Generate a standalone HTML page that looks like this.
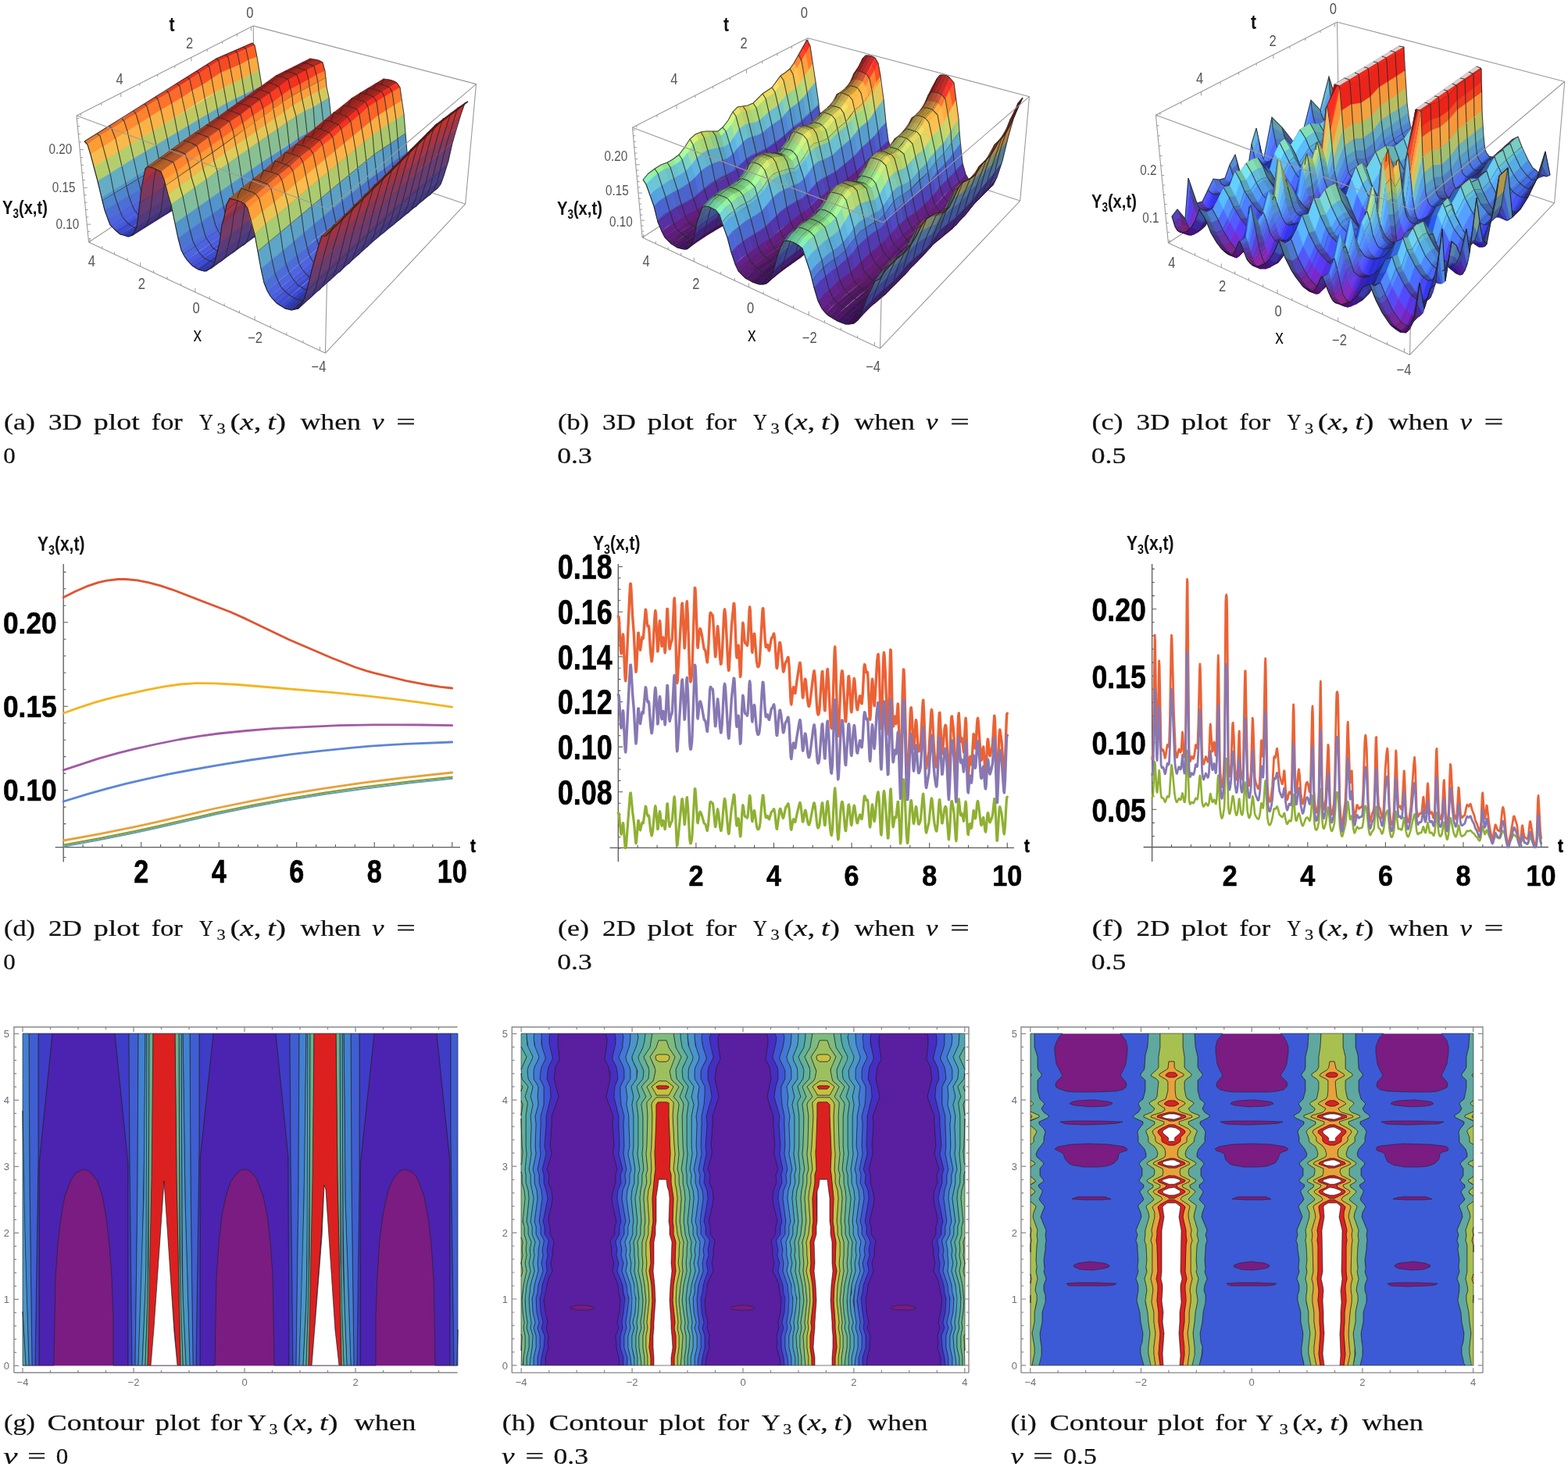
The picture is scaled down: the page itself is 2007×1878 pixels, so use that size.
<!DOCTYPE html>
<html><head><meta charset="utf-8"><title>Figure</title>
<style>html,body{margin:0;padding:0;background:#fff;} svg{display:block;}</style></head>
<body><svg xmlns="http://www.w3.org/2000/svg" width="2007" height="1878" viewBox="0 0 2007 1878">
<rect width="2007" height="1878" fill="#fff"/>
<rect x="29.0" y="1323.4" width="556.6" height="425.0" fill="#7a1c82"/>
<path d="M50,1748l19,0 1-58 1-54 3-43 4-34 5-28 7-18 3-6 4-5 5-3 5-2 6,2 4,3 4,5 4,6 6,18 5,28 4,34 3,43 2,54 0,58 19,0 0-258-17-167-80,0-17,167 0,258zM256,1748l19,0 1-58 1-54 3-43 4-37 5-24 6-19 5-7 4-5 4-3 6-1 4,1 5,4 5,6 2,5 7,19 5,24 4,34 3,43 1,54 1,61 19,0-1-266-16-159-80,0-17,161 0,264zM461,1748l20,0 0-61 2-54 3-45 4-32 5-24 3-11 4-9 3-5 4-5 5-4 5-1 5,2 4,2 5,5 3,7 7,19 5,27 4,34 3,43 1,51 1,61 19,0 0-261-17-164-80,0-18,170 0,255z" fill="#4c22b0" stroke="#222" stroke-opacity="0.75" stroke-width="0.9"/>
<path d="M46,1748l4,0 0-258 17-167-18,0 0,158-4,267zM166,1748l3,0-3-263-1-162-18,0 17,167 0,258zM252,1748l4,0 0-2 0-262 17-161-18,0 0,142-4,283zM371,1748l4,0-3-270-1-155-18,0 16,159 1,266zM457,1748l4,0 0-255 18-170-19,0 0,185-3,240zM577,1748l4,0-4-293 0-132-18,0 17,164 0,261z" fill="#3f3cc8" stroke="#222" stroke-opacity="0.75" stroke-width="0.9"/>
<path d="M42,1748l3,0 4-267 0-158-12,0 1,196 3,229zM170,1748l3,0 3-229 1-196-12,0 1,162 3,263zM248,1748l3,0 4-283 0-142-12,0 1,196 3,229zM375,1748l4,0 3-227 1-198-12,0 1,155 3,270zM453,1748l4,0 3-240 0-185-11,0 1,196 3,229zM581,1748l4,0 1-46 0-379-9,0 0,132 4,293z" fill="#3f5ed2" stroke="#222" stroke-opacity="0.75" stroke-width="0.9"/>
<path d="M37,1748l4,0-3-229-1-196-8,0 0,99 1,102 3,101 4,123zM174,1748l3,0 5-139 3-147 1-139-9,0-1,196-3,229zM244,1748l3,0-3-229-1-196-9,0 3,214 6,211zM379,1748l4,0 4-112 3-147 2-166-9,0-1,198-3,227zM449,1748l4,0-3-229-1-196-9,0 1,97 1,115 7,213zM586,1748l0-46-1,46z" fill="#4280d2" stroke="#222" stroke-opacity="0.75" stroke-width="0.9"/>
<path d="M33,1748l4,0-5-168-3-158 0,257 4,69zM178,1748l4,0 3-70 2-47 1-118 0-190-2,0-1,96-1,113-7,216zM240,1748l3,0-6-211-3-214-2,0 1,241 1,95 4,89zM383,1748l5,0 4-82 2-126 0-217-2,0-3,217-6,208zM445,1748l4,0-7-213-1-115-1-97-2,0 1,241 2,109 3,75z" fill="#4896c8" stroke="#222" stroke-opacity="0.75" stroke-width="0.9"/>
<path d="M30,1748l3,0-4-69 0,69zM182,1748l4,0 3-88 1-125 1-212-3,0-1,297-2,58-3,70zM234,1746l0,2 4,0-4-89-1-39-1-297-3,0 1,212 1,131 3,80zM389,1748l3,0 3-90 1-123 1-212-3,0-1,294-1,50-4,81zM441,1748l3,0-3-75-2-58-1-292-3,0 1,220 1,125 3,80z" fill="#50a5af" stroke="#222" stroke-opacity="0.75" stroke-width="0.9"/>
<path d="M187,1748l2,0 2-50 4-206 1-169-5,0-1,297-2,75-2,53zM231,1748l3,0-2-58-2-78-1-289-5,0 0,6 2,182 5,237zM393,1748l2,0 2-56 4-200 1-169-5,0-1,286-2,81-2,58zM438,1748l2,0-2-56-2-78-1-291-5,0 0,3 2,182 5,240z" fill="#64b291" stroke="#222" stroke-opacity="0.75" stroke-width="0.9"/>
<path d="M191,1748l2,0 4-40 13-196 4,71 10,128 3,37 4,0-5-240-2-185-28,0-2,185-5,240zM396,1748l3,0 3-37 9-126 4-68 2,6 4,68 9,125 4,32 3,0-5-240-2-185-28,0-2,185-5,240z" fill="#dc2020" stroke="#222" stroke-opacity="0.75" stroke-width="0.9"/>
<path d="M194,1748l33,0-4-42-7-105-6-89-13,188-4,48zM399,1748l35,0-5-45-12-180-2-6-3,66-9,115-4,50z" fill="#ffffff" stroke="#222" stroke-opacity="0.75" stroke-width="0.9"/>
<path d="M17.9,1757.3 V1314.7 H585.6 M17.9,1757.3 H585.6" stroke="#8a8a8a" stroke-width="1.4" fill="none"/>
<path d="M29.0,1757.3 v-6.2 M29.0,1314.7 v6.2 M64.5,1757.3 v-3.4 M64.5,1314.7 v3.4 M100.0,1757.3 v-3.4 M100.0,1314.7 v3.4 M135.5,1757.3 v-3.4 M135.5,1314.7 v3.4 M171.0,1757.3 v-6.2 M171.0,1314.7 v6.2 M206.5,1757.3 v-3.4 M206.5,1314.7 v3.4 M242.0,1757.3 v-3.4 M242.0,1314.7 v3.4 M277.5,1757.3 v-3.4 M277.5,1314.7 v3.4 M313.0,1757.3 v-6.2 M313.0,1314.7 v6.2 M348.5,1757.3 v-3.4 M348.5,1314.7 v3.4 M384.0,1757.3 v-3.4 M384.0,1314.7 v3.4 M419.5,1757.3 v-3.4 M419.5,1314.7 v3.4 M455.0,1757.3 v-6.2 M455.0,1314.7 v6.2 M490.5,1757.3 v-3.4 M490.5,1314.7 v3.4 M526.0,1757.3 v-3.4 M526.0,1314.7 v3.4 M561.5,1757.3 v-3.4 M561.5,1314.7 v3.4 M17.9,1748.4 h6.2 M17.9,1731.4 h3.2 M17.9,1714.4 h3.2 M17.9,1697.4 h3.2 M17.9,1680.4 h3.2 M17.9,1663.4 h6.2 M17.9,1646.4 h3.2 M17.9,1629.4 h3.2 M17.9,1612.4 h3.2 M17.9,1595.4 h3.2 M17.9,1578.4 h6.2 M17.9,1561.4 h3.2 M17.9,1544.4 h3.2 M17.9,1527.4 h3.2 M17.9,1510.4 h3.2 M17.9,1493.4 h6.2 M17.9,1476.4 h3.2 M17.9,1459.4 h3.2 M17.9,1442.4 h3.2 M17.9,1425.4 h3.2 M17.9,1408.4 h6.2 M17.9,1391.4 h3.2 M17.9,1374.4 h3.2 M17.9,1357.4 h3.2 M17.9,1340.4 h3.2 M17.9,1323.4 h6.2 " stroke="#8a8a8a" stroke-width="1.2" fill="none"/>
<text x="29.0" y="1774.3" font-size="13" text-anchor="middle" fill="#6e6e80" font-family="'Liberation Sans', sans-serif">&#8722;4</text>
<text x="171.0" y="1774.3" font-size="13" text-anchor="middle" fill="#6e6e80" font-family="'Liberation Sans', sans-serif">&#8722;2</text>
<text x="313.0" y="1774.3" font-size="13" text-anchor="middle" fill="#6e6e80" font-family="'Liberation Sans', sans-serif">0</text>
<text x="455.0" y="1774.3" font-size="13" text-anchor="middle" fill="#6e6e80" font-family="'Liberation Sans', sans-serif">2</text>
<text x="12.0" y="1753.0" font-size="13" text-anchor="end" fill="#6e6e80" font-family="'Liberation Sans', sans-serif">0</text>
<text x="12.0" y="1668.0" font-size="13" text-anchor="end" fill="#6e6e80" font-family="'Liberation Sans', sans-serif">1</text>
<text x="12.0" y="1583.0" font-size="13" text-anchor="end" fill="#6e6e80" font-family="'Liberation Sans', sans-serif">2</text>
<text x="12.0" y="1498.0" font-size="13" text-anchor="end" fill="#6e6e80" font-family="'Liberation Sans', sans-serif">3</text>
<text x="12.0" y="1413.0" font-size="13" text-anchor="end" fill="#6e6e80" font-family="'Liberation Sans', sans-serif">4</text>
<text x="12.0" y="1328.0" font-size="13" text-anchor="end" fill="#6e6e80" font-family="'Liberation Sans', sans-serif">5</text>
<rect x="667.2" y="1323.3" width="567.6" height="424.6" fill="#7a1c82"/>
<path d="M698,1748l95,0-1-10-3-13 0-5-1-10 4-10-2-7 3-13 1-18-2-7-1-10-3-8-4-10 2-10-3-10 0-10-2-7 1-3 5-7 0-10 2-6-1-5-4-17-1-8 2-10 3-10 0-10 2-7-5-20 0-5 1-5-2-28 1-10-9-25 5-23-2-15-5-10 3-20 0-8-2-5-60,0-1,5 0,8 2,20-5,10-2,15 6,23-9,25 0,10-2,28 1,5 1,5-6,20 3,7-1,10 4,10 1,10-1,8-4,17 0,5 2,6 0,10 4,7 1,3-2,10 0,7-2,10 2,10-5,10-2,8-2,10-2,7 2,18 3,13-2,7 3,10-1,10 1,5-4,13 0,10zM730,1675l1-2 9-2 10,0 10,2 1,2-8,2-13,0-9-2zM904,1748l95,0-1-10-4-13 1-5-1-10 3-10-1-7 3-13 1-18-2-7-1-10-3-8-5-10 2-10-2-10 0-9-2-8 1-3 5-7 0-10 2-6-1-5-4-17-1-8 1-10 4-10-1-10 3-7-5-20 0-5 1-5-2-28 0-10-8-25 5-23-2-15-5-10 3-20 0-8-2-5-60,0-2,5 0,8 3,20-5,10-2,15 5,23-8,25 0,10-2,28 1,5 0,5-5,20 3,7-1,10 4,10 1,10-1,8-4,17-1,5 2,6 0,10 5,7 1,3-2,8 0,9-2,10 2,10-5,10-3,8-1,10-2,7 1,18 3,13-1,7 3,10-1,10 1,5-4,13-1,10zM936,1675l1-2 9-2 10,0 9,2 1,2-7,2-13,0-9-1zM1110,1748l94,0 0-10-4-13 1-5-1-10 3-10-2-7 3-13 2-18-2-7-2-10-2-8-5-10 2-10-2-10 0-7-2-10 1-3 4-7 0-10 2-6 0-5-4-17-1-8 1-10 4-10-1-10 3-7-6-20 1-5 1-5-2-28 0-10-9-25 6-23-2-15-5-10 2-20 0-8-1-5-60,0-2,5 0,8 3,20-5,10-2,15 5,23-9,25 1,10-2,28 1,5 0,5-5,20 2,7 0,10 3,10 2,10-1,8-4,17-1,5 2,6 0,10 5,7 1,3-2,7 0,10-3,10 2,10-4,10-3,8-1,10-2,7 1,18 3,13-2,7 4,10-1,10 0,5-3,13-1,10zM1141,1675l1-2 7-2 13,0 9,2 1,2-7,2-13,0-9-1z" fill="#5a1ea0" stroke="#222" stroke-opacity="0.75" stroke-width="0.8"/>
<path d="M693,1748l5,0 0-10 4-13-1-5 1-10-3-10 2-7-3-13-2-15 3-13 1-7 2-8 5-10-2-10 2-10 0-7 2-10-1-3-4-7 0-10-2-6 0-5 4-17 1-8-1-10-4-10 1-10-3-7 6-20-1-5-1-5 2-28 0-10 9-25-6-23 2-15 5-10-2-20 0-8 1-5-11,0-1,5 0,10 4,15 0,3-5,10-1,5-1,10 4,10 1,13-6,25 0,10-2,28 2,10-5,20 2,7 0,10 3,10 2,10-6,30 2,6 0,10 5,7 0,3-2,10 1,7-2,10 1,10-6,18-1,10-2,7 1,18 3,13-2,7 4,10-1,15-3,13-1,10zM794,1748l4,0 0-10-4-13 0-15 3-10-1-7 2-13 2-15-3-13 0-7-7-18 2-10-3-10 1-7-2-10 1-3 4-7 0-10 2-6-5-30 1-10 4-10-1-10 3-7-5-20 1-10-1-28 0-10-6-25 1-13 4-10-1-10-1-5-5-10 0-3 4-17 0-8-1-5-12,0 2,5 0,8-3,20 5,10 2,8 0,7-5,23 9,25-1,10 2,28-1,5 0,5 5,20-2,7 0,10-3,10-2,10 1,8 4,17 1,5-2,6 0,10-5,7-1,3 2,7 0,10 3,10-2,10 4,10 3,8 1,10 2,7-1,18-3,13 2,7-4,10 1,10 0,5 3,13 1,10zM899,1748l4,0 1-10 4-13-1-5 1-10-3-10 1-7-3-13-1-15 3-13 0-7 3-8 5-10-2-10 2-10 0-9 2-8-1-3-5-7 0-10-2-6 1-5 4-17 1-8-1-10-4-10 1-10-3-7 5-20 0-5-1-5 2-28 0-10 8-25-5-23 2-15 5-10-3-20 0-8 2-5-11,0-2,5 1,10 4,15-1,3-5,10-1,5 0,10 3,10 2,13-7,25 1,10-2,28 1,10-4,20 2,7-1,10 4,10 1,10-5,30 2,6 0,10 5,7 0,3-2,10 1,7-3,10 2,10-6,18-1,10-2,7 1,18 3,13-2,7 3,10 0,15-3,13-1,10zM1000,1748l4,0-1-10-3-13 0-15 3-10-2-7 3-13 2-15-3-13-1-7-6-18 2-10-3-10 1-7-2-10 0-3 5-7 0-10 2-6-5-30 1-10 4-10-1-10 2-7-4-20 1-10-2-28 1-10-7-25 2-13 3-10 0-10-1-5-5-10-1-3 4-17 1-8-2-5-11,0 2,5 0,8-3,20 5,10 1,8 1,7-5,23 8,25 0,10 2,28-1,5 0,5 5,20-3,7 1,10-4,10-1,10 1,8 4,17 1,5-2,6 0,10-5,7-1,3 2,8 0,9 2,10-2,10 5,10 3,8 1,10 2,7-1,18-3,13 1,7-3,10 1,10-1,5 4,13 1,10zM1106,1748l3,0 1-10 3-13 0-5 1-10-4-10 2-7-3-13-1-18 2-7 1-10 3-8 4-10-2-10 3-10 0-10 2-7-1-3-5-7 0-10-2-6 1-5 4-17 1-8-2-10-3-10 0-10-2-7 5-20 0-5-1-5 2-28-1-10 9-25-5-23 2-15 5-10-3-20 0-8 2-5-12,0-1,5 1,10 3,15 0,3-5,10-1,5-1,10 4,10 1,13-6,25 0,10-1,28 1,10-5,20 3,7-1,10 4,10 1,10-5,30 2,6 0,10 4,7 1,3-2,10 1,7-3,10 2,10-7,18-1,10-2,7 2,18 2,13-1,7 3,10 0,15-4,13 0,10zM1206,1748l4,0-1-10-3-13-1-15 4-10-2-7 3-13 1-15-2-13-1-7-6-18 1-10-2-10 1-7-2-10 0-3 5-7 0-10 2-6-6-30 2-10 3-10 0-10 2-7-5-20 2-10-2-28 0-10-6-25 1-13 4-10-1-10-1-5-5-10 0-3 4-17 0-8-1-5-11,0 1,5 0,8-2,20 5,10 1,8 1,7-6,23 9,25 0,10 2,28-1,5-1,5 6,20-3,7 1,10-4,10-1,10 1,8 4,17 0,5-2,6 0,10-4,7-1,3 2,10 0,7 2,10-2,10 5,10 2,8 2,10 2,7-2,18-3,13 2,7-3,10 1,10-1,5 4,13 0,10z" fill="#462dc3" stroke="#222" stroke-opacity="0.75" stroke-width="0.8"/>
<path d="M689,1748l3,0 1-10 3-13 1-15-4-10 2-7-3-13-1-18 2-7 1-10 6-18-1-10 2-10-1-7 2-10 0-3-5-7 0-10-2-6 6-30-2-10-3-10 0-10-2-7 5-20-2-10 2-28 0-10 6-25-1-13-4-10 1-10 1-5 5-10 0-3-4-17 0-8 1-5-11,0 0,5 1,13 4,12 0,3-5,10-1,5-1,10 5,10 0,10 0,13-4,15 0,10-1,28 1,10-4,20 2,7 0,10 3,10 1,10-4,30 2,6 0,10 4,7 0,3-2,10 1,7-2,10 2,10-6,18-1,10-2,7 1,18 3,13-2,7 3,10 0,15-3,13 0,10zM799,1748l4,0 0-10-4-13 0-15 3-10-1-7 2-13 2-15-3-20-6-18 2-10-3-10 1-7-2-10 1-3 4-7 0-10 2-6-5-30 1-10 4-10-1-10 2-7-4-20 1-10-1-28 1-10-4-15-1-13 0-10 5-10 0-10-1-5-5-10-1-3 5-12 0-5 1-8-1-5-10,0 1,5 0,8-4,17 0,3 5,10 1,5 1,10-4,10-1,13 6,25 0,10 1,28-1,10 5,20-3,7 1,10-4,10-1,10 5,30-2,6 0,10-4,7-1,3 2,10-1,7 3,10-2,10 7,18 1,10 2,7-2,18-2,13 1,7-3,10 0,15 4,13 0,10zM895,1748l3,0 1-10 3-13 0-15-3-10 2-7-3-13-1-18 2-7 1-10 6-18-2-10 3-10-1-7 2-10 0-3-5-7 0-10-2-6 5-30-1-10-4-10 1-10-2-7 4-20-1-10 2-28-1-10 7-25-2-13-3-10 0-10 1-5 5-10 1-3-4-17-1-8 2-5-11,0-1,5 2,13 4,12 0,3-5,10-2,5 0,10 5,10 0,10-1,13-3,15 0,10-1,28 1,10-4,20 2,7-1,10 4,10 1,10-4,30 1,6 0,10 5,7 0,3-2,10 1,7-2,10 1,10-6,18-1,10-1,7 1,18 2,13-1,7 3,10 0,15-3,13-1,10zM1005,1748l4,0-1-10-3-13 0-15 3-10-1-7 2-13 2-15-3-20-6-18 1-10-2-10 1-7-2-10 0-3 5-7 0-10 1-6-4-30 1-10 4-10-1-10 2-7-4-20 1-10-1-28 0-10-3-15-1-13 0-10 5-10 0-10-2-5-5-10 0-3 4-12 1-5 1-8-1-5-11,0 2,5-1,8-4,17 1,3 5,10 1,5 0,10-3,10-2,13 7,25-1,10 2,28-1,10 4,20-2,7 1,10-4,10-1,10 5,30-2,6 0,10-5,7 0,3 2,10-1,7 3,10-2,10 6,18 1,10 2,7-1,18-3,13 2,7-3,10 0,15 3,13 1,10zM1101,1748l3,0 0-10 4-13 0-15-3-10 1-7-2-13-2-18 2-7 1-10 7-18-2-10 3-10-1-7 2-10-1-3-4-7 0-10-2-6 5-30-1-10-4-10 1-10-3-7 5-20-1-10 1-28 0-10 6-25-1-13-4-10 1-10 1-5 5-10 0-3-4-17 0-8 1-5-10,0-1,5 1,13 5,12-1,3-5,10-1,5 0,10 5,10 0,10-1,13-4,15 1,10-1,28 1,10-4,20 2,7-1,10 4,10 1,10-5,30 2,6 0,10 4,7 1,3-2,10 1,7-3,10 2,10-6,18-1,10-2,7 2,18 2,13-1,7 3,10 0,15-4,13 0,10zM1211,1748l3,0 0-10-3-13 0-15 3-10-2-7 3-13 1-15-3-20-6-18 2-10-2-10 1-7-2-10 0-3 4-7 0-10 2-6-4-30 1-10 3-10 0-10 2-7-4-20 1-10-1-28 0-10-4-15 0-13 0-10 5-10-1-10-1-5-5-10 0-3 4-12 1-5 0-8 0-5-11,0 1,5 0,8-4,17 0,3 5,10 1,5 1,10-4,10-1,13 6,25 0,10 2,28-2,10 5,20-2,7 0,10-3,10-2,10 6,30-2,6 0,10-5,7 0,3 2,10-1,7 2,10-1,10 6,18 1,10 2,7-1,18-3,13 2,7-4,10 1,15 3,13 1,10z" fill="#3f55d6" stroke="#222" stroke-opacity="0.75" stroke-width="0.8"/>
<path d="M685,1748l3,0 0-10 3-13 0-15-3-10 2-7-3-13-1-18 2-7 1-10 6-18-2-10 2-10-1-7 2-10 0-3-4-7 0-10-2-6 4-30-1-10-3-10 0-10-2-7 4-20-1-10 1-28 0-10 4-15 0-13 0-10-5-10 1-10 1-5 5-10 0-3-4-12-1-5 0-8 0-5-9,0-1,5 2,13 5,12-2,5-4,8-1,5 0,10 6,10-1,13 1,10-4,15 1,10-1,28 1,10-4,20 2,7 0,10 3,10 1,10-4,30 2,6 0,10 5,10-2,10 0,7-1,10 1,10-5,18-1,10-2,7 1,18 3,13-2,7 3,10 0,15-3,13 0,10zM803,1748l5,0-1-10-3-13 0-15 3-10-1-7 2-13 2-15-3-20-6-18 2-10-2-10 1-7-2-10 4-10 0-10 2-6-4-30 1-10 3-10 0-10 2-7-4-20 2-10-1-28 0-10-3-15 1-10-2-13 6-10 0-10-1-5-4-8-1-5 5-15 1-10 0-5-10,0 1,5-1,8 0,5-5,12 1,3 5,10 1,5 0,10-5,10 0,10 1,13 4,15-1,10 1,28-1,10 4,20-2,7 1,10-4,10-1,10 5,30-2,6 0,10-4,7-1,3 2,10-1,7 3,10-2,10 6,18 1,10 2,7-2,18-2,13 1,7-3,10 0,15 4,13 0,10zM891,1748l2,0 1-10 3-13 0-15-3-10 1-7-2-13-1-18 1-7 1-10 6-18-1-10 2-10-1-7 2-10 0-3-5-7 0-10-1-6 4-30-1-10-4-10 1-10-2-7 4-20-1-10 1-28 0-10 3-15 1-13 0-10-5-10 0-10 2-5 5-10 0-3-4-12-1-5-1-8 1-5-10,0 0,5 2,13 4,12-1,5-4,8-1,5 0,10 6,10-2,13 1,10-3,15 1,10-1,28 1,10-4,20 2,7 0,10 3,10 1,10-4,30 2,6 0,10 4,10-1,10 0,7-2,10 2,10-6,18 0,10-2,7 1,18 3,13-2,7 3,10 0,15-3,13 0,10zM1009,1748l4,0 0-10-3-13 0-15 3-10-2-7 3-13 1-15-2-20-6-18 2-10-2-10 0-7-1-10 4-10 0-10 2-6-4-30 1-10 3-10 0-10 2-7-4-20 1-10-1-28 1-10-3-15 1-10-2-13 6-10 0-10-1-5-4-8-1-5 5-15 1-10 0-5-10,0 1,5-1,8-1,5-4,12 0,3 5,10 2,5 0,10-5,10 0,10 1,13 3,15 0,10 1,28-1,10 4,20-2,7 1,10-4,10-1,10 4,30-1,6 0,10-5,7 0,3 2,10-1,7 2,10-1,10 6,18 1,10 1,7-1,18-2,13 1,7-3,10 0,15 3,13 1,10zM1095,1748l4,0 0-10 4-13 0-15-3-10 1-7-2-13-2-15 3-20 6-18-2-10 3-10-1-7 2-10-1-3-4-7 0-10-2-6 5-30-1-10-4-10 1-10-2-7 4-20-1-10 1-28-1-10 4-15 1-13 0-10-5-10 0-10 1-5 5-10 1-3-5-12 0-5-1-8 1-5-10,0 0,5 1,13 5,12-1,5-4,8-1,5 0,10 6,10-2,13 1,10-3,15 0,10-1,28 2,10-4,20 2,7 0,10 3,10 1,10-4,30 2,6 0,10 4,10-2,10 1,7-2,10 2,10-6,18-1,10-1,7 1,18 2,13-1,7 3,10 0,15-3,13-1,10zM1215,1748l4,0 0-10-3-13 0-15 3-10-2-7 3-13 1-15-3-20-5-18 1-10-1-10 0-7-2-10 5-10 0-10 2-6-4-30 1-10 3-10 0-10 2-7-4-20 1-10-1-28 1-10-4-15 1-10-1-13 6-10 0-10-1-5-4-8-2-5 6-15 1-10-1-5-9,0 0,5 0,8-1,5-4,12 0,3 5,10 1,5 1,10-5,10 0,10 0,13 4,15 0,10 1,28-1,10 4,20-2,7 0,10-3,10-1,10 4,30-2,6 0,10-4,7 0,3 2,10-1,7 2,10-2,10 6,18 1,10 2,7-1,18-3,13 2,7-3,10 0,15 3,13 0,10z" fill="#4278d7" stroke="#222" stroke-opacity="0.75" stroke-width="0.8"/>
<path d="M680,1748l3,0 0-10 3-13 0-15-3-10 2-7-3-13-1-18 2-7 1-10 5-18-1-10 1-10 0-7 2-10-5-10 0-10-2-6 4-30-1-10-3-10 0-10-2-7 4-20-1-10 1-28-1-10 4-15-1-10 1-13-6-10 0-10 1-5 4-8 2-5-6-15-1-10 1-5-10,0 0,3 2,15 6,12-2,5-4,8-1,5 1,10 6,10-3,13 3,10-3,15 1,12-1,26 1,10-3,20 2,7 0,10 2,10 2,10-4,30 2,6 0,10 4,10-2,10 1,7-2,10 2,10-5,18-1,10-1,7 1,18 2,13-1,7 3,10-1,15-2,13-1,10zM810,1748l2,0 0-8-3-15 0-15 3-10-2-7 3-13 1-15-2-20-5-18 1-10-2-10 1-7-1-10 4-10 0-10 1-6-3-30 1-10 3-10 0-10 1-7-3-20 1-10 0-26 0-12-2-15 2-10-3-13 7-10 0-12-6-13 0-3 6-15 2-10-1-5-9,0 0,5-1,10-5,15 1,5 4,8 1,5 0,10-6,10 2,13-1,10 3,15 0,10 1,28-2,10 4,20-2,7 0,10-3,10-1,10 4,30-2,6 0,10-4,10 2,10-1,7 2,10-2,10 6,18 1,10 1,7-1,18-2,13 1,7-3,10 0,15 3,13 1,10zM886,1748l3,0 0-10 3-13 0-15-3-10 2-7-3-13-1-18 2-7 0-10 6-18-2-10 2-10 0-7 1-10-4-10 0-10-2-6 4-30-1-10-3-10 0-10-2-7 4-20-1-10 1-28-1-10 3-15-1-10 2-13-6-10 0-10 1-5 4-8 1-5-5-15-1-10 0-5-9,0 0,3 2,15 5,12-1,5-4,8-1,5 0,10 7,10-3,13 3,10-3,15 0,12 0,26 1,10-3,20 2,7-1,10 3,10 1,10-3,30 2,6 0,10 4,10-2,10 1,7-2,10 2,10-5,18-1,10-2,7 2,18 2,13-1,7 2,10 0,15-3,13 0,10zM1013,1748l5,0 0-10-3-13 0-15 2-10-1-7 2-13 2-15-3-20-5-18 2-10-2-10 1-7-2-10 4-10 0-10 2-6-3-30 1-10 3-10-1-10 2-7-3-20 1-10 0-26 0-12-3-15 3-10-3-13 7-10 0-10-1-5-4-8-1-5 6-15 1-10 0-5-9,0 0,5-1,10-5,15 1,5 4,8 1,5 0,10-6,10 2,13-1,10 3,15-1,10 1,28-1,10 4,20-2,7 0,10-3,10-1,10 4,30-2,6 0,10-4,10 1,10 0,7 2,10-2,10 6,18 0,10 2,7-1,18-3,13 2,7-3,10 0,15 3,13 0,10zM1090,1748l4,0 1-10 3-13 0-15-3-10 1-7-2-13-2-15 3-20 6-18-2-10 2-10-1-7 2-10-4-10 0-10-2-6 4-30-1-10-3-10 0-10-2-7 4-20-2-10 1-28 0-10 3-15-1-10 2-13-6-10 0-10 1-5 4-8 1-5-5-15-1-10 0-5-9,0-1,3 2,15 6,12-1,5-4,8-2,5 1,10 7,10-3,13 2,10-2,15 0,12 0,26 1,10-3,20 1,7 0,10 3,10 1,10-3,30 1,6 0,10 4,10-1,10 1,7-2,10 1,10-5,18 0,10-2,7 1,18 3,13-2,7 3,10 0,15-3,13 0,10zM1219,1748l5,0-1-10-2-13-1-15 3-10-1-7 2-13 2-15-3-20-5-18 2-10-2-10 1-7-2-10 4-10 0-10 2-6-4-30 2-10 2-10 0-10 2-7-3-20 1-10-1-26 1-12-3-15 3-10-3-13 6-10 1-10-1-5-4-8-2-5 7-15 1-10 0-5-10,0 1,5-1,10-6,15 2,5 4,8 1,5 0,10-6,10 1,13-1,10 4,15-1,10 1,28-1,10 4,20-2,7 0,10-3,10-1,10 4,30-2,6 0,10-5,10 2,10 0,7 1,10-1,10 5,18 1,10 2,7-1,18-3,13 2,7-3,10 0,15 3,13 0,10z" fill="#4a96cd" stroke="#222" stroke-opacity="0.75" stroke-width="0.8"/>
<path d="M676,1748l2,0 1-10 2-13 1-15-3-10 1-7-2-13-1-18 1-7 1-10 5-18-2-10 2-10-1-7 2-10-4-10 0-10-2-6 4-30-2-10-2-10 0-10-2-7 3-20-1-10 1-26-1-12 3-15-3-10 3-13-6-10-1-10 1-5 4-8 2-5-7-15-1-10 0-5-7,0 0,17 7,13-7,16 1,12 8,10-4,13 3,7 0,3-2,15 0,38 1,10-2,20 1,7 0,10 3,10 1,10-3,30 2,6 0,10 4,10-2,10 1,7-2,10 2,10-5,18-2,17 1,18 2,13-1,7 3,10 0,15-3,13 0,10zM814,1748l2,0 0-10-2-13 0-15 2-10-1-7 2-13 1-15-2-20-4-18 1-10-1-10 0-7-1-10 4-10 0-10 1-6-3-30 2-10 2-10 0-10 2-7-3-20 1-10 0-26 0-12-2-15 0-3 4-7-4-13 8-10 1-10-1-2-6-16 6-12 2-8 1-10-10,0 1,5-2,10-6,15 1,5 4,8 2,5-1,10-7,10 3,13-2,10 2,15 0,12 0,26-1,10 3,20-1,7 0,10-3,10-1,10 3,30-1,6 0,10-4,10 1,10-1,7 2,10-1,10 5,18 0,10 2,7-1,18-3,13 2,7-3,10 0,15 3,13 0,10zM882,1748l2,0 0-10 3-13 0-15-2-10 1-7-2-13-2-18 2-7 1-10 5-18-2-10 2-10-1-7 2-10-4-10 0-10-2-6 3-30-1-10-3-10 1-10-2-7 3-20-1-10 0-26 0-12 3-15-3-10 3-13-7-10 0-10 1-5 4-8 1-5-6-15-1-10 0-5-9,0 0,5 2,13 7,12-7,16 0,2 1,10 7,10-4,13 4,7 0,3-2,15 0,38 1,10-2,20 1,7 0,10 3,10 1,10-3,30 1,6 1,10 3,10-1,10 1,7-2,10 1,10-4,18-2,17 1,18 2,13-1,7 3,10-1,15-2,13 0,10zM1018,1748l4,0 0-10-2-13-1-15 3-10-1-7 2-13 1-15-2-20-4-18 1-10-2-10 1-7-1-10 3-10 1-10 1-6-3-30 1-10 3-10 0-10 1-7-2-20 1-10 0-38-2-15 0-3 4-7-4-13 7-10 1-10 0-2-7-16 7-12 2-13 0-5-9,0 0,5-1,10-6,15 1,5 4,8 1,5 0,10-7,10 3,13-3,10 3,15 0,12 0,26-1,10 3,20-2,7 1,10-3,10-1,10 3,30-2,6 0,10-4,10 2,10-1,7 2,10-2,10 5,18 1,10 2,7-2,18-2,13 1,7-2,10 0,15 3,13 0,10zM1086,1748l4,0 0-10 3-13 0-15-3-10 2-7-3-13-1-15 2-20 5-18-1-10 2-10-1-7 1-10-4-10 0-10-1-6 3-30-1-10-3-10 0-10-1-7 3-20-1-10 0-26 0-12 2-15-2-10 3-13-7-10-1-10 2-5 4-8 1-5-6-15-2-10 1-5-10,0 1,10 2,8 6,12-6,16-1,2 1,10 8,10-4,13 4,7 0,3-2,15 0,12 0,26 1,10-3,20 2,7 0,10 2,10 2,10-3,30 1,6 0,10 4,10-1,10 0,7-1,10 1,10-4,18-2,17 1,18 2,13-1,7 2,10 0,15-2,13 0,10zM1224,1748l4,0 0-10-3-13 0-15 3-10-1-7 2-13 1-15-2-20-5-18 2-10-2-10 1-7-2-10 4-10 0-10 2-6-3-30 1-10 3-10 0-10 1-7-2-20 1-10 0-38-2-15 0-3 3-7-4-13 8-10 1-12-7-16 7-13 0-17-7,0 0,5-1,10-7,15 2,5 4,8 1,5-1,10-6,10 3,13-3,10 3,15-1,12 1,26-1,10 3,20-2,7 0,10-2,10-2,10 4,30-2,6 0,10-4,10 2,10-1,7 2,10-2,10 5,18 1,10 1,7-1,18-2,13 1,7-3,10 1,15 2,13 1,10z" fill="#50a6b0" stroke="#222" stroke-opacity="0.75" stroke-width="0.8"/>
<path d="M672,1748l2,0 0-10 3-13 0-15-3-10 1-7-2-13-1-15 2-20 5-18-2-10 2-10-1-7 2-10-4-10 0-10-2-6 3-30-1-10-3-10 0-10-1-7 2-20-1-10 0-38 2-15 0-3-3-7 4-13-8-10-1-7 0,15 2,2-2,6 0,12 2,5-2,14 1,39 1,7-2,17 0,9 1,4 0,10 3,10 1,10-3,28 2,10 0,8 3,10-1,10 1,7-2,10 2,10-4,18-2,20 1,15 2,13-1,7 2,10 0,15-2,13 0,10zM818,1748l3,0-1-10-2-13 0-15 3-10-1-7 2-13 1-15-2-20-4-18 1-10-1-10 0-7-1-10 4-10 0-10 1-6-2-30 1-10 2-10 0-10 2-7-2-20 1-10 0-38-2-15 1-3 5-7-6-13 9-10 1-10 0-2-7-16 8-12 3-18-9,0-1,10-2,8-6,12 1,5 4,8 2,5-1,10-8,10 4,13-4,7 0,3 2,15 0,12 0,26-1,10 3,20-2,7 0,10-2,10-2,10 3,30-1,6 0,10-4,10 1,10 0,7 1,10-1,10 4,18 2,17-1,18-2,13 1,7-2,10 0,15 2,13 0,10zM878,1748l2,0 0-10 2-13 1-15-3-10 1-7-2-13-1-18 2-17 4-18-1-10 2-10-1-7 1-10-3-10-1-10-1-6 3-30-1-10-3-10 0-10-1-7 2-20-1-10 0-38 2-15 0-3-4-7 4-13-7-10-1-10 1-5 4-8 2-5-7-12-2-13 0-5-9,0 3,18 7,12-7,16 0,2 1,10 9,10-5,13 4,7 1,3-2,15 1,38 1,10-3,20 2,7 0,10 2,10 1,10-2,30 1,6 1,10 3,10-1,10 0,7-1,10 1,10-4,18-2,20 2,15 2,13-1,7 2,10 0,15-2,13 0,10zM1022,1748l4,0 0-10-2-13 0-15 2-10-1-7 2-13 2-15-2-20-4-18 1-10-1-10 0-7-1-10 3-10 1-10 1-6-2-30 1-10 2-10 0-10 2-7-3-20 1-10 1-38-2-15 1-3 4-7-5-13 9-10 1-10 0-2-7-16 7-12 3-18-9,0 0,5-2,13-7,12 2,5 4,8 1,5-1,10-7,10 4,13-4,7 0,3 2,15 0,38-1,10 2,20-1,7 0,10-3,10-1,10 3,30-1,6-1,10-3,10 1,10-1,7 2,10-1,10 4,18 2,17-1,18-2,13 1,7-3,10 1,15 2,13 0,10zM1081,1748l5,0 0-10 2-13 0-15-2-10 1-7-2-13-1-15 2-20 4-18-1-10 1-10 0-7 1-10-4-10 0-10-1-6 3-30-2-10-2-10 0-10-2-7 3-20-1-10 0-26 0-12 2-15 0-3-4-7 4-13-8-10-1-10 2-5 4-8 1-5-6-12-2-8-1-10-9,0 3,18 8,12-7,16 0,2 1,10 9,10-6,13 5,7 1,3-2,15 0,38 1,10-2,20 2,7 0,10 2,10 1,10-2,30 1,6 0,10 4,10-1,10 0,7-1,10 1,10-4,18-2,20 1,15 2,13-1,7 3,10 0,15-2,13-1,10zM1228,1748l4,0 0-10-2-13 0-15 2-10-1-7 2-13 1-15-2-20-4-18 2-10-2-10 1-7-1-10 3-10 0-8 2-10-3-28 1-10 3-10 0-10 1-4 0-9-2-17 1-7 1-39-2-14 2-5 0-12-2-6 2-2 0-15-1,7-8,10 4,13-3,7 0,3 2,15 0,38-1,10 2,20-1,7 0,10-3,10-1,10 3,30-2,6 0,10-4,10 2,10-1,7 2,10-2,10 5,18 2,17-1,18-2,13 1,7-3,10 0,15 3,13 0,10zM667,1369l7-16-7-13 0,29zM1235,1369l0-29-7,13 7,16z" fill="#62b29a" stroke="#222" stroke-opacity="0.75" stroke-width="0.8"/>
<path d="M669,1748l1-10 2-13 0-15-2-10 1-7-2-13-1-18 2-17 4-18-2-10 2-10-1-7 1-10-3-10 0-10-2-6 3-30-1-10-3-10 0-10-1-4 0,84 2,6-1,10 1,7-2,10 2,10-2,7 0,74 1,2-1,38zM823,1748l2,0 0-10-2-13 0-15 2-10-1-7 3-28-2-20-3-18 1-10-1-10 0-7 0-10 3-10 0-10 1-6-2-30 1-10 3-10-1-10 2-7-2-20 1-10 1-38-1-15 0-3 6-7-6-13 8-7 1-3 2-10 0-2-7-16 8-12 3-9 10,0 3,9 8,12-5,13-2,5 2,10 2,3 8,7-7,13 6,7 1,3-2,15 1,38 1,10-2,20 2,7 0,10 2,10 1,10-2,30 1,6 1,10 3,10-1,10 0,7-1,10 1,10-3,18-2,20 3,28-1,7 3,10-1,15-1,13-1,10 5,0 0-10 2-13 0-15-2-10 1-7-2-13-2-15 2-20 4-18-1-10 1-10 0-7 1-10-3-10-1-10-1-6 2-30-1-10-2-10 0-10-2-7 3-20-1-10-1-38 2-15-1-3-4-7 5-13-9-10-1-10 0-2 7-16-7-12-3-18-27,0-3,18-8,12 6,13 1,5-1,10-9,10 6,13-5,7-1,3 2,15 0,38-1,10 2,20-2,7 0,10-2,10-1,10 2,30-1,6 0,10-4,10 1,10 0,7 1,10-1,10 4,18 2,20-1,15-2,13 1,7-3,10 0,15 2,13 1,10zM1027,1748l4,0-1-10-1-13-1-15 3-10-1-7 3-28-2-20-3-18 1-10-1-10 0-7-1-10 3-10 1-10 1-6-2-30 1-10 2-10 0-10 2-7-2-20 1-10 1-38-2-15 1-3 6-7-7-13 8-7 2-3 2-10-1-2-6-16 8-12 3-9 10,0 3,9 8,12-6,13-1,5 2,10 1,3 8,7-6,13 6,7 0,3-1,15 1,38 1,10-2,20 2,7-1,10 3,10 1,10-2,30 1,6 0,10 3,10 0,10 0,7-1,10 1,10-3,18-2,20 3,28-1,7 2,10 0,15-2,13 0,10 4,0 1-10 2-13 0-15-3-10 1-7-2-13-1-15 2-20 4-18-1-10 1-10 0-7 1-10-4-10 0-10-1-6 2-30-1-10-2-10 0-10-2-7 2-20-1-10 0-38 2-15-1-3-5-7 6-13-9-10-1-10 0-2 7-16-8-12-3-18-27,0-3,18-7,12 6,13 1,5-1,10-9,10 5,13-4,7-1,3 2,15-1,38-1,10 3,20-2,7 0,10-2,10-1,10 2,30-1,6-1,10-3,10 1,10 0,7 1,10-1,10 4,18 2,20-2,15-2,13 1,7-2,10 0,15 2,13 0,10zM1233,1748l2,0-1-38 1-2 0-74-2-7 2-10-2-10 1-7-1-10 2-6 0-84-1,4 0,10-3,10-1,10 3,30-2,6 0,10-3,10 1,10-1,7 2,10-2,10 4,18 2,20-1,15-2,13 1,7-2,10 0,15 2,13 0,10zM668,1489l1-15-1-7-1-35 0,59zM1235,1491l0-59-1,35-1,7 1,15zM667,1426l2-12-2-5 0,19zM1235,1428l0-19-2,5 2,12zM667,1396l2-5-2-2 0,8zM1235,1397l0-8-2,2 2,5z" fill="#7dbb80" stroke="#222" stroke-opacity="0.75" stroke-width="0.8"/>
<path d="M825,1748l4,0 0-10-2-13 0-15 2-10-1-7 3-28-1-20-3-18 1-10-1-10 0-7 0-10 3-10 0-10 1-6-2-30 1-10 3-10 0-10 1-7-1-20 1-10 1-38-1-15 1-3 5-6 16,0 6,6 0,3-1,15 2,38 1,10-2,20 2,7 0,10 2,10 1,10-2,30 1,6 1,10 3,10-1,10 0,7-1,10 2,10-4,18-1,20 3,28-1,7 2,10 0,15-2,13 0,10 4,0 1-10 1-13 1-15-3-10 1-7-3-28 2-20 3-18-1-10 1-10 0-7 1-10-3-10-1-10-1-6 2-30-1-10-2-10 0-10-2-7 2-20-1-10-1-38 2-15-1-3-6-7 7-13-8-7-2-3-2-10 1-2 6-16-8-12-3-9-10,0-3,9-8,12 6,13 1,5-2,10-1,3-8,7 6,13-6,7 0,3 1,15-1,38-1,10 2,20-2,7 1,10-3,10-1,10 2,30-1,6 0,10-3,10 0,10 0,7 1,10-1,10 3,18 2,20-3,28 1,7-2,10 0,15 2,13 0,10zM840,1401l-6-10 9-7 10,0 9,7-6,11-16,0zM842,1358l-2-1-1-4 1-2 3-1 10,0 3,1 1,2-1,4-3,2-10,0zM1031,1748l4,0 0-10-2-13 0-15 2-10-1-7 3-28-1-20-4-18 2-10-1-10 0-7-1-10 3-10 1-10 1-6-2-30 1-10 2-10 0-10 2-7-2-20 1-10 2-38-1-15 0-3 6-6 16,0 5,6 1,3-1,15 1,38 1,10-1,20 1,7 0,10 3,10 1,10-2,30 1,6 0,10 3,10 0,10 0,7-1,10 1,10-3,18-1,20 3,28-1,7 2,10 0,15-2,13 0,10 4,0 0-10 2-13 0-15-2-10 1-7-3-28 2-20 3-18-1-10 1-10 0-7 0-10-3-10 0-10-1-6 2-30-1-10-3-10 1-10-2-7 2-20-1-10-1-38 1-15 0-3-6-7 6-13-8-7-1-3-2-10 0-2 7-16-8-12-3-9-10,0-3,9-8,12 5,13 2,5-2,10-2,3-8,7 7,13-6,7-1,3 2,15-1,38-1,10 2,20-2,7 0,10-2,10-1,10 2,30-1,6-1,10-3,10 1,10 0,7 1,10-1,10 3,18 2,20-3,28 1,7-3,10 1,15 1,13 1,10zM1046,1401l-6-10 9-7 10,0 9,7-6,11-16,0zM1048,1358l-2-1-1-4 1-2 3-1 10,0 2,1 2,2-1,4-3,2-10,0zM667,1728l1-18-1-2 0,21zM1235,1729l0-21-1,2 1,18zM668,1632l1-5-2-10 2-10-1-7 1-10-2-6 0,50zM1235,1634l0-50-2,6 1,10-1,7 2,10-2,10 1,5z" fill="#9cc060" stroke="#222" stroke-opacity="0.75" stroke-width="0.8"/>
<path d="M829,1748l4,0 0-10-2-13 1-15 1-10 0-7 2-28-1-20-3-18 2-10-1-27 2-10 1-10 1-6-1-30 2-20 1-10 1-7-1-23 1-7 1-38 0-15 2-3 11,0 3,1 0,2 0,15 2,48-1,20 2,7 0,10 3,20-1,30 1,6 0,10 3,10-1,27 1,10-3,18-1,20 3,28-1,7 2,10 0,15-2,13 0,10 4,0 0-10 2-13 0-15-2-10 1-7-3-28 1-20 4-18-2-10 1-10 0-7 1-10-3-10-1-10-1-6 2-30-1-10-2-10 0-10-2-7 2-20-1-10-2-38 1-15 0-3-6-6-3,0-13,0-5,6-1,3 1,15-1,38-1,10 1,20-1,7 0,10-3,10-1,10 2,30-1,6 0,10-3,10 0,10 0,7 1,10-1,10 3,18 1,20-3,28 1,7-2,10 0,15 2,13 0,10zM1035,1748l4,0 0-10-2-13 0-15 2-10-1-7 3-28-1-20-3-18 1-10-1-27 3-10 0-10 1-6-1-30 3-20 0-10 2-7-1-23 1-7 1-38 0-15 1-3 12,0 3,3 0,15 2,48-1,20 1,7 1,10 2,20-1,30 1,6 1,10 2,10-1,27 2,10-3,18-1,20 2,28 0,7 1,10 1,15-2,13 0,10 4,0 0-10 2-13 0-15-2-10 1-7-3-28 1-20 3-18-1-10 1-10 0-7 0-10-3-10 0-10-1-6 2-30-1-10-3-10 0-10-1-7 1-20-1-10-1-38 1-15-1-3-5-6-3,0-13,0-6,6 0,3 1,15-2,38-1,10 2,20-2,7 0,10-2,10-1,10 2,30-1,6-1,10-3,10 1,10 0,7 1,10-2,10 4,18 1,20-3,28 1,7-2,10 0,15 2,13 0,10zM840,1402l16,0 6-11-9-7-10,0-9,7 6,10zM842,1394l-2-3 3-1 10,0 3,1 0,1-3,2-10,0zM1046,1402l16,0 6-11-9-7-10,0-9,7 6,10zM1048,1394l-2-3 3-1 10,0 3,1-3,3-10,0zM843,1359l10,0 3-2 1-4-1-2-3-1-10,0-3,1-1,2 1,4 2,1zM1049,1359l10,0 3-2 1-4-2-2-2-1-10,0-3,1-1,2 1,4 2,1z" fill="#c8c040" stroke="#222" stroke-opacity="0.75" stroke-width="0.8"/>
<path d="M834,1748l3,0 0-10-1-13 0-15 1-10 0-7 2-28-1-20-2-18 1-10 0-27 2-10 0-10 1-6 0-30 2-15 1-9 10,0 1,9 2,6 0,7 0,32 1,6 0,10 3,10-1,27 1,10-2,18-1,20 2,28 0,7 1,10 1,15-2,13 0,10 4,0 0-10 2-13 0-15-2-10 1-7-3-28 1-20 3-18-1-10 1-27-3-10 0-10-1-6 1-30-3-20 0-10-2-7 1-20-2-48 0-15 0-2-3-1-10,0-3,3 0,15-2,48 1,20-1,7-1,10-2,20 1,30-1,6-1,10-2,10 1,27-2,10 3,18 1,20-2,28 0,7-1,10-1,15 2,13 0,10zM1040,1748l3,0 0-10-2-13 1-15 1-10 0-7 2-28-1-20-2-18 1-10-1-27 3-10 0-10 1-6-1-30 1-9 2-6 1-9 10,0 1,9 2,13 0,32 1,6 0,10 2,10 0,27 1,10-2,18-1,20 2,28 0,7 1,10 0,15-1,13 0,10 4,0 0-10 2-13-1-15-1-10 0-7-2-28 1-20 3-18-2-10 1-27-2-10-1-10-1-6 1-30-2-20-1-10-1-7 1-20-2-48 0-15-3-3-10,0-3,1 0,2 0,15-2,48 1,20-2,7 0,10-3,20 1,30-1,6 0,10-3,10 1,27-1,10 3,18 1,20-3,28 1,7-2,10 0,15 2,13 0,10zM843,1394l10,0 3-2 0-1-3-1-10,0-3,1 2,3zM1049,1394l10,0 3-3-3-1-10,0-3,1 2,3z" fill="#dc2020" stroke="#222" stroke-opacity="0.75" stroke-width="0.8"/>
<path d="M838,1748l21,0 0-10 2-13-1-15-1-10 0-7-2-28 1-20 2-18-1-10 1-27-3-10 0-10-1-6 1-30-1-9-2-6-1-9-10,0-1,9-2,13 0,32-1,6 0,10-2,10 0,27-1,10 2,18 1,20-2,28 0,7-1,10 0,15 1,13 0,10zM1044,1748l21,0 0-10 1-13 0-15-1-10 0-7-2-28 1-20 2-18-1-10 0-27-2-10 0-10-1-6 0-30-2-15-1-9-10,0-1,9-2,6 0,7 0,32-1,6 0,10-3,10 1,27-1,10 2,18 1,20-2,28 0,7-1,10-1,15 2,13 0,10z" fill="#ffffff" stroke="#222" stroke-opacity="0.75" stroke-width="0.8"/>
<path d="M655.3,1757.4 V1314.7 H1240 V1757.4 M655.3,1757.4 H1240V1757.4" stroke="#8a8a8a" stroke-width="1.4" fill="none"/>
<path d="M667.2,1757.4 v-6.2 M667.2,1314.7 v6.2 M702.7,1757.4 v-3.4 M702.7,1314.7 v3.4 M738.1,1757.4 v-3.4 M738.1,1314.7 v3.4 M773.6,1757.4 v-3.4 M773.6,1314.7 v3.4 M809.1,1757.4 v-6.2 M809.1,1314.7 v6.2 M844.6,1757.4 v-3.4 M844.6,1314.7 v3.4 M880.0,1757.4 v-3.4 M880.0,1314.7 v3.4 M915.5,1757.4 v-3.4 M915.5,1314.7 v3.4 M951.0,1757.4 v-6.2 M951.0,1314.7 v6.2 M986.5,1757.4 v-3.4 M986.5,1314.7 v3.4 M1022.0,1757.4 v-3.4 M1022.0,1314.7 v3.4 M1057.4,1757.4 v-3.4 M1057.4,1314.7 v3.4 M1092.9,1757.4 v-6.2 M1092.9,1314.7 v6.2 M1128.4,1757.4 v-3.4 M1128.4,1314.7 v3.4 M1163.8,1757.4 v-3.4 M1163.8,1314.7 v3.4 M1199.3,1757.4 v-3.4 M1199.3,1314.7 v3.4 M1234.8,1757.4 v-6.2 M1234.8,1314.7 v6.2 M655.3,1747.9 h6.2 M1240,1747.9 h-6.2 M655.3,1730.9 h3.2 M1240,1730.9 h-3.2 M655.3,1713.9 h3.2 M1240,1713.9 h-3.2 M655.3,1696.9 h3.2 M1240,1696.9 h-3.2 M655.3,1680.0 h3.2 M1240,1680.0 h-3.2 M655.3,1663.0 h6.2 M1240,1663.0 h-6.2 M655.3,1646.0 h3.2 M1240,1646.0 h-3.2 M655.3,1629.0 h3.2 M1240,1629.0 h-3.2 M655.3,1612.0 h3.2 M1240,1612.0 h-3.2 M655.3,1595.0 h3.2 M1240,1595.0 h-3.2 M655.3,1578.1 h6.2 M1240,1578.1 h-6.2 M655.3,1561.1 h3.2 M1240,1561.1 h-3.2 M655.3,1544.1 h3.2 M1240,1544.1 h-3.2 M655.3,1527.1 h3.2 M1240,1527.1 h-3.2 M655.3,1510.1 h3.2 M1240,1510.1 h-3.2 M655.3,1493.1 h6.2 M1240,1493.1 h-6.2 M655.3,1476.2 h3.2 M1240,1476.2 h-3.2 M655.3,1459.2 h3.2 M1240,1459.2 h-3.2 M655.3,1442.2 h3.2 M1240,1442.2 h-3.2 M655.3,1425.2 h3.2 M1240,1425.2 h-3.2 M655.3,1408.2 h6.2 M1240,1408.2 h-6.2 M655.3,1391.2 h3.2 M1240,1391.2 h-3.2 M655.3,1374.3 h3.2 M1240,1374.3 h-3.2 M655.3,1357.3 h3.2 M1240,1357.3 h-3.2 M655.3,1340.3 h3.2 M1240,1340.3 h-3.2 M655.3,1323.3 h6.2 M1240,1323.3 h-6.2 " stroke="#8a8a8a" stroke-width="1.2" fill="none"/>
<text x="667.2" y="1774.4" font-size="13" text-anchor="middle" fill="#6e6e80" font-family="'Liberation Sans', sans-serif">&#8722;4</text>
<text x="809.1" y="1774.4" font-size="13" text-anchor="middle" fill="#6e6e80" font-family="'Liberation Sans', sans-serif">&#8722;2</text>
<text x="951.0" y="1774.4" font-size="13" text-anchor="middle" fill="#6e6e80" font-family="'Liberation Sans', sans-serif">0</text>
<text x="1092.9" y="1774.4" font-size="13" text-anchor="middle" fill="#6e6e80" font-family="'Liberation Sans', sans-serif">2</text>
<text x="1234.8" y="1774.4" font-size="13" text-anchor="middle" fill="#6e6e80" font-family="'Liberation Sans', sans-serif">4</text>
<text x="650.0" y="1752.5" font-size="13" text-anchor="end" fill="#6e6e80" font-family="'Liberation Sans', sans-serif">0</text>
<text x="650.0" y="1667.6" font-size="13" text-anchor="end" fill="#6e6e80" font-family="'Liberation Sans', sans-serif">1</text>
<text x="650.0" y="1582.7" font-size="13" text-anchor="end" fill="#6e6e80" font-family="'Liberation Sans', sans-serif">2</text>
<text x="650.0" y="1497.7" font-size="13" text-anchor="end" fill="#6e6e80" font-family="'Liberation Sans', sans-serif">3</text>
<text x="650.0" y="1412.8" font-size="13" text-anchor="end" fill="#6e6e80" font-family="'Liberation Sans', sans-serif">4</text>
<text x="650.0" y="1327.9" font-size="13" text-anchor="end" fill="#6e6e80" font-family="'Liberation Sans', sans-serif">5</text>
<rect x="1318.8" y="1323.3" width="566.8" height="424.6" fill="#7a1c82"/>
<path d="M1330,1748l134,0-4-15 0-9 2-6 1-11-3-15-1-12-4-15 1-7 1-6 0-7-3-8 3-9-1-6 1-9-1-14 0-5-2-6 2-7-2-6 7-17-1-6-3-7 0-2 6-6 1-2-5-9 1-2 4-4 0-3-5-4-1-2 4-6 0-9-4-6 1-2 8-7 0-4-2-6-8-9 0-6-1-7 2-4 5-6 0-3-11-5-1-1 0-2 6-4 2-3 1-2-3-6 1-2 5-4 3-11 0-13-6-6 0-2 4-5 1-2 1-17 3-11 1-17-36,0 4,5 3,4 2,8 0,7-2,15-2,5-5,10 7,8 1,4-1,3-4,3-9,2-30,1-22,0-11-1-9-3-4-2-1-3 1-4 8-8-8-15-2-15 0-7 3-8 3-5 4-4-36,0 0,17 4,13 0,13 1,4 4,5 0,2-5,6 0,13 3,11 4,4 2,2-4,6 1,2 2,3 6,4 0,2-1,1-11,5 0,3 6,6 2,4-2,7 0,6-7,9-3,6 1,4 8,7 1,2-5,6 0,9 5,6-1,2-6,4 1,3 4,4 0,2-4,9 1,2 5,6 1,2-3,7-2,6 7,17-1,6 1,7-1,6 0,5-2,14 1,9-1,6 3,9-3,8 0,7 2,6 0,7-4,15 0,12-3,15 1,11 1,6 0,9-3,15zM1367,1645l-2-2 13-1 26,0 22,1 3,0-3,2-11,1-24,0-22,0zM1380,1624l-5-2-1-2 6-3 15-2 18,2 3,1 4,2-1,2-6,2-15,2-16-1zM1372,1535l7-3 8,0 27,0 8,3-11,1-22,0-15-1zM1374,1492l-5-2-5-5-1-2-2-6-3-2-6-3-2-1 4-3 17-3 22-1 26,1 20,3 4,3-1,2-7,2-3,2-1,6-1,2-4,4-4,2-7,2-11,1-17,0-11-2zM1364,1439l-7-3 17-1 32,0 27,1 4,0-7,2-13,1-28,1-24-1zM1375,1415l-6-2 2-2 9-2 20-1 17,2 5,1 2,2-9,3-20,1-19-2zM1535,1748l134,0-3-15 0-9 1-6 1-11-3-15 0-12-4-15 0-7 2-6 0-7-3-8 3-9-1-6 1-9-2-14 0-5-2-6 2-7-1-6 7-17-2-6-3-7 1-2 5-6 1-2-4-9 0-2 4-4 1-3-6-4-1-2 5-6 0-9-5-6 1-2 8-7 1-4-3-6-7-9 0-6-2-7 2-4 6-6 0-3-11-5-1-1-1-2 7-4 2-3 1-2-4-6 2-2 4-4 3-11 0-13-5-6 0-2 4-5 1-4 0-13 3-13 1-17-36,0 4,4 3,5 3,8 0,7-2,15-2,5-6,10 8,8 1,4-2,3-3,3-9,2-11,1-20,0-22,0-11-1-8-2-4-3-1-3 1-4 7-8-5-10-2-5-2-15 0-7 2-8 4-5 3-4-36,0 1,17 3,13 0,13 2,4 4,5 0,2-6,6 0,13 3,11 5,4 1,2-3,6 1,2 2,3 6,4 0,2-2,1-10,5 0,3 5,6 2,4-1,7 0,6-8,9-2,6 0,4 8,7 1,2-4,6 0,9 4,6-1,2-5,4 0,3 4,4 1,2-5,9 1,2 6,6 0,2-3,7-1,6 7,17-2,6 2,7-2,6 0,5-1,14 1,9-1,6 3,9-3,8-1,7 2,6 0,7-3,15-1,12-3,15 1,11 2,6 0,9-4,15zM1573,1645l-3-2 14-1 26,0 22,1 2,0-3,2-10,1-24,0-22,0zM1586,1624l-6-2-1-2 7-3 15-2 18,2 6,3-1,2-5,2-16,2-15-1zM1577,1535l8-3 7,0 28,0 7,3-11,1-21,0-16-1zM1580,1492l-6-2-5-5-1-2-1-6-4-2-6-2-2-2 5-3 17-3 24-1 26,1 18,3 4,3-2,2-6,2-3,2-2,6-1,2-3,4-5,2-6,2-11,1-18,0-11-2zM1570,1439l-8-3 17-1 33,0 26,1 4,0-6,2-13,1-28,1-25-1zM1580,1415l-5-2 2-2 9-2 19-1 18,2 5,1 2,2-6,2-5,1-20,1-18-2zM1741,1748l134,0-4-15 0-9 2-6 1-11-3-15-1-12-4-15 1-7 1-6 0-7-3-8 3-9-1-6 1-9-2-14 1-5-2-6 2-7-2-6 7-17-1-6-3-7 0-2 6-6 1-2-5-9 1-2 4-4 0-3-5-4-1-2 4-6 0-9-4-6 1-2 8-7 0-4-2-6-8-9 0-6-1-7 2-4 5-6 0-3-10-5-2-1 0-2 6-4 2-3 1-2-3-6 1-2 5-4 3-11 0-13-6-6 0-2 4-5 2-4 0-13 3-13 1-17-36,0 3,4 4,5 2,8 0,7-2,15-7,15 7,8 1,4-1,3-4,2-8,3-11,1-22,0-31-1-9-2-4-3-1-3 1-4 7-8-5-10-2-5-2-15 0-7 3-8 2-4 5-5-36,0 0,17 3,11 1,17 1,2 4,5 0,2-5,6 0,13 3,11 4,4 2,2-4,6 1,2 2,3 6,4 0,2-1,1-11,5 0,3 6,6 2,4-2,7 0,6-8,9-2,6 1,4 8,7 1,2-5,6 0,9 5,6-1,2-6,4 1,3 4,4 0,2-4,9 1,2 5,6 1,2-4,7-1,6 7,17-1,6 1,7-1,6 0,5-2,14 1,9-1,6 3,9-3,8 0,7 2,6 0,7-4,15 0,12-3,15 1,11 1,6 0,9-3,15zM1778,1645l-2-2 13-1 27,0 21,1 3,0-3,2-10,1-25,1-21-1zM1791,1624l-5-2-1-2 3-2 3-1 18-2 15,2 7,3-1,2-8,3-15,1-16-2zM1783,1535l6-2 7-1 15,0 14,0 8,3-11,1-22,0-17-1zM1785,1492l-4-2-5-3-2-4-2-6-3-2-6-2-2-2 2-3 4-1 9-1 20-2 33,1 19,2 4,1 2,3-1,2-7,2-3,2-1,6-1,2-4,4-4,2-6,2-11,1-18,0-11-2zM1775,1439l-7-3 15-1 33,0 26,1 6,0-2,1-6,2-9,0-29,1-26-1zM1786,1415l-6-2 2-2 9-2 20-1 18,2 4,1 2,2-5,2-6,1-19,1-18-2z" fill="#3c5ad6" stroke="#222" stroke-opacity="0.75" stroke-width="0.8"/>
<path d="M1321,1748l9,0 3-13 0-11-1-6-1-11 3-15 0-12 4-13 0-9-2-6 0-7 3-8-3-9 1-4-1-11 2-14 0-5 1-6-1-7 1-6-7-17 2-6 3-7-1-2-5-6-1-2 4-9 0-2-4-4-1-3 6-4 1-2-5-6 0-9 5-6-1-2-8-7-1-4 3-6 7-9 0-6 2-7-2-4-6-6 0-3 11-5 1-1 0-2-6-4-2-3-1-2 4-6-2-2-4-4-3-11 0-13 5-6 0-2-4-5-1-4 0-13-4-13 0-17-5,0 0,51 1,1 0,2-1,1 0,31 2,2 2,2-4,3 0,7 11,5 0,2-11,5 0,6 5,4 2,2 1,2-4,7 0,6-4,3 0,20 5,3 1,2-6,4 0,12 6,5 0,2-6,4 0,3 5,4 1,2-2,2-4,3 0,7 6,5 1,2-3,7-1,6 6,17-1,6 1,7-1,6-1,19 1,11-1,4 2,9-2,8-1,7 2,6 0,9-3,13 0,12-3,15 3,17 0,9-3,15zM1465,1748l8,0-3-15 0-9 2-17-2-15-1-12-3-13 1-9 1-6-1-7-2-8 3-9-1-4 1-11-1-19-2-6 1-7 0-6 5-17-1-6-3-7 1-2 8-6 1-2-8-9 1-2 6-4 0-3-7-4-1-2 9-6 1-5-1-4-9-6 1-2 9-5 3-2 1-4-1-4-3-5-8-6 0-6-3-7 0-2 3-2 8-6 0-3-14-6 0-2 10-4 3-3 1-2-7-6 1-2 7-4 2-3 1-10 1-9-1-2-2-2-7-4 1-2 6-5 2-2 1-2 0-13 2-13 0-17-15,0-1,17-3,11-1,17-1,2-4,5 0,2 6,6 0,13-3,11-5,4-1,2 3,6-1,2-2,3-6,4 0,2 1,1 11,5 0,3-5,6-2,4 1,7 0,6 8,9 2,6 0,4-8,7-1,2 4,6 0,9-4,6 1,2 5,4 0,3-4,4-1,2 5,9-1,2-6,6 0,2 3,7 1,6-7,17 2,6-2,7 2,6 0,5 1,14-1,9 1,6-3,9 3,8 0,7-1,6-1,7 4,15 1,12 3,15-1,11-2,6 0,9 4,15zM1527,1748l8,0 3-13 1-11-2-6-1-11 3-15 1-12 3-13 0-9-2-6 1-7 3-8-3-9 1-4-1-11 1-14 0-5 2-6-2-7 2-6-7-17 1-6 3-7 0-2-6-6-1-2 5-9-1-2-4-4 0-3 5-4 1-2-4-6 0-9 4-6-1-2-8-7 0-4 2-6 8-9 0-6 1-7-2-4-5-6 0-3 10-5 2-1 0-2-6-4-2-3-1-2 3-6-1-2-5-4-3-11 0-13 6-6 0-2-4-5-2-4 0-13-3-13-1-17-15,0 0,17 2,13 0,13 1,2 2,2 6,5 0,2-6,4-2,2-1,2 0,9 2,10 2,3 7,4 1,2-7,6 1,2 3,3 10,4 0,2-14,6 0,3 8,6 3,2 0,2-3,7-1,6-7,6-3,5-1,4 1,4 3,2 9,5 1,2-9,6-1,4 1,5 9,6-1,2-7,4 0,3 6,4 1,2-9,9 2,2 8,6 0,2-2,7-1,6 5,17-1,6 2,7-2,6-1,19 1,9-1,6 3,9-2,8-1,7 1,6 1,7-3,15-1,12-2,15 2,17 0,9-3,15zM1669,1746l0,2 9,0-3-15 0-9 2-17-2-15 0-12-3-13 0-9 1-6 0-7-2-8 2-9-1-4 1-11-1-19-1-6 1-7-1-6 5-17 0-6-3-7 1-2 8-6 1-2-9-9 1-2 6-4 1-3-8-4-1-2 9-6 1-5 0-4-9-6 0-2 9-5 3-2 1-4-1-4-2-5-8-6-1-6-3-7 1-2 2-2 9-6 0-3-15-6 0-2 11-4 3-3 0-2-7-6 2-2 7-4 1-3 2-10 0-9-1-2-2-2-6-4 0-2 7-5 1-2 1-2 0-13 2-13 1-17-16,0-1,17-3,13 0,13-1,4-4,5 0,2 5,6 0,13-3,11-4,4-2,2 4,6-1,2-2,3-7,4 1,2 1,1 11,5 0,3-6,6-2,4 2,7 0,6 7,9 3,6-1,4-8,7-1,2 5,6 0,9-5,6 1,2 6,4-1,3-4,4 0,2 4,9-1,2-5,6-1,2 3,7 2,6-7,17 1,6-2,7 2,6 0,5 2,14-1,9 1,6-3,9 3,8 0,7-2,6 0,7 4,15 0,12 3,15-1,11-1,6 0,9 3,13zM1732,1748l9,0 3-13 0-11-1-6-1-11 3-15 0-12 4-13 0-9-2-6 0-7 3-8-3-9 1-4-1-11 2-14 0-5 1-6-1-7 1-6-7-17 1-6 4-7-1-2-5-6-1-2 4-9 0-2-4-4-1-3 6-4 1-2-5-6 0-9 5-6-1-2-8-7-1-4 2-6 8-9 0-6 2-7-2-4-6-6 0-3 11-5 1-1 0-2-6-4-2-3-1-2 4-6-2-2-4-4-3-11 0-13 5-6 0-2-4-5-1-2-1-17-3-11 0-17-16,0 0,17 3,13 0,13 0,2 2,2 7,5 0,2-6,4-3,2 0,2 0,9 2,10 1,3 7,4 1,2-6,6 0,2 3,3 10,4 1,2-15,6 0,3 9,6 2,2 1,2-4,7 0,6-8,6-2,5-1,4 1,4 3,2 8,5 1,2-9,6 0,4 0,5 9,6-1,2-7,4 1,3 6,4 1,2-9,9 1,2 8,6 1,2-3,7-1,6 6,17-1,6 1,7-1,6-1,19 1,9-1,6 2,9-2,8-1,7 2,6 0,7-3,15 0,12-3,15 2,17 1,9-3,15zM1875,1747l0,1 9,0-3-15 0-9 2-17-2-15-1-12-3-15 0-7 2-6-1-7-2-8 2-9 0-6 0-9 0-19-2-6 1-7-1-6 6-17-1-6-3-7 1-2 7-5 0-7-5-3-1-2 1-2 5-4 0-3-6-4-1-2 7-5 0-12-7-4 1-2 6-3 0-20-5-3 0-6-3-7 0-2 2-2 6-4 0-6-11-5 0-2 11-5 0-7-4-3 1-2 3-2 0-31-2-1 1-2 1-1 0-51-5,0-1,17-3,13 0,13-2,4-4,5 0,2 6,6 0,9-1,6-2,9-5,4-1,2 3,6-1,2-2,3-6,4 0,2 2,1 10,5 0,3-5,6-2,4 1,7 0,6 8,9 2,6 0,4-8,7-1,2 4,6 0,9-4,6 1,2 5,4 0,3-4,4-1,2 5,9-1,2-6,6 0,2 3,7 1,6-7,17 2,6-2,7 2,6-1,5 2,14-1,9 1,6-3,9 3,8 0,7-1,6-1,7 4,15 1,12 3,15-1,11-2,6 0,9 3,13z" fill="#5ea8a0" stroke="#222" stroke-opacity="0.75" stroke-width="0.8"/>
<path d="M1321,1747l3-14 0-9-3-17 3-15 0-12 3-15 0-7-2-6 1-7 2-8-2-9 1-6-1-9 1-19 1-6-1-7 1-6-6-17 1-6 3-7-1-2-6-5 0,33 1,4-1,6 1,7-1,6 0,37 1,6-1,6 0,105 2,0zM1474,1748l5,0-2-15 0-9 2-17-2-15 0-12-3-13 1-9 1-6-1-7-2-8 2-9 0-34-2-6 2-7-1-6 4-17 0-6-3-7 2-2 9-6 2-2-2-3-8-4-2-2 1-2 8-4 0-3-8-4-1-2 12-6 1-5-1-4-12-6 1-2 11-5 3-2 1-4-1-6-4-5-7-4-1-2 0-4-3-5-1-2 1-2 2-2 12-6 0-3-17-6 1-2 13-4 4-3 0-2-9-6 1-2 9-4 1-3 2-8 0-11-1-2-3-2-7-4 0-2 8-5 3-2 1-9 7,0 0,7 1,2 2,2 9,5 0,2-8,4-2,2-1,2 0,11 1,8 2,3 9,4 1,2-9,6 0,2 4,3 13,4 1,2-17,6 0,3 12,6 2,2 1,2-1,2-4,5 0,4 0,2-7,4-4,5-1,6 1,4 3,2 11,5 1,2-12,6-1,4 1,5 12,6-1,2-9,4 1,3 8,4 1,2-2,2-8,4-2,3 2,2 9,6 1,2-2,7 0,6 4,17-1,6 2,7-2,6 0,34 2,9-2,8-1,7 1,6 0,9-2,13 0,12-2,15 2,17 0,9-2,15 6,0 3-13 0-11-2-17 2-15 1-12 3-15-1-7-1-6 1-7 2-8-3-9 1-4-1-11 1-19 2-6-2-7 1-6-5-17 1-6 2-7 0-2-8-6-2-2 9-9-1-2-6-4 0-3 7-4 1-2-9-6-1-5 1-4 9-6-1-2-9-5-3-2-1-4 1-4 3-5 7-6 1-6 3-7 0-2-3-2-8-6 0-3 14-6 0-2-10-4-3-3-1-2 7-6-1-2-7-4-2-3-2-10 0-9 1-2 2-2 6-4 0-2-6-5-2-2-1-2 0-13-2-13 0-17-29,0 0,17-2,13 0,13-1,2-2,2-6,5-1,2 7,4 2,2 1,2-1,9-1,10-2,3-7,4-1,2 7,6-1,2-3,3-10,4 0,2 14,6 0,3-8,6-3,2 0,2 3,7 0,6 8,6 3,5 1,4-1,4-3,2-9,5-1,2 9,6 1,4-1,5-9,6 1,2 7,4 0,3-6,4-1,2 8,9-1,2-8,6-1,2 3,7 1,6-5,17 0,6-1,7 2,6 1,19-1,9 1,6-3,9 2,8 1,7-1,6-1,7 3,15 1,12 2,15-2,17 0,9 3,15zM1680,1748l5,0-3-15 0-9 2-17-2-15 0-12-2-13 0-9 1-6 0-7-2-8 2-9-1-34-1-6 1-7-1-6 5-17-1-6-2-7 1-2 10-6 1-2-2-3-7-4-2-2 1-2 7-4 1-3-9-4-1-2 12-6 1-5 0-4-13-6 1-2 11-5 4-2 1-4-2-6-4-5-6-4-1-2 0-4-4-5-1-2 1-2 3-2 11-6 0-3-17-6 1-2 14-4 3-3 1-2-10-6 2-2 8-4 2-3 1-8 0-11 0-2-3-2-8-4 1-2 8-5 2-2 1-2 1-7 6,0 2,9 2,2 8,5 1,2-8,4-3,2-1,2 1,11 1,8 2,3 8,4 2,2-10,6 1,2 3,3 14,4 1,2-18,6 1,3 11,6 3,2 1,2-1,2-4,5 0,4-1,2-6,4-5,5-1,6 1,4 4,2 11,5 1,2-13,6-1,4 2,5 12,6-1,2-9,4 1,3 7,4 1,2-2,2-7,4-2,3 1,2 10,6 1,2-2,7-1,6 5,17-1,6 1,7-1,6-1,34 2,9-2,8 0,7 1,6 0,9-2,13-1,12-1,15 1,17 1,9-3,15 7,0 2-13 0-11-2-17 3-15 0-12 3-15 0-7-2-6 1-7 2-8-2-9 1-4-1-11 1-19 1-6-1-7 1-6-6-17 1-6 3-7-1-2-8-6-1-2 9-9-1-2-6-4-1-3 7-4 1-2-9-6 0-5 0-4 9-6-1-2-8-5-3-2-1-4 1-4 2-5 8-6 0-6 4-7-1-2-2-2-9-6 0-3 15-6-1-2-10-4-3-3 0-2 6-6-1-2-7-4-1-3-2-10 0-9 0-2 3-2 6-4 0-2-7-5-2-2 0-2 0-13-3-13 0-17-28,0-1,17-2,13 0,13-1,2-1,2-7,5 0,2 6,4 2,2 1,2 0,9-2,10-1,3-7,4-2,2 7,6 0,2-3,3-11,4 0,2 15,6 0,3-9,6-2,2-1,2 3,7 1,6 8,6 2,5 1,4-1,4-3,2-9,5 0,2 9,6 0,4-1,5-9,6 1,2 8,4-1,3-6,4-1,2 9,9-1,2-8,6-1,2 3,7 0,6-5,17 1,6-1,7 1,6 1,19-1,9 1,6-2,9 2,8 0,7-1,6 0,7 3,15 0,12 2,15-2,17 0,9 3,15zM1883,1747l1,1 2,0 0-105-2-6 2-6 0-37-2-6 2-7-1-6 1-4 0-33-7,5-1,2 3,7 1,6-6,17 1,6-1,7 2,6 0,19 0,9 0,6-2,9 2,8 1,7-2,6 0,7 3,15 1,12 2,15-2,17 0,9 2,13zM1320,1530l5-4-1-2-5-4 0,11zM1886,1531l0-11-5,4-1,2 4,4zM1321,1515l4-2 0-2-6-5 0,11zM1886,1517l0-11-7,5 1,2 4,2zM1319,1494l6-4-1-2-5-3 0,9zM1886,1494l0-9-6,3-1,2 7,4zM1321,1464l2-2 0-6 4-7-1-2-2-2-5-4 0,24zM1886,1465l0-24-6,4-2,2 0,2 3,7 0,6 3,2zM1319,1434l11-4 0-2-11-5 0,4 1,1 1,2-2,1 0,4zM1886,1435l0-4-2-1 1-2 1-1 0-4-11,5 0,2 10,4zM1321,1415l2-2-2-2-2-2 0,7zM1886,1416l0-7-3,2-1,2 2,2zM1320,1377l0-2-1-1 0,4zM1886,1378l0-4-1,1-1,2z" fill="#a8c050" stroke="#222" stroke-opacity="0.75" stroke-width="0.8"/>
<path d="M1481,1748l4,0-2-15 2-26-2-15 0-12-2-15 1-13 0-7-2-8 2-9-1-34-1-6 1-7 0-6 4-17-1-6-2-7 3-3 11-6 7,0 11,6 1,1 2,2-2,7-1,6 4,17 0,6 1,7-1,6-1,34 2,9-2,8 0,7 1,13-2,15 0,12-2,15 2,26-2,15 6,0 2-15 0-9-2-17 2-15 0-12 2-13 0-9-1-6 1-7 2-8-2-9 0-34 2-6-2-7 1-6-4-17 0-6 2-7-1-2-9-6-2-2 2-3 8-4 2-2-1-2-8-4-1-3 9-4 1-2-12-6-1-5 1-4 12-6-1-2-11-5-3-2-1-4 1-6 4-5 7-4 0-2 0-4 4-5 1-2-1-2-2-2-12-6 0-3 17-6-1-2-13-4-4-3 0-2 9-6-1-2-9-4-2-3-1-8 0-11 1-2 2-2 8-4 0-2-9-5-2-2-1-2 0-7-3,0-4,0-1,9-3,2-8,5 0,2 7,4 3,2 1,2 0,11-2,8-1,3-9,4-1,2 9,6 0,2-4,3-13,4-1,2 17,6 0,3-12,6-2,2-1,2 1,2 3,5 0,4 1,2 7,4 4,5 1,6-1,4-3,2-11,5-1,2 12,6 1,4-1,5-12,6 1,2 8,4 0,3-8,4-1,2 2,2 8,4 2,3-2,2-9,6-2,2 3,7 0,6-4,17 1,6-2,7 2,6 0,34-2,9 2,8 1,7-1,6-1,9 3,13 0,12 2,15-2,17 0,9 2,15zM1494,1532l-9-4-3-2 1-2 9-4 1-3-10-4-1-2 14-6 9,1 12,5-1,2-10,4 1,3 9,4 1,2-3,2-11,6-7,0zM1493,1494l-11-4 1-2 11-4 4-1 5,0 13,5 1,2-12,5-2,0-7,0-2-1zM1492,1464l-4-2-1-2 0-4-4-5-1-2 1-2 3-2 10-5 7,0 10,5 3,2 1,2-1,2-5,5 0,4-1,2-7,4-7,0-2-1zM1495,1434l-14-4 1-2 3-1 11-3 7,0 14,4 1,2-5,2-10,3-7,0zM1493,1415l-3-2 2-2 4-2 7,0 4,2 2,2-4,2-2,1-7,0-2-1zM1496,1379l-4-2 1-2 3-2 7,0 2,1 1,1 1,2-4,2-7,0zM1686,1748l4,0-2-15 2-26-1-15 0-12-2-15 1-13-1-7-1-8 1-9 0-34-1-6 1-7-1-6 4-17-1-6-1-7 1-2 2-1 11-6 6,0 11,6 3,3-2,7 0,6 4,17-1,6 1,7-1,6 0,34 1,9-2,8 0,7 1,13-2,15 0,12-1,15 2,26-2,15 5,0 3-15-1-9-1-17 1-15 1-12 2-13 0-9-1-6 0-7 2-8-2-9 1-34 1-6-1-7 1-6-5-17 1-6 2-7-1-2-10-6-1-2 2-3 7-4 2-2-1-2-7-4-1-3 9-4 1-2-12-6-2-5 1-4 13-6-1-2-11-5-4-2-1-4 1-6 5-5 6-4 1-2 0-4 4-5 1-2-1-2-3-2-11-6-1-3 18-6-1-2-14-4-3-3-1-2 10-6-2-2-8-4-2-3-1-8-1-11 1-2 3-2 8-4-1-2-8-5-2-2-2-9-4,0-2,0-1,7-1,2-2,2-8,5-1,2 8,4 3,2 0,2 0,11-1,8-2,3-8,4-2,2 10,6-1,2-3,3-14,4-1,2 17,6 0,3-11,6-3,2-1,2 1,2 4,5 0,4 1,2 6,4 4,5 2,6-1,4-4,2-11,5-1,2 13,6 0,4-1,5-12,6 1,2 9,4-1,3-7,4-1,2 2,2 7,4 2,3-1,2-10,6-1,2 2,7 1,6-5,17 1,6-1,7 1,6 1,34-2,9 2,8 0,7-1,6 0,9 2,13 0,12 2,15-2,17 0,9 3,15zM1699,1532l-9-4-2-2 1-2 9-4 1-3-11-4-1-2 4-2 11-4 6,0 15,6-2,2-10,4 1,3 9,4 1,2-2,2-12,6-6,0-2-1zM1699,1494l-11-4 1-2 13-5 6,0 13,5 1,2-14,5-6,0-2,0zM1697,1464l-3-2-1-2 0-4-5-5-1-2 1-2 14-7 6,0 11,5 3,2 1,2-1,2-5,5 0,4-1,2-8,4-6,0-5-2zM1700,1434l-14-4 1-2 4-1 9-3 8,0 15,4 1,2-5,2-11,3-6,0zM1699,1415l-3-2 2-2 4-2 6,0 4,2 2,2-6,3-6,0-2-1zM1701,1379l-4-2 1-2 4-2 6,0 3,1 1,1 0,2-1,1-3,1-6,0zM1319,1667l0-9 0,10zM1886,1668l0-10-1,9zM1319,1641l1-4-1-6 0,12zM1886,1643l0-12-2,6 1,4zM1319,1603l0-9 1-6-1-7 1-6-1-4 0,32zM1886,1603l0-32-1,4 1,6-2,7 2,6 0,9zM1321,1430l-1-2-1-1 0,4zM1886,1431l0-4-1,1-1,2z" fill="#e8a23a" stroke="#222" stroke-opacity="0.75" stroke-width="0.8"/>
<path d="M1485,1748l4,0-1-15 2-26-2-15 1-12-2-15 1-13 0-7-2-8 1-9 0-53 3-17-2-13 2-2 4-3 2,0 7,0 6,3 2,2-2,13 3,17-1,53 2,9-2,8 0,7 1,13-2,15 0,12-1,15 2,26-1,15 4,0 2-13 0-11-2-17 2-15 0-12 2-13 0-9-1-6 0-7 2-8-2-9 1-34 1-6-1-7 0-6-4-17 1-6 2-7-2-2-4-3-8-4-3,0-4,0-11,6-3,3 2,7 1,6-4,17 0,6-1,7 1,6 1,34-2,9 2,8 0,7-1,13 2,15 0,12 2,15-2,26 2,15zM1691,1748l4,0-2-15 2-26-1-15 0-12-1-15 1-13-1-7-2-8 2-9-1-53 3-17-1-13 1-2 5-3 2,0 6,0 7,3 1,2-2,13 4,17-1,53 1,9-1,8-1,7 1,13-1,15 0,12-1,15 1,26-1,15 5,0 2-13-1-11-1-17 1-15 0-12 2-13 0-9-1-6 0-7 2-8-1-9 0-34 1-6-1-7 1-6-4-17 0-6 2-7-3-3-11-6-4,0-2,0-9,4-4,3-1,2 1,7 1,6-4,17 1,6-1,7 1,6 0,34-1,9 1,8 1,7-1,13 2,15 0,12 1,15-2,26 2,15zM1496,1534l7,0 11-6 3-2-1-2-9-4-1-3 10-4 1-2-4-2-10-4-7,0-14,6 1,2 10,4-1,3-9,4-1,2 3,2 9,4zM1496,1530l-6-2-2-2 1-2 7-3 7-1 7,4 1,2-2,2-6,2-7,0zM1494,1515l-5-2-2-2 2-1 7-2 7,0 4,1 4,2-1,2-7,3-7,0zM1700,1533l2,1 6,0 12-6 2-2-1-2-9-4-1-3 10-4 2-2-15-6-8,1-13,5 1,2 11,4-1,3-9,4-1,2 2,2 9,4zM1702,1530l-6-2-3-2 1-2 8-4 6,1 8,3 1,2-3,2-6,2-6,0zM1700,1515l-6-2-1-2 2-1 7-2 6,0 5,1 4,2-1,2-8,3-6,0zM1494,1494l2,1 7,0 2,0 12-5-1-2-13-5-5,0-4,1-11,4-1,2 11,4zM1493,1492l-5-2 1-3 9-2 5,0 4,2 3,1 1,2-2,1-6,2-9-1zM1700,1495l2,0 6,0 14-5-1-2-13-5-6,0-13,5-1,2 11,4zM1698,1492l-5-2 2-3 9-2 4,0 5,2 2,1 1,2-3,1-5,2-8-1zM1494,1465l2,1 7,0 7-4 1-2 0-4 5-5 1-2-1-2-3-2-10-5-7,0-10,5-3,2-1,2 1,2 4,5 0,4 1,2 4,2zM1495,1460l1-2-1-2-6-5-1-2 1-2 7-4 4,0 5,1 5,3 1,2-1,2-6,5-1,2 1,2-1,1-7,0zM1697,1464l5,2 6,0 8-4 1-2 0-4 5-5 1-2-1-2-3-2-11-5-6,0-14,7-1,2 1,2 5,5 0,4 1,2 3,2zM1700,1460l1-2-1-2-6-5-1-2 1-2 6-3 4-1 4,0 8,4 1,2-2,2-5,5-1,2 1,2-2,1-6,0zM1496,1435l7,0 10-3 5-2-1-2-14-4-7,0-11,3-3,1-1,2 14,4zM1493,1432l-6-2 2-2 7-2 7,0 4,1 3,1 2,2-9,3-9-1zM1702,1435l6,0 11-3 5-2-1-2-15-4-8,0-9,3-4,1-1,2 14,4zM1699,1432l-6-2 1-2 8-2 6,0 5,1 3,1 1,2-9,3-8-1zM1494,1415l2,1 7,0 2-1 4-2-2-2-4-2-7,0-4,2-2,2 3,2zM1700,1415l2,1 6,0 6-3-2-2-4-2-6,0-4,2-2,2 3,2zM1496,1379l7,0 4-2-1-2-1-1-2-1-7,0-3,2-1,2 4,2zM1702,1379l6,0 3-1 1-1 0-2-1-1-3-1-6,0-4,2-1,2 4,2z" fill="#e02020" stroke="#222" stroke-opacity="0.75" stroke-width="0.8"/>
<path d="M1489,1748l21,0 1-13-2-28 1-15 0-12 2-13-1-15 0-7 2-8-2-9 1-53-3-17 2-13-2-2-4-3-5,0-4,0-2,0-4,3-2,2 2,13-3,17 0,53-1,9 2,8 0,7-1,13 2,15-1,12 2,15-2,26 1,15zM1695,1748l20,0 1-13-1-28 1-15 0-12 1-13-1-15 1-7 1-8-1-9 1-53-4-17 2-13-1-2-4-3-3,0-4,0-4,0-5,3-1,2 1,13-3,17 1,53-2,9 2,8 1,7-1,13 1,15 0,12 1,15-2,26 2,15zM1496,1530l7,0 6-2 2-2-1-2-7-4-7,1-7,3-1,2 2,2 6,2zM1702,1530l6,0 6-2 3-2-1-2-8-3-6-1-8,4-1,2 3,2 6,2zM1496,1516l7,0 7-3 1-2-4-2-4-1-7,0-7,2-2,1 2,2 5,2zM1702,1516l6,0 8-3 1-2-4-2-5-1-6,0-7,2-2,1 1,2 6,2zM1494,1492l9,1 6-2 2-1-1-2-3-1-4-2-5,0-9,2-1,3 5,2zM1700,1492l8,1 5-2 3-1-1-2-2-1-5-2-4,0-9,2-2,3 5,2zM1496,1461l7,0 1-1-1-2 1-2 6-5 1-2-1-2-5-3-5-1-4,0-7,4-1,2 1,2 6,5 1,2-1,2zM1702,1461l6,0 2-1-1-2 1-2 5-5 2-2-1-2-8-4-4,0-4,1-6,3-1,2 1,2 6,5 1,2-1,2zM1494,1432l9,1 9-3-2-2-3-1-4-1-7,0-7,2-2,2 6,2zM1700,1432l8,1 9-3-1-2-3-1-5-1-6,0-8,2-1,2 6,2z" fill="#ffffff" stroke="#222" stroke-opacity="0.75" stroke-width="0.8"/>
<path d="M1307,1757.4 V1314.7 H1898 V1757.4 M1307,1757.4 H1898V1757.4" stroke="#8a8a8a" stroke-width="1.4" fill="none"/>
<path d="M1318.8,1757.4 v-6.2 M1318.8,1314.7 v6.2 M1354.2,1757.4 v-3.4 M1354.2,1314.7 v3.4 M1389.7,1757.4 v-3.4 M1389.7,1314.7 v3.4 M1425.1,1757.4 v-3.4 M1425.1,1314.7 v3.4 M1460.5,1757.4 v-6.2 M1460.5,1314.7 v6.2 M1495.9,1757.4 v-3.4 M1495.9,1314.7 v3.4 M1531.4,1757.4 v-3.4 M1531.4,1314.7 v3.4 M1566.8,1757.4 v-3.4 M1566.8,1314.7 v3.4 M1602.2,1757.4 v-6.2 M1602.2,1314.7 v6.2 M1637.6,1757.4 v-3.4 M1637.6,1314.7 v3.4 M1673.0,1757.4 v-3.4 M1673.0,1314.7 v3.4 M1708.5,1757.4 v-3.4 M1708.5,1314.7 v3.4 M1743.9,1757.4 v-6.2 M1743.9,1314.7 v6.2 M1779.3,1757.4 v-3.4 M1779.3,1314.7 v3.4 M1814.8,1757.4 v-3.4 M1814.8,1314.7 v3.4 M1850.2,1757.4 v-3.4 M1850.2,1314.7 v3.4 M1885.6,1757.4 v-6.2 M1885.6,1314.7 v6.2 M1307,1747.9 h6.2 M1898,1747.9 h-6.2 M1307,1730.9 h3.2 M1898,1730.9 h-3.2 M1307,1713.9 h3.2 M1898,1713.9 h-3.2 M1307,1696.9 h3.2 M1898,1696.9 h-3.2 M1307,1680.0 h3.2 M1898,1680.0 h-3.2 M1307,1663.0 h6.2 M1898,1663.0 h-6.2 M1307,1646.0 h3.2 M1898,1646.0 h-3.2 M1307,1629.0 h3.2 M1898,1629.0 h-3.2 M1307,1612.0 h3.2 M1898,1612.0 h-3.2 M1307,1595.0 h3.2 M1898,1595.0 h-3.2 M1307,1578.1 h6.2 M1898,1578.1 h-6.2 M1307,1561.1 h3.2 M1898,1561.1 h-3.2 M1307,1544.1 h3.2 M1898,1544.1 h-3.2 M1307,1527.1 h3.2 M1898,1527.1 h-3.2 M1307,1510.1 h3.2 M1898,1510.1 h-3.2 M1307,1493.1 h6.2 M1898,1493.1 h-6.2 M1307,1476.2 h3.2 M1898,1476.2 h-3.2 M1307,1459.2 h3.2 M1898,1459.2 h-3.2 M1307,1442.2 h3.2 M1898,1442.2 h-3.2 M1307,1425.2 h3.2 M1898,1425.2 h-3.2 M1307,1408.2 h6.2 M1898,1408.2 h-6.2 M1307,1391.2 h3.2 M1898,1391.2 h-3.2 M1307,1374.3 h3.2 M1898,1374.3 h-3.2 M1307,1357.3 h3.2 M1898,1357.3 h-3.2 M1307,1340.3 h3.2 M1898,1340.3 h-3.2 M1307,1323.3 h6.2 M1898,1323.3 h-6.2 " stroke="#8a8a8a" stroke-width="1.2" fill="none"/>
<text x="1318.8" y="1774.4" font-size="13" text-anchor="middle" fill="#6e6e80" font-family="'Liberation Sans', sans-serif">&#8722;4</text>
<text x="1460.5" y="1774.4" font-size="13" text-anchor="middle" fill="#6e6e80" font-family="'Liberation Sans', sans-serif">&#8722;2</text>
<text x="1602.2" y="1774.4" font-size="13" text-anchor="middle" fill="#6e6e80" font-family="'Liberation Sans', sans-serif">0</text>
<text x="1743.9" y="1774.4" font-size="13" text-anchor="middle" fill="#6e6e80" font-family="'Liberation Sans', sans-serif">2</text>
<text x="1885.6" y="1774.4" font-size="13" text-anchor="middle" fill="#6e6e80" font-family="'Liberation Sans', sans-serif">4</text>
<text x="1302.0" y="1752.5" font-size="13" text-anchor="end" fill="#6e6e80" font-family="'Liberation Sans', sans-serif">0</text>
<text x="1302.0" y="1667.6" font-size="13" text-anchor="end" fill="#6e6e80" font-family="'Liberation Sans', sans-serif">1</text>
<text x="1302.0" y="1582.7" font-size="13" text-anchor="end" fill="#6e6e80" font-family="'Liberation Sans', sans-serif">2</text>
<text x="1302.0" y="1497.7" font-size="13" text-anchor="end" fill="#6e6e80" font-family="'Liberation Sans', sans-serif">3</text>
<text x="1302.0" y="1412.8" font-size="13" text-anchor="end" fill="#6e6e80" font-family="'Liberation Sans', sans-serif">4</text>
<text x="1302.0" y="1327.9" font-size="13" text-anchor="end" fill="#6e6e80" font-family="'Liberation Sans', sans-serif">5</text>
<style>.s path{fill:currentColor;stroke:currentColor;stroke-width:.6}.s path.m{stroke:#2a2a2a;stroke-width:1.1;fill:none;stroke-opacity:.85}.s path.e{stroke:#222;stroke-width:1.1;fill:none}</style>
<path d="M326.0,170.4L324.2,33.1M326.0,170.4L595.7,261.2M326.0,170.4L113.5,310.0M324.2,33.1L609.5,107.6M324.2,33.1L98.0,148.1M595.7,261.2L609.5,107.6M113.5,310.0L98.0,148.1M595.7,261.2L416.4,452.1M113.5,310.0L416.4,452.1M416.4,452.1L420.6,267.9" stroke="#9a9a9a" stroke-width="1.1" fill="none"/>
<path d="M321.4,34.6v5M303.4,43.7v3M284.7,53.2v3M265.2,63.1v3M244.9,73.4v5M223.8,84.1v3M201.8,95.3v3M178.8,107.0v3M154.8,119.2v5M129.7,132.0v3M103.4,145.3v3M409.4,448.8v-5M387.9,438.7v-3M366.8,428.8v-3M346.2,419.2v-3M326.1,409.7v-5M306.4,400.5v-3M287.1,391.4v-3M268.3,382.6v-3M249.8,373.9v-5M231.7,365.5v-3M214.0,357.1v-3M196.7,349.0v-3M179.7,341.0v-5M163.0,333.2v-3M146.7,325.6v-3M130.7,318.1v-3M115.0,310.7v-5M113.1,305.4h3M112.2,296.3h3M111.3,287.2h5M110.4,277.9h3M109.5,268.6h3M108.6,259.2h3M107.7,249.8h3M106.8,240.3h5M105.9,230.7h3M105.0,221.1h3M104.0,211.4h3M103.1,201.6h3M102.1,191.7h5M101.2,181.8h3M100.2,171.8h3M99.3,161.7h3M98.3,151.5h3" stroke="#9a9a9a" stroke-width="1" fill="none"/>
<g class="s"><path color="#e22c1f" d="M326,58l-46,20-3-3 46-20z"/>
<path color="#e62e21" d="M280,78l-50,32-4-3 51-32z"/>
<path color="#e53a23" d="M230,110l-14,9-3-3 13-9z"/>
<path color="#e54425" d="M216,119l-14,8-3-3 14-8z"/>
<path color="#e64d27" d="M202,127l-14,9-3-3 14-9z"/>
<path color="#e65728" d="M188,136l-14,10-3-4 14-9z"/>
<path color="#e7602a" d="M174,146l-15,9-3-3 15-10z"/>
<path color="#e76a2c" d="M159,155l-16,10-3-4 16-9z"/>
<path color="#e7732e" d="M143,165l-15,9-4-3 16-10z"/>
<path color="#e77c2f" d="M128,174l-16,11-4-4 16-10z"/>
<path color="#fb6226" d="M329,73l-11,4-3-14 11-5z"/>
<path color="#fa5925" d="M318,77l-11,6-3-15 11-5z"/>
<path color="#f85123" d="M307,83l-12,5-3-15 12-5z"/>
<path color="#f84a22" d="M295,88l-12,5-3-15 12-5z"/>
<path color="#fa4f24" d="M283,93l-24,16-4-15 25-16z"/>
<path color="#fc5b26" d="M259,109l-13,7-3-14 12-8z"/>
<path color="#fd6227" d="M246,116l-13,9-3-15 13-8z"/>
<path color="#fe6a29" d="M233,125l-13,8-4-14 14-9z"/>
<path color="#ff722a" d="M220,133l-14,8-4-14 14-8z"/>
<path color="#ff7a2c" d="M206,141l-14,9-4-14 14-9z"/>
<path color="#ff822d" d="M192,150l-14,9-4-13 14-10z"/>
<path color="#ff8a2f" d="M178,159l-15,9-4-13 15-9z"/>
<path color="#ff9531" d="M163,168l-31,20-4-14 31-19z"/>
<path color="#ff9d34" d="M132,188l-16,10-4-13 16-11z"/>
<path color="#f9ab43" d="M332,90l-11,5-3-18 11-4z"/>
<path color="#faa740" d="M321,95l-11,6-3-18 11-6z"/>
<path color="#fca23c" d="M310,101l-23,11-25,14-3-17 24-16 24-10z"/>
<path color="#fca73f" d="M262,126l-25,16-4-17 26-16z"/>
<path color="#fcac43" d="M237,142l-27,17-4-18 27-16z"/>
<path color="#fab347" d="M210,159l-43,26-4-17 43-27z"/>
<path color="#f9b94b" d="M167,185l-15,10-4-17 15-10z"/>
<path color="#f8bb4d" d="M152,195l-16,9-4-16 16-10z"/>
<path color="#f5bd4f" d="M136,204l-16,10-4-16 16-10z"/>
<path color="#afc86b" d="M335,110l-11,5-3-20 11-5z"/>
<path color="#b4c868" d="M324,115l-11,5-3-19 11-6z"/>
<path color="#bec964" d="M313,120l-23,12-49,29-55,33-4-18 105-64 23-11z"/>
<path color="#b8cd6a" d="M186,194l-15,9-4-18 15-9z"/>
<path color="#b4ce6d" d="M171,203l-46,29-5-18 47-29z"/>
<path class="m" d="M335,110l-6-37-3-15-3-3M324,115l-6-38-3-14-3-3M313,120l-6-37-3-15-3-3M302,126l-7-38-3-15-3-3M290,132l-7-39-3-15-3-3M278,139l-7-38-3-15-3-3M266,146l-7-37-4-15-3-3M254,153l-8-37-3-14-3-3M241,161l-8-36-3-15-4-3M227,169l-7-36-4-14-3-3M214,177l-8-36-4-14-3-3M200,186l-8-36-4-14-3-3M186,194l-8-35-4-13-3-4M171,203l-8-35-4-13-3-3M156,213l-8-35-5-13-3-4M141,222l-9-34-4-14-4-3M323,55l-46,20-169,106"/>
<path color="#5b9fc1" d="M338,133l-33,17-3-24 33-16z"/>
<path color="#63aac1" d="M305,150l-11,5-49,29-69,41-5-22 70-42 49-29 12-6z"/>
<path color="#64adc4" d="M176,225l-46,28-5-21 46-29z"/>
<path color="#4d7ac6" d="M339,138l-11,5-1-5 11-5z"/>
<path color="#4f82c6" d="M328,143l-34,17 0-5 33-17z"/>
<path color="#518dc9" d="M294,160l-49,28-26,16-1-5 27-15 49-29z"/>
<path color="#5394cb" d="M219,204l-88,53-1-4 88-54z"/>
<path class="m" d="M339,138l-4-28M328,143l-4-28M317,149l-4-29M306,155l-4-29M294,160l-4-28M283,167l-5-28M271,174l-5-28M258,181l-4-28M245,188l-4-27M232,196l-5-27M219,204l-5-27M205,212l-5-26M191,221l-5-27M177,230l-6-27M162,239l-6-26M146,248l-5-26"/>
<path class="m" d="M339,138l-45,22-49,28-114,69"/>
<path color="#4967c7" d="M341,151l-21,11-3-13 22-11z"/>
<path color="#4a6ec8" d="M320,162l-23,12-3-14 23-11z"/>
<path color="#4c73c9" d="M297,174l-12,6-2-13 11-7z"/>
<path color="#4d79ca" d="M285,180l-50,29-3-13 51-29z"/>
<path color="#4e80cc" d="M235,209l-70,42-3-12 70-43z"/>
<path color="#4f85ce" d="M165,251l-31,18-3-12 31-18z"/>
<path color="#4e53ca" d="M344,163l-21,11-3-12 21-11z"/>
<path color="#4d5bcc" d="M323,174l-35,19-3-13 35-18z"/>
<path color="#4c64cf" d="M288,193l-36,20-27,15-3-11 26-16 37-21z"/>
<path color="#4b6bd2" d="M225,228l-42,25-3-11 42-25z"/>
<path color="#4b6fd4" d="M183,253l-45,27-4-11 46-27z"/>
<path class="m" d="M344,163l-3-12-2-13M333,169l-3-12-2-14M323,174l-3-12-3-13M311,180l-3-12-2-13M300,186l-3-12-3-14M288,193l-3-13-2-13M276,199l-3-12-2-13M264,206l-3-12-3-13M252,213l-4-12-3-13M239,221l-4-12-3-13M225,228l-3-11-3-13M212,236l-4-11-3-13M198,245l-4-12-3-12M183,253l-3-11-3-12M169,262l-4-11-3-12M154,271l-4-11-4-12"/>
<path color="#5741b5" d="M347,170l-11,6-3-7 11-6z"/>
<path color="#5545bd" d="M336,176l-11,6-2-8 10-5z"/>
<path color="#5349c6" d="M325,182l-11,6-3-8 12-6z"/>
<path color="#5050d2" d="M314,188l-34,19-4-8 35-19z"/>
<path color="#4f58d5" d="M280,207l-25,13-3-7 24-14z"/>
<path color="#4e5dd9" d="M255,220l-26,16-4-8 27-15z"/>
<path color="#4d64db" d="M229,236l-88,52-3-8 87-52z"/>
<path color="#5a369e" d="M350,174l-11,6-3-4 11-6z"/>
<path color="#583aa7" d="M339,180l-11,6-3-4 11-6z"/>
<path color="#563eb0" d="M328,186l-11,6-3-4 11-6z"/>
<path color="#5345be" d="M317,192l-23,12-3-4 23-12z"/>
<path color="#4f4bcb" d="M294,204l-11,7-3-4 11-7z"/>
<path color="#4d4fd3" d="M283,211l-13,6-3-4 13-6z"/>
<path color="#4b52da" d="M270,217l-12,7-3-4 12-7z"/>
<path color="#4b55de" d="M258,224l-13,8-3-4 13-8z"/>
<path color="#4a5adf" d="M245,232l-70,41-3-4 70-41z"/>
<path color="#4860df" d="M175,273l-30,18-4-3 31-19z"/>
<path color="#5f2e8c" d="M352,178l-10,6-3-4 11-6z"/>
<path color="#5c3295" d="M342,184l-11,6-3-4 11-6z"/>
<path color="#5a369e" d="M331,190l-11,6-3-4 11-6z"/>
<path color="#583aa7" d="M320,196l-11,6-3-4 11-6z"/>
<path color="#563fb1" d="M309,202l-12,6-3-4 12-6z"/>
<path color="#5245be" d="M297,208l-24,13-3-4 24-13z"/>
<path color="#4f4bca" d="M273,221l-12,7-3-4 12-7z"/>
<path color="#4d4fd5" d="M261,228l-13,8-3-4 13-8z"/>
<path color="#4c51da" d="M248,236l-13,8-3-4 13-8z"/>
<path color="#4b54dd" d="M235,244l-27,16-4-4 28-16z"/>
<path color="#4959de" d="M208,260l-60,35-3-4 59-35z"/>
<path color="#4f247a" d="M354,179l-11,6-1-1 10-6z"/>
<path color="#4d2882" d="M343,185l-10,6-2-1 11-6z"/>
<path color="#4c2c8b" d="M333,191l-11,6-2-1 11-6z"/>
<path color="#4a3093" d="M322,197l-12,6-1-1 11-6z"/>
<path color="#4735a0" d="M310,203l-23,13-1-1 23-13z"/>
<path color="#443aac" d="M287,216l-12,6-2-1 13-6z"/>
<path color="#423eb4" d="M275,222l-13,7-1-1 12-7z"/>
<path color="#4142bf" d="M262,229l-12,8-2-1 13-8z"/>
<path color="#3f45c6" d="M250,237l-27,16-2-1 27-16z"/>
<path color="#3d49ce" d="M223,253l-28,16-2-1 28-16z"/>
<path color="#3c4dce" d="M195,269l-45,28-2-2 45-27z"/>
<path class="m" d="M354,179l-2-1-5-8-3-7M343,185l-1-1-6-8-3-7M333,191l-2-1-6-8-2-8M322,197l-2-1-6-8-3-8M310,203l-1-1-6-8-3-8M299,209l-2-1-6-8-3-7M287,216l-1-1-6-8-4-8M275,222l-2-1-6-8-3-7M262,229l-1-1-6-8-3-7M250,237l-2-1-6-8-3-7M236,245l-1-1-6-8-4-8M223,253l-2-1-6-8-3-8M209,261l-1-1-7-8-3-7M195,269l-2-1-6-7-4-8M180,278l-1-1-7-8-3-7M165,287l-1-1-7-8-3-7"/>
<path class="m" d="M354,179l-92,50-112,68"/>
<path color="#502377" d="M355,180l-10,6-2-1 11-6z"/>
<path color="#4e2780" d="M345,186l-11,6-1-1 10-6z"/>
<path color="#4c2b88" d="M334,192l-11,6-1-1 11-6z"/>
<path color="#4a2e91" d="M323,198l-11,6-2-1 12-6z"/>
<path color="#483299" d="M312,204l-12,6-1-1 11-6z"/>
<path color="#4636a1" d="M300,210l-11,6-2,0 12-7z"/>
<path color="#4439a9" d="M289,216l-13,7-1-1 12-6z"/>
<path color="#423db1" d="M276,223l-12,7-2-1 13-7z"/>
<path color="#4141bd" d="M264,230l-13,8-1-1 12-8z"/>
<path color="#4043c1" d="M251,238l-13,8-2-1 14-8z"/>
<path color="#3e46c9" d="M238,246l-27,16-2-1 27-16z"/>
<path color="#3d4ace" d="M211,262l-29,17-2-1 29-17z"/>
<path color="#3c4dce" d="M182,279l-31,19-1-1 30-19z"/>
<path color="#512173" d="M358,182l-10,6-3-2 10-6z"/>
<path color="#4f257c" d="M348,188l-11,5-3-1 11-6z"/>
<path color="#4d2984" d="M337,193l-11,6-3-1 11-6z"/>
<path color="#4b2d8d" d="M326,199l-11,7-3-2 11-6z"/>
<path color="#493195" d="M315,206l-12,6-3-2 12-6z"/>
<path color="#47349d" d="M303,212l-12,6-2-2 11-6z"/>
<path color="#443aaa" d="M291,218l-24,14-3-2 25-14z"/>
<path color="#423fb9" d="M267,232l-13,8-3-2 13-8z"/>
<path color="#4042c0" d="M254,240l-26,16-3-2 26-16z"/>
<path color="#3e47ca" d="M228,256l-28,17-4-3 29-16z"/>
<path color="#3c4ace" d="M200,273l-30,17-3-2 29-18z"/>
<path color="#3c4cce" d="M170,290l-16,10-3-2 16-10z"/>
<path color="#451c68" d="M361,183l-10,6-3-1 10-6z"/>
<path color="#442070" d="M351,189l-11,6-3-2 11-5z"/>
<path color="#422378" d="M340,195l-11,6-3-2 11-6z"/>
<path color="#412680" d="M329,201l-11,6-3-1 11-7z"/>
<path color="#3f2a88" d="M318,207l-12,6-3-1 12-6z"/>
<path color="#3d2d90" d="M306,213l-12,7-3-2 12-6z"/>
<path color="#3c3098" d="M294,220l-12,6-3-1 12-7z"/>
<path color="#3a34a0" d="M282,226l-12,7-3-1 12-7z"/>
<path color="#3a37ab" d="M270,233l-13,8-3-1 13-8z"/>
<path color="#383ab2" d="M257,241l-26,16-3-1 26-16z"/>
<path color="#363ebc" d="M231,257l-28,17-3-1 28-17z"/>
<path color="#3543c2" d="M203,274l-45,27-4-1 46-27z"/>
<path color="#39175c" d="M364,183l-11,6-2,0 10-6z"/>
<path color="#381963" d="M353,189l-10,6-3,0 11-6z"/>
<path color="#361d6e" d="M343,195l-22,12-3,0 22-12z"/>
<path color="#342178" d="M321,207l-12,6-3,0 12-6z"/>
<path color="#322583" d="M309,213l-24,14-3-1 24-13z"/>
<path color="#302a8d" d="M285,227l-12,7-3-1 12-7z"/>
<path color="#302c95" d="M273,234l-13,7-3,0 13-8z"/>
<path color="#2f2e9a" d="M260,241l-13,8-3,0 13-8z"/>
<path color="#2e31a1" d="M247,249l-27,17-3-1 27-16z"/>
<path color="#2d35a9" d="M220,266l-44,27-3-1 44-27z"/>
<path color="#2c38ab" d="M176,293l-15,9-3-1 15-9z"/>
<path class="m" d="M364,183l-3,0-3-1-4-3M353,189l-2,0-3-1-5-3M343,195l-3,0-3-2-4-2M332,201l-3,0-3-2-4-2M321,207l-3,0-3-1-5-3M309,213l-3,0-3-1-4-3M297,220l-3,0-3-2-4-2M285,227l-3-1-3-1-4-3M273,234l-3-1-3-1-5-3M260,241l-3,0-3-1-4-3M247,249l-3,0-3-1-5-3M234,257l-3,0-3-1-5-3M220,266l-3-1-3-1-5-3M206,275l-3-1-3-1-5-4M191,283l-3,0-3-2-5-3M176,293l-3-1-3-2-5-3"/>
<path color="#381860" d="M367,183l-11,6-3,0 11-6z"/>
<path color="#371b67" d="M356,189l-10,6-3,0 10-6z"/>
<path color="#361d6e" d="M346,195l-11,6-3,0 11-6z"/>
<path color="#342178" d="M335,201l-23,13-3-1 23-12z"/>
<path color="#322583" d="M312,214l-12,6-3,0 12-7z"/>
<path color="#31288a" d="M300,220l-12,7-3,0 12-7z"/>
<path color="#302b91" d="M288,227l-12,7-3,0 12-7z"/>
<path color="#2f2e99" d="M276,234l-13,8-3-1 13-7z"/>
<path color="#2e31a0" d="M263,242l-26,16-3-1 26-16z"/>
<path color="#2d35a9" d="M237,258l-43,26-3-1 43-26z"/>
<path color="#2c38ab" d="M194,284l-30,19-3-1 30-19z"/>
<path color="#2d1d65" d="M369,182l-43,24 41-23z"/>
<path color="#2c1c63" d="M326,206l-48,27-13,8-2,1 13-8 48-27z"/>
<path color="#28248f" d="M265,241l-26,16-2,1 26-16z"/>
<path color="#272994" d="M239,257l-73,45-2,1 73-45z"/>
<path class="m" d="M369,182l-2,1-3,0M358,188l-2,1-3,0M348,194l-2,1-3,0M337,200l-2,1-3,0M326,206l-2,1-3,0M314,213l-2,1-3-1M303,219l-3,1-3,0M290,226l-2,1-3,0M278,233l-2,1-3,0M265,241l-2,1-3-1M252,249l-2,1-3-1M239,257l-2,1-3-1M225,266l-2,0-3,0M211,274l-2,1-3,0M196,283l-2,1-3-1M181,293l-2,0-3,0"/>
<path class="m" d="M369,182l-91,51-112,69"/>
<path color="#301f69" d="M370,182l-33,18 32-18z"/>
<path color="#2e1d65" d="M338,199l-59,34-98,60 97-60 59-33z"/>
<path color="#2d1c61" d="M182,292l-15,10 14-9z"/>
<path color="#301f69" d="M372,180l-23,13 21-11z"/>
<path color="#2f1d65" d="M351,191l-69,40-112,70-3,1 112-69 70-40z"/>
<path class="m" d="M372,180l-3,2M362,185l-4,3M351,191l-3,3M341,197l-4,3M329,204l-3,2M318,210l-4,3M306,217l-3,2M294,224l-4,2M282,231l-4,2M269,239l-4,2M256,247l-4,2M243,255l-4,2M229,264l-4,2M215,273l-4,1M200,282l-4,1M185,291l-4,2"/>
<path color="#3a2e7a" d="M375,175l-54,31-3,4 54-30z"/>
<path color="#392b76" d="M321,206l-36,21-26,16-3,4 26-16 36-21z"/>
<path color="#392871" d="M259,243l-87,54-2,4 86-54z"/>
<path color="#403784" d="M378,166l-43,24-3,9 43-24z"/>
<path color="#413782" d="M335,190l-11,7-3,9 11-7z"/>
<path color="#423580" d="M324,197l-37,22-25,16-3,8 26-16 36-21z"/>
<path color="#43337b" d="M262,235l-87,55-3,7 87-54z"/>
<path color="#493d86" d="M381,151l-21,11-3,16 21-12z"/>
<path color="#4e3b81" d="M360,162l-22,12-48,30-67,43-3,14 67-42 48-29 22-12z"/>
<path color="#513a7c" d="M223,247l-46,30-2,13 45-29z"/>
<path color="#5e3d7a" d="M385,130l-22,11-3,21 21-11z"/>
<path color="#633c75" d="M363,141l-22,12-61,39-3,20 61-38 22-12z"/>
<path color="#643b72" d="M280,192l-101,67-2,18 100-65z"/>
<path class="m" d="M385,130l-4,21-3,15-3,9-3,5M374,136l-3,20-3,16-3,9-3,4M363,141l-3,21-3,16-3,9-3,4M352,147l-3,21-3,16-3,9-2,4M341,153l-3,21-3,16-3,9-3,5M329,161l-2,20-3,16-3,9-3,4M317,168l-2,21-3,15-3,8-3,5M305,176l-2,20-3,15-3,8-3,5M293,184l-3,20-3,15-2,8-3,4M280,192l-3,20-2,15-3,8-3,4M267,201l-3,19-2,15-3,8-3,4M253,210l-2,19-3,14-3,8-2,4M239,219l-2,19-3,14-2,8-3,4M225,229l-2,18-3,14-2,8-3,4M210,239l-2,18-2,14-3,7-3,4M195,249l-2,18-2,13-3,7-3,4"/>
<path class="m" d="M385,130l-44,23-48,31-114,75"/>
<path color="#7d3a64" d="M388,109l-11,5-3,22 11-6z"/>
<path color="#813a61" d="M377,114l-33,17-3,22 33-17z"/>
<path color="#82395f" d="M344,131l-89,60-2,19 40-26 48-31z"/>
<path color="#7f3860" d="M255,191l-58,39-2,19 58-39z"/>
<path color="#7d3860" d="M197,230l-16,11-2,18 16-10z"/>
<path color="#9f3447" d="M391,94l-44,23-62,42-3,13 62-41 44-22z"/>
<path color="#963249" d="M285,159l-86,59-2,12 85-58z"/>
<path color="#91324c" d="M199,218l-15,11-3,12 16-11z"/>
<path color="#be3232" d="M394,79l-44,23-49,34-3,14 49-33 44-23z"/>
<path color="#b53136" d="M301,136l-40,28-3,14 40-28z"/>
<path color="#b03138" d="M261,164l-14,10-3,13 14-9z"/>
<path color="#ab313b" d="M247,174l-61,42-2,13 60-42z"/>
<path color="#b21f1d" d="M397,75l-44,22-12,9-3,4 12-8 44-23z"/>
<path color="#aa1d1c" d="M341,106l-37,26-3,4 37-26z"/>
<path color="#a01c1f" d="M304,132l-40,28-3,4 40-28z"/>
<path color="#981b22" d="M264,160l-29,20-3,4 29-20z"/>
<path color="#941a23" d="M235,180l-15,11-3,3 15-10z"/>
<path color="#8f1925" d="M220,191l-31,22-3,3 31-22z"/>
<path class="m" d="M397,75l-3,4-6,30-3,21M387,80l-3,5-7,29-3,22M376,86l-3,4-7,30-3,21M365,91l-4,5-6,29-3,22M353,97l-3,5-6,29-3,22M341,106l-3,4-6,29-3,22M329,114l-3,4-6,29-3,21M317,123l-3,4-6,28-3,21M304,132l-3,4-6,28-2,20M291,141l-3,4-6,27-2,20M278,151l-3,3-6,27-2,20M264,160l-3,4-6,27-2,19M250,170l-3,4-6,26-2,19M235,180l-3,4-5,26-2,19M220,191l-3,3-5,26-2,19M205,202l-3,3-5,25-2,19"/>
<path color="#8c1e19" d="M400,76l-32,16-3-1 32-16z"/>
<path color="#8d1f19" d="M368,92l-12,6-3-1 12-6z"/>
<path color="#93211c" d="M356,98l-62,44-3-1 62-44z"/>
<path color="#952a1e" d="M294,142l-13,9-3,0 13-10z"/>
<path color="#96311f" d="M281,151l-14,10-3-1 14-9z"/>
<path color="#983c22" d="M267,161l-28,20-4-1 29-20z"/>
<path color="#994724" d="M239,181l-15,11-4-1 15-11z"/>
<path color="#9a4e26" d="M224,192l-16,11-3-1 15-11z"/>
<path color="#9c5627" d="M208,203l-15,11-4-1 16-11z"/>
<path color="#8c1e19" d="M401,76l-32,16-1,0 32-16z"/>
<path color="#8d1f19" d="M369,92l-12,6-1,0 12-6z"/>
<path color="#93211c" d="M357,98l-62,44-1,0 62-44z"/>
<path color="#95291e" d="M295,142l-13,9-1,0 13-9z"/>
<path color="#96301f" d="M282,151l-14,10-1,0 14-10z"/>
<path color="#983b21" d="M268,161l-29,20 28-20z"/>
<path color="#994624" d="M239,181l-14,11-1,0 15-11z"/>
<path color="#9a4d25" d="M225,192l-16,11-1,0 16-11z"/>
<path color="#9b5427" d="M209,203l-16,11 15-11z"/>
<path class="m" d="M401,76l-4-1M391,81l-4-1M380,86l-4,0M369,92l-4-1M357,98l-4-1M345,106l-4,0M333,115l-4-1M321,124l-4-1M308,133l-4-1M295,142l-4-1M282,151l-4,0M268,161l-4-1M254,171l-4-1M239,181l-4-1M225,192l-5-1M209,203l-4-1"/>
<path class="m" d="M401,76l-44,22-164,116"/>
<path color="#8c1e19" d="M403,76l-32,16-2,0 32-16z"/>
<path color="#8d1f19" d="M371,92l-12,6-2,0 12-6z"/>
<path color="#93201c" d="M359,98l-61,45-3-1 62-44z"/>
<path color="#95281d" d="M298,143l-14,9-2-1 13-9z"/>
<path color="#963320" d="M284,152l-27,20-3-1 28-20z"/>
<path color="#983d22" d="M257,172l-15,10-3-1 15-10z"/>
<path color="#994524" d="M242,182l-15,11-2-1 14-11z"/>
<path color="#9a4c25" d="M227,193l-15,11-3-1 16-11z"/>
<path color="#9b5327" d="M212,204l-16,11-3-1 16-11z"/>
<path color="#a3231b" d="M407,77l-33,16-3-1 32-16z"/>
<path color="#a4231b" d="M374,93l-11,6-4-1 12-6z"/>
<path color="#aa261e" d="M363,99l-75,54-4-1 75-54z"/>
<path color="#ab3421" d="M288,153l-14,10-3-1 13-10z"/>
<path color="#ac3c22" d="M274,163l-14,10-3-1 14-10z"/>
<path color="#ad4424" d="M260,173l-15,10-3-1 15-10z"/>
<path color="#ae5026" d="M245,183l-30,22-3-1 30-22z"/>
<path color="#af5c29" d="M215,205l-16,11-3-1 16-11z"/>
<path class="m" d="M407,77l-6-1M396,82l-5-1M385,88l-5-2M374,93l-5-1M363,99l-6-1M351,108l-6-2M339,117l-6-2M327,125l-6-1M314,134l-6-1M301,144l-6-2M288,153l-6-2M274,163l-6-2M260,173l-6-2M245,183l-6-2M230,194l-5-2M215,205l-6-2"/>
<path color="#ad251c" d="M410,78l-44,23-3-2 44-22z"/>
<path color="#b3271e" d="M366,101l-62,44-3-1 62-45z"/>
<path color="#b33020" d="M304,145l-13,10-3-2 13-9z"/>
<path color="#b43822" d="M291,155l-14,10-3-2 14-10z"/>
<path color="#b44023" d="M277,165l-14,10-3-2 14-10z"/>
<path color="#b54825" d="M263,175l-14,10-4-2 15-10z"/>
<path color="#b65127" d="M249,185l-15,11-4-2 15-11z"/>
<path color="#b65928" d="M234,196l-15,11-4-2 15-11z"/>
<path color="#b7612a" d="M219,207l-16,11-4-2 16-11z"/>
<path color="#ad251c" d="M413,80l-44,22-3-1 44-23z"/>
<path color="#b3271f" d="M369,102l-61,45-4-2 62-44z"/>
<path color="#b33221" d="M308,147l-14,9-3-1 13-10z"/>
<path color="#b43b22" d="M294,156l-13,10-4-1 14-10z"/>
<path color="#b54725" d="M281,166l-29,21-3-2 28-20z"/>
<path color="#b65327" d="M252,187l-15,10-3-1 15-11z"/>
<path color="#b75b29" d="M237,197l-15,11-3-1 15-11z"/>
<path color="#b7632a" d="M222,208l-16,12-3-2 16-11z"/>
<path color="#f94622" d="M416,91l-11,5-3-11 11-5z"/>
<path color="#f73d20" d="M405,96l-10,6-3-12 10-5z"/>
<path color="#f6301e" d="M395,102l-23,12-11,8-4-11 12-9 23-12z"/>
<path color="#fa3c21" d="M361,122l-24,17-4-11 24-17z"/>
<path color="#fc4924" d="M337,139l-13,9-3-11 12-9z"/>
<path color="#fd5225" d="M324,148l-13,10-3-11 13-10z"/>
<path color="#fe5b27" d="M311,158l-13,9-4-11 14-9z"/>
<path color="#ff6328" d="M298,167l-14,10-3-11 13-10z"/>
<path color="#ff6c2a" d="M284,177l-14,10-3-11 14-10z"/>
<path color="#ff752c" d="M270,187l-14,10-4-10 15-11z"/>
<path color="#ff822e" d="M256,197l-30,22-4-11 30-21z"/>
<path color="#ff9030" d="M226,219l-16,11-4-10 16-12z"/>
<path color="#ff832c" d="M417,100l-10,5-2-9 11-5z"/>
<path color="#fe7b2b" d="M407,105l-11,6-1-9 10-6z"/>
<path color="#fc6e29" d="M396,111l-22,12-12,8-1-9 11-8 23-12z"/>
<path color="#fe732a" d="M362,131l-12,9-1-9 12-9z"/>
<path color="#ff7a2b" d="M350,140l-12,8-1-9 12-8z"/>
<path color="#ff812d" d="M338,148l-12,9-2-9 13-9z"/>
<path color="#ff8c2f" d="M326,157l-26,19-2-9 26-19z"/>
<path color="#ff9632" d="M300,176l-28,19-2-8 28-20z"/>
<path color="#ff9b35" d="M272,195l-14,11-2-9 14-10z"/>
<path color="#ffa039" d="M258,206l-30,21-2-8 30-22z"/>
<path color="#ffa53c" d="M228,227l-16,11-2-8 16-11z"/>
<path class="m" d="M417,100l-1-9-3-11-6-3M407,105l-2-9-3-11-6-3M396,111l-1-9-3-12-7-2M385,117l-1-10-4-11-6-3M374,123l-2-9-3-12-6-3M362,131l-1-9-4-11-6-3M350,140l-1-9-4-12-6-2M338,148l-1-9-4-11-6-3M326,157l-2-9-3-11-7-3M313,166l-2-8-3-11-7-3M300,176l-2-9-4-11-6-3M286,185l-2-8-3-11-7-3M272,195l-2-8-3-11-7-3M258,206l-2-9-4-10-7-4M243,216l-2-8-4-11-7-3M228,227l-2-8-4-11-7-3"/>
<path class="m" d="M417,100l-43,23-162,115"/>
<path color="#f9a03d" d="M418,111l-31,17-2-11 32-17z"/>
<path color="#fc9a38" d="M387,128l-12,7-11,8-2-12 12-8 11-6z"/>
<path color="#fba13c" d="M364,143l-49,34-2-11 49-35z"/>
<path color="#faa740" d="M315,177l-13,10-2-11 13-10z"/>
<path color="#f9ac44" d="M302,187l-42,29-2-10 42-30z"/>
<path color="#f8b349" d="M260,216l-30,22-2-11 30-21z"/>
<path color="#f7b74b" d="M230,238l-15,11-3-11 16-11z"/>
<path color="#d3c95a" d="M421,125l-10,6-3-14 10-6z"/>
<path color="#dcc557" d="M411,131l-21,11-3-14 21-11z"/>
<path color="#e5c254" d="M390,142l-11,7-4-14 12-7z"/>
<path color="#e8c454" d="M379,149l-12,8-3-14 11-8z"/>
<path color="#e4c656" d="M367,157l-36,25-3-14 36-25z"/>
<path color="#decb5a" d="M331,182l-39,28-4-14 40-28z"/>
<path color="#d9ce5c" d="M292,210l-14,9-4-13 14-10z"/>
<path color="#d6d05e" d="M278,219l-14,11-4-14 14-10z"/>
<path color="#d1d360" d="M264,230l-45,32-4-13 45-33z"/>
<path color="#6cb0b5" d="M424,152l-10,6-3-27 10-6z"/>
<path color="#74b4aa" d="M414,158l-11,6-2-27 10-6z"/>
<path color="#7db89f" d="M403,164l-10,6-3-28 11-5z"/>
<path color="#84bb95" d="M393,170l-11,7-3-28 11-7z"/>
<path color="#88be91" d="M382,177l-12,7-3-27 12-8z"/>
<path color="#89bf90" d="M370,184l-35,24-4-26 36-25z"/>
<path color="#89c092" d="M335,208l-26,18-4-26 26-18z"/>
<path color="#85bf98" d="M309,226l-55,39-5-25 56-40z"/>
<path color="#82be9d" d="M254,265l-30,21-5-24 30-22z"/>
<path color="#4e7cc6" d="M426,173l-10,6-2-21 10-6z"/>
<path color="#4f83c6" d="M416,179l-31,19-3-21 32-19z"/>
<path color="#518dc8" d="M385,198l-47,30-3-20 47-31z"/>
<path color="#5394cb" d="M338,228l-110,77-4-19 111-78z"/>
<path class="m" d="M426,173l-2-21-3-27-3-14-1-11M416,179l-2-21-3-27-3-14-1-12M406,185l-3-21-2-27-3-15-2-11M395,191l-2-21-3-28-3-14-2-11M385,198l-3-21-3-28-4-14-1-12M373,205l-3-21-3-27-3-14-2-12M362,213l-3-21-4-27-3-14-2-11M350,220l-3-20-4-27-3-13-2-12M338,228l-3-20-4-26-3-14-2-11M326,237l-4-20-4-26-3-14-2-11M313,246l-4-20-4-26-3-13-2-11M300,255l-4-19-4-26-4-14-2-11M286,264l-4-19-4-26-4-13-2-11M272,274l-4-19-4-25-4-14-2-10M258,284l-4-19-5-25-4-13-2-11M243,294l-4-18-5-25-4-13-2-11"/>
<path color="#4c5bc8" d="M429,188l-31,19-3-16 31-18z"/>
<path color="#4b64ca" d="M398,207l-45,29-3-16 45-29z"/>
<path color="#4a6acc" d="M353,236l-12,8-3-16 12-8z"/>
<path color="#4a6ece" d="M341,244l-51,36-4-16 52-36z"/>
<path color="#4b72cf" d="M290,280l-14,9-4-15 14-10z"/>
<path color="#4c75d0" d="M276,289l-44,31-4-15 44-31z"/>
<path color="#524ac8" d="M431,194l-10,7-2-7 10-6z"/>
<path color="#4f51d1" d="M421,201l-31,19-2-6 31-20z"/>
<path color="#4e5ad4" d="M390,220l-34,22-3-6 35-22z"/>
<path color="#4e5fd5" d="M356,242l-12,8-3-6 12-8z"/>
<path color="#4d65d9" d="M344,250l-65,45-3-6 65-45z"/>
<path color="#4c6cdb" d="M279,295l-44,31-3-6 44-31z"/>
<path class="m" d="M431,194l-2-6-3-15M421,201l-2-7-3-15M411,207l-2-6-3-16M401,214l-3-7-3-16M390,220l-2-6-3-16M379,227l-2-6-4-16M368,235l-3-7-3-15M356,242l-3-6-3-16M344,250l-3-6-3-16M332,259l-3-7-3-15M319,267l-3-6-3-15M306,276l-3-6-3-15M292,286l-2-6-4-16M279,295l-3-6-4-15M264,305l-2-6-4-15M250,315l-3-6-4-15"/>
<path class="m" d="M431,194l-41,26-46,30-109,76"/>
<path color="#5840b3" d="M432,197l-10,6-1-2 10-7z"/>
<path color="#5544bc" d="M422,203l-10,6-1-2 10-6z"/>
<path color="#5348c4" d="M412,209l-11,7 0-2 10-7z"/>
<path color="#5050d1" d="M401,216l-33,21 0-2 33-21z"/>
<path color="#4f57d4" d="M368,237l-23,15-1-2 24-15z"/>
<path color="#4e5dd8" d="M345,252l-38,26-1-2 38-26z"/>
<path color="#4d64da" d="M307,278l-71,50-1-2 71-50z"/>
<path color="#5b3ba8" d="M435,202l-10,6-3-5 10-6z"/>
<path color="#583fb1" d="M425,208l-10,6-3-5 10-6z"/>
<path color="#5643ba" d="M415,214l-10,7-4-5 11-7z"/>
<path color="#5447c3" d="M405,221l-11,7-3-6 10-6z"/>
<path color="#524ccc" d="M394,228l-11,7-3-5 11-8z"/>
<path color="#504fd4" d="M383,235l-11,7-4-5 12-7z"/>
<path color="#4e53d9" d="M372,242l-12,8-3-6 11-7z"/>
<path color="#4d5add" d="M360,250l-12,7-51,36-4-5 52-36 12-8z"/>
<path color="#4c62df" d="M297,293l-43,29-3-5 42-29z"/>
<path color="#4b65e0" d="M254,322l-15,11-3-5 15-11z"/>
<path class="m" d="M435,202l-4-8M425,208l-4-7M415,214l-4-7M405,221l-4-7M394,228l-4-8M383,235l-4-8M372,242l-4-7M360,250l-4-8M348,257l-4-7M336,266l-4-7M323,275l-4-8M310,284l-4-8M297,293l-5-7M283,302l-4-7M269,312l-5-7M254,322l-4-7"/>
<path color="#5d3193" d="M438,206l-10,6-3-4 10-6z"/>
<path color="#5b359c" d="M428,212l-10,7-3-5 10-6z"/>
<path color="#573caa" d="M418,219l-21,13-3-4 21-14z"/>
<path color="#5442b8" d="M397,232l-11,7-3-4 11-7z"/>
<path color="#5246c0" d="M386,239l-11,7-3-4 11-7z"/>
<path color="#504ac9" d="M375,246l-12,8-3-4 12-8z"/>
<path color="#4d4ed1" d="M363,254l-12,7-3-4 12-7z"/>
<path color="#4c53dd" d="M351,261l-25,18-3-4 25-18z"/>
<path color="#4a5ade" d="M326,279l-83,58-4-4 84-58z"/>
<path color="#582982" d="M441,209l-10,6-3-3 10-6z"/>
<path color="#562d8b" d="M431,215l-10,6-3-2 10-7z"/>
<path color="#543194" d="M421,221l-10,7-3-3 10-6z"/>
<path color="#52359d" d="M411,228l-11,7-3-3 11-7z"/>
<path color="#4e3baa" d="M400,235l-22,14-3-3 22-14z"/>
<path color="#4b40b7" d="M378,249l-12,8-3-3 12-8z"/>
<path color="#4944bf" d="M366,257l-11,7-4-3 12-7z"/>
<path color="#4848ca" d="M355,264l-13,9-3-3 12-9z"/>
<path color="#464acf" d="M342,273l-12,9-4-3 13-9z"/>
<path color="#454dd4" d="M330,282l-13,9-3-3 12-9z"/>
<path color="#4352d7" d="M317,291l-71,49-3-3 71-49z"/>
<path color="#502275" d="M444,210l-10,7-3-2 10-6z"/>
<path color="#4d2882" d="M434,217l-20,13-3-2 20-13z"/>
<path color="#4b2e8f" d="M414,230l-11,7-3-2 11-7z"/>
<path color="#493197" d="M403,237l-11,7-3-2 11-7z"/>
<path color="#47359f" d="M392,244l-11,7-3-2 11-7z"/>
<path color="#4539a8" d="M381,251l-11,8-4-2 12-8z"/>
<path color="#433cb0" d="M370,259l-12,8-3-3 11-7z"/>
<path color="#4240bb" d="M358,267l-12,8-4-2 13-9z"/>
<path color="#4042c0" d="M346,275l-13,9-3-2 12-9z"/>
<path color="#3f45c7" d="M333,284l-26,18-3-2 26-18z"/>
<path color="#3d49ce" d="M307,302l-28,20-3-2 28-20z"/>
<path color="#3c4cce" d="M279,322l-29,21-4-3 30-20z"/>
<path color="#512070" d="M447,212l-10,7-3-2 10-7z"/>
<path color="#4f2479" d="M437,219l-10,6-3-2 10-6z"/>
<path color="#4e2881" d="M427,225l-10,7-3-2 10-7z"/>
<path color="#4c2b8a" d="M417,232l-10,7-4-2 11-7z"/>
<path color="#493196" d="M407,239l-23,14-3-2 22-14z"/>
<path color="#4637a3" d="M384,253l-11,8-3-2 11-8z"/>
<path color="#433aab" d="M373,261l-12,8-3-2 12-8z"/>
<path color="#433eb6" d="M361,269l-12,8-3-2 12-8z"/>
<path color="#4140bb" d="M349,277l-12,9-4-2 13-9z"/>
<path color="#4042c0" d="M337,286l-13,9-4-2 13-9z"/>
<path color="#3e45c8" d="M324,295l-27,19-4-2 27-19z"/>
<path color="#3c49cd" d="M297,314l-29,20-3-2 28-20z"/>
<path color="#3c4ccd" d="M268,334l-14,11-4-2 15-11z"/>
<path class="m" d="M447,212l-6-3-3-3-3-4M437,219l-6-4-3-3-3-4M427,225l-6-4-3-2-3-5M417,232l-6-4-3-3-3-4M407,239l-7-4-3-3-3-4M396,246l-7-4-3-3-3-4M384,253l-6-4-3-3-3-4M373,261l-7-4-3-3-3-4M361,269l-6-5-4-3-3-4M349,277l-7-4-3-3-3-4M337,286l-7-4-4-3-3-4M324,295l-7-4-3-3-4-4M311,305l-7-5-4-3-3-4M297,314l-7-4-3-3-4-5M283,324l-7-4-4-3-3-5M268,334l-7-4-3-3-4-5"/>
<path class="m" d="M447,212l-86,57-107,76"/>
<path color="#39165b" d="M450,213l-9,6-4,0 10-7z"/>
<path color="#381961" d="M441,219l-10,7-4-1 10-6z"/>
<path color="#371b68" d="M431,226l-11,6-3,0 10-7z"/>
<path color="#351e6f" d="M420,232l-10,7-3,0 10-7z"/>
<path color="#342176" d="M410,239l-11,7-3,0 11-7z"/>
<path color="#322581" d="M399,246l-23,15-3,0 23-15z"/>
<path color="#31298c" d="M376,261l-11,8-4,0 12-8z"/>
<path color="#302c94" d="M365,269l-13,9-3-1 12-8z"/>
<path color="#2f2e98" d="M352,278l-12,9-3-1 12-9z"/>
<path color="#2e309f" d="M340,287l-26,18-3,0 26-19z"/>
<path color="#2d33a6" d="M314,305l-14,10-3-1 14-9z"/>
<path color="#2d36aa" d="M300,315l-28,20-4-1 29-20z"/>
<path color="#2c38ab" d="M272,335l-15,11-3-1 14-11z"/>
<path color="#38175f" d="M454,213l-10,6-3,0 9-6z"/>
<path color="#371a66" d="M444,219l-10,7-3,0 10-7z"/>
<path color="#361d6c" d="M434,226l-10,7-4-1 11-6z"/>
<path color="#342177" d="M424,233l-22,14-3-1 21-14z"/>
<path color="#322581" d="M402,247l-11,7-3,0 11-8z"/>
<path color="#31298c" d="M391,254l-23,15-3,0 23-15z"/>
<path color="#2f2d97" d="M368,269l-12,9-4,0 13-9z"/>
<path color="#2e309e" d="M356,278l-26,18-3,0 25-18z"/>
<path color="#2d33a5" d="M330,296l-13,10-3-1 13-9z"/>
<path color="#2c35aa" d="M317,306l-27,20-4-1 28-20z"/>
<path color="#2c38ab" d="M290,326l-29,21-4-1 29-21z"/>
<path color="#33155c" d="M457,212l-10,7-3,0 10-6z"/>
<path color="#321762" d="M447,219l-10,6-3,1 10-7z"/>
<path color="#311969" d="M437,225l-10,7-3,1 10-7z"/>
<path color="#301b6f" d="M427,232l-11,7-3,0 11-6z"/>
<path color="#2e1f79" d="M416,239l-22,15-3,0 22-15z"/>
<path color="#2d2383" d="M394,254l-11,7-3,1 11-8z"/>
<path color="#2b268d" d="M383,261l-24,17-3,0 24-16z"/>
<path color="#2a2a97" d="M359,278l-25,18-4,0 26-18z"/>
<path color="#2a2d9c" d="M334,296l-13,10-4,0 13-10z"/>
<path color="#2a309e" d="M321,306l-57,41-3,0 56-41z"/>
<path color="#301f69" d="M460,210l-30,20 27-18z"/>
<path color="#2e1d65" d="M430,230l-55,37-108,78-3,2 107-78 56-37z"/>
<path class="m" d="M460,210l-3,2-3,1-7-1M450,217l-3,2-3,0-7,0M440,223l-3,2-3,1-7-1M430,230l-3,2-3,1-7-1M420,237l-4,2-3,0-6,0M409,244l-4,2-3,1-6-1M398,252l-4,2-3,0-7-1M386,259l-3,2-3,1-7-1M375,267l-4,2-3,0-7,0M362,276l-3,2-3,0-7-1M350,285l-3,2-4,0-6-1M337,295l-3,1-4,0-6-1M324,304l-3,2-4,0-6-1M311,314l-4,1-3,0-7-1M297,324l-4,1-3,1-7-2M282,335l-3,1-4,0-7-2"/>
<path color="#352570" d="M463,207l-40,27-22,15-3,3 62-42z"/>
<path color="#33226c" d="M401,249l-23,16-28,20 25-18 23-15z"/>
<path color="#321f67" d="M353,283l-86,62 83-60z"/>
<path color="#3d327f" d="M464,205l-62,42-1,2 62-42z"/>
<path color="#3c2f7a" d="M402,247l-23,16-64,47-1,2 64-47 23-16z"/>
<path color="#3c2c75" d="M315,310l-43,32-1,1 43-31z"/>
<path class="m" d="M464,205l-1,2-3,3M455,212l-1,1-4,4M445,218l-1,2-4,3M434,225l-1,2-3,3M424,232l-1,2-3,3M413,240l-1,1-3,3M402,247l-1,2-3,3M391,255l-1,2-4,2M379,263l-1,2-3,2M367,272l-1,1-4,3M354,281l-1,2-3,2M342,291l-1,1-4,3M328,300l0,2-4,2M315,310l-1,2-3,2M301,321l-1,1-3,2M287,331l-1,1-4,3"/>
<path class="m" d="M464,205l-40,27-45,31-107,79"/>
<path color="#3d327f" d="M467,201l-51,34-3,5 51-35z"/>
<path color="#3d2f79" d="M416,235l-35,24-64,47-2,4 64-47 34-23z"/>
<path color="#3e2c74" d="M317,306l-43,32-2,4 43-32z"/>
<path color="#453c88" d="M471,187l-20,13-4,14 20-13z"/>
<path color="#493a82" d="M451,200l-21,13-45,33-78,59-3,12 77-58 66-45z"/>
<path color="#4b387e" d="M307,305l-30,22-3,11 30-21z"/>
<path class="m" d="M471,187l-4,14-3,4M461,193l-4,14-2,5M451,200l-4,14-2,4M441,206l-4,14-3,5M430,213l-4,14-2,5M419,221l-3,14-3,5M408,229l-3,14-3,4M397,237l-4,14-2,4M385,246l-4,13-2,4M373,255l-4,13-2,4M360,264l-3,13-3,4M348,274l-4,12-2,5M334,284l-3,12-3,4M321,294l-4,12-2,4M307,305l-3,12-3,4M292,315l-3,12-2,4"/>
<path color="#533d80" d="M475,168l-20,13-4,19 20-13z"/>
<path color="#563d7e" d="M455,181l-21,13-4,19 21-13z"/>
<path color="#5a3b79" d="M434,194l-45,34-108,83-4,16 108-81 45-33z"/>
<path color="#723d6e" d="M479,142l-20,12-4,27 20-13z"/>
<path color="#763c6b" d="M459,154l-21,14-4,26 21-13z"/>
<path color="#763b68" d="M438,168l-46,35-108,85-3,23 108-83 45-34z"/>
<path color="#8e3452" d="M483,130l-30,18-4,13 30-19z"/>
<path color="#92334e" d="M453,148l-11,7-11,9-4,12 11-8 11-7z"/>
<path color="#8c324e" d="M431,164l-114,90-4,11 114-89z"/>
<path color="#853151" d="M317,254l-30,24-3,10 29-23z"/>
<path color="#aa3644" d="M485,119l-41,25-2,11 41-25z"/>
<path color="#ad3541" d="M444,144l-11,9-2,11 11-9z"/>
<path color="#a93543" d="M433,153l-60,48-2,10 60-47z"/>
<path color="#a03548" d="M373,201l-84,68-2,9 84-67z"/>
<path class="m" d="M485,119l-2,11-4,12-4,26-4,19M475,125l-2,11-4,12-4,26-4,19M465,131l-2,11-4,12-4,27-4,19M455,137l-2,11-4,13-4,26-4,19M444,144l-2,11-4,13-4,26-4,19M433,153l-2,11-4,12-4,26-4,19M422,162l-2,11-4,12-4,25-4,19M410,171l-2,11-4,12-4,25-3,18M398,181l-2,10-4,12-3,25-4,18M386,191l-2,10-4,12-4,24-3,18M373,201l-2,10-3,11-4,25-4,17M360,211l-2,10-3,12-4,23-3,18M347,222l-2,10-4,11-3,24-4,17M333,233l-2,10-4,11-3,23-3,17M318,245l-1,9-4,11-3,23-3,17M304,257l-2,9-3,10-3,23-4,16"/>
<path class="m" d="M485,119l-41,25-155,125"/>
<path color="#b83338" d="M487,111l-10,6-2,8 10-6z"/>
<path color="#bc3234" d="M477,117l-31,19-34,27-2,8 34-27 31-19z"/>
<path color="#b63236" d="M412,163l-24,20-2,8 24-20z"/>
<path color="#b23238" d="M388,183l-26,21-2,7 26-20z"/>
<path color="#aa313c" d="M362,204l-72,58-1,7 71-58z"/>
<path color="#c32d28" d="M491,101l-10,6-4,10 10-6z"/>
<path color="#c72c25" d="M481,107l-31,19-4,10 31-19z"/>
<path color="#c72b22" d="M450,126l-11,9-4,10 11-9z"/>
<path color="#c42b24" d="M439,135l-12,9-3,10 11-9z"/>
<path color="#be2a26" d="M427,144l-36,30-3,9 36-29z"/>
<path color="#b62a2b" d="M391,174l-39,32-4,9 40-32z"/>
<path color="#b02a2d" d="M352,206l-14,12-4,8 14-11z"/>
<path color="#ab2930" d="M338,218l-44,36-4,8 44-36z"/>
<path color="#8c1e19" d="M495,102l-31,18-3-1 30-18z"/>
<path color="#8d1f19" d="M464,120l-10,6-4,0 11-7z"/>
<path color="#93201c" d="M454,126l-47,39-3-1 46-38z"/>
<path color="#94271d" d="M407,165l-25,20-3,0 25-21z"/>
<path color="#963220" d="M382,185l-13,11-4-1 14-10z"/>
<path color="#983d22" d="M369,196l-27,23-4-1 27-23z"/>
<path color="#994824" d="M342,219l-14,11-4-1 14-11z"/>
<path color="#9a4f26" d="M328,230l-15,12-4-1 15-12z"/>
<path color="#9c5627" d="M313,242l-15,13-4-1 15-13z"/>
<path color="#8c1e19" d="M498,102l-30,18-4,0 31-18z"/>
<path color="#8d1f19" d="M468,120l-11,7-3-1 10-6z"/>
<path color="#93211c" d="M457,127l-58,49-4-1 59-49z"/>
<path color="#95291e" d="M399,176l-13,10-4-1 13-10z"/>
<path color="#96301f" d="M386,186l-13,11-4-1 13-11z"/>
<path color="#983b21" d="M373,197l-27,23-4-1 27-23z"/>
<path color="#994624" d="M346,220l-15,11-3-1 14-11z"/>
<path color="#9a4d25" d="M331,231l-14,13-4-2 15-12z"/>
<path color="#9b5427" d="M317,244l-15,12-4-1 15-13z"/>
<path class="m" d="M498,102l-7-1-4,10-2,8M488,108l-7-1-4,10-2,8M478,114l-7-1-4,10-2,8M468,120l-7-1-4,10-2,8M457,127l-7-1-4,10-2,8M446,136l-7-1-4,10-2,8M435,146l-8-2-3,10-2,8M423,155l-7-1-4,9-2,8M411,165l-7-1-4,9-2,8M399,176l-8-2-3,9-2,8M386,186l-7-1-4,8-2,8M373,197l-8-2-3,9-2,7M359,208l-7-2-4,9-1,7M346,220l-8-2-4,8-1,7M331,231l-7-2-4,8-2,8M317,244l-8-3-4,8-1,8"/>
<path color="#96201a" d="M502,103l-41,25-4-1 41-25z"/>
<path color="#9d221d" d="M461,128l-59,49-3-1 58-49z"/>
<path color="#9e291e" d="M402,177l-12,10-4-1 13-10z"/>
<path color="#9f3120" d="M390,187l-13,11-4-1 13-11z"/>
<path color="#a03c22" d="M377,198l-28,23-3-1 27-23z"/>
<path color="#a24824" d="M349,221l-14,12-4-2 15-11z"/>
<path color="#a34f26" d="M335,233l-14,12-4-1 14-13z"/>
<path color="#a45728" d="M321,245l-16,12-3-1 15-12z"/>
<path color="#ad251c" d="M504,104l-41,25-2-1 41-25z"/>
<path color="#b3261e" d="M463,129l-58,49-3-1 59-49z"/>
<path color="#b33321" d="M405,178l-26,21-2-1 25-21z"/>
<path color="#b43f23" d="M379,199l-13,12-3-2 14-11z"/>
<path color="#b54725" d="M366,211l-14,11-3-1 14-12z"/>
<path color="#b64f26" d="M352,222l-14,12-3-1 14-12z"/>
<path color="#b65828" d="M338,234l-15,12-2-1 14-12z"/>
<path color="#b7602a" d="M323,246l-15,13-3-2 16-12z"/>
<path class="m" d="M504,104l-6-2M494,110l-6-2M484,116l-6-2M474,122l-6-2M463,129l-6-2M452,138l-6-2M441,148l-6-2M429,158l-6-3M417,168l-6-3M405,178l-6-2M392,188l-6-2M379,199l-6-2M366,211l-7-3M352,222l-6-2M338,234l-7-3M323,246l-6-2"/>
<path class="m" d="M504,104l-41,25-155,130"/>
<path color="#ad251c" d="M505,104l-41,25-1,0 11-7 30-18z"/>
<path color="#b3271e" d="M464,129l-58,49-1,0 58-49z"/>
<path color="#b33020" d="M406,178l-13,11-1-1 13-10z"/>
<path color="#b43822" d="M393,189l-13,11-1-1 13-11z"/>
<path color="#b44023" d="M380,200l-13,11-1,0 13-12z"/>
<path color="#b54825" d="M367,211l-14,12-1-1 14-11z"/>
<path color="#b65127" d="M353,223l-14,11-1,0 14-12z"/>
<path color="#b65928" d="M339,234l-15,13-1-1 15-12z"/>
<path color="#b7612a" d="M324,247l-15,12-1,0 15-13z"/>
<path color="#ad251c" d="M508,106l-40,25-4-2 41-25z"/>
<path color="#b3271e" d="M468,131l-58,49-4-2 58-49z"/>
<path color="#b33120" d="M410,180l-13,11-4-2 13-11z"/>
<path color="#b43a22" d="M397,191l-13,10-4-1 13-11z"/>
<path color="#b54625" d="M384,201l-27,23-4-1 27-23z"/>
<path color="#b65227" d="M357,224l-14,12-4-2 14-11z"/>
<path color="#b75a29" d="M343,236l-15,13-4-2 15-13z"/>
<path color="#b7622a" d="M328,249l-15,12-4-2 15-12z"/>
<path class="m" d="M508,106l-4-2M499,112l-5-2M489,118l-5-2M478,124l-4-2M468,131l-5-2M457,140l-5-2M445,150l-4-2M434,160l-5-2M422,170l-5-2M410,180l-5-2M397,191l-5-3M384,201l-5-2M371,213l-5-2M357,224l-5-2M343,236l-5-2M328,249l-5-3"/>
<path color="#f53520" d="M512,112l-10,6-3-6 9-6z"/>
<path color="#f32c1e" d="M502,118l-31,19-3-6 31-19z"/>
<path color="#f72e20" d="M471,137l-34,29-3-6 34-29z"/>
<path color="#f83b23" d="M437,166l-11,10-4-6 12-10z"/>
<path color="#f94524" d="M426,176l-13,10-3-6 12-10z"/>
<path color="#fa4e26" d="M413,186l-12,11-4-6 13-11z"/>
<path color="#fb5828" d="M401,197l-13,11-4-7 13-10z"/>
<path color="#fc612a" d="M388,208l-13,11-4-6 13-12z"/>
<path color="#fd6b2b" d="M375,219l-14,12-4-7 14-11z"/>
<path color="#fd742d" d="M361,231l-14,11-4-6 14-12z"/>
<path color="#fe7e2f" d="M347,242l-15,13-4-6 15-13z"/>
<path color="#ff8831" d="M332,255l-15,12-4-6 15-12z"/>
<path color="#fe792b" d="M514,129l-10,7-2-18 10-6z"/>
<path color="#fd7129" d="M504,136l-9,6-3-18 10-6z"/>
<path color="#fb6427" d="M495,142l-21,14-11,9-3-18 11-10 21-13z"/>
<path color="#fe6d29" d="M463,165l-22,18-4-17 23-19z"/>
<path color="#ff782b" d="M441,183l-12,10-3-17 11-10z"/>
<path color="#ff7f2c" d="M429,193l-12,10-4-17 13-10z"/>
<path color="#ff872e" d="M417,203l-13,11-3-17 12-11z"/>
<path color="#ff8e2f" d="M404,214l-12,11-4-17 13-11z"/>
<path color="#ff9732" d="M392,225l-27,22-4-16 27-23z"/>
<path color="#ff9c35" d="M365,247l-14,12-4-17 14-11z"/>
<path color="#ffa139" d="M351,259l-30,25-4-17 30-25z"/>
<path color="#f8b348" d="M517,146l-30,20-3-18 30-19z"/>
<path color="#fbad43" d="M487,166l-10,7-11,9-3-17 11-9 10-8z"/>
<path color="#fbb347" d="M466,182l-46,38-3-17 46-38z"/>
<path color="#f9bc4d" d="M420,220l-38,32-4-16 39-33z"/>
<path color="#f2c151" d="M382,252l-27,23-4-16 27-23z"/>
<path color="#edc353" d="M355,275l-15,12-4-16 15-12z"/>
<path color="#eac555" d="M340,287l-14,13-5-16 15-13z"/>
<path color="#9ec875" d="M519,171l-10,6-2-24 10-7z"/>
<path color="#a4c771" d="M509,177l-9,7-3-25 10-6z"/>
<path color="#acc66c" d="M500,184l-21,14-2-25 20-14z"/>
<path color="#b0c86b" d="M479,198l-56,46-3-24 57-47z"/>
<path color="#abcb70" d="M423,244l-64,54-4-23 65-55z"/>
<path color="#a7cd73" d="M359,298l-15,12-4-23 15-12z"/>
<path color="#a5cd75" d="M344,310l-14,12-4-22 14-13z"/>
<path class="m" d="M519,171l-2-25-5-34-4-6M509,177l-2-24-5-35-3-6M500,184l-3-25-5-35-3-6M490,191l-3-25-5-36-4-6M479,198l-2-25-6-36-3-6M469,207l-3-25-6-35-3-7M458,216l-3-25-6-35-4-6M447,225l-3-25-7-34-3-6M435,234l-3-24-6-34-4-6M423,244l-3-24-7-34-3-6M411,254l-3-24-7-33-4-6M399,265l-4-24-7-33-4-7M386,275l-4-23-7-33-4-6M372,287l-3-24-8-32-4-7M359,298l-4-23-8-33-4-6M344,310l-4-23-8-32-4-6"/>
<path class="m" d="M519,171l-40,27-44,36-105,88"/>
<path color="#5393c5" d="M521,195l-19,13-2-24 19-13z"/>
<path color="#5698c4" d="M502,208l-10,7-2-24 10-7z"/>
<path color="#5ca1c5" d="M492,215l-10,8-44,34-62,52-4-22 63-53 44-36 11-7z"/>
<path color="#5da6c7" d="M376,309l-42,35-4-22 42-35z"/>
<path color="#4a65c7" d="M523,213l-19,14-2-19 19-13z"/>
<path color="#4a6dc8" d="M504,227l-30,23-3-19 11-8 20-15z"/>
<path color="#4c73ca" d="M474,250l-10,8-3-19 10-8z"/>
<path color="#4d79cb" d="M464,258l-23,18-36,29-3-18 36-30 23-18z"/>
<path color="#4e7ecd" d="M405,305l-25,22-4-18 26-22z"/>
<path color="#4f82cd" d="M380,327l-42,35-4-18 42-35z"/>
<path color="#4f52cc" d="M526,225l-28,21-3-12 28-21z"/>
<path color="#4d5acf" d="M498,246l-31,24-3-12 31-24z"/>
<path color="#4c65d3" d="M467,270l-22,17-49,40-3-11 48-40 23-18z"/>
<path color="#4c6cd6" d="M396,327l-40,33-4-10 41-34z"/>
<path color="#4b6fd7" d="M356,360l-14,12-4-10 14-12z"/>
<path color="#593fb1" d="M529,232l-9,7-3-7 9-7z"/>
<path color="#5743b9" d="M520,239l-10,7-3-7 10-7z"/>
<path color="#5447c2" d="M510,246l-9,7-3-7 9-7z"/>
<path color="#524bcb" d="M501,253l-10,8-3-8 10-7z"/>
<path color="#5051d5" d="M491,261l-21,16-3-7 21-17z"/>
<path color="#4f55d6" d="M470,277l-11,8-3-7 11-8z"/>
<path color="#4e5cda" d="M459,285l-46,39-4-7 47-39z"/>
<path color="#4d64dd" d="M413,324l-67,55-4-7 67-55z"/>
<path class="m" d="M529,232l-3-7-3-12-2-18-2-24M520,239l-3-7-3-12-3-19-2-24M510,246l-3-7-3-12-2-19-2-24M501,253l-3-7-3-12-3-19-2-24M491,261l-3-8-3-11-3-19-3-25M481,269l-4-8-3-11-3-19-2-24M470,277l-3-7-3-12-3-19-3-23M459,285l-3-7-3-11-3-19-3-23M448,294l-3-7-4-11-3-19-3-23M437,304l-4-8-3-11-4-18-3-23M425,314l-4-8-3-11-4-18-3-23M413,324l-4-7-4-12-3-18-3-22M400,334l-4-7-3-11-4-18-3-23M387,345l-4-7-3-11-4-18-4-22M374,356l-4-7-4-11-4-18-3-22M360,368l-4-8-4-10-4-18-4-22"/>
<path color="#5b349b" d="M532,236l-9,7-3-4 9-7z"/>
<path color="#5939a4" d="M523,243l-9,7-4-4 10-7z"/>
<path color="#573dad" d="M514,250l-10,8-3-5 9-7z"/>
<path color="#5541b6" d="M504,258l-10,7-3-4 10-8z"/>
<path color="#5245bf" d="M494,265l-10,8-3-4 10-8z"/>
<path color="#5049c7" d="M484,273l-10,9-4-5 11-8z"/>
<path color="#4e4dd0" d="M474,282l-11,8-4-5 11-8z"/>
<path color="#4b52db" d="M463,290l-23,18-3-4 22-19z"/>
<path color="#4a5ade" d="M440,308l-76,64-4-4 77-64z"/>
<path color="#4860df" d="M364,372l-14,12-4-5 14-11z"/>
<path color="#5e2f8f" d="M533,237l-9,7-1-1 9-7z"/>
<path color="#5c3398" d="M524,244l-10,7 0-1 9-7z"/>
<path color="#5a38a1" d="M514,251l-9,8-1-1 10-8z"/>
<path color="#573caa" d="M505,259l-10,8-1-2 10-7z"/>
<path color="#5540b4" d="M495,267l-10,7-1-1 10-8z"/>
<path color="#5344bc" d="M485,274l-11,9 0-1 10-9z"/>
<path color="#5048c5" d="M474,283l-10,8-1-1 11-8z"/>
<path color="#4e4ccd" d="M464,291l-11,9-1-1 11-9z"/>
<path color="#4c51db" d="M453,300l-24,19-1-1 24-19z"/>
<path color="#4b54de" d="M429,319l-12,10-1-1 12-10z"/>
<path color="#4959de" d="M417,329l-66,56-1-1 66-56z"/>
<path class="m" d="M533,237l-4-5M524,244l-4-5M514,251l-4-5M505,259l-4-6M495,267l-4-6M485,274l-4-5M474,283l-4-6M464,291l-5-6M453,300l-5-6M441,309l-4-5M429,319l-4-5M417,329l-4-5M405,340l-5-6M392,351l-5-6M379,362l-5-6M365,373l-5-5"/>
<path class="m" d="M533,237l-80,63-102,85"/>
<path color="#5d2b87" d="M535,240l-9,7-2-3 9-7z"/>
<path color="#5b2f90" d="M526,247l-9,7-3-3 10-7z"/>
<path color="#583399" d="M517,254l-10,8-2-3 9-8z"/>
<path color="#5638a2" d="M507,262l-9,7-3-2 10-8z"/>
<path color="#543cab" d="M498,269l-11,8-2-3 10-7z"/>
<path color="#5240b4" d="M487,277l-10,8-3-2 11-9z"/>
<path color="#4f44bc" d="M477,285l-11,9-2-3 10-8z"/>
<path color="#4d48c5" d="M466,294l-11,9-2-3 11-9z"/>
<path color="#4c4cd0" d="M455,303l-11,9-3-3 12-9z"/>
<path color="#4a4ed5" d="M444,312l-12,10-3-3 12-10z"/>
<path color="#4852db" d="M432,322l-37,32-3-3 37-32z"/>
<path color="#4657dc" d="M395,354l-41,34-3-3 41-34z"/>
<path color="#502377" d="M539,242l-9,7-4-2 9-7z"/>
<path color="#4e2780" d="M530,249l-10,7-3-2 9-7z"/>
<path color="#4c2b88" d="M520,256l-9,8-4-2 10-8z"/>
<path color="#4a2f91" d="M511,264l-10,8-3-3 9-7z"/>
<path color="#483299" d="M501,272l-10,8-4-3 11-8z"/>
<path color="#4636a1" d="M491,280l-10,8-4-3 10-8z"/>
<path color="#4439a9" d="M481,288l-11,8-4-2 11-9z"/>
<path color="#423db1" d="M470,296l-11,9-4-2 11-9z"/>
<path color="#4141bd" d="M459,305l-12,9-3-2 11-9z"/>
<path color="#4043c2" d="M447,314l-11,10-4-2 12-10z"/>
<path color="#3e46c9" d="M436,324l-25,21-3-2 24-21z"/>
<path color="#3d4ace" d="M411,345l-26,22-4-2 27-22z"/>
<path color="#3c4dce" d="M385,367l-27,24-4-3 27-23z"/>
<path class="m" d="M539,242l-4-2-2-3M530,249l-4-2-2-3M520,256l-3-2-3-3M511,264l-4-2-2-3M501,272l-3-3-3-2M491,280l-4-3-2-3M481,288l-4-3-3-2M470,296l-4-2-2-3M459,305l-4-2-2-3M447,314l-3-2-3-3M436,324l-4-2-3-3M424,335l-4-3-3-3M411,345l-3-2-3-3M399,356l-4-2-3-3M385,367l-4-2-2-3M372,379l-4-3-3-3"/>
<path color="#512172" d="M542,244l-9,7-3-2 9-7z"/>
<path color="#4f257b" d="M533,251l-9,8-4-3 10-7z"/>
<path color="#4d2983" d="M524,259l-10,7-3-2 9-8z"/>
<path color="#4b2c8c" d="M514,266l-9,8-4-2 10-8z"/>
<path color="#493094" d="M505,274l-11,8-3-2 10-8z"/>
<path color="#47349d" d="M494,282l-10,8-3-2 10-8z"/>
<path color="#4537a5" d="M484,290l-11,8-3-2 11-8z"/>
<path color="#433bad" d="M473,298l-11,9-3-2 11-9z"/>
<path color="#423fb8" d="M462,307l-11,10-4-3 12-9z"/>
<path color="#4141bd" d="M451,317l-11,10-4-3 11-10z"/>
<path color="#4043c2" d="M440,327l-12,10-4-2 12-11z"/>
<path color="#3e46c9" d="M428,337l-26,22-3-3 25-21z"/>
<path color="#3c4ace" d="M402,359l-26,22-4-2 27-23z"/>
<path color="#3c4ccd" d="M376,381l-14,12-4-2 14-12z"/>
<path color="#3f1a63" d="M546,245l-9,7-4-1 9-7z"/>
<path color="#3d1f6f" d="M537,252l-19,15-4-1 19-15z"/>
<path color="#3b237a" d="M518,267l-10,8-3-1 9-8z"/>
<path color="#392682" d="M508,275l-10,8-4-1 11-8z"/>
<path color="#382989" d="M498,283l-10,8-4-1 10-8z"/>
<path color="#372d91" d="M488,291l-11,9-4-2 11-8z"/>
<path color="#353098" d="M477,300l-11,8-4-1 11-9z"/>
<path color="#3533a4" d="M466,308l-11,10-4-1 11-10z"/>
<path color="#3435a8" d="M455,318l-12,10-3-1 11-10z"/>
<path color="#3337ad" d="M443,328l-12,10-3-1 12-10z"/>
<path color="#323ab4" d="M431,338l-25,22-4-1 26-22z"/>
<path color="#313eba" d="M406,360l-41,35-3-2 40-34z"/>
<path color="#39175d" d="M549,245l-9,7-3,0 9-7z"/>
<path color="#371a64" d="M540,252l-9,8-4,0 10-8z"/>
<path color="#361d6e" d="M531,260l-19,15-4,0 19-15z"/>
<path color="#342279" d="M512,275l-10,8-4,0 10-8z"/>
<path color="#332480" d="M502,283l-11,9-3-1 10-8z"/>
<path color="#31298b" d="M491,292l-21,17-4-1 22-17z"/>
<path color="#302d96" d="M470,309l-11,10-4-1 11-10z"/>
<path color="#2f2f9a" d="M459,319l-12,10-4-1 12-10z"/>
<path color="#2e31a1" d="M447,329l-24,21-4-1 24-21z"/>
<path color="#2d35aa" d="M423,350l-40,34-4-1 40-34z"/>
<path color="#2c38ab" d="M383,384l-14,12-4-1 14-12z"/>
<path color="#381860" d="M551,245l-9,8-2-1 9-7z"/>
<path color="#371b67" d="M542,253l-9,7-2,0 9-8z"/>
<path color="#361d6e" d="M533,260l-10,8-2-1 10-7z"/>
<path color="#342178" d="M523,268l-19,15-2,0 19-16z"/>
<path color="#322583" d="M504,283l-11,9-2,0 11-9z"/>
<path color="#302a8d" d="M493,292l-21,17-2,0 21-17z"/>
<path color="#2f2e99" d="M472,309l-11,10-2,0 11-10z"/>
<path color="#2e309f" d="M461,319l-24,20-2,0 24-20z"/>
<path color="#2d35a9" d="M437,339l-38,34-2-1 38-33z"/>
<path color="#2c38ab" d="M399,373l-28,23-2,0 28-24z"/>
<path class="m" d="M551,245l-5,0-4-1-3-2M542,253l-5-1-4-1-3-2M533,260l-6,0-3-1-4-3M523,268l-5-1-4-1-3-2M514,275l-6,0-3-1-4-2M504,283l-6,0-4-1-3-2M493,292l-5-1-4-1-3-2M483,300l-6,0-4-2-3-2M472,309l-6-1-4-1-3-2M461,319l-6-1-4-1-4-3M449,329l-6-1-3-1-4-3M437,339l-6-1-3-1-4-2M425,350l-6-1-4-1-4-3M412,361l-6-1-4-1-3-3M399,373l-6-2-4-1-4-3M385,384l-6-1-3-2-4-2"/>
<path class="m" d="M551,245l-79,64-101,87"/>
<path color="#381962" d="M553,245l-9,8-2,0 9-8z"/>
<path color="#361b69" d="M544,253l-10,7-1,0 9-7z"/>
<path color="#351e70" d="M534,260l-9,8-2,0 10-8z"/>
<path color="#342177" d="M525,268l-10,8-1-1 9-7z"/>
<path color="#322581" d="M515,276l-20,16-2,0 21-17z"/>
<path color="#31298c" d="M495,292l-10,9-2-1 10-8z"/>
<path color="#2f2c93" d="M485,301l-11,8-2,0 11-9z"/>
<path color="#2f2f9b" d="M474,309l-12,10-1,0 11-10z"/>
<path color="#2e31a1" d="M462,319l-23,21-2-1 24-20z"/>
<path color="#2c35a9" d="M439,340l-38,33-2,0 38-34z"/>
<path color="#2c39ab" d="M401,373l-28,24-2-1 28-23z"/>
<path color="#2f1e66" d="M556,244l-78,64-60,52-4,2 60-53 79-64z"/>
<path color="#2d1c61" d="M418,360l-41,36-4,1 41-35z"/>
<path color="#301f69" d="M560,241l-18,15-4,2 18-14z"/>
<path color="#2f1d65" d="M542,256l-61,50-99,89-5,1 101-88 60-50z"/>
<path color="#3c317e" d="M564,236l-37,30-4,6 37-31z"/>
<path color="#3b2f7a" d="M527,266l-41,35-23,20-4,5 22-20 42-34z"/>
<path color="#3b2b75" d="M463,321l-63,57-5,5 64-57z"/>
<path color="#3b2a72" d="M400,378l-14,12-4,5 13-12z"/>
<path class="m" d="M564,236l-4,5-7,4-2,0M555,243l-4,6-7,4-2,0M546,250l-4,6-8,4-1,0M537,258l-4,6-8,4-2,0M527,266l-4,6-8,4-1-1M517,274l-4,6-8,4-1-1M507,283l-4,5-8,4-2,0M496,292l-4,5-7,4-2-1M486,301l-5,5-7,3-2,0M474,311l-4,5-8,3-1,0M463,321l-4,5-8,3-2,0M451,332l-4,5-8,3-2-1M439,343l-4,5-8,2-2,0M426,354l-4,5-8,3-2-1M413,366l-4,5-8,2-2,0M400,378l-5,5-8,2-2-1"/>
<path color="#433984" d="M568,225l-36,30-53,46-5,10 53-45 37-30z"/>
<path color="#45367f" d="M479,301l-49,44-4,9 48-43z"/>
<path color="#46357c" d="M430,345l-40,36-4,9 40-36z"/>
<path color="#4a3d86" d="M572,212l-18,14-3,13 17-14z"/>
<path color="#4f3c80" d="M554,226l-19,16-41,36-48,44-3,11 47-43 42-35 19-16z"/>
<path color="#523a7c" d="M446,322l-53,49-3,10 53-48z"/>
<path class="m" d="M572,212l-4,13-4,11M563,219l-3,13-5,11M554,226l-3,13-5,11M545,234l-4,13-4,11M535,242l-3,13-5,11M525,250l-3,13-5,11M515,259l-4,13-4,11M504,269l-3,12-5,11M494,278l-4,12-4,11M482,289l-3,12-5,10M471,299l-4,12-4,10M459,310l-4,12-4,10M446,322l-3,11-4,10M434,333l-4,12-4,9M421,345l-4,12-4,9M407,358l-3,11-4,9"/>
<path class="m" d="M572,212l-37,30-41,36-101,93"/>
<path color="#543d80" d="M574,207l-28,22-1,5 27-22z"/>
<path color="#563d7e" d="M546,229l-9,8-2,5 10-8z"/>
<path color="#593b7a" d="M537,237l-42,37-101,92-1,5 101-93 41-36z"/>
<path color="#663d75" d="M579,183l-37,30-5,24 37-30z"/>
<path color="#6a3b70" d="M542,213l-42,38-101,95-5,20 101-92 42-37z"/>
<path class="m" d="M579,183l-7,29M570,190l-7,29M561,197l-7,29M552,205l-7,29M542,213l-7,29M532,222l-7,28M522,231l-7,28M511,241l-7,28M500,251l-6,27M489,262l-7,27M477,273l-6,26M465,284l-6,26M452,296l-6,26M440,308l-6,25M426,320l-5,25M413,333l-6,25"/>
<path color="#82395f" d="M584,164l-8,7-6,19 9-7z"/>
<path color="#85395d" d="M576,171l-19,14-5,20 18-15z"/>
<path color="#883859" d="M557,185l-10,8-42,39-5,19 42-38 10-8z"/>
<path color="#86375a" d="M505,232l-23,22-5,19 23-22z"/>
<path color="#82375b" d="M482,254l-79,75-4,17 78-73z"/>
<path color="#a33547" d="M590,146l-9,7-5,18 8-7z"/>
<path color="#a83443" d="M581,153l-29,21-31,31-5,17 31-29 29-22z"/>
<path color="#a03445" d="M521,205l-72,69-5,16 72-68z"/>
<path color="#993349" d="M449,274l-41,40-5,15 41-39z"/>
<path color="#c2312f" d="M595,132l-18,13-5,15 18-14z"/>
<path color="#c5302b" d="M577,145l-20,15-20,20-5,14 20-20 20-14z"/>
<path color="#c12f2d" d="M537,180l-11,11-5,14 11-11z"/>
<path color="#bc2f2f" d="M526,191l-34,34-5,13 34-33z"/>
<path color="#b32f34" d="M492,225l-51,50-5,12 51-49z"/>
<path color="#ad2f37" d="M441,275l-14,13-5,12 14-13z"/>
<path color="#aa2f38" d="M427,288l-15,14-4,12 14-14z"/>
<path color="#90161a" d="M599,130l-9,7-4,1 9-6z"/>
<path color="#921617" d="M590,137l-28,21-5,2 29-22z"/>
<path color="#781415" d="M562,158l-43,43-4,1 42-42z"/>
<path color="#7b1d17" d="M519,201l-23,23-4,1 23-23z"/>
<path color="#7c2419" d="M496,224l-12,12-5,1 13-12z"/>
<path color="#7e291a" d="M484,236l-13,12-4,1 12-12z"/>
<path color="#7f311c" d="M471,248l-26,26-4,1 26-26z"/>
<path color="#823b1f" d="M445,274l-28,28-5,0 29-27z"/>
<path class="m" d="M599,130l-4,2-5,14-11,37M590,137l-4,1-5,15-11,37M581,144l-4,1-5,15-11,37M571,151l-4,1-5,15-10,38M562,158l-5,2-5,14-10,39M551,168l-4,2-5,14-10,38M541,179l-4,1-5,14-10,37M530,189l-4,2-5,14-10,36M519,201l-4,1-5,13-10,36M508,212l-5,1-4,13-10,36M496,224l-4,1-5,13-10,35M484,236l-5,1-4,13-10,34M471,248l-4,1-5,13-10,34M458,261l-4,1-5,12-9,34M445,274l-4,1-5,12-10,33M431,288l-4,0-5,12-9,33"/>
<path class="e" d="M417,302l-5,0-4,12-9,32-6,25-3,10-4,9-4,5-9,2-8-2-3-2-8-5-8-9-4-7-4-10-4-18-8-44-9-33-4-6-8-4-11-3-4,8-3,16-3,10-3,23-4,16-3,11-3,5-4,2-3,2-3,0-7-2-8-5-3-3-7-9-4-8-4-15-4-19-5-24-4-13-5-19-4-10-10-5-7-2-3,3-5,25-4,36-2,13-3,7-2,4-6,2-6-2-4-1-6-5-7-7-3-8-4-11-3-12-6-25-9-34-4-13-4-4M599,130l-37,28-145,144"/></g>
<path d="M98.0,148.1L420.6,267.9M609.5,107.6L420.6,267.9" stroke="#9a9a9a" stroke-width="1.1" fill="none"/>
<path d="M1035.3,167.3L1034.1,48.7M1035.3,167.3L1305.7,257.1M1035.3,167.3L822.1,304.0M1034.1,48.7L1317.5,123.7M1034.1,48.7L809.5,163.2M1305.7,257.1L1317.5,123.7M822.1,304.0L809.5,163.2M1305.7,257.1L1126.5,446.1M822.1,304.0L1126.5,446.1M1126.5,446.1L1130.4,284.8" stroke="#9a9a9a" stroke-width="1.1" fill="none"/>
<path d="M1031.3,50.1v5M1013.5,59.2v3M994.9,68.7v3M975.7,78.5v3M955.6,88.8v5M934.6,99.4v3M912.7,110.6v3M889.9,122.2v3M866.0,134.4v5M841.0,147.1v3M814.9,160.5v3M1119.4,442.8v-5M1097.6,432.6v-3M1076.3,422.7v-3M1055.6,413.0v-3M1035.3,403.5v-5M1015.5,394.3v-3M996.1,385.2v-3M977.1,376.4v-3M958.6,367.7v-5M940.4,359.2v-3M922.7,350.9v-3M905.3,342.8v-3M888.3,334.9v-5M871.6,327.1v-3M855.3,319.5v-3M839.3,312.0v-3M823.7,304.7v-5M822.0,302.8h3M821.4,296.0h3M820.8,289.1h3M820.2,282.1h5M819.5,275.2h3M818.9,268.2h3M818.3,261.1h3M817.6,254.1h3M817.0,247.0h5M816.4,239.8h3M815.7,232.6h3M815.1,225.4h3M814.4,218.1h3M813.8,210.8h5M813.1,203.5h3M812.4,196.1h3M811.8,188.7h3M811.1,181.3h3M810.4,173.8h3M809.8,166.2h3" stroke="#9a9a9a" stroke-width="1" fill="none"/>
<g class="s"><path color="#ff2f25" d="M1037,59l-6,10-4-8 6-10z"/>
<path color="#ff452a" d="M1031,69l-5,9-4-8 5-9z"/>
<path color="#ff8637" d="M1026,78l-6,10-4-7 6-11z"/>
<path color="#ffb540" d="M1020,88l-5,7-4-7 5-7z"/>
<path color="#ffbb44" d="M1015,95l-6,5-6,3-4-6 6-4 6-5z"/>
<path color="#ffd055" d="M1003,103l-6,8-3-7 5-7z"/>
<path color="#ffe061" d="M997,111l-5,7-4-6 6-8z"/>
<path color="#eedb5c" d="M992,118l-12,8-4-6 12-8z"/>
<path color="#eae869" d="M980,126l-6,6-4-6 6-6z"/>
<path color="#dceb6c" d="M974,132l-6,6-4-6 6-6z"/>
<path color="#d1e062" d="M968,138l-7,3-4-6 7-3z"/>
<path color="#cfcf56" d="M961,141l-6,1-4-6 6-1z"/>
<path color="#dbcf54" d="M955,142l-7,2-4-7 7-1z"/>
<path color="#e9e364" d="M948,144l-6,5-4-6 6-6z"/>
<path color="#d7f67e" d="M942,149l-6,11-4-6 6-11z"/>
<path color="#bbfe90" d="M936,160l-7,8-4-5 7-9z"/>
<path color="#a7f88f" d="M929,168l-6,6-4-6 6-5z"/>
<path color="#97c861" d="M923,174l-7,0-4-6 7,0z"/>
<path color="#accd5c" d="M916,174l-8,0-4-6 8,0z"/>
<path color="#c0d35a" d="M908,174l-7,2-4-7 7-1z"/>
<path color="#d0dd60" d="M901,176l-7,3-4-7 7-3z"/>
<path color="#d7f070" d="M894,179l-7,6-4-7 7-6z"/>
<path color="#c3fc8b" d="M887,185l-7,11-4-7 7-11z"/>
<path color="#abff9a" d="M880,196l-7,8-4-6 7-9z"/>
<path color="#99f59b" d="M873,204l-7,6-5-6 8-6z"/>
<path color="#92e993" d="M866,210l-8,4-4-6 7-4z"/>
<path color="#94e587" d="M858,214l-8,3-4-6 8-3z"/>
<path color="#9af393" d="M850,217l-8,5-4-6 8-5z"/>
<path color="#95f29f" d="M842,222l-7,6-5-6 8-6z"/>
<path color="#8bf3c1" d="M835,228l-8,8-4-6 7-8z"/>
<path color="#ff792e" d="M1040,82l-5,8-4-21 6-10z"/>
<path color="#ff9f39" d="M1035,90l-5,8-4-20 5-9z"/>
<path color="#ffb548" d="M1030,98l-6,8-4-18 6-10z"/>
<path color="#fcc353" d="M1024,106l-5,7-4-18 5-7z"/>
<path color="#edc555" d="M1019,113l-6,4-4-17 6-5z"/>
<path color="#e7c555" d="M1013,117l-6,4-4-18 6-3z"/>
<path color="#e0d161" d="M1007,121l-6,7-4-17 6-8z"/>
<path color="#cdd969" d="M1001,128l-5,7-4-17 5-7z"/>
<path color="#bed46b" d="M996,135l-12,8-4-17 12-8z"/>
<path color="#b8da75" d="M984,143l-6,6-4-17 6-6z"/>
<path color="#abd878" d="M978,149l-6,5-6,3-5-16 7-3 6-6z"/>
<path color="#acd06e" d="M966,157l-7,1-4-16 6-1z"/>
<path color="#b6d069" d="M959,158l-6,2-5-16 7-2z"/>
<path color="#bbd870" d="M953,160l-7,5-4-16 6-5z"/>
<path color="#aee688" d="M946,165l-6,10-4-15 6-11z"/>
<path color="#90ddad" d="M940,175l-6,8-5-15 7-8z"/>
<path color="#7ccfbe" d="M934,183l-7,5-4-14 6-6z"/>
<path color="#7cc19d" d="M927,188l-7,1-4-15 7,0z"/>
<path color="#90cb86" d="M920,189l-7,1-5-16 8,0z"/>
<path color="#9fd276" d="M913,190l-7,2-5-16 7-2z"/>
<path color="#a8d576" d="M906,192l-7,4-5-17 7-3z"/>
<path color="#a8dd80" d="M899,196l-7,6-5-17 7-6z"/>
<path color="#97dfa3" d="M892,202l-7,9-5-15 7-11z"/>
<path color="#7cd1c7" d="M885,211l-7,8-5-15 7-8z"/>
<path color="#6dc7d2" d="M878,219l-8,5-4-14 7-6z"/>
<path color="#6ac2cc" d="M870,224l-7,4-5-14 8-4z"/>
<path color="#6dc2c3" d="M863,228l-8,4-5-15 8-3z"/>
<path color="#70c8ca" d="M855,232l-8,5-5-15 8-5z"/>
<path color="#6cc7d4" d="M847,237l-8,6-4-15 7-6z"/>
<path color="#6ac6df" d="M839,243l-7,7-5-14 8-8z"/>
<path color="#e3c85b" d="M1044,105l-5,6-4-21 5-8z"/>
<path color="#cfd264" d="M1039,111l-6,7-3-20 5-8z"/>
<path color="#bad874" d="M1033,118l-5,7-4-19 6-8z"/>
<path color="#a7d97f" d="M1028,125l-6,6-3-18 5-7z"/>
<path color="#9ad488" d="M1022,131l-5,4-4-18 6-4z"/>
<path color="#94d08e" d="M1017,135l-6,4-4-18 6-4z"/>
<path color="#8ad1a9" d="M1011,139l-6,7-4-18 6-7z"/>
<path color="#76c7c5" d="M1005,146l-5,6-4-17 5-7z"/>
<path color="#6abdcb" d="M1000,152l-12,8-4-17 12-8z"/>
<path color="#68bcd2" d="M988,160l-6,5-4-16 6-6z"/>
<path color="#64b5cd" d="M982,165l-6,5-6,3-4-16 6-3 6-5z"/>
<path color="#64b3c2" d="M970,173l-7,2-4-17 7-1z"/>
<path color="#68b8c3" d="M963,175l-6,2-4-17 6-2z"/>
<path color="#6abfce" d="M957,177l-6,5-5-17 7-5z"/>
<path color="#67c0e1" d="M951,182l-7,8-4-15 6-10z"/>
<path color="#5fb4e3" d="M944,190l-6,7-4-14 6-8z"/>
<path color="#59aadb" d="M938,197l-7,6-4-15 7-5z"/>
<path color="#57a1c4" d="M931,203l-6,2-5-16 7-1z"/>
<path color="#5eabc5" d="M925,205l-14,5-5-18 14-3z"/>
<path color="#63b2ca" d="M911,210l-7,4-5-18 7-4z"/>
<path color="#63b6d4" d="M904,214l-7,5-5-17 7-6z"/>
<path color="#5fb4e2" d="M897,219l-7,8-5-16 7-9z"/>
<path color="#58aae1" d="M890,227l-8,7-4-15 7-8z"/>
<path color="#55a0d5" d="M882,234l-7,5-8,4-4-15 7-4 8-5z"/>
<path color="#55a1d0" d="M867,243l-7,4-5-15 8-4z"/>
<path color="#56a4d9" d="M860,247l-16,10-5-14 16-11z"/>
<path color="#55a0e2" d="M844,257l-7,7-5-14 7-7z"/>
<path color="#66b2c9" d="M1048,133l-5,5-4-27 5-6z"/>
<path color="#5fa9ce" d="M1043,138l-11,10-4-23 11-14z"/>
<path color="#569cd0" d="M1032,148l-11,10-4-23 5-4 6-6z"/>
<path color="#5395cd" d="M1021,158l-6,4-4-23 6-4z"/>
<path color="#5392d4" d="M1015,162l-5,5-5-21 6-7z"/>
<path color="#5187d3" d="M1010,167l-6,6-4-21 5-6z"/>
<path color="#4f7fcd" d="M1004,173l-6,4-4-21 6-4z"/>
<path color="#4f7ccd" d="M998,177l-12,9-4-21 6-5 6-4z"/>
<path color="#4d76cb" d="M986,186l-6,4-6,3-4-20 6-3 6-5z"/>
<path color="#4d79c5" d="M974,193l-6,3-5-21 7-2z"/>
<path color="#4f81ca" d="M968,196l-6,2-7,5-4-21 6-5 6-2z"/>
<path color="#507fd8" d="M955,203l-6,6-5-19 7-8z"/>
<path color="#4d74d7" d="M949,209l-7,6-4-18 6-7z"/>
<path color="#4b6bd2" d="M942,215l-6,5-5-17 7-6z"/>
<path color="#4a68c6" d="M936,220l-7,4-4-19 6-2z"/>
<path color="#4c6fc7" d="M929,224l-14,7-4-21 14-5z"/>
<path color="#4d74cc" d="M915,231l-7,4-7,6-4-22 7-5 7-4z"/>
<path color="#4c6fd5" d="M901,241l-7,6-4-20 7-8z"/>
<path color="#4b63cb" d="M894,247l-7,6-7,4-15,8-5-18 15-8 7-5 8-7z"/>
<path color="#4b67ce" d="M865,265l-8,5-5-18 8-5z"/>
<path color="#4c64d0" d="M857,270l-15,12-5-18 7-7 8-5z"/>
<path class="m" d="M1048,133l-4-28-7-46-4-8M1037,143l-4-25-7-40-4-8M1026,153l-4-22-7-36-4-7M1015,162l-4-23-8-36-4-6M1004,173l-4-21-8-34-4-6M992,181l-4-21-8-34-4-6M980,190l-4-20-8-32-4-6M968,196l-5-21-8-33-4-6M955,203l-4-21-9-33-4-6M942,215l-4-18-9-29-4-5M929,224l-4-19-9-31-4-6M915,231l-4-21-10-34-4-7M901,241l-4-22-10-34-4-7M887,253l-5-19-9-30-4-6M872,261l-5-18-9-29-4-6M857,270l-5-18-10-30-4-6M1033,51l-17,30-5,7-6,5-6,4-11,15-12,8-6,6-6,6-7,3-13,2-6,6-6,11-7,9-6,5-7,0-8,0-7,1-7,3-7,6-7,11-7,9-8,6-7,4-8,3-8,5-8,6-7,8"/>
<path color="#5083cd" d="M1048,136l-5,5 0-3 5-5z"/>
<path color="#4f7dce" d="M1043,141l-5,5-1-3 6-5z"/>
<path color="#4e76d0" d="M1038,146l-6,5 0-3 5-5z"/>
<path color="#4b6bcd" d="M1032,151l-11,9 0-2 11-10z"/>
<path color="#4b63cc" d="M1021,160l-5,4-6,6 0-3 5-5 6-4z"/>
<path color="#4c59c8" d="M1010,170l-6,5 0-2 6-6z"/>
<path color="#4d50bf" d="M1004,175l-17,13-1-2 18-13z"/>
<path color="#4d4cbc" d="M987,188l-6,4-1-2 6-4z"/>
<path color="#4d4cb9" d="M981,192l-6,3-1-2 6-3z"/>
<path color="#4c4fb9" d="M975,195l-7,3 0-2 6-3z"/>
<path color="#4c56c0" d="M968,198l-6,3-6,4-1-2 7-5 6-2z"/>
<path color="#4d55c9" d="M956,205l-7,6 0-2 6-6z"/>
<path color="#4f49c1" d="M949,211l-13,11 0-2 13-11z"/>
<path color="#4e47b7" d="M936,222l-13,7-14,9-1-3 14-8 14-7z"/>
<path color="#4e49bc" d="M909,238l-7,5-1-2 7-6z"/>
<path color="#4f45be" d="M902,243l-7,6-1-2 7-6z"/>
<path color="#4f3fb5" d="M895,249l-7,6-15,8-8,4 0-2 15-8 7-4 7-6z"/>
<path color="#4f44b9" d="M865,267l-7,5-1-2 8-5z"/>
<path color="#4f43ba" d="M858,272l-8,6-1-3 8-5z"/>
<path color="#5040bc" d="M850,278l-8,6 0-2 7-7z"/>
<path class="m" d="M1048,136l0-3M1038,146l-1-3M1027,156l-1-3M1016,164l-1-2M1004,175l0-2M993,184l-1-3M981,192l-1-2M968,198l0-2M956,205l-1-2M943,217l-1-2M930,226l-1-2M916,233l-1-2M902,243l-1-2M888,255l-1-2M873,263l-1-2M858,272l-1-2"/>
<path class="m" d="M1048,136l-21,20-11,8-12,11-17,13-6,4-6,3-13,6-6,4-13,12-7,5-13,7-14,9-7,5-7,6-7,6-7,4-16,8-7,5-8,6-8,6"/>
<path color="#4c54c3" d="M1051,155l-15,12-4-16 16-15z"/>
<path color="#4e4bbe" d="M1036,167l-6,4-3-15 5-5z"/>
<path color="#4e47bb" d="M1030,171l-5,4-4-15 6-4z"/>
<path color="#4f44b9" d="M1025,175l-6,5-3-16 5-4z"/>
<path color="#503cb7" d="M1019,180l-11,10-4-15 12-11z"/>
<path color="#5333a7" d="M1008,190l-24,16-12,6-4-14 13-6 23-17z"/>
<path color="#4f37ac" d="M972,212l-6,3-4-14 6-3z"/>
<path color="#5139b4" d="M966,215l-7,4-6,5-4-13 7-6 6-4z"/>
<path color="#5435b0" d="M953,224l-6,6-4-13 6-6z"/>
<path color="#5632a8" d="M947,230l-7,5-4-13 7-5z"/>
<path color="#5630a1" d="M940,235l-6,4-4-13 6-4z"/>
<path color="#5531a3" d="M934,239l-21,14-14,10-4-14 7-6 7-5 21-12z"/>
<path color="#572e9c" d="M899,263l-7,5-22,12-5-13 16-8 7-4 7-6z"/>
<path color="#5730a4" d="M870,280l-16,10-7,6-5-12 8-6 15-11z"/>
<path color="#5b2b9a" d="M1055,166l-16,10-3-9 15-12z"/>
<path color="#5d2999" d="M1039,176l-5,4-4-9 6-4z"/>
<path color="#612491" d="M1034,180l-22,18-4-8 11-10 11-9z"/>
<path color="#641e82" d="M1012,198l-18,13-4-9 18-12z"/>
<path color="#631e7e" d="M994,211l-6,3-4-8 6-4z"/>
<path color="#621e7d" d="M988,214l-6,3-4-8 6-3z"/>
<path color="#611e7e" d="M982,217l-6,3-4-8 6-3z"/>
<path color="#602184" d="M976,220l-6,4-4-9 6-3z"/>
<path color="#61228d" d="M970,224l-7,3-12,10-4-7 12-11 7-4z"/>
<path color="#631f84" d="M951,237l-27,20-4-9 20-13 7-5z"/>
<path color="#641e7f" d="M924,257l-14,9-4-9 14-9z"/>
<path color="#641e7f" d="M910,266l-7,5-4-8 7-6z"/>
<path color="#621e7c" d="M903,271l-22,13-4-8 15-8 7-5z"/>
<path color="#621f85" d="M881,284l-15,9-15,11-4-8 15-11 15-9z"/>
<path color="#611e7d" d="M1059,171l-6,3-3-5 5-3z"/>
<path color="#611e82" d="M1053,174l-16,11-16,13-4-5 17-13 16-11z"/>
<path color="#621d78" d="M1021,198l-17,13-4-4 17-14z"/>
<path color="#5f1c70" d="M1004,211l-12,8-12,6-4-5 12-6 12-7z"/>
<path color="#5d1d76" d="M980,225l-13,7-4-5 13-7z"/>
<path color="#5e1e7e" d="M967,232l-12,9-4-4 12-10z"/>
<path color="#601d78" d="M955,241l-34,25-4-5 34-24z"/>
<path color="#5d1b6f" d="M921,266l-14,10-29,16-4-4 22-13 21-14z"/>
<path color="#5c1d7a" d="M878,292l-15,10-8,6-4-4 8-6 15-10z"/>
<path class="m" d="M1059,171l-4-5-4-11-3-19M1048,178l-3-6-4-10-3-16M1037,185l-3-5-4-9-3-15M1026,193l-3-4-4-9-3-16M1015,203l-3-5-4-8-4-15M1004,211l-4-4-4-9-3-14M992,219l-4-5-4-8-3-14M980,225l-4-5-4-8-4-14M967,232l-4-5-4-8-3-14M955,241l-4-4-4-7-4-13M942,251l-4-4-4-8-4-13M928,262l-4-5-4-9-4-15M914,271l-4-5-4-9-4-14M900,280l-4-5-4-7-4-13M885,288l-4-4-4-8-4-13M870,297l-4-4-4-8-4-13"/>
<path color="#5e1c70" d="M1062,176l-10,6-4-4 11-7z"/>
<path color="#5e1c76" d="M1052,182l-11,7-16,13-4-4 11-9 16-11z"/>
<path color="#5e1b6c" d="M1025,202l-12,9-11,8-4-4 12-8 11-9z"/>
<path color="#5c1a65" d="M1002,219l-6,3-4-3 6-4z"/>
<path color="#5a1965" d="M996,222l-12,7-4-4 12-6z"/>
<path color="#591b6c" d="M984,229l-13,7-4-4 13-7z"/>
<path color="#5a1b73" d="M971,236l-19,14-4-4 19-14z"/>
<path color="#5d1a6c" d="M952,250l-20,15-14,10-4-4 14-9 20-16z"/>
<path color="#5b1965" d="M918,275l-7,4-4-3 7-5z"/>
<path color="#571964" d="M911,279l-22,13-4-4 22-12z"/>
<path color="#571a6d" d="M889,292l-22,14-4-4 22-14z"/>
<path color="#581b72" d="M867,306l-8,6-4-4 8-6z"/>
<path color="#501863" d="M1063,176l-10,6-1,0 10-6z"/>
<path color="#50196a" d="M1053,182l-16,11-17,14-1-1 17-13 16-11z"/>
<path color="#50175f" d="M1020,207l-17,12-1,0 17-13z"/>
<path color="#4d1659" d="M1003,219l-12,7-1,0 12-7z"/>
<path color="#4c175f" d="M991,226l-19,10-1,0 19-10z"/>
<path color="#4d1869" d="M972,236l-19,14-1,0 19-14z"/>
<path color="#4f1867" d="M953,250l-13,11-1-1 13-10z"/>
<path color="#501760" d="M940,261l-21,15-1-1 21-15z"/>
<path color="#4e165a" d="M919,276l-7,4-1-1 7-4z"/>
<path color="#4b1659" d="M912,280l-14,8-1,0 14-9z"/>
<path color="#4a165f" d="M898,288l-23,13-1,0 23-13z"/>
<path color="#4c1868" d="M875,301l-15,11-1,0 15-11z"/>
<path class="m" d="M1063,176l-4-5M1053,182l-5-4M1042,189l-5-4M1031,198l-5-5M1020,207l-5-4M1008,216l-4-5M997,223l-5-4M985,229l-5-4M972,236l-5-4M959,245l-4-4M946,255l-4-4M933,266l-5-4M919,276l-5-5M905,284l-5-4M890,292l-5-4M875,301l-5-4"/>
<path class="m" d="M1063,176l-10,6-11,7-22,18-12,9-11,7-19,10-12,8-33,25-14,10-14,8-22,13-8,4-15,11"/>
<path color="#501861" d="M1066,178l-11,6-2-2 10-6z"/>
<path color="#501869" d="M1055,184l-10,7-17,13-2-2 16-13 11-7z"/>
<path color="#511760" d="M1028,204l-11,9-12,8-2-2 11-8 12-9z"/>
<path color="#4d1659" d="M1005,221l-18,10-2-2 18-10z"/>
<path color="#4c1761" d="M987,231l-18,11-3-1 19-12z"/>
<path color="#4e1868" d="M969,242l-13,10-3-2 13-9z"/>
<path color="#4f1867" d="M956,252l-7,5-3-2 7-5z"/>
<path color="#501760" d="M949,257l-13,11-14,10-3-2 14-10 13-11z"/>
<path color="#4c1658" d="M922,278l-29,16-3-2 29-16z"/>
<path color="#4b1762" d="M893,294l-22,14-3-1 22-15z"/>
<path color="#4d1868" d="M871,308l-8,6-3-2 8-5z"/>
<path color="#4d1760" d="M1069,180l-10,6-11,7-3-2 10-7 11-6z"/>
<path color="#4f1867" d="M1048,193l-10,8-4-2 11-8z"/>
<path color="#4f1761" d="M1038,201l-23,18-4-2 23-18z"/>
<path color="#4c1557" d="M1015,219l-12,7-12,7-4-2 12-7 12-7z"/>
<path color="#4c1762" d="M991,233l-19,11-19,15-4-2 20-15 18-11z"/>
<path color="#4f1760" d="M953,259l-20,16-4-2 20-16z"/>
<path color="#4d165b" d="M933,275l-7,5-4-2 7-5z"/>
<path color="#4a1556" d="M926,280l-29,16-4-2 29-16z"/>
<path color="#4a1661" d="M897,296l-15,10-15,11-4-3 15-11 15-9z"/>
<path class="m" d="M1069,180l-6-4M1059,186l-6-4M1048,193l-6-4M1038,201l-7-3M1026,211l-6-4M1015,219l-7-3M1003,226l-6-3M991,233l-6-4M979,240l-7-4M966,249l-7-4M953,259l-7-4M940,270l-7-4M926,280l-7-4M912,288l-7-4M897,296l-7-4M882,306l-7-5"/>
<path color="#39104c" d="M1073,180l-5,3-4,0 5-3z"/>
<path color="#3b1153" d="M1068,183l-16,10-33,27-4-1 33-26 16-10z"/>
<path color="#3b114b" d="M1019,220l-12,7-12,7-4-1 12-7 12-7z"/>
<path color="#3b1151" d="M995,234l-19,11-4-1 19-11z"/>
<path color="#3c1259" d="M976,245l-6,5-4-1 6-5z"/>
<path color="#3c135a" d="M970,250l-7,5-3-1 6-5z"/>
<path color="#3d1258" d="M963,255l-13,11-4-1 14-11z"/>
<path color="#3d1152" d="M950,266l-13,10-4-1 13-10z"/>
<path color="#3c114c" d="M937,276l-14,9-14,8-4-1 14-8 14-9z"/>
<path color="#3b114f" d="M909,293l-15,9-4-1 15-9z"/>
<path color="#3b1256" d="M894,302l-15,10-4-1 15-10z"/>
<path color="#3c135b" d="M879,312l-8,6-4-1 8-6z"/>
<path color="#38104e" d="M1077,180l-5,3-4,0 5-3z"/>
<path color="#3a1155" d="M1072,183l-16,10-34,27-3,0 33-27 16-10z"/>
<path color="#3b114c" d="M1022,220l-11,8-12,6-4,0 12-7 12-7z"/>
<path color="#3a1151" d="M999,234l-13,7-4,0 13-7z"/>
<path color="#3a1257" d="M986,241l-6,5-4-1 6-4z"/>
<path color="#3c135b" d="M980,246l-19,15-4-1 19-15z"/>
<path color="#3c1258" d="M961,261l-7,5-4,0 7-6z"/>
<path color="#3c1153" d="M954,266l-13,11-4-1 13-10z"/>
<path color="#3b114d" d="M941,277l-14,9-15,8-3-1 14-8 14-9z"/>
<path color="#3b1151" d="M912,294l-14,9-4-1 15-9z"/>
<path color="#3b1258" d="M898,303l-15,10-4-1 15-10z"/>
<path color="#3c135c" d="M883,313l-8,6-4-1 8-6z"/>
<path color="#3b0838" d="M1078,179l-16,10 4-3 11-6z"/>
<path color="#380835" d="M1062,189l-5,4-1,0 5-3z"/>
<path color="#330c46" d="M1057,193l-28,23-11,8-1,0 11-8 28-23z"/>
<path color="#370733" d="M1018,224l-18,10 17-10z"/>
<path color="#370736" d="M1000,234l-8,4 7-4z"/>
<path color="#350d49" d="M994,237l-13,8-32,26-14,10-14,9-22,13-15,10-1,0 15-10 36-22 13-9 33-26 12-8z"/>
<path color="#360f4f" d="M884,313l-8,6-1,0 8-6z"/>
<path class="m" d="M1078,179l-1,1-8,0M1068,185l-2,1-7,0M1057,193l-1,0-8,0M1046,201l-1,1-7-1M1035,211l-1,1-8-1M1024,220l-2,0-7-1M1012,227l-1,1-8-2M1000,234l-1,0-8-1M988,241l-2,0-7-1M975,250l-1,1-8-2M962,261l-1,0-8-2M949,271l-2,1-7-2M935,281l-1,0-8-1M921,290l-1,0-8-2M907,298l-2,0-8-2M892,307l-2,1-8-2"/>
<path class="m" d="M1078,179l-10,6-11,8-22,18-11,9-12,7-18,10-13,8-32,26-14,10-14,9-22,13-15,10-8,6"/>
<path color="#3a083b" d="M1080,178l-2,1z"/>
<path color="#320c49" d="M1065,188l-11,8-22,19-18,12-2,0 17-11 23-19 10-8z"/>
<path color="#370735" d="M1014,227l-6,3-2,1 6-4z"/>
<path color="#360838" d="M1008,230l-12,6-2,1 12-6z"/>
<path color="#320d4c" d="M996,236l-6,4-2,1 6-4z"/>
<path color="#340e4f" d="M990,240l-19,15-2,0 19-14z"/>
<path color="#340d49" d="M971,255l-20,16-20,14-30,17-2,1 22-13 14-9 14-10 20-16z"/>
<path color="#350f50" d="M901,302l-15,11-7,6-3,0 23-16z"/>
<path class="m" d="M1080,178l-2,1M1070,184l-2,1M1059,192l-2,1M1049,201l-3,0M1037,210l-2,1M1026,219l-2,1M1014,227l-2,0M1002,233l-2,1M990,240l-2,1M977,250l-2,0M965,260l-3,1M951,271l-2,0M938,280l-3,1M923,290l-2,0M909,298l-2,0M894,307l-2,0"/>
<path color="#400b46" d="M1084,174l-10,7-9,7 15-10z"/>
<path color="#3c093c" d="M1068,185l-16,12-11,10-11,9-12,8-18,10-6,4-13,10-4,2 13-10 24-13 12-8 39-31z"/>
<path color="#2f0c4c" d="M981,248l-6,5-4,2 6-5z"/>
<path color="#3a0839" d="M975,253l-41,30-29,18-15,10-4,2 15-11 22-12 15-10 33-25z"/>
<path color="#300c4d" d="M890,311l-8,6-3,2 7-6z"/>
<path color="#421c6e" d="M1088,163l-10,8-4,10 10-7z"/>
<path color="#421a68" d="M1078,171l-6,5-4,9 6-4z"/>
<path color="#431762" d="M1072,176l-16,13-4,8 16-12z"/>
<path color="#441459" d="M1056,189l-5,6-4,7 5-5z"/>
<path color="#471054" d="M1051,195l-6,5-17,13-12,7-4,7 18-11 17-14z"/>
<path color="#46125b" d="M1016,220l-6,3-4,7 6-3z"/>
<path color="#45135d" d="M1010,223l-6,3-7,5-3,7 12-8z"/>
<path color="#431256" d="M997,231l-6,5-3,7 6-5z"/>
<path color="#460f50" d="M991,236l-13,11-33,24-4,7 34-25 13-10z"/>
<path color="#470e4d" d="M945,271l-14,11-4,6 14-10z"/>
<path color="#440e50" d="M931,282l-22,13-8,5-7,5-4,6 15-10 22-13z"/>
<path color="#420d4a" d="M894,305l-8,7-4,5 8-6z"/>
<path color="#3d4894" d="M1092,141l-16,18-4,17 16-13z"/>
<path color="#3d3b8e" d="M1076,159l-5,5-11,9-4,16 16-13z"/>
<path color="#3e2e84" d="M1060,173l-11,12-12,8-3,16 11-9 11-11z"/>
<path color="#3f2982" d="M1037,193l-12,10-6,3-3,14 6-3 12-8z"/>
<path color="#3e2e86" d="M1019,206l-12,5-6,5-6,7-4,13 6-5 7-5 12-6z"/>
<path color="#3e247a" d="M995,223l-7,7-6,5-4,12 13-11z"/>
<path color="#3f2580" d="M982,235l-20,11-7,4-7,6-3,15 33-24z"/>
<path color="#402178" d="M948,256l-7,7-7,6-7,5-15,8-15,11-8,7-3,12 15-12 8-5 22-13 14-11z"/>
<path color="#527a94" d="M1094,128l-5,7-2,12 5-6z"/>
<path color="#4d7494" d="M1089,135l-6,6-2,11 6-5z"/>
<path color="#486e94" d="M1083,141l-5,7-2,11 5-7z"/>
<path color="#456996" d="M1078,148l-5,6-2,10 5-5z"/>
<path color="#446498" d="M1073,154l-11,9-2,10 11-9z"/>
<path color="#425c93" d="M1062,163l-6,6-2,10 6-6z"/>
<path color="#405592" d="M1056,169l-5,6-2,10 5-6z"/>
<path color="#405297" d="M1051,175l-12,9-2,9 12-8z"/>
<path color="#3e4d95" d="M1039,184l-12,10-2,9 12-10z"/>
<path color="#3e4c99" d="M1027,194l-6,3-2,9 6-3z"/>
<path color="#40539a" d="M1021,197l-12,5-6,5-2,9 6-5 12-5z"/>
<path color="#3d488d" d="M1003,207l-13,15-2,8 13-14z"/>
<path color="#3b408f" d="M990,222l-6,6-2,7 6-5z"/>
<path color="#3d4798" d="M984,228l-14,5-13,8-2,9 14-8 13-7z"/>
<path color="#3c4591" d="M957,241l-7,6-7,8-2,8 7-7 7-6z"/>
<path color="#3c3c90" d="M943,255l-7,6-7,5-15,9-16,11-1,7 15-11 15-8 7-5 7-6z"/>
<path color="#3c3888" d="M898,286l-7,7-2,7 8-7z"/>
<path class="m" d="M1094,128l-6,35-4,11-4,4M1083,141l-5,30-4,10-4,3M1073,154l-6,26-4,9-4,3M1062,163l-6,26-4,8-3,4M1051,175l-6,25-4,7-4,3M1039,184l-5,25-4,7-4,3M1027,194l-5,23-4,7-4,3M1015,200l-5,23-4,7-4,3M1003,207l-6,24-3,7-4,2M990,222l-5,20-4,6-4,2M977,230l-5,22-4,6-3,2M964,237l-5,24-4,7-4,3M950,247l-5,24-4,7-3,2M936,261l-5,21-4,6-4,2M921,271l-5,19-3,6-4,2M906,280l-5,20-3,5-4,2"/>
<path class="m" d="M1094,128l-16,20-5,6-11,9-11,12-12,9-12,10-6,3-12,5-6,5-13,15-6,6-14,5-6,4-7,4-7,6-7,8-7,6-7,5-15,9-8,5-8,6-7,7"/>
<path color="#899257" d="M1096,114l-5,7-2,14 5-7z"/>
<path color="#798d66" d="M1091,121l-6,7-2,13 6-6z"/>
<path color="#66847b" d="M1085,128l-5,8-2,12 5-7z"/>
<path color="#577f90" d="M1080,136l-5,7-2,11 5-6z"/>
<path color="#527993" d="M1075,143l-11,8-6,7-2,11 6-6 11-9z"/>
<path color="#4b6f92" d="M1058,158l-6,7-1,10 5-6z"/>
<path color="#476c9a" d="M1052,165l-11,9-12,10-6,4-12,4-6,5-2,10 6-5 12-5 6-3 12-10 12-9z"/>
<path color="#44658f" d="M1005,197l-7,9-1,9 6-8z"/>
<path color="#415b8e" d="M998,206l-6,8-2,8 7-7z"/>
<path color="#405693" d="M992,214l-7,5-1,9 6-6z"/>
<path color="#425b9d" d="M985,219l-6,2-2,9 7-2z"/>
<path color="#44639d" d="M979,221l-14,5-1,11 13-7z"/>
<path color="#45679b" d="M965,226l-7,4-1,11 7-4z"/>
<path color="#446496" d="M958,230l-7,7-1,10 7-6z"/>
<path color="#415b8f" d="M951,237l-7,8-1,10 7-8z"/>
<path color="#405393" d="M944,245l-7,8-7,5-1,8 7-5 7-6z"/>
<path color="#405398" d="M930,258l-15,8-1,9 15-9z"/>
<path color="#405394" d="M915,266l-15,12-2,8 16-11z"/>
<path color="#3e4d8e" d="M900,278l-8,7-1,8 7-7z"/>
<path color="#c87934" d="M1100,93l-5,9-4,19 5-7z"/>
<path color="#b67d3a" d="M1095,102l-6,9-4,17 6-7z"/>
<path color="#a2803f" d="M1089,111l-5,9-4,16 5-8z"/>
<path color="#948449" d="M1084,120l-5,7-4,16 5-7z"/>
<path color="#8c8751" d="M1079,127l-6,5-4,15 6-4z"/>
<path color="#848654" d="M1073,132l-5,4-6,7-4,15 6-7 5-4z"/>
<path color="#6e7e66" d="M1062,143l-6,8-4,14 6-7z"/>
<path color="#677e77" d="M1056,151l-5,4-4,15 5-5z"/>
<path color="#617b7d" d="M1051,155l-6,4-6,6-4,14 6-5 6-4z"/>
<path color="#567589" d="M1039,165l-6,6-4,13 6-5z"/>
<path color="#557791" d="M1033,171l-6,3-4,14 6-4z"/>
<path color="#5c7c8e" d="M1027,174l-6,2-4,14 6-2z"/>
<path color="#647f82" d="M1021,176l-7,2-3,14 6-2z"/>
<path color="#647b78" d="M1014,178l-6,5-3,14 6-5z"/>
<path color="#526d7a" d="M1008,183l-6,10-4,13 7-9z"/>
<path color="#4a6585" d="M1002,193l-6,9-7,6-4,11 7-5 6-8z"/>
<path color="#4c6d9b" d="M989,208l-7,1-3,12 6-2z"/>
<path color="#507299" d="M982,209l-6,1-4,13 7-2z"/>
<path color="#547794" d="M976,210l-7,2-7,4-4,14 7-4 7-3z"/>
<path color="#53738a" d="M962,216l-7,6-4,15 7-7z"/>
<path color="#4c6780" d="M955,222l-7,10-4,13 7-8z"/>
<path color="#476286" d="M948,232l-7,9-4,12 7-8z"/>
<path color="#46628f" d="M941,241l-7,6-15,8-16,12-3,11 15-12 15-8 7-5z"/>
<path color="#425a85" d="M903,267l-7,8-4,10 8-7z"/>
<path color="#c53518" d="M1104,75l-5,10-4,17 5-9z"/>
<path color="#ca521d" d="M1099,85l-6,9-4,17 6-9z"/>
<path color="#c66124" d="M1093,94l-5,11-4,15 5-9z"/>
<path color="#c56c2e" d="M1088,105l-5,7-4,15 5-7z"/>
<path color="#c67535" d="M1083,112l-6,5-4,15 6-5z"/>
<path color="#c47838" d="M1077,117l-6,4-3,15 5-4z"/>
<path color="#b57435" d="M1071,121l-5,9-4,13 6-7z"/>
<path color="#a6783b" d="M1066,130l-6,7-4,14 6-8z"/>
<path color="#a08044" d="M1060,137l-11,9-4,13 11-8z"/>
<path color="#977d43" d="M1049,146l-6,7-4,12 6-6z"/>
<path color="#8f7e49" d="M1043,153l-6,5-4,13 6-6z"/>
<path color="#93834f" d="M1037,158l-6,4-6,1-4,13 6-2 6-3z"/>
<path color="#9d844a" d="M1025,163l-7,2-4,13 7-2z"/>
<path color="#9b7d43" d="M1018,165l-6,6-4,12 6-5z"/>
<path color="#857240" d="M1012,171l-6,11-4,11 6-10z"/>
<path color="#72724f" d="M1006,182l-7,9-3,11 6-9z"/>
<path color="#677268" d="M999,191l-6,7-4,10 7-6z"/>
<path color="#708073" d="M993,198l-7-1-4,12 7-1z"/>
<path color="#80865e" d="M986,197l-7,1-3,12 6-1z"/>
<path color="#8d8453" d="M979,198l-7,1-7,4-3,13 7-4 7-2z"/>
<path color="#8a7d4b" d="M965,203l-7,7-3,12 7-6z"/>
<path color="#787449" d="M958,210l-6,11-4,11 7-10z"/>
<path color="#656f62" d="M952,221l-7,9-4,11 7-9z"/>
<path color="#5c6f77" d="M945,230l-8,6-3,11 7-6z"/>
<path color="#5b717f" d="M937,236l-7,5-4,10 8-4z"/>
<path color="#5f737d" d="M930,241l-8,3-3,11 7-4z"/>
<path color="#5c6f77" d="M922,244l-15,12-4,11 16-12z"/>
<path color="#50657a" d="M907,256l-8,9-3,10 7-8z"/>
<path color="#711319" d="M1108,71l-5,10-4,4 5-10z"/>
<path color="#73161a" d="M1103,81l-6,10-4,3 6-9z"/>
<path color="#793425" d="M1097,91l-5,11-4,3 5-11z"/>
<path color="#7b4727" d="M1092,102l-5,8-6,5-4,2 6-5 5-7z"/>
<path color="#91311d" d="M1081,115l-10,6 6-4z"/>
<path color="#7c5837" d="M1075,119l-5,8-4,3 5-9z"/>
<path color="#7b603f" d="M1070,127l-6,8-4,2 6-7z"/>
<path color="#755737" d="M1064,135l-6,5-4,2 6-5z"/>
<path color="#853928" d="M1058,140l-5,4-4,2 5-4z"/>
<path color="#736342" d="M1053,144l-6,7-4,2 6-7z"/>
<path color="#6d6443" d="M1047,151l-6,6-4,1 6-5z"/>
<path color="#793e30" d="M1041,157l-6,3-4,2 6-4z"/>
<path color="#814436" d="M1035,160l-6,1-4,2 6-1z"/>
<path color="#864132" d="M1029,161l-7,2-4,2 7-2z"/>
<path color="#735f3d" d="M1022,163l-6,6-4,2 6-6z"/>
<path color="#6e7b5c" d="M1016,169l-6,11-4,2 6-11z"/>
<path color="#618066" d="M1010,180l-7,10-4,1 7-9z"/>
<path color="#57765d" d="M1003,190l-6,6-4,2 6-7z"/>
<path color="#644c4e" d="M997,196l-7,0-4,1 7,1z"/>
<path color="#704b43" d="M990,196l-7,0-4,2 7-1z"/>
<path color="#78473b" d="M983,196l-7,1-4,2 7-1z"/>
<path color="#7b4032" d="M976,197l-4,2z"/>
<path color="#6b6847" d="M969,201l-7,7-4,2 7-7z"/>
<path color="#647e63" d="M962,208l-6,11-4,2 6-11z"/>
<path color="#587e6b" d="M956,219l-7,10-4,1 7-9z"/>
<path color="#517561" d="M949,229l-8,6-4,1 8-6z"/>
<path color="#4e6e5d" d="M941,235l-7,4-4,2 7-5z"/>
<path color="#554043" d="M934,239l-8,4-4,1 8-3z"/>
<path color="#51745f" d="M926,243l-15,12-4,1 15-12z"/>
<path color="#4b7e82" d="M911,255l-8,9-4,1 8-9z"/>
<path class="m" d="M1108,71l-4,4-8,39-2,14M1097,91l-4,3-8,34-2,13M1087,110l-4,2-8,31-2,11M1075,119l-4,2-7,30-2,12M1064,135l-4,2-8,28-1,10M1053,144l-4,2-8,28-2,10M1041,157l-4,1-8,26-2,10M1029,161l-4,2-8,27-2,10M1016,169l-4,2-7,26-2,10M1003,190l-4,1-7,23-2,8M990,196l-4,1-7,24-2,9M976,197l-4,2-7,27-1,11M962,208l-4,2-7,27-1,10M949,229l-4,1-8,23-1,8M934,239l-4,2-7,21-2,9M919,249l-4,1-7,22-2,8"/>
<path color="#942123" d="M1111,71l-11,20-3,0 11-20z"/>
<path color="#9b452d" d="M1100,91l-6,11-2,0 5-11z"/>
<path color="#9b6c33" d="M1094,102l-5,8-2,0 5-8z"/>
<path color="#947431" d="M1089,110l-6,5-5,4-3,0 6-4 6-5z"/>
<path color="#9d8944" d="M1078,119l-6,9-2-1 5-8z"/>
<path color="#9a954f" d="M1072,128l-5,8-3-1 6-8z"/>
<path color="#8f8c45" d="M1067,136l-12,8-2,0 11-9z"/>
<path color="#909c56" d="M1055,144l-6,7-2,0 6-7z"/>
<path color="#879d57" d="M1049,151l-6,6-2,0 6-6z"/>
<path color="#808d48" d="M1043,157l-6,3-2,0 6-3z"/>
<path color="#828140" d="M1037,160l-12,3-3,0 13-3z"/>
<path color="#8d964f" d="M1025,163l-6,6-3,0 6-6z"/>
<path color="#91ad6c" d="M1019,169l-7,12-2-1 6-11z"/>
<path color="#7db678" d="M1012,181l-6,10-3-1 7-10z"/>
<path color="#6bab72" d="M1006,191l-7,6-2-1 6-6z"/>
<path color="#4f3d45" d="M999,197l-9-1 7,0z"/>
<path color="#563a3b" d="M993,196l-10,0 7,0z"/>
<path color="#768345" d="M986,196l-7,2-3-1 7-1z"/>
<path color="#7f8a46" d="M979,198l-7,3-3,0 7-4z"/>
<path color="#85a15b" d="M972,201l-7,7-3,0 7-7z"/>
<path color="#83b475" d="M965,208l-7,12-2-1 6-11z"/>
<path color="#71b680" d="M958,220l-7,9-2,0 7-10z"/>
<path color="#62ab78" d="M951,229l-7,7-3-1 8-6z"/>
<path color="#5e9d68" d="M944,236l-8,4-2-1 7-4z"/>
<path color="#5f9862" d="M936,240l-7,4-3-1 8-4z"/>
<path color="#62a671" d="M929,244l-8,6-2-1 7-6z"/>
<path color="#61aa78" d="M921,250l-7,6-3-1 8-6z"/>
<path color="#5fb494" d="M914,256l-8,9-3-1 8-9z"/>
<path class="m" d="M1111,71l-3,0M1100,91l-3,0M1089,110l-2,0M1078,119l-3,0M1067,136l-3-1M1055,144l-2,0M1043,157l-2,0M1031,161l-2,0M1019,169l-3,0M1006,191l-3-1M993,196l-3,0M979,198l-3-1M965,208l-3,0M951,229l-2,0M936,240l-2-1M921,250l-2-1"/>
<path class="m" d="M1111,71l-17,31-5,8-6,5-5,4-11,17-12,8-12,13-6,3-12,3-6,6-7,12-6,10-7,6-6-1-7,0-7,2-7,3-7,7-7,12-7,9-7,7-8,4-7,4-8,6-7,6-8,9"/>
<path color="#942123" d="M1112,71l-11,20-1,0 11-20z"/>
<path color="#9b422c" d="M1101,91l-5,11-2,0 6-11z"/>
<path color="#9b6933" d="M1096,102l-6,8-1,0 5-8z"/>
<path color="#957531" d="M1090,110l-5,5-2,0 6-5z"/>
<path color="#93712e" d="M1085,115l-6,4-1,0 5-4z"/>
<path color="#9d8843" d="M1079,119l-5,9-2,0 6-9z"/>
<path color="#9a944e" d="M1074,128l-6,8-1,0 5-8z"/>
<path color="#8f8b45" d="M1068,136l-11,8-2,0 12-8z"/>
<path color="#929c55" d="M1057,144l-6,7-2,0 6-7z"/>
<path color="#889c56" d="M1051,151l-6,6-2,0 6-6z"/>
<path color="#818d47" d="M1045,157l-6,3-2,0 6-3z"/>
<path color="#83803f" d="M1039,160l-13,4-1-1 12-3z"/>
<path color="#8f964e" d="M1026,164l-6,5-1,0 6-6z"/>
<path color="#92ac6c" d="M1020,169l-6,12-2,0 7-12z"/>
<path color="#7eb677" d="M1014,181l-6,10-2,0 6-10z"/>
<path color="#6cab71" d="M1008,191l-7,6-2,0 7-6z"/>
<path color="#4f3d45" d="M1001,197l-8-1 6,1z"/>
<path color="#573a3b" d="M994,197l-8-1 7,0z"/>
<path color="#778345" d="M987,197l-6,1-2,0 7-2z"/>
<path color="#808a45" d="M981,198l-7,3-2,0 7-3z"/>
<path color="#86a05b" d="M974,201l-7,8-2-1 7-7z"/>
<path color="#84b374" d="M967,209l-7,11-2,0 7-12z"/>
<path color="#72b67f" d="M960,220l-7,10-2-1 7-9z"/>
<path color="#63ab77" d="M953,230l-8,6-1,0 7-7z"/>
<path color="#5f9d68" d="M945,236l-7,4-2,0 8-4z"/>
<path color="#5f9861" d="M938,240l-8,4-1,0 7-4z"/>
<path color="#62a670" d="M930,244l-7,6-2,0 8-6z"/>
<path color="#61aa77" d="M923,250l-8,6-1,0 7-6z"/>
<path color="#61b492" d="M915,256l-7,9-2,0 8-9z"/>
<path color="#b42726" d="M1116,72l-11,21-4-2 11-20z"/>
<path color="#b74c2f" d="M1105,93l-5,10-4-1 5-11z"/>
<path color="#bb7b37" d="M1100,103l-6,8-4-1 6-8z"/>
<path color="#b58c36" d="M1094,111l-5,6-4-2 5-5z"/>
<path color="#ad8733" d="M1089,117l-6,4-4-2 6-4z"/>
<path color="#bb9e48" d="M1083,121l-5,8-4-1 5-9z"/>
<path color="#b7ab54" d="M1078,129l-6,8-4-1 6-8z"/>
<path color="#a8a44b" d="M1072,137l-11,9-4-2 11-8z"/>
<path color="#aeb65c" d="M1061,146l-6,6-4-1 6-7z"/>
<path color="#a3b75d" d="M1055,152l-6,6-4-1 6-6z"/>
<path color="#93a44e" d="M1049,158l-6,4-4-2 6-3z"/>
<path color="#8a9244" d="M1043,162l-6,1-4-1 6-2z"/>
<path color="#949241" d="M1037,163l-7,2-4-1 7-2z"/>
<path color="#abaf55" d="M1030,165l-6,6-4-2 6-5z"/>
<path color="#a6c071" d="M1024,171l-6,11-4-1 6-12z"/>
<path color="#90cb7e" d="M1018,182l-6,10-4-1 6-10z"/>
<path color="#7dc379" d="M1012,192l-7,7-4-2 7-6z"/>
<path color="#443642" d="M1005,199l-7-1-4-1 7,0z"/>
<path color="#72904a" d="M998,198l-6,0-5-1 7,0z"/>
<path color="#7f9348" d="M992,198l-7,2-4-2 6-1z"/>
<path color="#909f4a" d="M985,200l-7,3-4-2 7-3z"/>
<path color="#a0bb62" d="M978,203l-7,7-4-1 7-8z"/>
<path color="#97c87a" d="M971,210l-7,12-4-2 7-11z"/>
<path color="#84cc87" d="M964,222l-7,9-4-1 7-10z"/>
<path color="#74c27f" d="M957,231l-7,7-5-2 8-6z"/>
<path color="#6bb370" d="M950,238l-8,4-4-2 7-4z"/>
<path color="#6aaa66" d="M942,242l-7,4-5-2 8-4z"/>
<path color="#72bd78" d="M935,246l-8,6-4-2 7-6z"/>
<path color="#71c17f" d="M927,252l-8,6-4-2 8-6z"/>
<path color="#6eca99" d="M919,258l-7,9-4-2 7-9z"/>
<path color="#cb2b27" d="M1120,74l-11,21-4-2 11-21z"/>
<path color="#cd5732" d="M1109,95l-5,10-4-2 5-10z"/>
<path color="#d38b3a" d="M1104,105l-6,8-4-2 6-8z"/>
<path color="#ca9b39" d="M1098,113l-5,6-6,4-4-2 6-4 5-6z"/>
<path color="#d1ae4d" d="M1087,123l-5,8-4-2 5-8z"/>
<path color="#ccbd59" d="M1082,131l-6,8-4-2 6-8z"/>
<path color="#bfb851" d="M1076,139l-11,9-4-2 11-9z"/>
<path color="#c2c861" d="M1065,148l-6,7-4-3 6-6z"/>
<path color="#b5c963" d="M1059,155l-6,6-4-3 6-6z"/>
<path color="#a6b754" d="M1053,161l-6,3-4-2 6-4z"/>
<path color="#9da246" d="M1047,164l-6,1-4-2 6-1z"/>
<path color="#a8a244" d="M1041,165l-6,2-5-2 7-2z"/>
<path color="#bfc15a" d="M1035,167l-7,6-4-2 6-6z"/>
<path color="#b3cf76" d="M1028,173l-6,12-4-3 6-11z"/>
<path color="#9cda83" d="M1022,185l-6,10-4-3 6-10z"/>
<path color="#89d47f" d="M1016,195l-7,6-4-2 7-7z"/>
<path color="#6e9a54" d="M1009,201l-6-1-5-2 7,1z"/>
<path color="#7f9f4d" d="M1003,200l-7,1-4-3 6,0z"/>
<path color="#90a44b" d="M996,201l-7,1-4-2 7-2z"/>
<path color="#a3b250" d="M989,202l-7,3-4-2 7-3z"/>
<path color="#b1cd67" d="M982,205l-7,8-4-3 7-7z"/>
<path color="#a4d87f" d="M975,213l-7,11-4-2 7-12z"/>
<path color="#8fdc8d" d="M968,224l-7,10-4-3 7-9z"/>
<path color="#7fd386" d="M961,234l-7,6-4-2 7-7z"/>
<path color="#76c377" d="M954,240l-7,5-5-3 8-4z"/>
<path color="#75bb6d" d="M947,245l-8,3-4-2 7-4z"/>
<path color="#7ccf82" d="M939,248l-15,13-5-3 16-12z"/>
<path color="#77d8a2" d="M924,261l-8,8-4-2 7-9z"/>
<path class="m" d="M1120,74l-4-2-4-1-1,0M1109,95l-4-2-4-2-1,0M1098,113l-4-2-5-1M1087,123l-4-2-5-2M1076,139l-4-2-5-1M1065,148l-4-2-6-2M1053,161l-4-3-6-1M1041,165l-4-2-6-2M1028,173l-4-2-5-2M1016,195l-4-3-6-1M1003,200l-5-2-5-2M989,202l-4-2-6-2M975,213l-4-3-6-2M961,234l-4-3-6-2M947,245l-5-3-6-2M931,254l-4-2-6-2"/>
<path color="#fc3027" d="M1124,81l-5,10-4-6 5-11z"/>
<path color="#fd3e29" d="M1119,91l-6,10-4-6 6-10z"/>
<path color="#ff7f37" d="M1113,101l-5,10-4-6 5-10z"/>
<path color="#ffb540" d="M1108,111l-6,8-4-6 6-8z"/>
<path color="#ffbb43" d="M1102,119l-5,6-4-6 5-6z"/>
<path color="#fcba42" d="M1097,125l-6,3-4-5 6-4z"/>
<path color="#ffcf55" d="M1091,128l-5,9-4-6 5-8z"/>
<path color="#fddf62" d="M1086,137l-6,8-4-6 6-8z"/>
<path color="#eedb5c" d="M1080,145l-5,4-5-5 6-5z"/>
<path color="#e9da5b" d="M1075,149l-6,4-4-5 5-4z"/>
<path color="#e8e96a" d="M1069,153l-6,7-4-5 6-7z"/>
<path color="#dbeb6c" d="M1063,160l-6,6-4-5 6-6z"/>
<path color="#cede61" d="M1057,166l-6,3-4-5 6-3z"/>
<path color="#cbcc53" d="M1051,169l-6,2-4-6 6-1z"/>
<path color="#d7cc52" d="M1045,171l-6,2-4-6 6-2z"/>
<path color="#e7e364" d="M1039,173l-6,6-5-6 7-6z"/>
<path color="#d4f37f" d="M1033,179l-7,11-4-5 6-12z"/>
<path color="#b8fc90" d="M1026,190l-6,10-4-5 6-10z"/>
<path color="#a5f78e" d="M1020,200l-6,6-5-5 7-6z"/>
<path color="#92c25e" d="M1014,206l-7,0-4-6 6,1z"/>
<path color="#a7c757" d="M1007,206l-7,0-4-5 7-1z"/>
<path color="#bbce57" d="M1000,206l-7,2-4-6 7-1z"/>
<path color="#cdda5e" d="M993,208l-7,3-4-6 7-3z"/>
<path color="#d5ef71" d="M986,211l-7,7-4-5 7-8z"/>
<path color="#c1fb8b" d="M979,218l-6,12-5-6 7-11z"/>
<path color="#a8fe9a" d="M973,230l-7,9-5-5 7-10z"/>
<path color="#98f697" d="M966,239l-8,6-4-5 7-6z"/>
<path color="#90e88e" d="M958,245l-7,5-4-5 7-5z"/>
<path color="#91e481" d="M951,250l-8,4-4-6 8-3z"/>
<path color="#98f28f" d="M943,254l-7,6-5-6 8-6z"/>
<path color="#93f29b" d="M936,260l-8,6-4-5 7-7z"/>
<path color="#8af3bd" d="M928,266l-7,9-5-6 8-8z"/>
<path color="#ff4f26" d="M1127,97l-6,9-2-15 5-10z"/>
<path color="#ff8330" d="M1121,106l-5,9-3-14 6-10z"/>
<path color="#ffa93e" d="M1116,115l-5,9-3-13 5-10z"/>
<path color="#ffb94a" d="M1111,124l-6,8-3-13 6-8z"/>
<path color="#febf4e" d="M1105,132l-5,5-3-12 5-6z"/>
<path color="#fbbf4e" d="M1100,137l-6,4-3-13 6-3z"/>
<path color="#f5cd5a" d="M1094,141l-5,8-3-12 5-9z"/>
<path color="#e1d662" d="M1089,149l-6,7-3-11 6-8z"/>
<path color="#d2d461" d="M1083,156l-5,5-3-12 5-4z"/>
<path color="#cfd461" d="M1078,161l-6,4-3-12 6-4z"/>
<path color="#cbdc6a" d="M1072,165l-6,6-3-11 6-7z"/>
<path color="#c0dd70" d="M1066,171l-6,6-3-11 6-6z"/>
<path color="#bad76c" d="M1060,177l-6,3-3-11 6-3z"/>
<path color="#bdd063" d="M1054,180l-6,2-3-11 6-2z"/>
<path color="#c7d05e" d="M1048,182l-6,2-3-11 6-2z"/>
<path color="#cdda66" d="M1042,184l-6,6-3-11 6-6z"/>
<path color="#c0e87f" d="M1036,190l-6,10-4-10 7-11z"/>
<path color="#a5eb92" d="M1030,200l-7,10-3-10 6-10z"/>
<path color="#8fdca6" d="M1023,210l-6,6-3-10 6-6z"/>
<path color="#8dca84" d="M1017,216l-7,0-3-10 7,0z"/>
<path color="#a1d171" d="M1010,216l-6,2-4-12 7,0z"/>
<path color="#afd26c" d="M1004,218l-7,2-4-12 7-2z"/>
<path color="#b9d56b" d="M997,220l-7,3-4-12 7-3z"/>
<path color="#badf76" d="M990,223l-7,7-4-12 7-7z"/>
<path color="#abea8d" d="M983,230l-7,11-3-11 6-12z"/>
<path color="#90dfae" d="M976,241l-7,8-3-10 7-9z"/>
<path color="#7fd3bb" d="M969,249l-7,7-4-11 8-6z"/>
<path color="#7bcdb6" d="M962,256l-7,4-4-10 7-5z"/>
<path color="#7fcdac" d="M955,260l-8,4-4-10 8-4z"/>
<path color="#82d4b3" d="M947,264l-7,6-4-10 7-6z"/>
<path color="#7ed3be" d="M940,270l-8,6-4-10 8-6z"/>
<path color="#74d3d9" d="M932,276l-8,9-3-10 7-9z"/>
<path class="m" d="M1127,97l-3-16-4-7M1116,115l-3-14-4-6M1105,132l-3-13-4-6M1094,141l-3-13-4-5M1083,156l-3-11-4-6M1072,165l-3-12-4-5M1060,177l-3-11-4-5M1048,182l-3-11-4-6M1036,190l-3-11-5-6M1023,210l-3-10-4-5M1010,216l-3-10-4-6M997,220l-4-12-4-6M983,230l-4-12-4-5M969,249l-3-10-5-5M955,260l-4-10-4-5M940,270l-4-10-5-6"/>
<path class="m" d="M1127,97l-16,27-6,8-5,5-6,4-11,15-11,9-12,12-6,3-12,4-6,6-6,10-7,10-6,6-7,0-6,2-7,2-7,3-7,7-7,11-7,8-7,7-15,8-7,6-8,6-8,9"/>
<path color="#ff9835" d="M1127,104l-5,8-1-6 6-9z"/>
<path color="#ffaa42" d="M1122,112l-5,9-1-6 5-9z"/>
<path color="#fdbe51" d="M1117,121l-5,9-1-6 5-9z"/>
<path color="#e7c658" d="M1112,130l-6,7-1-5 6-8z"/>
<path color="#d6c85b" d="M1106,137l-11,9-1-5 6-4 5-5z"/>
<path color="#ccd366" d="M1095,146l-5,8-1-5 5-8z"/>
<path color="#bad672" d="M1090,154l-6,7-1-5 6-7z"/>
<path color="#aad477" d="M1084,161l-11,9-6,6-1-5 6-6 11-9z"/>
<path color="#9bd587" d="M1067,176l-6,6-1-5 6-6z"/>
<path color="#97cf86" d="M1061,182l-6,3-1-5 6-3z"/>
<path color="#9dcf77" d="M1055,185l-6,2-1-5 6-2z"/>
<path color="#a6ce72" d="M1049,187l-6,3-1-6 6-2z"/>
<path color="#aad579" d="M1043,190l-6,5-1-5 6-6z"/>
<path color="#9bdd97" d="M1037,195l-6,10-1-5 6-10z"/>
<path color="#7dcec2" d="M1031,205l-7,9-1-4 7-10z"/>
<path color="#6bc2d1" d="M1024,214l-6,6-1-4 6-6z"/>
<path color="#6cb7b4" d="M1018,220l-7,1-1-5 7,0z"/>
<path color="#7ec09e" d="M1011,221l-6,2-1-5 6-2z"/>
<path color="#8dc88e" d="M1005,223l-7,2-1-5 7-2z"/>
<path color="#96ce86" d="M998,225l-7,4-1-6 7-3z"/>
<path color="#95d392" d="M991,229l-7,7-1-6 7-7z"/>
<path color="#82d0bb" d="M984,236l-7,10-1-5 7-11z"/>
<path color="#6bc3d8" d="M977,246l-7,8-1-5 7-8z"/>
<path color="#66bad1" d="M970,254l-7,6-1-4 7-7z"/>
<path color="#65b7c9" d="M963,260l-15,9-1-5 15-8z"/>
<path color="#67bbd0" d="M948,269l-15,12-1-5 15-12z"/>
<path color="#64badb" d="M933,281l-7,8-2-4 8-9z"/>
<path color="#f0c356" d="M1131,127l-5,7-4-22 5-8z"/>
<path color="#dbcd5f" d="M1126,134l-6,8-3-21 5-9z"/>
<path color="#c6d76d" d="M1120,142l-5,8-3-20 5-9z"/>
<path color="#b2d878" d="M1115,150l-5,6-4-19 6-7z"/>
<path color="#a6d77c" d="M1110,156l-5,5-4-19 5-5z"/>
<path color="#a0d67d" d="M1105,161l-6,4-4-19 6-4z"/>
<path color="#97d796" d="M1099,165l-5,7-4-18 5-8z"/>
<path color="#83ceb4" d="M1094,172l-6,7-4-18 6-7z"/>
<path color="#75c4bd" d="M1088,179l-6,5-4-18 6-5z"/>
<path color="#72c1c0" d="M1082,184l-5,4-4-18 5-4z"/>
<path color="#6ac0d0" d="M1077,188l-12,11-4-17 12-12z"/>
<path color="#67b8c8" d="M1065,199l-6,3-4-17 6-3z"/>
<path color="#68b8c1" d="M1059,202l-6,3-4-18 6-2z"/>
<path color="#70bdb9" d="M1053,205l-6,2-4-17 6-3z"/>
<path color="#74c5c2" d="M1047,207l-6,5-4-17 6-5z"/>
<path color="#6bc5e1" d="M1041,212l-6,9-4-16 6-10z"/>
<path color="#62bae3" d="M1035,221l-6,8-5-15 7-9z"/>
<path color="#5cafdb" d="M1029,229l-7,6-4-15 6-6z"/>
<path color="#5da9c3" d="M1022,235l-13,5-4-17 13-3z"/>
<path color="#63b2c4" d="M1009,240l-6,3-5-18 7-2z"/>
<path color="#66b8c9" d="M1003,243l-7,4-5-18 7-4z"/>
<path color="#67bbd3" d="M996,247l-7,6-5-17 7-7z"/>
<path color="#5fb4e1" d="M989,253l-7,9-7,8-5-16 7-8 7-10z"/>
<path color="#57a6d6" d="M975,270l-7,5-7,5-5-15 7-5 7-6z"/>
<path color="#57a5d0" d="M961,280l-8,4-5-15 8-4z"/>
<path color="#58a9d9" d="M953,284l-15,12-5-15 15-12z"/>
<path color="#57a7e4" d="M938,296l-7,8-5-15 7-8z"/>
<path class="m" d="M1131,127l-4-30M1120,142l-4-27M1110,156l-5-24M1099,165l-5-24M1088,179l-5-23M1077,188l-5-23M1065,199l-5-22M1053,205l-5-23M1041,212l-5-22M1029,229l-6-19M1016,237l-6-21M1003,243l-6-23M989,253l-6-23M975,270l-6-21M961,280l-6-20M946,290l-6-20"/>
<path color="#70b9bf" d="M1134,157l-5,5-3-28 5-7z"/>
<path color="#66b3ca" d="M1129,162l-5,6-4-26 6-8z"/>
<path color="#5ea9cf" d="M1124,168l-11,12-3-24 5-6 5-8z"/>
<path color="#579ecd" d="M1113,180l-10,9-4-24 11-9z"/>
<path color="#559ad4" d="M1103,189l-6,6-3-23 5-7z"/>
<path color="#5390d4" d="M1097,195l-5,6-4-22 6-7z"/>
<path color="#5083ce" d="M1092,201l-23,19-4-21 12-11 11-9z"/>
<path color="#4e7dc9" d="M1069,220l-6,4-4-22 6-3z"/>
<path color="#4f80c6" d="M1063,224l-5,2-5-21 6-3z"/>
<path color="#5086c7" d="M1058,226l-6,3-5-22 6-2z"/>
<path color="#518ace" d="M1052,229l-7,5-4-22 6-5z"/>
<path color="#5187d9" d="M1045,234l-6,7-4-20 6-9z"/>
<path color="#4f7bd8" d="M1039,241l-6,7-4-19 6-8z"/>
<path color="#4d71d2" d="M1033,248l-6,6-5-19 7-6z"/>
<path color="#4b6ec5" d="M1027,254l-7,3-4-20 6-2z"/>
<path color="#4d76c7" d="M1020,257l-13,8-4-22 13-6z"/>
<path color="#4e7ccd" d="M1007,265l-7,5-6,6-5-23 7-6 7-4z"/>
<path color="#4e76d6" d="M994,276l-7,7-5-21 7-9z"/>
<path color="#4c6dd3" d="M987,283l-7,7-5-20 7-8z"/>
<path color="#4b6acd" d="M980,290l-7,5-15,9-15,11-5-19 15-12 15-9 7-5z"/>
<path color="#4b68d5" d="M943,315l-7,8-5-19 7-8z"/>
<path color="#4b68cc" d="M1137,180l-5,5-3-23 5-5z"/>
<path color="#4b60cb" d="M1132,185l-10,9-3-20 10-12z"/>
<path color="#4d53c2" d="M1122,194l-15,14-4-19 10-9 6-6z"/>
<path color="#4f48bf" d="M1107,208l-11,11-4-18 11-12z"/>
<path color="#4f3bb2" d="M1096,219l-23,18-11,7-4-18 11-6 23-19z"/>
<path color="#4e42b2" d="M1062,244l-6,3-4-18 6-3z"/>
<path color="#4e45b8" d="M1056,247l-6,5-5-18 7-5z"/>
<path color="#5042be" d="M1050,252l-6,5-5-16 6-7z"/>
<path color="#513bba" d="M1044,257l-7,6-4-15 6-7z"/>
<path color="#5237b2" d="M1037,263l-6,6-4-15 6-6z"/>
<path color="#5236aa" d="M1031,269l-6,5-5-17 7-3z"/>
<path color="#5137ad" d="M1025,274l-13,10-5-19 13-8z"/>
<path color="#5137af" d="M1012,284l-14,10-4-18 6-6 7-5z"/>
<path color="#5335af" d="M998,294l-6,6-5-17 7-7z"/>
<path color="#5433a6" d="M992,300l-7,6-22,14-5-16 15-9 7-5 7-7z"/>
<path color="#5236ad" d="M963,320l-7,5-5-16 7-5z"/>
<path color="#5336ae" d="M956,325l-8,6-5-16 8-6z"/>
<path color="#5535ae" d="M948,331l-7,7-5-15 7-8z"/>
<path color="#582fa2" d="M1141,192l-15,12-4-10 15-14z"/>
<path color="#5b2c9e" d="M1126,204l-11,8-3-9 10-9z"/>
<path color="#5e2898" d="M1115,212l-10,11-4-9 11-11z"/>
<path color="#612390" d="M1105,223l-6,5-3-9 5-5z"/>
<path color="#612085" d="M1099,228l-11,9-11,8-18,11-3-9 17-10 23-18z"/>
<path color="#602491" d="M1059,256l-6,4-18,17-4-8 19-17 6-5z"/>
<path color="#631f83" d="M1035,277l-40,32-6,5-4-8 20-17 26-20z"/>
<path color="#621e7e" d="M989,314l-7,4-4-8 7-4z"/>
<path color="#612084" d="M982,318l-22,15-4-8 7-5 15-10z"/>
<path color="#62218b" d="M960,333l-15,13-4-8 15-13z"/>
<path class="m" d="M1141,192l-4-12-3-23-3-30M1131,199l-4-10-3-21-4-26M1120,208l-3-9-4-19-3-24M1110,217l-3-9-4-19-4-24M1099,228l-3-9-4-18-4-22M1088,237l-3-9-4-18-4-22M1077,245l-4-8-4-17-4-21M1065,252l-3-8-4-18-5-21M1053,260l-3-8-5-18-4-22M1041,271l-4-8-4-15-4-19M1028,282l-3-8-5-17-4-20M1016,293l-4-9-5-19-4-22M1002,303l-4-9-4-18-5-23M989,314l-4-8-5-16-5-20M974,323l-4-8-4-16-5-19M960,333l-4-8-5-16-5-19"/>
<path class="m" d="M1141,192l-10,7-11,9-10,9-11,11-11,9-11,8-18,11-6,4-18,17-40,32-6,5-22,14-15,11-7,7"/>
<path color="#602289" d="M1141,193l-10,7 0-1 10-7z"/>
<path color="#61228b" d="M1131,200l-10,9-1-1 11-9z"/>
<path color="#641f86" d="M1121,209l-21,20-1-1 11-11 10-9z"/>
<path color="#641d79" d="M1100,229l-11,9-12,8-17,11-1-1 18-11 11-8 11-9z"/>
<path color="#631f82" d="M1060,257l-6,4-25,22-1-1 25-22 6-4z"/>
<path color="#641d79" d="M1029,283l-33,27-28,19-1-1 28-19 33-27z"/>
<path color="#631e80" d="M968,329l-15,11-8,7 0-1 7-7 15-11z"/>
<path class="m" d="M1141,193l0-1M1131,200l0-1M1121,209l-1-1M1110,218l0-1M1100,229l-1-1M1089,238l-1-1M1077,246l0-1M1066,253l-1-1M1054,261l-1-1M1042,272l-1-1M1029,283l-1-1M1016,294l0-1M1003,304l-1-1M989,315l0-1M975,324l-1-1M960,334l0-1"/>
<path color="#621f83" d="M1145,200l-15,10-21,19-4-5 21-19 15-12z"/>
<path color="#641e7f" d="M1109,229l-5,5-4-5 5-5z"/>
<path color="#631d76" d="M1104,234l-17,14-4-6 17-13z"/>
<path color="#601c71" d="M1087,248l-17,11-4-6 17-11z"/>
<path color="#5f1d78" d="M1070,259l-12,8-4-6 12-8z"/>
<path color="#601e80" d="M1058,267l-6,5-4-5 6-6z"/>
<path color="#5f1e7f" d="M1052,272l-12,10-5-4 13-11z"/>
<path color="#611d76" d="M1040,282l-20,17-20,16-4-5 39-32z"/>
<path color="#5d1c6f" d="M1000,315l-21,14-4-5 21-14z"/>
<path color="#5d1d79" d="M979,329l-14,10-15,13-5-5 15-13 15-10z"/>
<path color="#601c70" d="M1149,204l-5,3-4-4 5-3z"/>
<path color="#5f1c76" d="M1144,207l-15,12-21,19-4-4 21-20 15-11z"/>
<path color="#5f1b6b" d="M1108,238l-17,14-4-4 17-14z"/>
<path color="#5c1a65" d="M1091,252l-11,7-4-4 11-7z"/>
<path color="#5a1b6b" d="M1080,259l-18,12-4-4 18-12z"/>
<path color="#5b1c74" d="M1062,271l-25,21-4-4 25-21z"/>
<path color="#5e1b6c" d="M1037,292l-12,12-14,10-4-4 26-22z"/>
<path color="#5b1a65" d="M1011,314l-13,10-5-4 14-10z"/>
<path color="#581965" d="M998,324l-14,9-5-4 14-9z"/>
<path color="#581b6e" d="M984,333l-22,16-5-4 22-16z"/>
<path color="#591b73" d="M962,349l-8,7-4-4 7-7z"/>
<path color="#501862" d="M1153,207l-10,6-4-2 10-7z"/>
<path color="#511869" d="M1143,213l-15,12-16,15-4-2 16-15 15-12z"/>
<path color="#50175f" d="M1112,240l-17,14-4-2 17-14z"/>
<path color="#4d1659" d="M1095,254l-11,8-4-3 11-7z"/>
<path color="#4c175e" d="M1084,262l-18,11-4-2 18-12z"/>
<path color="#4d1868" d="M1066,273l-18,16-4-3 18-15z"/>
<path color="#4f1868" d="M1048,289l-6,5-5-2 7-6z"/>
<path color="#501761" d="M1042,294l-13,12-13,11-5-3 14-10 12-12z"/>
<path color="#4c1658" d="M1016,317l-21,14-4-3 20-14z"/>
<path color="#4a165e" d="M995,331l-21,15-5-3 22-15z"/>
<path color="#4c1867" d="M974,346l-15,12-5-2 15-13z"/>
<path color="#501760" d="M1157,209l-15,10-4-2 15-10z"/>
<path color="#511868" d="M1142,219l-10,9-11,10-4-3 21-18z"/>
<path color="#51175f" d="M1121,238l-11,10-11,8-4-2 11-9 11-10z"/>
<path color="#4e1658" d="M1099,256l-5,4-4-2 5-4z"/>
<path color="#4d1657" d="M1094,260l-12,8-4-3 12-7z"/>
<path color="#4d1761" d="M1082,268l-11,8-13,9-4-2 12-10 12-8z"/>
<path color="#4e1867" d="M1058,285l-6,6-4-2 6-6z"/>
<path color="#501761" d="M1052,291l-19,18-13,11-4-3 13-11 19-17z"/>
<path color="#4c1557" d="M1020,320l-27,18-5-2 28-19z"/>
<path color="#4b1760" d="M993,338l-22,17-5-3 22-16z"/>
<path color="#4d1766" d="M971,355l-8,6-4-3 7-6z"/>
<path class="m" d="M1157,209l-8-5-4-4-4-7M1147,216l-8-5-4-5-4-6M1137,223l-8-4-4-5-4-5M1126,233l-8-5-4-4-4-6M1116,243l-8-5-4-4-4-5M1105,252l-8-5-4-4-4-5M1094,260l-8-4-5-4-4-6M1082,268l-8-5-4-4-4-6M1071,276l-9-5-4-4-4-6M1058,285l-8-4-4-4-4-5M1046,297l-9-5-4-4-4-5M1033,309l-8-5-5-5-4-5M1020,320l-9-6-4-4-4-6M1007,329l-9-5-5-4-4-5M993,338l-9-5-5-4-4-5M978,349l-9-6-4-4-5-5"/>
<path class="m" d="M1157,209l-10,7-10,7-21,20-11,9-11,8-18,11-11,9-13,11-19,18-13,11-35,23-7,6-15,12"/>
<path color="#39104d" d="M1161,209l-10,7-4,0 10-7z"/>
<path color="#3b1154" d="M1151,216l-10,8-32,29-4-1 32-29 10-7z"/>
<path color="#3b114b" d="M1109,253l-11,8-12,7-4,0 12-8 11-8z"/>
<path color="#3b1151" d="M1086,268l-17,13-4-1 17-12z"/>
<path color="#3c1259" d="M1069,281l-6,5-5-1 7-5z"/>
<path color="#3c135a" d="M1063,286l-6,6-5-1 6-6z"/>
<path color="#3d1258" d="M1057,292l-13,12-4-1 12-12z"/>
<path color="#3d1152" d="M1044,304l-13,11-4-1 13-11z"/>
<path color="#3c114c" d="M1031,315l-13,11-21,14-4-2 20-13 14-11z"/>
<path color="#3b1250" d="M997,340l-7,5-5-2 8-5z"/>
<path color="#3c1256" d="M990,345l-15,11-4-1 14-12z"/>
<path color="#3c135a" d="M975,356l-7,7-5-2 8-6z"/>
<path color="#391152" d="M1165,210l-10,6-10,8-4,0 10-8 10-7z"/>
<path color="#3a125a" d="M1145,224l-5,5-4-1 5-4z"/>
<path color="#3b125a" d="M1140,229l-5,5-5-1 6-5z"/>
<path color="#3b125a" d="M1135,234l-6,5-4-1 5-5z"/>
<path color="#3c1153" d="M1129,239l-16,14-4,0 16-15z"/>
<path color="#3b114c" d="M1113,253l-11,9-11,7-5-1 12-7 11-8z"/>
<path color="#3a1151" d="M1091,269l-12,8-4-1 11-8z"/>
<path color="#3b1258" d="M1079,277l-6,5-4-1 6-5z"/>
<path color="#3c135b" d="M1073,282l-18,17-5-1 19-17z"/>
<path color="#3c1258" d="M1055,299l-7,6-4-1 6-6z"/>
<path color="#3c1151" d="M1048,305l-19,17-5-1 20-17z"/>
<path color="#3c114c" d="M1029,322l-21,14-4-1 20-14z"/>
<path color="#3b1251" d="M1008,336l-14,10-4-1 14-10z"/>
<path color="#3b1258" d="M994,346l-14,11-5-1 15-11z"/>
<path color="#3c135c" d="M980,357l-8,7-4-1 7-7z"/>
<path color="#3a0839" d="M1169,207l-15,11-4,2 15-10z"/>
<path color="#330d48" d="M1154,218l-10,9-21,21-17,13-4,1 17-13 21-20 10-9z"/>
<path color="#360734" d="M1106,261l-5,4-5,0 6-3z"/>
<path color="#360736" d="M1101,265l-6,3-4,1 5-4z"/>
<path color="#360737" d="M1095,268l-6,4-4,1 6-4z"/>
<path color="#330d4d" d="M1089,272l-12,9-4,1 12-9z"/>
<path color="#350f4f" d="M1077,281l-12,12-4,0 12-11z"/>
<path color="#350d49" d="M1065,293l-32,28-13,10-21,14-5,1 35-24 13-11 19-18z"/>
<path color="#350f4f" d="M999,345l-15,12-4,0 14-11z"/>
<path color="#360f51" d="M984,357l-7,7-5,0 8-7z"/>
<path color="#3f0a45" d="M1173,203l-14,11 10-7z"/>
<path color="#3b093c" d="M1163,211l-15,14-10,10-4,3 5-6 20-18z"/>
<path color="#3b0835" d="M1138,235l-11,10-4,3 11-10z"/>
<path color="#3b083b" d="M1127,245l-11,10-23,15-11,10-5,1 6-5 23-15 17-13z"/>
<path color="#300c4d" d="M1082,280l-19,16-4,2 18-17z"/>
<path color="#3a0835" d="M1063,296l-32,28-5,2 14-11 19-17z"/>
<path color="#38083a" d="M1031,324l-35,26-5,1 35-25z"/>
<path color="#310d4e" d="M996,350l-15,13-4,1 14-13z"/>
<path class="m" d="M1173,203l-4,4-4,3-8-1M1163,211l-4,3-4,2-8,0M1153,220l-4,3-4,1-8-1M1143,230l-4,2-4,2-9-1M1132,240l-4,3-4,1-8-1M1122,250l-5,2-4,1-8-1M1111,259l-5,2-4,1-8-2M1099,266l-4,2-4,1-9-1M1088,274l-5,2-4,1-8-1M1076,285l-5,2-4,0-9-2M1063,296l-4,2-4,1-9-2M1051,308l-5,2-4,1-9-2M1037,319l-4,2-4,1-9-2M1024,330l-4,1-5,0-8-2M1010,339l-4,1-5,1-8-3M996,350l-5,1-4,0-9-2"/>
<path color="#461053" d="M1174,202l-10,8-11,10 20-17z"/>
<path color="#450c47" d="M1154,219l-21,21-16,14-23,15-6,5 28-19 16-15 21-20z"/>
<path color="#420b45" d="M1088,274l-6,6 6-6z"/>
<path color="#400a41" d="M1082,279l-19,17 19-16z"/>
<path color="#430b42" d="M1064,296l-13,11 12-11z"/>
<path color="#450b42" d="M1051,307l-14,12 14-11z"/>
<path color="#430b41" d="M1038,318l-14,12 13-11z"/>
<path color="#410a44" d="M1025,329l-21,15-8,6 28-20z"/>
<path color="#3f0a3f" d="M996,349l-14,13 14-12z"/>
<path class="m" d="M1174,202l-1,1M1164,210l-1,1M1154,219l-1,1M1144,229l-1,1M1133,240l-1,0M1122,249l0,1M1111,258l0,1M1100,265l-1,1M1088,274M1076,285M1064,296l-1,0M1051,307l0,1M1038,318l-1,1M1025,329l-1,1M1011,339l-1,0M996,349l0,1"/>
<path class="m" d="M1174,202l-10,8-10,9-10,10-11,11-11,9-11,9-17,11-6,5-18,17-39,33-6,5-21,15-15,12-7,6"/>
<path color="#431a6b" d="M1178,193l-10,9-4,8 10-8z"/>
<path color="#431661" d="M1168,202l-21,20-3,7 20-19z"/>
<path color="#441356" d="M1147,222l-5,6-4,6 6-5z"/>
<path color="#470f52" d="M1142,228l-5,5-16,15-6,4-11,7-4,6 17-11 11-9 10-11z"/>
<path color="#45125b" d="M1104,259l-6,4-4,6 6-4z"/>
<path color="#44125a" d="M1098,263l-6,5-4,6 6-5z"/>
<path color="#421051" d="M1092,268l-12,12-4,5 12-11z"/>
<path color="#440e4d" d="M1080,280l-6,6-13,10-4,5 19-16z"/>
<path color="#470e4e" d="M1061,296l-13,10-3,7 12-12z"/>
<path color="#460d4c" d="M1048,306l-13,12-14,11-3,5 13-10 14-11z"/>
<path color="#440d4f" d="M1021,329l-14,10-7,6-4,4 22-15z"/>
<path color="#420d4c" d="M1000,345l-7,6-4,5 7-7z"/>
<path color="#420c47" d="M993,351l-11,11 7-6z"/>
<path color="#3d4594" d="M1183,172l-10,12-5,18 10-9z"/>
<path color="#3d3b8d" d="M1173,184l-10,12-5,16 10-10z"/>
<path color="#3e368a" d="M1163,196l-6,5-4,16 5-5z"/>
<path color="#3e2f84" d="M1157,201l-5,4-10,13-5,15 16-16z"/>
<path color="#402680" d="M1142,218l-22,20-12,7-4,14 11-7 22-19z"/>
<path color="#3f2b85" d="M1108,245l-6,3-5,5-5,15 12-9z"/>
<path color="#40227a" d="M1097,253l-13,15-6,6-19,12-6,5-7,6-7,8-4,13 13-12 26-20 18-18z"/>
<path color="#421e72" d="M1039,305l-6,6-5,13 7-6z"/>
<path color="#421e73" d="M1033,311l-7,6-5,12 7-5z"/>
<path color="#411f76" d="M1026,317l-14,10-15,12-4,12 14-12 14-10z"/>
<path color="#401d6f" d="M997,339l-7,8-5,11 8-7z"/>
<path color="#5c838b" d="M1188,144l-5,8-5,26 5-6z"/>
<path color="#517992" d="M1183,152l-10,15-5,23 10-12z"/>
<path color="#4b7094" d="M1173,167l-5,7-5,22 5-6z"/>
<path color="#486d98" d="M1168,174l-11,10-5,21 11-9z"/>
<path color="#446694" d="M1157,184l-5,7-5,21 5-7z"/>
<path color="#435f93" d="M1152,191l-6,7-4,20 5-6z"/>
<path color="#425c97" d="M1146,198l-5,5-5,20 6-5z"/>
<path color="#425b98" d="M1141,203l-5,5-5,20 5-5z"/>
<path color="#415696" d="M1136,208l-12,11-4,19 11-10z"/>
<path color="#41579b" d="M1124,219l-5,4-6,2-5,20 12-7z"/>
<path color="#425d9a" d="M1113,225l-6,3-6,6-4,19 5-5 6-3z"/>
<path color="#40548e" d="M1101,234l-6,9-4,17 6-7z"/>
<path color="#3d498f" d="M1095,243l-6,8-6,7-5,16 13-14z"/>
<path color="#3e4a9a" d="M1083,258l-6,2-5,17 6-3z"/>
<path color="#40529a" d="M1077,260l-13,6-7,5-4,20 19-14z"/>
<path color="#405294" d="M1057,271l-6,7-5,19 7-6z"/>
<path color="#3c4592" d="M1051,278l-7,9-7,8-7,6-7,5-4,16 14-11 13-14z"/>
<path color="#3c4597" d="M1023,306l-7,4-4,17 7-5z"/>
<path color="#3c4492" d="M1016,310l-15,13-4,16 15-12z"/>
<path color="#3b3f8c" d="M1001,323l-7,8-4,16 7-8z"/>
<path class="m" d="M1188,144l-5,28-5,21-4,9M1178,159l-5,25-5,18-4,8M1168,174l-5,22-5,16-4,7M1157,184l-5,21-5,17-3,7M1146,198l-4,20-5,15-4,7M1136,208l-5,20-5,15-4,6M1124,219l-4,19-5,14-4,6M1113,225l-5,20-4,14-4,6M1101,234l-4,19-5,15-4,6M1089,251l-5,17-4,12-4,5M1077,260l-5,17-4,14-4,5M1064,266l-5,20-4,15-4,6M1051,278l-5,19-4,15-4,6M1037,295l-4,16-5,13-3,5M1023,306l-4,16-5,12-3,5M1009,316l-5,16-4,13-4,4"/>
<path color="#bf7d38" d="M1193,122l-5,9-5,21 5-8z"/>
<path color="#ad813e" d="M1188,131l-5,9-5,19 5-7z"/>
<path color="#9a8343" d="M1183,140l-5,10-5,17 5-8z"/>
<path color="#8c864e" d="M1178,150l-5,7-5,17 5-7z"/>
<path color="#848956" d="M1173,157l-6,6-5,16 6-5z"/>
<path color="#818a5a" d="M1167,163l-5,4-5,17 5-5z"/>
<path color="#75815e" d="M1162,167l-5,8-5,16 5-7z"/>
<path color="#657b72" d="M1157,175l-6,8-5,15 6-7z"/>
<path color="#5c7b86" d="M1151,183l-11,9-4,16 10-10z"/>
<path color="#557589" d="M1140,192l-5,7-5,15 6-6z"/>
<path color="#527490" d="M1135,199l-6,6-6,3-4,15 5-4 6-5z"/>
<path color="#557996" d="M1123,208l-5,3-5,14 6-2z"/>
<path color="#5b7c8e" d="M1118,211l-6,2-5,15 6-3z"/>
<path color="#5b7884" d="M1112,213l-6,6-5,15 6-6z"/>
<path color="#4f6b7e" d="M1106,219l-6,11-5,13 6-9z"/>
<path color="#496482" d="M1100,230l-6,9-5,12 6-8z"/>
<path color="#46638b" d="M1094,239l-7,6-4,13 6-7z"/>
<path color="#4b6d9b" d="M1087,245l-12,3-5,15 13-5z"/>
<path color="#517497" d="M1075,248l-7,3-4,15 6-3z"/>
<path color="#527593" d="M1068,251l-6,4-5,16 7-5z"/>
<path color="#50708b" d="M1062,255l-7,8-4,15 6-7z"/>
<path color="#476385" d="M1055,263l-7,10-6,9-5,13 7-8 7-9z"/>
<path color="#446091" d="M1042,282l-7,7-15,9-14,13-5,12 15-13 14-9 7-6z"/>
<path color="#405887" d="M1006,311l-8,9-4,11 7-8z"/>
<path color="#d26523" d="M1195,116l-5,9-2,6 5-9z"/>
<path color="#cd6f2b" d="M1190,125l-6,10-1,5 5-9z"/>
<path color="#c87833" d="M1184,135l-5,9-1,6 5-10z"/>
<path color="#b4823e" d="M1179,144l-5,8-5,6-2,5 6-6 5-7z"/>
<path color="#ad8843" d="M1169,158l-6,4-1,5 5-4z"/>
<path color="#a18542" d="M1163,162l-5,8-1,5 5-8z"/>
<path color="#93864b" d="M1158,170l-5,8-2,5 6-8z"/>
<path color="#8b8b55" d="M1153,178l-11,10-2,4 11-9z"/>
<path color="#848955" d="M1142,188l-6,6-1,5 5-7z"/>
<path color="#7b8961" d="M1136,194l-6,6-5,4-2,4 6-3 6-6z"/>
<path color="#828e5f" d="M1125,204l-6,2-1,5 5-3z"/>
<path color="#898e5a" d="M1119,206l-6,3-1,4 6-2z"/>
<path color="#888954" d="M1113,209l-6,6-1,4 6-6z"/>
<path color="#767e57" d="M1107,215l-6,11-1,4 6-11z"/>
<path color="#5f7673" d="M1101,226l-6,9-1,4 6-9z"/>
<path color="#54748a" d="M1095,235l-6,7-2,3 7-6z"/>
<path color="#5a7e96" d="M1089,242l-7,1-1,4 6-2z"/>
<path color="#698481" d="M1082,243l-6,1-1,4 6-1z"/>
<path color="#748971" d="M1076,244l-6,3-2,4 7-3z"/>
<path color="#7b8a65" d="M1070,247l-7,4-1,4 6-4z"/>
<path color="#768563" d="M1063,251l-7,7-1,5 7-8z"/>
<path color="#63786e" d="M1056,258l-6,11-2,4 7-10z"/>
<path color="#527286" d="M1050,269l-7,9-1,4 6-9z"/>
<path color="#507190" d="M1043,278l-7,7-7,5-1,4 7-5 7-7z"/>
<path color="#527494" d="M1029,290l-8,4-1,4 8-4z"/>
<path color="#50718d" d="M1021,294l-14,14-1,3 14-13z"/>
<path color="#4c6987" d="M1007,308l-8,8-1,4 8-9z"/>
<path class="m" d="M1195,116l-7,28M1184,135l-6,24M1174,152l-6,22M1163,162l-6,22M1153,178l-7,20M1142,188l-6,20M1130,200l-6,19M1119,206l-6,19M1107,215l-6,19M1095,235l-6,16M1082,243l-5,17M1070,247l-6,19M1056,258l-5,20M1043,278l-6,17M1029,290l-6,16M1014,301l-5,15"/>
<path class="m" d="M1195,116l-16,28-5,8-5,6-6,4-10,16-11,10-12,12-5,4-12,5-6,6-6,11-6,9-6,7-7,1-6,1-6,3-7,4-7,7-6,11-7,9-7,7-15,9-7,7-7,7-8,8"/>
<path color="#c32f17" d="M1199,101l-6,11-3,13 5-9z"/>
<path color="#c84c1c" d="M1193,112l-5,10-4,13 6-10z"/>
<path color="#c65e22" d="M1188,122l-5,11-4,11 5-9z"/>
<path color="#c56a2c" d="M1183,133l-5,8-4,11 5-8z"/>
<path color="#c67233" d="M1178,141l-6,6-3,11 5-6z"/>
<path color="#c67636" d="M1172,147l-5,4-4,11 6-4z"/>
<path color="#b87134" d="M1167,151l-5,9-4,10 5-8z"/>
<path color="#a67a3d" d="M1162,160l-6,8-5,5-4,10 6-5 5-8z"/>
<path color="#a27f43" d="M1151,173l-6,5-3,10 5-5z"/>
<path color="#9a7b41" d="M1145,178l-5,7-4,9 6-6z"/>
<path color="#927c47" d="M1140,185l-6,6-4,9 6-6z"/>
<path color="#92814d" d="M1134,191l-6,4-3,9 5-4z"/>
<path color="#9c834a" d="M1128,195l-11,4-4,10 12-5z"/>
<path color="#9d7c41" d="M1117,199l-6,6-4,10 6-6z"/>
<path color="#87703e" d="M1111,205l-6,12-4,9 6-11z"/>
<path color="#75714a" d="M1105,217l-7,10-3,8 6-9z"/>
<path color="#6a7263" d="M1098,227l-6,7-3,8 6-7z"/>
<path color="#73806f" d="M1092,234l-6,0-4,9 7-1z"/>
<path color="#83855c" d="M1086,234l-6,1-4,9 6-1z"/>
<path color="#8d8454" d="M1080,235l-7,2-3,10 6-3z"/>
<path color="#92824d" d="M1073,237l-7,4-3,10 7-4z"/>
<path color="#8d7c49" d="M1066,241l-6,7-4,10 7-7z"/>
<path color="#7a7247" d="M1060,248l-7,12-3,9 6-11z"/>
<path color="#686f5e" d="M1053,260l-7,10-3,8 7-9z"/>
<path color="#5e7076" d="M1046,270l-7,7-7,5-3,8 7-5 7-7z"/>
<path color="#627379" d="M1032,282l-7,4-4,8 8-4z"/>
<path color="#617071" d="M1025,286l-7,7-4,8 7-7z"/>
<path color="#5d6d73" d="M1018,293l-8,7-3,8 7-7z"/>
<path color="#526575" d="M1010,300l-7,9-4,7 8-8z"/>
<path color="#6c1016" d="M1203,96l-5,11-5,5 6-11z"/>
<path color="#6d1418" d="M1198,107l-5,11-5,4 5-10z"/>
<path color="#722c21" d="M1193,118l-6,11-4,4 5-11z"/>
<path color="#743b24" d="M1187,129l-5,9-4,3 5-8z"/>
<path color="#98311b" d="M1182,138l-5,5-5,4 6-6z"/>
<path color="#9b361f" d="M1177,143l-5,4z"/>
<path color="#744832" d="M1172,148l-6,9-4,3 5-9z"/>
<path color="#734f39" d="M1166,157l-5,8-5,3 6-8z"/>
<path color="#8e3c28" d="M1161,165l-6,5-4,3 5-5z"/>
<path color="#8e3e2b" d="M1155,170l-5,5-5,3 6-5z"/>
<path color="#6a503b" d="M1150,175l-6,7-4,3 5-7z"/>
<path color="#65513c" d="M1144,182l-5,6-5,3 6-6z"/>
<path color="#814332" d="M1139,188l-5,3z"/>
<path color="#884838" d="M1133,192l-6,2-5,3 6-2z"/>
<path color="#8e4634" d="M1127,194l-6,2-4,3 5-2z"/>
<path color="#6b4e37" d="M1121,196l-6,6-4,3 6-6z"/>
<path color="#676a55" d="M1115,202l-6,13-4,2 6-12z"/>
<path color="#5b6e5f" d="M1109,215l-6,10-5,2 7-10z"/>
<path color="#526355" d="M1103,225l-6,7-5,2 6-7z"/>
<path color="#6a5050" d="M1097,232l-6,0-5,2 6,0z"/>
<path color="#764f45" d="M1091,232l-7,0-4,3 6-1z"/>
<path color="#7f4b3c" d="M1084,232l-6,2-5,3 7-2z"/>
<path color="#824534" d="M1078,234l-5,3z"/>
<path color="#635440" d="M1071,238l-7,8-4,2 6-7z"/>
<path color="#5e6c5b" d="M1064,246l-6,12-5,2 7-12z"/>
<path color="#536c62" d="M1058,258l-7,10-5,2 7-10z"/>
<path color="#4c6259" d="M1051,268l-7,7-5,2 7-7z"/>
<path color="#574246" d="M1044,275l-7,5-5,2 7-5z"/>
<path color="#5a4547" d="M1037,280l-7,5-5,1 7-4z"/>
<path color="#4d6257" d="M1030,285l-8,6-4,2 7-7z"/>
<path color="#4b645d" d="M1022,291l-7,7-5,2 8-7z"/>
<path color="#466c7a" d="M1015,298l-8,10-4,1 7-9z"/>
<path class="m" d="M1203,96l-4,5-4,15M1193,118l-5,4-4,13M1182,138l-4,3-4,11M1172,148l-5,3-4,11M1161,165l-5,3-3,10M1150,175l-5,3-3,10M1139,188l-5,3-4,9M1127,194l-5,3-3,9M1115,202l-4,3-4,10M1103,225l-5,2-3,8M1091,232l-5,2-4,9M1078,234l-5,3-3,10M1064,246l-4,2-4,10M1051,268l-5,2-3,8M1037,280l-5,2-3,8M1022,291l-4,2-4,8"/>
<path color="#942123" d="M1208,96l-11,22-4,0 10-22z"/>
<path color="#9b452c" d="M1197,118l-5,12-5-1 6-11z"/>
<path color="#9b6c33" d="M1192,130l-5,8-5,0 5-9z"/>
<path color="#947431" d="M1187,138l-6,6-5,4-4,0 5-5 5-5z"/>
<path color="#9d8944" d="M1176,148l-5,9-5,0 6-9z"/>
<path color="#9a954f" d="M1171,157l-6,9-4-1 5-8z"/>
<path color="#8f8c45" d="M1165,166l-11,9-4,0 11-10z"/>
<path color="#919c56" d="M1154,175l-5,7-5,0 6-7z"/>
<path color="#879d57" d="M1149,182l-6,7-4-1 5-6z"/>
<path color="#808d47" d="M1143,189l-6,4-4-1 6-4z"/>
<path color="#838140" d="M1137,193l-11,4-5-1 12-4z"/>
<path color="#8e964f" d="M1126,197l-6,6-5-1 6-6z"/>
<path color="#91ac6c" d="M1120,203l-6,12-5,0 6-13z"/>
<path color="#7eb678" d="M1114,215l-6,11-5-1 6-10z"/>
<path color="#6bab72" d="M1108,226l-7,7-4-1 6-7z"/>
<path color="#4f3d45" d="M1101,233l-6,0-4-1 6,0z"/>
<path color="#563a3b" d="M1095,233l-6,0-5-1 7,0z"/>
<path color="#768345" d="M1089,233l-7,2-4-1 6-2z"/>
<path color="#7f8a46" d="M1082,235l-6,4-5-1 7-4z"/>
<path color="#85a15b" d="M1076,239l-7,8-5-1 7-8z"/>
<path color="#83b475" d="M1069,247l-7,12-4-1 6-12z"/>
<path color="#72b680" d="M1062,259l-6,10-5-1 7-10z"/>
<path color="#63ab78" d="M1056,269l-7,7-5-1 7-7z"/>
<path color="#5e9d68" d="M1049,276l-8,5-4-1 7-5z"/>
<path color="#5f9862" d="M1041,281l-7,5-4-1 7-5z"/>
<path color="#62a670" d="M1034,286l-7,6-5-1 8-6z"/>
<path color="#61aa78" d="M1027,292l-7,7-5-1 7-7z"/>
<path color="#60b494" d="M1020,299l-8,10-5-1 8-10z"/>
<path color="#ae2625" d="M1212,97l-10,22-5-1 11-22z"/>
<path color="#b24a2e" d="M1202,119l-6,12-4-1 5-12z"/>
<path color="#b57836" d="M1196,131l-5,8-4-1 5-8z"/>
<path color="#af8835" d="M1191,139l-5,6-5-1 6-6z"/>
<path color="#a78332" d="M1186,145l-5,4-5-1 5-4z"/>
<path color="#b69a47" d="M1181,149l-6,9-4-1 5-9z"/>
<path color="#b2a753" d="M1175,158l-5,9-5-1 6-9z"/>
<path color="#a4a14b" d="M1170,167l-6,5-4-1 5-5z"/>
<path color="#a19f49" d="M1164,172l-5,4-5-1 6-4z"/>
<path color="#a9b15b" d="M1159,176l-6,8-4-2 5-7z"/>
<path color="#9eb25c" d="M1153,184l-5,6-5-1 6-7z"/>
<path color="#8fa04d" d="M1148,190l-6,4-5-1 6-4z"/>
<path color="#868e43" d="M1142,194l-6,2-4-2 5-1z"/>
<path color="#8f8e41" d="M1136,196l-6,2-4-1 6-3z"/>
<path color="#a6ab54" d="M1130,198l-6,6-4-1 6-6z"/>
<path color="#a2bc70" d="M1124,204l-6,13-4-2 6-12z"/>
<path color="#8dc77c" d="M1118,217l-6,11-4-2 6-11z"/>
<path color="#7abf77" d="M1112,228l-6,6-5-1 7-7z"/>
<path color="#463742" d="M1106,234l-6,0-5-1 6,0z"/>
<path color="#718d4a" d="M1100,234l-6,1-5-2 6,0z"/>
<path color="#7c9047" d="M1094,235l-7,2-5-2 7-2z"/>
<path color="#8c9a49" d="M1087,237l-6,3-5-1 6-4z"/>
<path color="#9bb661" d="M1081,240l-7,8-5-1 7-8z"/>
<path color="#94c579" d="M1074,248l-7,13-5-2 7-12z"/>
<path color="#81c885" d="M1067,261l-7,10-4-2 6-10z"/>
<path color="#71be7e" d="M1060,271l-7,7-4-2 7-7z"/>
<path color="#68af6e" d="M1053,278l-7,5-5-2 8-5z"/>
<path color="#67a665" d="M1046,283l-7,5-5-2 7-5z"/>
<path color="#6fb976" d="M1039,288l-7,6-5-2 7-6z"/>
<path color="#6ebd7e" d="M1032,294l-8,7-4-2 7-7z"/>
<path color="#6cc698" d="M1024,301l-7,10-5-2 8-10z"/>
<path color="#cb2b27" d="M1214,98l-11,22-1-1 10-22z"/>
<path color="#cc5431" d="M1203,120l-5,12-2-1 6-12z"/>
<path color="#d28839" d="M1198,132l-5,8-2-1 5-8z"/>
<path color="#ca9a38" d="M1193,140l-6,6-5,4-1-1 5-4 5-6z"/>
<path color="#d1ad4c" d="M1182,150l-5,9-2-1 6-9z"/>
<path color="#cdbc58" d="M1177,159l-6,9-1-1 5-9z"/>
<path color="#bfb750" d="M1171,168l-11,9-1-1 11-9z"/>
<path color="#c3c760" d="M1160,177l-5,8-2-1 6-8z"/>
<path color="#b7c962" d="M1155,185l-6,6-1-1 5-6z"/>
<path color="#a7b753" d="M1149,191l-5,4-2-1 6-4z"/>
<path color="#9ea246" d="M1144,195l-6,2-2-1 6-2z"/>
<path color="#a9a243" d="M1138,197l-6,2-2-1 6-2z"/>
<path color="#c0c159" d="M1132,199l-6,6-2-1 6-6z"/>
<path color="#b4ce75" d="M1126,205l-6,13-2-1 6-13z"/>
<path color="#9dda82" d="M1120,218l-6,10-2,0 6-11z"/>
<path color="#8ad47e" d="M1114,228l-6,7-2-1 6-6z"/>
<path color="#6f9a54" d="M1108,235l-6,0-2-1 6,0z"/>
<path color="#809e4c" d="M1102,235l-7,1-1-1 6-1z"/>
<path color="#91a34a" d="M1095,236l-6,2-2-1 7-2z"/>
<path color="#a4b14f" d="M1089,238l-7,3-1-1 6-3z"/>
<path color="#b2cc67" d="M1082,241l-6,8-2-1 7-8z"/>
<path color="#a5d87f" d="M1076,249l-7,13-2-1 7-13z"/>
<path color="#90dc8c" d="M1069,262l-7,10-2-1 7-10z"/>
<path color="#80d385" d="M1062,272l-7,7-2-1 7-7z"/>
<path color="#77c376" d="M1055,279l-7,5-2-1 7-5z"/>
<path color="#76bb6c" d="M1048,284l-7,5-2-1 7-5z"/>
<path color="#7ecd7e" d="M1041,289l-7,6-2-1 7-6z"/>
<path color="#7cd185" d="M1034,295l-8,7-2-1 8-7z"/>
<path color="#78d8a0" d="M1026,302l-7,10-2-1 7-10z"/>
<path class="m" d="M1214,98l-2-1-4-1-5,0M1203,120l-1-1-5-1-4,0M1193,140l-6-2-5,0M1182,150l-6-2-4,0M1171,168l-6-2-4-1M1160,177l-6-2-4,0M1149,191l-6-2-4-1M1138,197l-6-3-5,0M1126,205l-6-2-5-1M1114,228l-6-2-5-1M1102,235l-7-2-4-1M1089,238l-7-3-4-1M1076,249l-7-2-5-1M1062,272l-6-3-5-1M1048,284l-7-3-4-1M1034,295l-7-3-5-1"/>
<path class="m" d="M1214,98l-16,34-5,8-6,6-5,4-11,18-11,9-11,14-5,4-12,4-6,6-6,13-6,10-6,7-6,0-7,1-6,2-7,3-6,8-7,13-7,10-7,7-7,5-7,5-7,6-8,7-7,10"/>
<path color="#cb2b27" d="M1216,100l-10,22-3-2 11-22z"/>
<path color="#cd5832" d="M1206,122l-5,11-3-1 5-12z"/>
<path color="#d38c3a" d="M1201,133l-6,9-2-2 5-8z"/>
<path color="#ca9b39" d="M1195,142l-5,5-5,5-3-2 5-4 6-6z"/>
<path color="#d1af4d" d="M1185,152l-5,9-3-2 5-9z"/>
<path color="#ccbd59" d="M1180,161l-6,8-3-1 6-9z"/>
<path color="#bfb851" d="M1174,169l-11,10-3-2 11-9z"/>
<path color="#c1c861" d="M1163,179l-5,7-3-1 5-8z"/>
<path color="#b5c963" d="M1158,186l-6,7-3-2 6-6z"/>
<path color="#a6b754" d="M1152,193l-6,3-2-1 5-4z"/>
<path color="#9da246" d="M1146,196l-5,2-3-1 6-2z"/>
<path color="#a8a344" d="M1141,198l-6,2-3-1 6-2z"/>
<path color="#bec25a" d="M1135,200l-6,7-3-2 6-6z"/>
<path color="#b3cf76" d="M1129,207l-6,12-3-1 6-13z"/>
<path color="#9cda83" d="M1123,219l-6,11-3-2 6-10z"/>
<path color="#89d47f" d="M1117,230l-6,7-3-2 6-7z"/>
<path color="#6e9a54" d="M1111,237l-7,0-2-2 6,0z"/>
<path color="#7f9f4d" d="M1104,237l-6,0-3-1 7-1z"/>
<path color="#90a44b" d="M1098,237l-6,2-3-1 6-2z"/>
<path color="#a3b250" d="M1092,239l-7,4-3-2 7-3z"/>
<path color="#b1cd67" d="M1085,243l-6,8-3-2 6-8z"/>
<path color="#a3d87f" d="M1079,251l-7,12-3-1 7-13z"/>
<path color="#8fdc8d" d="M1072,263l-7,11-3-2 7-10z"/>
<path color="#7fd386" d="M1065,274l-7,7-3-2 7-7z"/>
<path color="#76c377" d="M1058,281l-7,5-3-2 7-5z"/>
<path color="#75bb6d" d="M1051,286l-7,4-3-1 7-5z"/>
<path color="#7ccf82" d="M1044,290l-15,14-3-2 15-13z"/>
<path color="#76d8a3" d="M1029,304l-7,10-3-2 7-10z"/>
<path class="m" d="M1216,100l-2-2M1206,122l-3-2M1195,142l-2-2M1185,152l-3-2M1174,169l-3-1M1163,179l-3-2M1152,193l-3-2M1141,198l-3-1M1129,207l-3-2M1117,230l-3-2M1104,237l-2-2M1092,239l-3-1M1079,251l-3-2M1065,274l-3-2M1051,286l-3-2M1037,297l-3-2"/>
<path color="#f63027" d="M1221,106l-6,11-4-6 5-11z"/>
<path color="#f63729" d="M1215,117l-5,10-4-5 5-11z"/>
<path color="#fa7937" d="M1210,127l-5,11-4-5 5-11z"/>
<path color="#ffb140" d="M1205,138l-5,9-5-5 6-9z"/>
<path color="#fcb942" d="M1200,147l-6,5-4-5 5-5z"/>
<path color="#f5b741" d="M1194,152l-5,5-4-5 5-5z"/>
<path color="#fbcc55" d="M1189,157l-5,9-4-5 5-9z"/>
<path color="#f6dc61" d="M1184,166l-6,8-4-5 6-8z"/>
<path color="#e6d85b" d="M1178,174l-10,10-5-5 11-10z"/>
<path color="#e4e669" d="M1168,184l-6,7-4-5 5-7z"/>
<path color="#d6e96c" d="M1162,191l-5,6-5-4 6-7z"/>
<path color="#c9da5f" d="M1157,197l-6,4-5-5 6-3z"/>
<path color="#c4c651" d="M1151,201l-6,2-4-5 5-2z"/>
<path color="#d0c650" d="M1145,203l-5,2-5-5 6-2z"/>
<path color="#e2e063" d="M1140,205l-6,7-5-5 6-7z"/>
<path color="#ceee7e" d="M1134,212l-6,12-5-5 6-12z"/>
<path color="#b3f88f" d="M1128,224l-7,11-4-5 6-11z"/>
<path color="#a1f38d" d="M1121,235l-6,6-4-4 6-7z"/>
<path color="#8bbb5c" d="M1115,241l-6,0-5-4 7,0z"/>
<path color="#a0c054" d="M1109,241l-6,1-5-5 6,0z"/>
<path color="#b4c854" d="M1103,242l-6,2-5-5 6-2z"/>
<path color="#c7d65c" d="M1097,244l-7,4-5-5 7-4z"/>
<path color="#d0ed70" d="M1090,248l-7,8-4-5 6-8z"/>
<path color="#bcf78a" d="M1083,256l-6,12-5-5 7-12z"/>
<path color="#a5fa99" d="M1077,268l-7,11-5-5 7-11z"/>
<path color="#94f394" d="M1070,279l-7,7-5-5 7-7z"/>
<path color="#8ce488" d="M1063,286l-7,5-5-5 7-5z"/>
<path color="#8cde7e" d="M1056,291l-7,4-5-5 7-4z"/>
<path color="#93ed8d" d="M1049,295l-7,7-5-5 7-7z"/>
<path color="#90ef97" d="M1042,302l-8,7-5-5 8-7z"/>
<path color="#87f0b9" d="M1034,309l-7,9-5-4 7-10z"/>
<path color="#ff5928" d="M1224,128l-5,9-4-20 6-11z"/>
<path color="#ff8c32" d="M1219,137l-5,10-4-20 5-10z"/>
<path color="#ffac41" d="M1214,147l-6,10-3-19 5-11z"/>
<path color="#ffbb4c" d="M1208,157l-5,7-3-17 5-9z"/>
<path color="#fac150" d="M1203,164l-10,10-4-17 5-5 6-5z"/>
<path color="#f0ce5c" d="M1193,174l-5,9-4-17 5-9z"/>
<path color="#ddd764" d="M1188,183l-6,8-4-17 6-8z"/>
<path color="#ccd563" d="M1182,191l-10,9-4-16 10-10z"/>
<path color="#c7dc6d" d="M1172,200l-6,7-4-16 6-7z"/>
<path color="#bcdc73" d="M1166,207l-5,6-4-16 5-6z"/>
<path color="#b6d66f" d="M1161,213l-6,4-4-16 6-4z"/>
<path color="#b9d066" d="M1155,217l-6,2-4-16 6-2z"/>
<path color="#c3d061" d="M1149,219l-5,3-4-17 5-2z"/>
<path color="#c9d968" d="M1144,222l-6,6-4-16 6-7z"/>
<path color="#bce882" d="M1138,228l-6,11-4-15 6-12z"/>
<path color="#a0e899" d="M1132,239l-6,10-5-14 7-11z"/>
<path color="#8bd9ab" d="M1126,249l-6,7-5-15 6-6z"/>
<path color="#89c88a" d="M1120,256l-6,1-5-16 6,0z"/>
<path color="#9ed174" d="M1114,257l-7,2-4-17 6-1z"/>
<path color="#acd26e" d="M1107,259l-6,2-4-17 6-2z"/>
<path color="#b5d56e" d="M1101,261l-6,5-5-18 7-4z"/>
<path color="#b6de78" d="M1095,266l-7,7-5-17 7-8z"/>
<path color="#a7ea8f" d="M1088,273l-7,11-4-16 6-12z"/>
<path color="#8bdcb4" d="M1081,284l-6,10-5-15 7-11z"/>
<path color="#79cdbd" d="M1075,294l-7,6-7,5-5-14 7-5 7-7z"/>
<path color="#7cceb5" d="M1061,305l-7,5-7,7-5-15 7-7 7-4z"/>
<path color="#79d0c3" d="M1047,317l-8,7-5-15 8-7z"/>
<path color="#6fd0de" d="M1039,324l-7,9-5-15 7-9z"/>
<path color="#fdbe50" d="M1227,152l-5,8-3-23 5-9z"/>
<path color="#e8c95b" d="M1222,160l-5,8-3-21 5-10z"/>
<path color="#d2d566" d="M1217,168l-5,9-4-20 6-10z"/>
<path color="#bdd871" d="M1212,177l-5,7-4-20 5-7z"/>
<path color="#b0d675" d="M1207,184l-5,5-4-19 5-6z"/>
<path color="#abd576" d="M1202,189l-5,5-4-20 5-4z"/>
<path color="#a4dd85" d="M1197,194l-6,7-3-18 5-9z"/>
<path color="#8fd5a2" d="M1191,201l-5,8-4-18 6-8z"/>
<path color="#81caac" d="M1186,209l-5,5-4-18 5-5z"/>
<path color="#7ec7af" d="M1181,214l-5,5-4-19 5-4z"/>
<path color="#78c8c0" d="M1176,219l-6,6-4-18 6-7z"/>
<path color="#6cc0ca" d="M1170,225l-5,6-6,4-4-18 6-4 5-6z"/>
<path color="#71bdb6" d="M1159,235l-5,2-5-18 6-2z"/>
<path color="#7bc3a9" d="M1154,237l-6,3-4-18 5-3z"/>
<path color="#7fcbb2" d="M1148,240l-6,6-4-18 6-6z"/>
<path color="#70cbde" d="M1142,246l-6,10-4-17 6-11z"/>
<path color="#66bfe3" d="M1136,256l-6,8-4-15 6-10z"/>
<path color="#5fb4da" d="M1130,264l-6,7-4-15 6-7z"/>
<path color="#5daac1" d="M1124,271l-6,2-4-16 6-1z"/>
<path color="#62b1c2" d="M1118,273l-6,3-5-17 7-2z"/>
<path color="#67b7c3" d="M1112,276l-6,4-5-19 6-2z"/>
<path color="#6abdc7" d="M1106,280l-7,5-4-19 6-5z"/>
<path color="#6ac1d2" d="M1099,285l-6,7-5-19 7-7z"/>
<path color="#66bfe2" d="M1093,292l-7,10-5-18 7-11z"/>
<path color="#5fb4e0" d="M1086,302l-7,8-4-16 6-10z"/>
<path color="#5aacd9" d="M1079,310l-6,6-5-16 7-6z"/>
<path color="#59a9d2" d="M1073,316l-7,5-5-16 7-5z"/>
<path color="#5aaacf" d="M1066,321l-7,5-5-16 7-5z"/>
<path color="#5caed7" d="M1059,326l-7,7-5-16 7-7z"/>
<path color="#5baeda" d="M1052,333l-8,7-5-16 8-7z"/>
<path color="#59ade4" d="M1044,340l-7,8-5-15 7-9z"/>
<path color="#a6ce78" d="M1228,169l-5,7-1-16 5-8z"/>
<path color="#93ca8f" d="M1223,176l-5,7-1-15 5-8z"/>
<path color="#7dc2b0" d="M1218,183l-5,7-1-13 5-9z"/>
<path color="#6ab9c9" d="M1213,190l-5,7-1-13 5-7z"/>
<path color="#64b0ca" d="M1208,197l-10,10-5,7-2-13 6-7 10-10z"/>
<path color="#5ca7d2" d="M1193,214l-5,7-2-12 5-8z"/>
<path color="#569ccc" d="M1188,221l-11,10-11,11-5,4-11,7-6,5-2-12 6-6 11-5 6-4 11-12 10-10z"/>
<path color="#56a1db" d="M1144,258l-6,9-2-11 6-10z"/>
<path color="#5393da" d="M1138,267l-6,8-2-11 6-8z"/>
<path color="#5188d3" d="M1132,275l-6,6-2-10 6-7z"/>
<path color="#4f84c5" d="M1126,281l-6,4-2-12 6-2z"/>
<path color="#5392ca" d="M1120,285l-12,7-7,5-6,7-2-12 6-7 7-5 12-7z"/>
<path color="#5390d8" d="M1095,304l-7,9-2-11 7-10z"/>
<path color="#5084d5" d="M1088,313l-6,8-3-11 7-8z"/>
<path color="#4f7dcd" d="M1082,321l-14,11-2-11 7-5 6-6z"/>
<path color="#4f81ce" d="M1068,332l-7,5-14,13-3-10 15-14 7-5z"/>
<path color="#4f7ed7" d="M1047,350l-7,9-3-11 7-8z"/>
<path class="m" d="M1228,169l-1-17-6-46-5-6M1218,183l-1-15-7-41-4-5M1208,197l-1-13-7-37-5-5M1198,207l-1-13-8-37-4-5M1188,221l-2-12-8-35-4-5M1177,231l-1-12-8-35-5-5M1166,242l-1-11-8-34-5-4M1155,249l-1-12-9-34-4-5M1144,258l-2-12-8-34-5-5M1132,275l-2-11-9-29-4-5M1120,285l-2-12-9-32-5-4M1108,292l-2-12-9-36-5-5M1095,304l-2-12-10-36-4-5M1082,321l-3-11-9-31-5-5M1068,332l-2-11-10-30-5-5M1054,343l-2-10-10-31-5-5"/>
<path class="m" d="M1228,169l-15,21-5,7-10,10-10,14-11,10-11,11-5,4-11,7-6,5-12,17-6,6-12,7-6,4-7,5-6,7-7,9-6,8-7,6-14,10-7,6-7,7-7,9"/>
<path color="#60abcc" d="M1229,184l-9,12-2-13 10-14z"/>
<path color="#579ed2" d="M1220,196l-10,13-2-12 10-14z"/>
<path color="#5391ce" d="M1210,209l-10,10-2-12 10-10z"/>
<path color="#528cd3" d="M1200,219l-5,7-2-12 5-7z"/>
<path color="#5082d3" d="M1195,226l-5,7-2-12 5-7z"/>
<path color="#4e7acd" d="M1190,233l-6,5-1-12 5-5z"/>
<path color="#4d76cd" d="M1184,238l-10,10-2-11 11-11z"/>
<path color="#4c71cb" d="M1174,248l-6,5-5,4-2-11 5-4 6-5z"/>
<path color="#4c74c5" d="M1163,257l-6,4-2-12 6-3z"/>
<path color="#4e79c6" d="M1157,261l-5,3-2-11 5-4z"/>
<path color="#4f7ecd" d="M1152,264l-6,5-2-11 6-5z"/>
<path color="#4f7ad8" d="M1146,269l-6,8-2-10 6-9z"/>
<path color="#4c6fd7" d="M1140,277l-6,8-2-10 6-8z"/>
<path color="#4b66d0" d="M1134,285l-6,6-2-10 6-6z"/>
<path color="#4a63c5" d="M1128,291l-6,4-2-10 6-4z"/>
<path color="#4b6dca" d="M1122,295l-12,9-6,5-7,7-2-12 6-7 7-5 12-7z"/>
<path color="#4b69d5" d="M1097,316l-6,8-3-11 7-9z"/>
<path color="#4c5fca" d="M1091,324l-7,7-7,6-2-10 7-6 6-8z"/>
<path color="#4b5ec5" d="M1077,337l-13,10-3-10 14-10z"/>
<path color="#4c61cd" d="M1064,347l-15,13-7,8-2-9 7-9 14-13z"/>
<path color="#4c6ecd" d="M1232,209l-9,10-3-23 9-12z"/>
<path color="#4b5fcb" d="M1223,219l-15,15-3-20 10-11 5-7z"/>
<path color="#4d55c4" d="M1208,234l-10,12-3-20 5-7 5-5z"/>
<path color="#4e4bc0" d="M1198,246l-5,6-3-19 5-7z"/>
<path color="#4e44b8" d="M1193,252l-10,10-4-19 11-10z"/>
<path color="#4f40b5" d="M1183,262l-11,10-5,4-4-19 5-4 11-10z"/>
<path color="#4d45b4" d="M1167,276l-11,7-4-19 11-7z"/>
<path color="#4e4bbc" d="M1156,283l-6,5-4-19 6-5z"/>
<path color="#4f49c2" d="M1150,288l-6,7-4-18 6-8z"/>
<path color="#5041be" d="M1144,295l-5,6-5-16 6-8z"/>
<path color="#503bb3" d="M1139,301l-6,6-25,22-13,13-4-18 6-8 7-7 12-10 12-8 6-6z"/>
<path color="#5336af" d="M1095,342l-6,6-5-17 7-7z"/>
<path color="#5235aa" d="M1089,348l-14,11-4-17 13-11z"/>
<path color="#5038ae" d="M1075,359l-7,5-4-17 7-5z"/>
<path color="#5139b4" d="M1068,364l-14,13-7,8-5-17 7-8 15-13z"/>
<path color="#5731a5" d="M1236,223l-14,13-4-12 14-15z"/>
<path color="#592ea2" d="M1222,236l-5,5-4-12 5-5z"/>
<path color="#5b2c9d" d="M1217,241l-10,10-4-12 10-10z"/>
<path color="#5e299a" d="M1207,251l-5,6-4-11 5-7z"/>
<path color="#61238f" d="M1202,257l-10,11-4-11 10-11z"/>
<path color="#612185" d="M1192,268l-16,14-10,8-5-11 11-7 16-15z"/>
<path color="#5d268f" d="M1166,290l-11,9-5-11 11-9z"/>
<path color="#5e2797" d="M1155,299l-6,6-5-10 6-7z"/>
<path color="#612491" d="M1149,305l-12,12-4-10 11-12z"/>
<path color="#621f84" d="M1137,317l-37,36-27,22-5-11 21-16 19-19 25-22z"/>
<path color="#61228c" d="M1073,375l-14,12-7,8-5-10 7-8 14-13z"/>
<path color="#621f83" d="M1240,230l-19,17-19,22-5-6 20-22 19-18z"/>
<path color="#631d76" d="M1202,269l-11,10-10,9-5-6 21-19z"/>
<path color="#601c72" d="M1181,288l-6,4-4-6 5-4z"/>
<path color="#5f1d77" d="M1175,292l-16,13-4-6 16-13z"/>
<path color="#601e82" d="M1159,305l-11,12-5-6 12-12z"/>
<path color="#601e80" d="M1148,317l-6,6-5-6 6-6z"/>
<path color="#621d78" d="M1142,323l-18,18-19,18-5-6 37-36z"/>
<path color="#5f1c71" d="M1105,359l-20,16-5-6 20-16z"/>
<path color="#5e1d79" d="M1085,375l-21,18-5-6 14-12 7-6z"/>
<path color="#5f1e7f" d="M1064,393l-7,8-5-6 7-8z"/>
<path class="m" d="M1240,230l-4-7-4-14-4-40M1231,238l-4-7-4-12-5-36M1221,247l-4-6-4-12-5-32M1212,257l-5-6-4-12-5-32M1202,269l-5-6-4-11-5-31M1191,279l-4-6-4-11-6-31M1181,288l-5-6-4-10-6-30M1170,296l-4-6-5-11-6-30M1159,305l-4-6-5-11-6-30M1148,317l-5-6-4-10-7-26M1136,329l-5-6-4-10-7-28M1124,341l-5-6-5-11-6-32M1111,353l-5-6-4-12-7-31M1098,365l-5-6-4-11-7-27M1085,375l-5-6-5-10-7-27M1071,387l-5-6-5-11-7-27"/>
<path color="#5f1d78" d="M1242,234l-9,7-9,9-20,21-2-2 19-22 19-17z"/>
<path color="#5d1b6c" d="M1204,271l-15,16-27,21-3-3 27-21 16-15z"/>
<path color="#5c1c75" d="M1162,308l-29,30-3-3 29-30z"/>
<path color="#5d1b6b" d="M1133,338l-19,18-13,11-3-2 13-12 19-18z"/>
<path color="#581a66" d="M1101,367l-6,6-3-3 6-5z"/>
<path color="#581a6c" d="M1095,373l-21,17-3-3 21-17z"/>
<path color="#591b74" d="M1074,390l-14,14-3-3 14-14z"/>
<path class="m" d="M1242,234l-2-4M1233,241l-2-3M1224,250l-3-3M1214,260l-2-3M1204,271l-2-2M1194,282l-3-3M1184,291l-3-3M1173,299l-3-3M1162,308l-3-3M1150,319l-2-2M1139,332l-3-3M1127,344l-3-3M1114,356l-3-3M1101,367l-3-2M1088,378l-3-3M1074,390l-3-3"/>
<path class="m" d="M1242,234l-9,7-9,9-20,21-10,11-10,9-17,12-11,10-29,31-13,12-13,11-20,16-14,13-7,8"/>
<path color="#611c6e" d="M1244,236l-9,7-2-2 9-7z"/>
<path color="#601c75" d="M1235,243l-9,9-15,15-2-1 15-16 9-9z"/>
<path color="#611b6c" d="M1211,267l-15,16-2-1 15-16z"/>
<path color="#5d1a65" d="M1196,283l-11,10-10,8-2-2 11-8 10-9z"/>
<path color="#5c1b6d" d="M1175,301l-17,14-2-2 17-14z"/>
<path color="#5c1b73" d="M1158,315l-12,12-1-2 11-12z"/>
<path color="#5f1b6c" d="M1146,327l-18,19-12,12-2-2 13-12 18-19z"/>
<path color="#5c1963" d="M1116,358l-13,11-2-2 13-11z"/>
<path color="#591964" d="M1103,369l-13,11-2-2 13-11z"/>
<path color="#591a6c" d="M1090,380l-21,18-2-2 21-18z"/>
<path color="#5a1b72" d="M1069,398l-7,7-2-1 7-8z"/>
<path color="#511863" d="M1248,238l-9,8-4-3 9-7z"/>
<path color="#51196a" d="M1239,246l-14,13-15,17-4-3 15-16 14-14z"/>
<path color="#51175f" d="M1210,276l-15,15-5-3 16-15z"/>
<path color="#4f165a" d="M1195,291l-5,4-5-2 5-5z"/>
<path color="#4d1659" d="M1190,295l-5,4-5-2 5-4z"/>
<path color="#4d175f" d="M1185,299l-17,13-4-2 16-13z"/>
<path color="#4e1868" d="M1168,312l-11,11-5-2 12-11z"/>
<path color="#4f1868" d="M1157,323l-18,20-5-3 18-19z"/>
<path color="#50175e" d="M1139,343l-12,12-13,12-5-3 13-12 12-12z"/>
<path color="#4c1659" d="M1114,367l-13,10-5-3 13-10z"/>
<path color="#4b175f" d="M1101,377l-20,17-5-3 20-17z"/>
<path color="#4d1868" d="M1081,394l-14,14-5-3 14-14z"/>
<path color="#501760" d="M1253,241l-14,11-4-2 13-12z"/>
<path color="#511868" d="M1239,252l-19,21-5-3 20-20z"/>
<path color="#51175f" d="M1220,273l-10,11-10,9-5-2 10-10 10-11z"/>
<path color="#4e1658" d="M1200,293l-6,5-4-3 5-4z"/>
<path color="#4c1657" d="M1194,298l-10,8-5-3 11-8z"/>
<path color="#4d1760" d="M1184,306l-17,14-4-2 16-15z"/>
<path color="#4e1866" d="M1167,320l-5,6-5-3 6-5z"/>
<path color="#4e1867" d="M1162,326l-6,6-5-2 6-7z"/>
<path color="#501761" d="M1156,332l-18,20-13,12-4-3 12-12 18-19z"/>
<path color="#4c1557" d="M1125,364l-25,21-5-2 26-22z"/>
<path color="#4b1761" d="M1100,385l-21,19-5-3 21-18z"/>
<path color="#4d1766" d="M1079,404l-7,7-5-3 7-7z"/>
<path class="m" d="M1253,241l-9-5-2-2M1244,248l-9-5-2-2M1234,257l-8-5-2-2M1225,267l-9-5-2-2M1215,278l-9-5-2-2M1205,289l-9-6-2-1M1194,298l-9-5-1-2M1184,306l-9-5-2-2M1173,315l-9-5-2-2M1162,326l-10-5-2-2M1150,339l-10-6-1-1M1138,352l-10-6-1-2M1125,364l-9-6-2-2M1113,375l-10-6-2-2M1100,385l-10-5-2-2M1086,397l-10-6-2-1"/>
<path color="#3a104d" d="M1257,242l-4,3-5,0 5-4z"/>
<path color="#3a1151" d="M1253,245l-9,8-5-1 9-7z"/>
<path color="#3c1258" d="M1244,253l-10,10-15,16-4-1 15-16 9-10z"/>
<path color="#3d1251" d="M1219,279l-15,15-4-1 15-15z"/>
<path color="#3c114c" d="M1204,294l-16,13-4-1 16-13z"/>
<path color="#3b1251" d="M1188,307l-10,9-5-1 11-9z"/>
<path color="#3c1257" d="M1178,316l-6,6-5-2 6-5z"/>
<path color="#3d135b" d="M1172,322l-17,18-5-1 17-19z"/>
<path color="#3d1256" d="M1155,340l-12,13-5-1 12-13z"/>
<path color="#3d1251" d="M1143,353l-13,12-5-1 13-12z"/>
<path color="#3c114c" d="M1130,365l-19,17-5-2 19-16z"/>
<path color="#3c1250" d="M1111,382l-13,11-5-2 13-11z"/>
<path color="#3c1358" d="M1098,393l-14,13-5-2 14-13z"/>
<path color="#3d135c" d="M1084,406l-7,7-5-2 7-7z"/>
<path color="#39104e" d="M1260,242l-4,3-3,0 4-3z"/>
<path color="#391153" d="M1256,245l-14,13-3,0 14-13z"/>
<path color="#3b1259" d="M1242,258l-14,16-4-1 15-15z"/>
<path color="#3c1153" d="M1228,274l-15,16-4,0 15-17z"/>
<path color="#3b114c" d="M1213,290l-10,9-11,9-4-1 21-17z"/>
<path color="#3a1151" d="M1192,308l-11,9-3-1 10-9z"/>
<path color="#3b1257" d="M1181,317l-5,5-4,0 6-6z"/>
<path color="#3c135b" d="M1176,322l-18,19-3-1 17-18z"/>
<path color="#3c1258" d="M1158,341l-6,7-3-1 6-7z"/>
<path color="#3c1151" d="M1152,348l-18,18-4-1 19-18z"/>
<path color="#3c114c" d="M1134,366l-19,17-4-1 19-17z"/>
<path color="#3b1150" d="M1115,383l-13,11-4-1 13-11z"/>
<path color="#3b1258" d="M1102,394l-14,13-4-1 14-13z"/>
<path color="#3c135c" d="M1088,407l-7,7-4-1 7-7z"/>
<path class="m" d="M1260,242l-7-1M1252,249l-8-1M1242,258l-8-1M1233,268l-8-1M1223,280l-8-2M1213,290l-8-1M1203,299l-9-1M1192,308l-8-2M1181,317l-8-2M1170,328l-8-2M1158,341l-8-2M1146,354l-8-2M1134,366l-9-2M1121,377l-8-2M1108,388l-8-3M1095,400l-9-3"/>
<path class="m" d="M1260,242l-8,7-10,9-19,22-10,10-10,9-16,13-11,10-30,32-12,12-32,28-14,13-7,7"/>
<path color="#391153" d="M1262,242l-9,7-10,9-1,0 5-5 13-11z"/>
<path color="#3b125a" d="M1243,258l-14,16-1,0 14-16z"/>
<path color="#3c1254" d="M1229,274l-15,16-1,0 15-16z"/>
<path color="#3b114d" d="M1214,290l-15,14-2,0 16-14z"/>
<path color="#3a1151" d="M1199,304l-17,13-1,0 16-13z"/>
<path color="#3b1258" d="M1182,317l-5,6-1-1 5-5z"/>
<path color="#3c135c" d="M1177,323l-17,18-2,0 18-19z"/>
<path color="#3c1259" d="M1160,341l-6,7-2,0 6-7z"/>
<path color="#3c1152" d="M1154,348l-19,19-1-1 18-18z"/>
<path color="#3c114d" d="M1135,367l-19,16-1,0 19-17z"/>
<path color="#3b1251" d="M1116,383l-13,11-1,0 13-11z"/>
<path color="#3b1257" d="M1103,394l-7,6-1,0 7-6z"/>
<path color="#3c135c" d="M1096,400l-14,15-1-1 14-14z"/>
<path color="#390838" d="M1266,240l-13,12-5,1 14-11z"/>
<path color="#340d49" d="M1253,252l-29,32-10,10-11,9-4,1 10-9 10-10 20-22 9-10z"/>
<path color="#350735" d="M1203,303l-5,4-5,1 6-4z"/>
<path color="#340d4b" d="M1198,307l-11,10-5,0 11-9z"/>
<path color="#350f4f" d="M1187,317l-11,11-5,0 11-11z"/>
<path color="#360f50" d="M1176,328l-12,13-4,0 11-13z"/>
<path color="#360e4c" d="M1164,341l-5,6-5,1 6-7z"/>
<path color="#360e49" d="M1159,347l-25,25-26,22-5,0 32-27 19-19z"/>
<path color="#360f4f" d="M1108,394l-7,7-5-1 7-6z"/>
<path color="#370f51" d="M1101,401l-14,14-5,0 14-15z"/>
<path class="m" d="M1266,240l-4,2-2,0M1257,248l-4,1-1,0M1248,257l-5,1-1,0M1239,267l-5,1-1,0M1229,279l-5,1-1,0M1219,290l-5,0-1,0M1209,299l-5,1-1-1M1198,307l-5,1-1,0M1187,317l-5,0-1,0M1176,328l-6,0M1164,341l-6,0M1153,354l-5,0-2,0M1140,366l-5,1-1-1M1128,378l-7-1M1115,389l-7-1M1101,401l-6-1"/>
<path color="#3e0a42" d="M1271,237l-4,4-5,3 4-4z"/>
<path color="#3b093c" d="M1267,241l-24,24-4,2 14-15 9-8z"/>
<path color="#2f0b49" d="M1243,265l-9,12-5,2 10-12z"/>
<path color="#3a0835" d="M1234,277l-15,16-5,1 15-15z"/>
<path color="#3a083b" d="M1219,293l-27,22-5,2 27-23z"/>
<path color="#310d4f" d="M1192,315l-17,18-5,2 17-18z"/>
<path color="#310c4a" d="M1175,333l-17,19-5,2 17-19z"/>
<path color="#390834" d="M1158,352l-25,25-5,1 12-12 13-12z"/>
<path color="#370839" d="M1133,377l-13,11-5,1 13-11z"/>
<path color="#36083a" d="M1120,388l-7,5-5,1 7-5z"/>
<path color="#320d4f" d="M1113,393l-20,21-6,1 21-21z"/>
<path color="#43155f" d="M1276,227l-18,21-5,7 18-18z"/>
<path color="#431258" d="M1258,248l-10,12 5-5z"/>
<path color="#441152" d="M1253,253l-14,18 9-11z"/>
<path color="#460d4b" d="M1244,264l-10,12-21,21 16-15 10-11z"/>
<path color="#450e52" d="M1219,291l-16,13-6,5-5,6 21-18z"/>
<path color="#420e4d" d="M1197,309l-5,6z"/>
<path color="#410c47" d="M1192,316l-12,13-5,4 12-12z"/>
<path color="#440c49" d="M1180,329l-23,23-19,20-25,21 20-16 19-19 23-25z"/>
<path color="#410b46" d="M1118,389l-13,13-7,8-5,4 20-21z"/>
<path color="#3e3a8e" d="M1282,209l-9,12-6,16 9-10z"/>
<path color="#3e2f85" d="M1273,221l-10,12-9,11-5,14 18-21z"/>
<path color="#40247a" d="M1254,244l-10,14-5,5-5,13 15-18z"/>
<path color="#432076" d="M1239,263l-15,16-6,4-5,13 11-9 10-11z"/>
<path color="#42227d" d="M1218,283l-5,4-5,13 5-4z"/>
<path color="#402480" d="M1213,287l-5,4-6,5-5,13 11-9z"/>
<path color="#3f2176" d="M1202,296l-5,8-5,12 5-7z"/>
<path color="#401e70" d="M1197,304l-6,8-5,10 6-6z"/>
<path color="#421c6d" d="M1191,312l-6,6-5,11 6-7z"/>
<path color="#431d71" d="M1185,318l-5,5-5,11 5-5z"/>
<path color="#431e73" d="M1180,323l-6,5-5,12 6-6z"/>
<path color="#431e74" d="M1174,328l-12,11-5,13 12-12z"/>
<path color="#431b6d" d="M1162,339l-19,22-20,17-13,14-7,9-5,9 14-15 26-23 19-20z"/>
<path class="m" d="M1282,209l-6,18-5,10-5,3M1273,221l-6,16-5,8-5,3M1263,233l-5,15-5,7-5,2M1254,244l-5,14-6,7-4,2M1244,258l-5,13-5,6-5,2M1234,268l-5,13-5,7-5,2M1224,279l-5,12-6,6-4,2M1213,287l-5,13-5,6-5,1M1202,296l-5,13-5,6-5,2M1191,312l-5,10-5,5-5,1M1180,323l-5,11-6,6-5,1M1168,333l-5,13-5,6-5,2M1156,346l-5,13-6,6-5,1M1143,361l-5,11-5,5-5,1M1130,373l-5,10-5,5-5,1M1116,385l-4,10-6,5-5,1"/>
<path class="m" d="M1282,209l-19,24-9,11-10,14-15,16-5,5-6,4-10,8-6,5-11,16-6,6-11,10-12,11-19,22-7,6-13,11-7,7-6,7-7,9"/>
<path color="#425c97" d="M1283,206l-5,6-1,3 5-6z"/>
<path color="#405295" d="M1278,212l-9,13-1,2 9-12z"/>
<path color="#3d4795" d="M1269,225l-14,16-1,3 14-17z"/>
<path color="#3d3a8c" d="M1255,241l-10,14-5,6-1,2 5-5 10-14z"/>
<path color="#3e358b" d="M1240,261l-5,5-1,2 5-5z"/>
<path color="#3e3288" d="M1235,266l-11,11 0,2 10-11z"/>
<path color="#3f348d" d="M1224,277l-10,8-1,2 11-8z"/>
<path color="#3e3990" d="M1214,285l-5,4-6,5-1,2 6-5 5-4z"/>
<path color="#3e2e85" d="M1203,294l-11,16-6,7-12,9-12,11-6,7-6,8-1,2 13-15 23-21 6-6 11-16z"/>
<path color="#3f2881" d="M1150,352l-6,7-7,6-13,11-7,7-7,7 0,2 13-14 20-17 6-7z"/>
<path color="#3e257b" d="M1110,390l-7,9 0,2 7-9z"/>
<path class="m" d="M1283,206l-1,3M1274,218l-1,3M1264,231l-1,2M1255,241l-1,3M1245,255l-1,3M1235,266l-1,2M1224,277l0,2M1214,285l-1,2M1203,294l-1,2M1192,310l-1,2M1180,321l0,2M1169,331l-1,2M1156,344l0,2M1144,359l-1,2M1131,371l-1,2M1117,383l-1,2"/>
<path color="#527b93" d="M1290,177l-10,16-6,25 9-12z"/>
<path color="#496e94" d="M1280,193l-9,16-7,22 10-13z"/>
<path color="#456899" d="M1271,209l-10,10-6,22 9-10z"/>
<path color="#436093" d="M1261,219l-5,8-6,21 5-7z"/>
<path color="#415993" d="M1256,227l-5,8-6,20 5-7z"/>
<path color="#415597" d="M1251,235l-10,10-6,21 10-11z"/>
<path color="#3f5195" d="M1241,245l-11,13-6,19 11-11z"/>
<path color="#40559a" d="M1230,258l-5,4-10,7-6,6-6,19 6-5 15-12z"/>
<path color="#3f4f8d" d="M1209,275l-6,9-5,18 5-8z"/>
<path color="#3c458f" d="M1203,284l-5,9-6,7-6,17 12-15z"/>
<path color="#3e4a99" d="M1192,300l-12,7-6,4-5,20 17-14z"/>
<path color="#3f4f98" d="M1174,311l-6,5-6,21 7-6z"/>
<path color="#3d4991" d="M1168,316l-6,8-6,10-6,18 12-15z"/>
<path color="#3c3f92" d="M1156,334l-7,8-6,7-13,11-14,14-6,16 14-14 20-17 6-7z"/>
<path color="#3b3b8a" d="M1116,374l-7,9-6,16 7-9z"/>
<path color="#b5813c" d="M1296,154l-4,10-7,21 5-8z"/>
<path color="#a48541" d="M1292,164l-5,9-7,20 5-8z"/>
<path color="#918549" d="M1287,173l-5,10-7,19 5-9z"/>
<path color="#838754" d="M1282,183l-5,8-6,18 4-7z"/>
<path color="#7b885f" d="M1277,191l-5,6-6,17 5-5z"/>
<path color="#778766" d="M1272,197l-5,5-6,17 5-5z"/>
<path color="#6b7e6b" d="M1267,202l-5,8-6,17 5-8z"/>
<path color="#5c787e" d="M1262,210l-5,9-6,16 5-8z"/>
<path color="#53768e" d="M1257,219l-10,10-5,7-6,16 5-7 10-10z"/>
<path color="#4f708e" d="M1242,236l-6,7-6,15 6-6z"/>
<path color="#4f7294" d="M1236,243l-5,4-6,15 5-4z"/>
<path color="#527698" d="M1231,247l-5,3-6,15 5-3z"/>
<path color="#547791" d="M1226,250l-5,3-6,6-6,16 6-6 5-4z"/>
<path color="#4d6980" d="M1215,259l-6,11-6,14 6-9z"/>
<path color="#476284" d="M1209,270l-6,10-5,13 5-9z"/>
<path color="#44618c" d="M1203,280l-5,7-6,13 6-7z"/>
<path color="#4b6d9a" d="M1198,287l-12,5-6,3-6,16 6-4 12-7z"/>
<path color="#4f7294" d="M1180,295l-6,5-6,16 6-5z"/>
<path color="#4d6e8d" d="M1174,300l-6,8-6,16 6-8z"/>
<path color="#456187" d="M1168,308l-6,11-7,10-6,13 7-8 6-10z"/>
<path color="#425d90" d="M1155,329l-6,7-6,13 6-7z"/>
<path color="#425e94" d="M1149,336l-7,6-6,13 7-6z"/>
<path color="#436096" d="M1142,342l-7,5-5,13 6-5z"/>
<path color="#425f90" d="M1135,347l-7,7-5,13 7-7z"/>
<path color="#415c8e" d="M1128,354l-6,8-6,12 7-7z"/>
<path color="#405687" d="M1122,362l-8,9-5,12 7-9z"/>
<path color="#cb4b1c" d="M1303,132l-5,11-6,21 4-10z"/>
<path color="#cd6223" d="M1298,143l-5,10-6,20 5-9z"/>
<path color="#c66b2b" d="M1293,153l-5,12-6,18 5-10z"/>
<path color="#c47634" d="M1288,165l-5,9-6,17 5-8z"/>
<path color="#bc7c3a" d="M1283,174l-5,6-6,17 5-6z"/>
<path color="#b97f3d" d="M1278,180l-5,5-6,17 5-5z"/>
<path color="#ac7b3b" d="M1273,185l-5,9-6,16 5-8z"/>
<path color="#9d7f40" d="M1268,194l-5,9-6,16 5-9z"/>
<path color="#97844a" d="M1263,203l-5,5-6,16 5-5z"/>
<path color="#92834b" d="M1258,208l-5,5-5,8-6,15 5-7 5-5z"/>
<path color="#878453" d="M1248,221l-6,7-5,4-6,15 5-4 6-7z"/>
<path color="#908854" d="M1237,232l-10,5-6,16 10-6z"/>
<path color="#92824b" d="M1227,237l-6,7-6,15 6-6z"/>
<path color="#7f7848" d="M1221,244l-12,26 6-11z"/>
<path color="#6a735e" d="M1215,257l-6,11-6,12 6-10z"/>
<path color="#5e7377" d="M1209,268l-6,7-5,12 5-7z"/>
<path color="#667e83" d="M1203,275l-5,1-6,13 6-2z"/>
<path color="#76856d" d="M1198,276l-6,1-6,15 6-3z"/>
<path color="#82895d" d="M1192,277l-6,3-6,15 6-3z"/>
<path color="#848555" d="M1186,280l-6,4-6,8-6,16 6-8 6-5z"/>
<path color="#6f7658" d="M1174,292l-7,13-5,14 6-11z"/>
<path color="#5c7073" d="M1167,305l-6,11-6,13 7-10z"/>
<path color="#536f87" d="M1161,316l-7,8-5,12 6-7z"/>
<path color="#53718e" d="M1154,324l-6,5-6,13 7-6z"/>
<path color="#56738c" d="M1148,329l-7,5-6,13 7-5z"/>
<path color="#546f86" d="M1141,334l-14,16-5,12 13-15z"/>
<path color="#4d6680" d="M1127,350l-7,10-6,11 8-9z"/>
<path color="#690e14" d="M1309,125l-5,11-6,7 5-11z"/>
<path color="#6b1516" d="M1304,136l-5,12-6,5 5-10z"/>
<path color="#702f20" d="M1299,148l-6,12-5,9-5,5 5-9 5-12z"/>
<path color="#a63e1f" d="M1288,169l-4,6-6,5 5-6z"/>
<path color="#a94323" d="M1284,175l-6,5z"/>
<path color="#6f3e2e" d="M1279,180l-5,9-6,5 5-9z"/>
<path color="#6d4333" d="M1274,189l-6,10-5,4 5-9z"/>
<path color="#98492d" d="M1268,199l-10,10-5,4 10-10z"/>
<path color="#8b4028" d="M1258,209l-5,8-5,4 5-8z"/>
<path color="#874731" d="M1253,217l-5,7-5,4-6,4 5-4 6-7z"/>
<path color="#90523a" d="M1243,228l-6,2-5,4 5-2z"/>
<path color="#975036" d="M1237,230l-5,3-5,4 5-3z"/>
<path color="#8e422a" d="M1232,233l-5,7-6,4 6-7z"/>
<path color="#60574d" d="M1227,240l-6,13-6,4 6-13z"/>
<path color="#545a56" d="M1221,253l-6,12-6,3 6-11z"/>
<path color="#613f38" d="M1215,265l-6,7-6,3 6-7z"/>
<path color="#6e5451" d="M1209,272l-6,0-5,4 5-1z"/>
<path color="#7c5547" d="M1203,272l-5,1-6,4 6-1z"/>
<path color="#86543f" d="M1198,273l-6,3-6,4 6-3z"/>
<path color="#8a4e37" d="M1192,276l-6,4z"/>
<path color="#7f412c" d="M1186,280l-6,8-6,4 6-8z"/>
<path color="#575853" d="M1180,288l-7,14-6,3 7-13z"/>
<path color="#4d5758" d="M1173,302l-7,11-5,3 6-11z"/>
<path color="#5a403f" d="M1166,313l-6,8-6,3 7-8z"/>
<path color="#5d484b" d="M1160,321l-13,11-6,2 13-10z"/>
<path color="#5c4341" d="M1147,332l-7,7-6,3 7-8z"/>
<path color="#584042" d="M1140,339l-7,8-6,3 7-8z"/>
<path color="#415970" d="M1133,347l-7,10-6,3 7-10z"/>
<path class="m" d="M1309,125l-6,7-13,45-7,29M1299,148l-6,5-13,40-6,25M1288,169l-5,5-12,35-7,22M1279,180l-6,5-12,34-6,22M1268,199l-5,4-12,32-6,20M1258,209l-5,4-12,32-6,21M1248,224l-6,4-12,30-6,19M1237,230l-5,4-12,31-6,20M1227,240l-6,4-12,31-6,19M1215,265l-6,3-11,25-6,17M1203,272l-5,4-12,27-6,18M1192,276l-6,4-12,31-5,20M1180,288l-6,4-12,32-6,20M1166,313l-5,3-12,26-5,17M1153,327l-5,2-12,26-5,16M1140,339l-6,3-11,25-6,16"/>
<path class="e" d="M1126,357l-6,3-11,23-6,18-5,9-5,4-6,1-5,0-10-4-10-6-5-4-5-6-5-10-5-17-5-20-10-30-5-4-5-3-5-2-5-1-4,1-4,7-5,15-4,16-5,11-4,5-4,1-5,0-9-3-9-5-4-4-5-5-4-9-5-15-5-19-7-19-3-10-5-6-8-4-5-1-4,1-7,20-3,15-3,12-4,5-3,2-4,0-8-2-8-5-4-4-4-4-4-8-5-12-5-20-10-28-4-6M1309,125l-16,35-5,9-4,6-5,5-11,19-10,10-10,15-5,4-11,5-5,7-6,13-6,12-6,7-6,0-5,1-6,3-6,4-6,8-7,14-7,11-6,8-7,6-6,5-7,7-7,8-7,10"/></g>
<path d="M809.5,163.2L1130.4,284.8M1317.5,123.7L1130.4,284.8" stroke="#9a9a9a" stroke-width="1.1" fill="none"/>
<path d="M1713.7,167.5L1711.5,28.2M1713.7,167.5L1989.6,259.9M1713.7,167.5L1495.4,311.0M1711.5,28.2L2002.7,104.5M1711.5,28.2L1479.4,147.2M1989.6,259.9L2002.7,104.5M1495.4,311.0L1479.4,147.2M1989.6,259.9L1804.6,454.2M1495.4,311.0L1804.6,454.2M1804.6,454.2L1808.0,268.6" stroke="#9a9a9a" stroke-width="1.1" fill="none"/>
<path d="M1708.6,29.6v5M1690.0,39.1v3M1670.8,49.0v3M1650.8,59.3v3M1629.9,70.0v5M1608.2,81.1v3M1585.6,92.7v3M1562.1,104.8v3M1537.5,117.4v5M1511.8,130.6v3M1484.9,144.3v3M1797.5,450.9v-5M1775.7,440.7v-3M1754.3,430.8v-3M1733.3,421.1v-3M1712.8,411.6v-5M1692.8,402.3v-3M1673.1,393.2v-3M1653.9,384.3v-3M1635.0,375.6v-5M1616.6,367.1v-3M1598.5,358.7v-3M1580.7,350.5v-3M1563.3,342.4v-5M1546.3,334.5v-3M1529.5,326.8v-3M1513.1,319.2v-3M1497.0,311.7v-5M1495.3,309.1h3M1494.1,297.3h3M1492.9,285.5h3M1491.8,273.5h3M1490.6,261.5h3M1489.4,249.3h3M1488.2,237.0h3M1487.0,224.6h3M1485.7,212.1h3M1484.5,199.5h3M1483.2,186.7h3M1482.0,173.9h3M1480.7,160.9h3M1479.4,147.8h3" stroke="#9a9a9a" stroke-width="1" fill="none"/>
<g class="s"><path color="#518188" d="M1714,139l-12-25-1-16 12,40z"/>
<path color="#68b9de" d="M1702,114l-11,31-1-4 11-43z"/>
<path color="#5591ab" d="M1691,145l-12-6-1-11 12,13z"/>
<path color="#5494fd" d="M1679,139l-11,36-1-3 11-44z"/>
<path color="#524fd0" d="M1668,175l-12,8-1-2 12-9z"/>
<path color="#435d91" d="M1656,183l-13-12-2-8 14,18z"/>
<path color="#5f9eaa" d="M1643,171l-14-8-1-13 13,13z"/>
<path color="#559bfc" d="M1629,163l-11,46-1-3 11-56z"/>
<path color="#1d288a" d="M1618,209l-8-32-2-13 9,42z"/>
<path color="#66b6dc" d="M1610,177l-6,16-2-9 6-20z"/>
<path color="#4d7fff" d="M1604,193l-6,27-1-2 5-34z"/>
<path color="#623aea" d="M1598,220l-6,18-1-4 6-16z"/>
<path color="#3a397a" d="M1592,238l-9-27-2-13 10,36z"/>
<path color="#5390d5" d="M1583,211l-7,6-2-6 7-13z"/>
<path color="#5085ff" d="M1576,217l-7,13-1-2 6-17z"/>
<path color="#4669c9" d="M1569,230l-7,3-1-3 7-2z"/>
<path color="#496cb7" d="M1562,233l-7,2-2-6 8,1z"/>
<path color="#4f7aff" d="M1555,235l-7,10-2-2 7-14z"/>
<path color="#5256ff" d="M1548,245l-7,16-2-3 7-15z"/>
<path color="#513cae" d="M1541,261l-8,2-1-3 7-2z"/>
<path color="#3f5383" d="M1533,263l-10-18-2-17 11,32z"/>
<path color="#4c65fd" d="M1523,245l-4,40-2-5 4-52z"/>
<path color="#522b80" d="M1519,285l-9-7-3-10 10,12z"/>
<path color="#5147bc" d="M1510,278l-8,5-2-6 7-9z"/>
<path class="m" d="M1714,139l-1-1M1702,114l-1-16M1691,145l-1-4M1679,139l-1-11M1668,175l-1-3M1656,183l-1-2M1643,171l-2-8M1629,163l-1-13M1618,209l-1-3M1604,193l-2-9M1592,238l-1-4M1576,217l-2-6M1562,233l-1-3M1548,245l-2-2M1533,263l-1-3M1519,285l-2-5M1713,138l-12-40-11,43-12-13-11,44-12,9-14-18-13-13-11,56-9-42-6,20-5,34-6,16-10-36-7,13-6,17-7,2-8-1-14,29-7,2-11-32-4,52-10-12-7,9"/>
<path color="#497495" d="M1716,141l-12-11-2-16 12,25z"/>
<path color="#57a2e8" d="M1704,130l-11,21-2-6 11-31z"/>
<path color="#4e80b4" d="M1693,151l-12-1-2-11 12,6z"/>
<path color="#4f7eff" d="M1681,150l-11,27-2-2 11-36z"/>
<path color="#5048d0" d="M1670,177l-12,8-2-2 12-8z"/>
<path color="#425193" d="M1658,185l-13-7-2-7 13,12z"/>
<path color="#508cb6" d="M1645,178l-13,0-3-15 14,8z"/>
<path color="#507fff" d="M1632,178l-12,33-2-2 11-46z"/>
<path color="#1b2089" d="M1620,211l-8-20-2-14 8,32z"/>
<path color="#569fe6" d="M1612,191l-6,11-2-9 6-16z"/>
<path color="#4b6dff" d="M1606,202l-6,21-2-3 6-27z"/>
<path color="#6633e8" d="M1600,223l-6,19-2-4 6-18z"/>
<path color="#3e2671" d="M1594,242l-8-18-3-13 9,27z"/>
<path color="#4b6cc5" d="M1586,224l-8,0-2-7 7-6z"/>
<path color="#4e7aff" d="M1578,224l-7,8-2-2 7-13z"/>
<path color="#4463cc" d="M1571,232l-7,4-2-3 7-3z"/>
<path color="#4b6ad1" d="M1564,236l-7,5-2-6 7-2z"/>
<path color="#4f6ef2" d="M1557,241l-7,6-2-2 7-10z"/>
<path color="#4e4bff" d="M1550,247l-7,17-2-3 7-16z"/>
<path color="#5236a3" d="M1543,264l-8,2-2-3 8-2z"/>
<path color="#454289" d="M1535,266l-8-3-4-18 10,18z"/>
<path color="#563ee8" d="M1527,263l-6,27-2-5 4-40z"/>
<path color="#692278" d="M1521,290l-9-1-2-11 9,7z"/>
<path color="#5f31a3" d="M1512,289l-8,1-2-7 8-5z"/>
<path color="#4669a4" d="M1717,142l-11-2-2-10 12,11z"/>
<path color="#5187ed" d="M1706,140l-11,14-2-3 11-21z"/>
<path color="#4a73c1" d="M1695,154l-12,3-2-7 12,1z"/>
<path color="#506dff" d="M1683,157l-11,21-2-1 11-27z"/>
<path color="#483ec9" d="M1672,178l-12,9-2-2 12-8z"/>
<path color="#404795" d="M1660,187l-13-4-2-5 13,7z"/>
<path color="#4c78c0" d="M1647,183l-13,4-2-9 13,0z"/>
<path color="#506aff" d="M1634,187l-12,26-2-2 12-33z"/>
<path color="#1b198a" d="M1622,213l-7-14-3-8 8,20z"/>
<path color="#5185ec" d="M1615,199l-7,8-2-5 6-11z"/>
<path color="#4d5fff" d="M1608,207l-6,17-2-1 6-21z"/>
<path color="#612be0" d="M1602,224l-6,20-2-2 6-19z"/>
<path color="#240c69" d="M1596,244l-8-12-2-8 8,18z"/>
<path color="#484c9e" d="M1588,232l-8-4-2-4 8,0z"/>
<path color="#4b6ef7" d="M1580,228l-7,5-2-1 7-8z"/>
<path color="#3d59c7" d="M1573,233l-7,4-2-1 7-4z"/>
<path color="#4d67ef" d="M1566,237l-7,8-2-4 7-5z"/>
<path color="#4a5ed7" d="M1559,245l-8,3-1-1 7-6z"/>
<path color="#4640ff" d="M1551,248l-6,18-2-2 7-17z"/>
<path color="#4b2e92" d="M1545,266l-8,1-2-1 8-2z"/>
<path color="#5337a9" d="M1537,267l-7,7-3-11 8,3z"/>
<path color="#722ed2" d="M1530,274l-7,20-2-4 6-27z"/>
<path color="#7d1e74" d="M1523,294l-8,1-3-6 9,1z"/>
<path color="#6c2584" d="M1515,295l-9-1-2-4 8-1z"/>
<path color="#4566b4" d="M1718,142l-11,1-1-3 11,2z"/>
<path color="#4e7cf3" d="M1707,143l-11,12-1-1 11-14z"/>
<path color="#486dce" d="M1696,155l-12,4-1-2 12-3z"/>
<path color="#4f65ff" d="M1684,159l-11,20-1-1 11-21z"/>
<path color="#3f36be" d="M1673,179l-12,8-1,0 12-9z"/>
<path color="#3a4096" d="M1661,187l-13-3-1-1 13,4z"/>
<path color="#4a71cc" d="M1648,184l-13,5-1-2 13-4z"/>
<path color="#5160ff" d="M1635,189l-12,25-1-1 12-26z"/>
<path color="#1c178d" d="M1623,214l-7-12-1-3 7,14z"/>
<path color="#4e7af5" d="M1616,202l-7,7-1-2 7-8z"/>
<path color="#4955ff" d="M1609,209l-6,16-1-1 6-17z"/>
<path color="#5a26d7" d="M1603,225l-6,20-1-1 6-20z"/>
<path color="#280b6b" d="M1597,245l-8-10-1-3 8,12z"/>
<path color="#403988" d="M1589,235l-9-7 8,4z"/>
<path color="#4360dc" d="M1581,229l-7,5-1-1 7-5z"/>
<path color="#354fbe" d="M1574,234l-7,4-1-1 7-4z"/>
<path color="#4860fa" d="M1567,238l-7,8-1-1 7-8z"/>
<path color="#3f4eb5" d="M1560,246l-8,2-1,0 8-3z"/>
<path color="#4039fb" d="M1552,248l-6,19-1-1 6-18z"/>
<path color="#41288c" d="M1546,267l-8,1-1-1 8-1z"/>
<path color="#6439cb" d="M1538,268l-7,9-1-3 7-7z"/>
<path color="#7e27cb" d="M1531,277l-7,18-1-1 7-20z"/>
<path color="#831f74" d="M1524,295l-8,2-1-2 8-1z"/>
<path color="#681d71" d="M1516,297l-9-2-1-1 9,1z"/>
<path color="#4364bc" d="M1719,142l-11,3-1-2 11-1z"/>
<path color="#4c78f7" d="M1708,145l-11,10-1,0 11-12z"/>
<path color="#466ad1" d="M1697,155l-12,6-1-2 12-4z"/>
<path color="#4c5fff" d="M1685,161l-11,18-1,0 11-20z"/>
<path color="#3932b5" d="M1674,179l-12,9-1-1 12-8z"/>
<path color="#343a94" d="M1662,188l-13-3-1-1 13,3z"/>
<path color="#486ed3" d="M1649,185l-13,6-1-2 13-5z"/>
<path color="#4e5bff" d="M1636,191l-12,23-1,0 12-25z"/>
<path color="#1c1691" d="M1624,214l-8-12 7,12z"/>
<path color="#4c77f9" d="M1617,204l-7,6-1-1 7-7z"/>
<path color="#454fff" d="M1610,210l-6,15-1,0 6-16z"/>
<path color="#5524d2" d="M1604,225l-6,20-1,0 6-20z"/>
<path color="#290b6e" d="M1598,245l-8-8-1-2 8,10z"/>
<path color="#1d1178" d="M1590,237l-9-8 8,6z"/>
<path color="#3b55c8" d="M1582,230l-7,4-1,0 7-5z"/>
<path color="#3149b8" d="M1575,234l-7,4-1,0 7-4z"/>
<path color="#4259f8" d="M1568,238l-7,9-1-1 7-8z"/>
<path color="#3643a4" d="M1561,247l-8,2-1-1 8-2z"/>
<path color="#3c36f6" d="M1553,249l-6,18-1,0 6-19z"/>
<path color="#3a2488" d="M1547,267l-8,2-1-1 8-1z"/>
<path color="#6639dd" d="M1539,269l-7,10-1-2 7-9z"/>
<path color="#8025c8" d="M1532,279l-7,17-1-1 7-18z"/>
<path color="#7e1e73" d="M1525,296l-8,3-1-2 8-2z"/>
<path color="#5d1a6c" d="M1517,299l-9-3-1-1 9,2z"/>
<path class="m" d="M1719,142l-3-1-2-2M1708,145l-2-5-2-10-2-16M1697,155l-2-1-2-3-2-6M1685,161l-2-4-2-7-2-11M1674,179l-4-2-2-2M1662,188l-4-3-2-2M1649,185l-2-2-2-5-2-7M1636,191l-2-4-2-9-3-15M1624,214l-2-1-2-2-2-2M1610,210l-2-3-2-5-2-9M1598,245l-2-1-2-2-2-4M1582,230l-2-2-2-4-2-7M1568,238l-4-2-2-3M1553,249l-3-2-2-2M1539,269l-4-3-2-3M1525,296l-2-2-2-4-2-5"/>
<path color="#3c5dbe" d="M1721,143l-11,5-2-3 11-3z"/>
<path color="#456eef" d="M1710,148l-11,8-2-1 11-10z"/>
<path color="#3d60cc" d="M1699,156l-12,7-2-2 12-6z"/>
<path color="#4254fe" d="M1687,163l-11,16-2,0 11-18z"/>
<path color="#312caa" d="M1676,179l-12,9-2,0 12-9z"/>
<path color="#1c1377" d="M1664,188l-13-2-2-1 13,3z"/>
<path color="#4166d2" d="M1651,186l-13,8-2-3 13-6z"/>
<path color="#4651ff" d="M1638,194l-12,21-2-1 12-23z"/>
<path color="#1e1798" d="M1626,215l-9-11 7,10z"/>
<path color="#466df4" d="M1619,206l-7,6-2-2 7-6z"/>
<path color="#3e48ff" d="M1612,212l-6,14-2-1 6-15z"/>
<path color="#4e21cd" d="M1606,226l-6,20-2-1 6-20z"/>
<path color="#2b0b74" d="M1600,246l-10-9 8,8z"/>
<path color="#1d128b" d="M1592,239l-8-8-2-1 8,7z"/>
<path color="#2e44ad" d="M1584,231l-7,3-7,5-2-1 14-8z"/>
<path color="#394fee" d="M1570,239l-7,9-2-1 7-9z"/>
<path color="#2c389a" d="M1563,248l-8,1-2,0 8-2z"/>
<path color="#3833f0" d="M1555,249l-6,19-2-1 6-18z"/>
<path color="#352183" d="M1549,268l-8,1-2,0 8-2z"/>
<path color="#5d33e3" d="M1541,269l-7,13-2-3 7-10z"/>
<path color="#7823c3" d="M1534,282l-7,15-2-1 7-17z"/>
<path color="#6d1b6d" d="M1527,297l-8,3-2-1 8-3z"/>
<path color="#2e095f" d="M1519,300l-11-4 9,3z"/>
<path color="#2b46ab" d="M1724,142l-11,7-3-1 11-5z"/>
<path color="#2e4fc2" d="M1713,149l-11,7-3,0 11-8z"/>
<path color="#2b47af" d="M1702,156l-12,8-3-1 12-7z"/>
<path color="#3142de" d="M1690,164l-11,15-3,0 11-16z"/>
<path color="#2e2899" d="M1679,179l-12,9-3,0 12-9z"/>
<path color="#25187f" d="M1667,188l-16-2 13,2z"/>
<path color="#2c4bb5" d="M1654,187l-13,8-3-1 13-8z"/>
<path color="#3440e8" d="M1641,195l-12,19-3,1 12-21z"/>
<path color="#261b9f" d="M1629,214l-7-7-3-1 7,9z"/>
<path color="#2f4fcb" d="M1622,207l-7,5-3,0 7-6z"/>
<path color="#323dee" d="M1615,212l-6,14-3,0 6-14z"/>
<path color="#451fc7" d="M1609,226l-6,20-3,0 6-20z"/>
<path color="#390d7a" d="M1603,246l-8-6-3-1 8,7z"/>
<path color="#27179a" d="M1595,240l-7-9-4,0 8,8z"/>
<path color="#293a9c" d="M1588,231l-8,3-7,5-3,0 7-5 7-3z"/>
<path color="#2d42db" d="M1573,239l-7,9-3,0 7-9z"/>
<path color="#251978" d="M1566,248l-11,1 8-1z"/>
<path color="#3231e7" d="M1558,249l-6,19-3,0 6-19z"/>
<path color="#2d0f68" d="M1552,268l-8,1-3,0 8-1z"/>
<path color="#4628d1" d="M1544,269l-7,15-3-2 7-13z"/>
<path color="#5d1db0" d="M1537,284l-7,13-3,0 7-15z"/>
<path color="#531564" d="M1530,297l-8,4-3-1 8-3z"/>
<path color="#3d0b6b" d="M1522,301l-8-3-4-1 9,3z"/>
<path color="#273999" d="M1727,141l-34,22-3,1 34-22z"/>
<path color="#2a37c1" d="M1693,163l-11,15-3,1 11-15z"/>
<path color="#2a248a" d="M1682,178l-12,9-3,1 12-9z"/>
<path color="#2b1d85" d="M1670,187l-13-1-3,1 13,1z"/>
<path color="#27399a" d="M1657,186l-13,8-3,1 13-8z"/>
<path color="#2a35cb" d="M1644,194l-12,20-3,0 12-19z"/>
<path color="#2c20a3" d="M1632,214l-7-7-3,0 7,7z"/>
<path color="#273ba3" d="M1625,207l-7,5-3,0 7-5z"/>
<path color="#2a37dc" d="M1618,212l-6,13-3,1 6-14z"/>
<path color="#3b1ec4" d="M1612,225l-6,20-3,1 6-20z"/>
<path color="#400f7f" d="M1606,245l-8-5-3,0 8,6z"/>
<path color="#2d1ba2" d="M1598,240l-7-9-3,0 7,9z"/>
<path color="#271d72" d="M1591,231l-11,3 8-3z"/>
<path color="#263696" d="M1583,233l-7,5-3,1 7-5z"/>
<path color="#293bc9" d="M1576,238l-7,10-3,0 7-9z"/>
<path color="#2a1e82" d="M1569,248l-8,0-3,1 8-1z"/>
<path color="#2b30e0" d="M1561,248l-6,19-3,1 6-19z"/>
<path color="#30126f" d="M1555,267l-8,1 5,0z"/>
<path color="#3521c2" d="M1547,268l-7,16-3,0 7-15z"/>
<path color="#46169d" d="M1540,284l-7,13-3,0 7-13z"/>
<path color="#49115e" d="M1533,297l-8,4-3,0 8-4z"/>
<path color="#450d73" d="M1525,301l-8-4-3,1 8,3z"/>
<path class="m" d="M1727,141l-3,1-5,0M1716,148l-3,1-3-1-2-3M1705,156l-3,0-3,0-2-1M1693,163l-3,1-3-1-2-2M1682,178l-3,1-5,0M1670,187l-3,1-5,0M1657,186l-3,1-3-1-2-1M1644,194l-3,1-3-1-2-3M1632,214l-3,0-5,0M1618,212l-3,0-3,0-2-2M1606,245l-3,1-3,0-2-1M1591,231l-3,0-4,0-2-1M1576,238l-3,1-5-1M1561,248l-3,1-5,0M1547,268l-3,1-5,0M1533,297l-3,0-3,0-2-1"/>
<path class="m" d="M1727,141l-34,22-11,15-12,9-13-1-13,8-12,20-7-7-7,5-6,13-6,20-8-5-7-9-8,2-7,5-7,10-8,0-6,19-8,1-7,16-7,13-8,4-8-4"/>
<path color="#292067" d="M1730,140l-11,7-3,1 11-7z"/>
<path color="#24328f" d="M1719,147l-14,9 11-8z"/>
<path color="#292067" d="M1707,154l-11,7-3,2 12-7z"/>
<path color="#2633b0" d="M1696,161l-12,16-2,1 11-15z"/>
<path color="#272385" d="M1684,177l-12,9-2,1 12-9z"/>
<path color="#2d228a" d="M1672,186l-12-1-3,1 13,1z"/>
<path color="#292067" d="M1660,185l-13,8-3,1 13-8z"/>
<path color="#2732bb" d="M1647,193l-12,19-3,2 12-20z"/>
<path color="#2e25a8" d="M1635,212l-7-7-3,2 7,7z"/>
<path color="#243391" d="M1628,205l-7,5-3,2 7-5z"/>
<path color="#2735cf" d="M1621,210l-6,13-3,2 6-13z"/>
<path color="#311ec3" d="M1615,223l-6,21-3,1 6-20z"/>
<path color="#401285" d="M1609,244l-8-6-3,2 8,5z"/>
<path color="#2f20a8" d="M1601,238l-8-9-2,2 7,9z"/>
<path color="#2a2379" d="M1593,229l-7,3-3,1 8-2z"/>
<path color="#292067" d="M1586,232l-7,4-3,2 7-5z"/>
<path color="#2537bb" d="M1579,236l-7,10-3,2 7-10z"/>
<path color="#2c2388" d="M1572,246l-8,1-3,1 8,0z"/>
<path color="#2730d9" d="M1564,247l-6,19-3,1 6-19z"/>
<path color="#311576" d="M1558,266l-8,1-3,1 8-1z"/>
<path color="#2f1fba" d="M1550,267l-7,15-3,2 7-16z"/>
<path color="#3e1595" d="M1543,282l-7,13-3,2 7-13z"/>
<path color="#4c0a4a" d="M1536,295l-8,5 5-3z"/>
<path color="#460f79" d="M1528,300l-9-4-2,1 8,4z"/>
<path class="m" d="M1730,140l-3,1M1719,147l-3,1M1707,154l-2,2M1696,161l-3,2M1684,177l-2,1M1672,186l-2,1M1660,185l-3,1M1647,193l-3,1M1635,212l-3,2M1621,210l-3,2M1609,244l-3,1M1593,229l-2,2M1579,236l-3,2M1564,247l-3,1M1550,267l-3,1M1536,295l-3,2"/>
<path color="#302a6f" d="M1735,135l-33,21-6,5 34-21z"/>
<path color="#222d99" d="M1702,156l-12,16-6,5 12-16z"/>
<path color="#2e1e68" d="M1690,172l-12,9-6,5 12-9z"/>
<path color="#302c91" d="M1678,181l-13-1-5,5 12,1z"/>
<path color="#302a6f" d="M1665,180l-12,8-6,5 13-8z"/>
<path color="#222ea7" d="M1653,188l-13,19-5,5 12-19z"/>
<path color="#3030b0" d="M1640,207l-7-7-5,5 7,7z"/>
<path color="#2f2868" d="M1633,200l-6,5-6,5 7-5z"/>
<path color="#2334bd" d="M1627,205l-7,13-5,5 6-13z"/>
<path color="#2720c3" d="M1620,218l-6,21-5,5 6-21z"/>
<path color="#3b1793" d="M1614,239l-7-6-6,5 8,6z"/>
<path color="#312cb3" d="M1607,233l-8-9-6,5 8,9z"/>
<path color="#312d7e" d="M1599,224l-7,3-6,5 7-3z"/>
<path color="#302a6f" d="M1592,227l-7,4-6,5 7-4z"/>
<path color="#2332a2" d="M1585,231l-7,10-6,5 7-10z"/>
<path color="#312d8d" d="M1578,241l-8,1-6,5 8-1z"/>
<path color="#2333d0" d="M1570,242l-7,19-5,5 6-19z"/>
<path color="#331e7f" d="M1563,261l-7,1-6,5 8-1z"/>
<path color="#2720b1" d="M1556,262l-7,15-6,5 7-15z"/>
<path color="#31148e" d="M1549,277l-7,13-6,5 7-13z"/>
<path color="#490d57" d="M1542,290l-8,5-6,5 8-5z"/>
<path color="#411586" d="M1534,295l-9-4-6,5 9,4z"/>
<path color="#3c487e" d="M1741,127l-34,21-5,8 33-21z"/>
<path color="#353864" d="M1707,148l-11,16-6,8 12-16z"/>
<path color="#36397a" d="M1696,164l-12,8-6,9 12-9z"/>
<path color="#3b499a" d="M1684,172l-13-1-6,9 13,1z"/>
<path color="#3c487e" d="M1671,171l-12,8-6,9 12-8z"/>
<path color="#23318d" d="M1659,179l-6,9z"/>
<path color="#3a4db6" d="M1646,199l-7-8-6,9 7,7z"/>
<path color="#3a4679" d="M1639,191l-7,5-5,9 6-5z"/>
<path color="#2438a2" d="M1632,196l-6,14-6,8 7-13z"/>
<path color="#222bbf" d="M1626,210l-6,21-6,8 6-21z"/>
<path color="#382da7" d="M1620,231l-8-6-5,8 7,6z"/>
<path color="#3848bd" d="M1612,225l-7-10-6,9 8,9z"/>
<path color="#3c4b8b" d="M1605,215l-8,3-5,9 7-3z"/>
<path color="#3c487e" d="M1597,218l-7,4-5,9 7-4z"/>
<path color="#353964" d="M1590,222l-7,10-5,9 7-10z"/>
<path color="#3b4b97" d="M1583,232l-8,1-5,9 8-1z"/>
<path color="#243aba" d="M1575,233l-6,19-6,9 7-19z"/>
<path color="#363891" d="M1569,252l-8,1-5,9 7-1z"/>
<path color="#2129a6" d="M1561,253l-7,16-5,8 7-15z"/>
<path color="#24198a" d="M1554,269l-7,13-5,8 7-13z"/>
<path color="#3c1972" d="M1547,282l-8,4-5,9 8-5z"/>
<path color="#3a279d" d="M1539,286l-9-4-5,9 9,4z"/>
<path color="#475982" d="M1742,125l-34,21-1,2 34-21z"/>
<path color="#3e496b" d="M1708,146l-11,16 10-14z"/>
<path color="#3c4c82" d="M1697,162l-12,8-1,2 12-8z"/>
<path color="#435b9c" d="M1685,170l-13-1-1,2 13,1z"/>
<path color="#475982" d="M1672,169l-13,8 0,2 12-8z"/>
<path color="#3a4567" d="M1659,177l-12,20 12-18z"/>
<path color="#4260b8" d="M1647,197l-7-7-1,1 7,8z"/>
<path color="#46567d" d="M1640,190l-7,5-1,1 7-5z"/>
<path color="#263b94" d="M1633,195l-1,1z"/>
<path color="#2233b7" d="M1627,208l-6,21 5-19z"/>
<path color="#383fb1" d="M1621,229l-8-6-1,2 8,6z"/>
<path color="#3f5dc0" d="M1613,223l-8-10 0,2 7,10z"/>
<path color="#475c8d" d="M1605,213l-7,3-1,2 8-3z"/>
<path color="#475982" d="M1598,216l-7,4-1,2 7-4z"/>
<path color="#3f4966" d="M1591,220l-7,11 6-9z"/>
<path color="#455c99" d="M1584,231l-8,0-1,2 8-1z"/>
<path color="#253fad" d="M1576,231l-6,19 5-17z"/>
<path color="#3c4b96" d="M1570,250l-8,1-1,2 8-1z"/>
<path color="#222f9a" d="M1562,251l-1,2z"/>
<path color="#211f87" d="M1555,267l-7,13 6-11z"/>
<path color="#3a297f" d="M1548,280l-8,4-1,2 8-4z"/>
<path color="#3938a9" d="M1540,284l-9-4-1,2 9,4z"/>
<path class="m" d="M1742,125l-7,10-5,5M1731,132l-7,10-5,5M1720,139l-7,10-6,5M1708,146l-6,10-6,5M1697,162l-7,10-6,5M1685,170l-7,11-6,5M1672,169l-7,11-5,5M1659,177l-6,11-6,5M1647,197l-7,10-5,5M1633,195l-6,10-6,5M1621,229l-7,10-5,5M1605,213l-6,11-6,5M1591,220l-6,11-6,5M1576,231l-6,11-6,5M1562,251l-6,11-6,5M1548,280l-6,10-6,5"/>
<path class="m" d="M1742,125l-34,21-11,16-12,8-13-1-13,8-12,20-7-7-7,5-6,13-6,21-8-6-8-10-7,3-7,4-7,11-8,0-6,19-8,1-7,16-7,13-8,4-9-4"/>
<path color="#5b6975" d="M1747,114l-34,21-5,11 34-21z"/>
<path color="#4a5a70" d="M1713,135l-11,16-5,11 11-16z"/>
<path color="#475d84" d="M1702,151l-13,8-4,11 12-8z"/>
<path color="#4f6b9a" d="M1689,159l-12-1-5,11 13,1z"/>
<path color="#5b6975" d="M1677,158l-13,8-5,11 13-8z"/>
<path color="#465469" d="M1664,166l-12,20-5,11 12-20z"/>
<path color="#4e71b4" d="M1652,186l-8-8-4,12 7,7z"/>
<path color="#586774" d="M1644,178l-6,5-5,12 7-5z"/>
<path color="#435066" d="M1638,183l-7,14-4,11 6-13z"/>
<path color="#243bad" d="M1631,197l-6,21-4,11 6-21z"/>
<path color="#3e54b4" d="M1625,218l-7-7-5,12 8,6z"/>
<path color="#4a6ebd" d="M1618,211l-8-9-5,11 8,10z"/>
<path color="#586c84" d="M1610,202l-7,2-5,12 7-3z"/>
<path color="#5a6976" d="M1603,204l-8,5-4,11 7-4z"/>
<path color="#4b5969" d="M1595,209l-7,10-4,12 7-11z"/>
<path color="#516d97" d="M1588,219l-7,0-5,12 8,0z"/>
<path color="#2a429e" d="M1581,219l-7,19-4,12 6-19z"/>
<path color="#445e98" d="M1574,238l-8,2-4,11 8-1z"/>
<path color="#243591" d="M1566,240l-7,15-4,12 7-16z"/>
<path color="#343668" d="M1559,255l-7,13-4,12 7-13z"/>
<path color="#393b8c" d="M1552,268l-8,4-4,12 8-4z"/>
<path color="#3d4dad" d="M1544,272l-9-4-4,12 9,4z"/>
<path class="m" d="M1747,114l-5,11M1736,121l-5,11M1725,128l-5,11M1713,135l-5,11M1702,151l-5,11M1689,159l-4,11M1677,158l-5,11M1664,166l-5,11M1652,186l-5,11M1638,183l-5,12M1625,218l-4,11M1610,202l-5,11M1595,209l-4,11M1581,219l-5,12M1566,240l-4,11M1552,268l-4,12"/>
<path color="#84dfb3" d="M1753,125l-34,21-6-11 34-21z"/>
<path color="#71e1f8" d="M1719,146l-11,16-6-11 11-16z"/>
<path color="#64c8e2" d="M1708,162l-12,9-7-12 13-8z"/>
<path color="#61b4ab" d="M1696,171l-13-2-6-11 12,1z"/>
<path color="#84dfb3" d="M1683,169l-12,8-7-11 13-8z"/>
<path color="#6cdeff" d="M1671,177l-13,20-6-11 12-20z"/>
<path color="#4d8a8c" d="M1658,197l-7-7-7-12 8,8z"/>
<path color="#83e2bc" d="M1651,190l-7,5-6-12 6-5z"/>
<path color="#6cdfff" d="M1644,195l-6,13-7-11 7-14z"/>
<path color="#51adff" d="M1638,208l-6,22-7-12 6-21z"/>
<path color="#3f6f94" d="M1632,230l-7-7-7-12 7,7z"/>
<path color="#222e82" d="M1625,223l-8-9-7-12 8,9z"/>
<path color="#7ad0ab" d="M1617,214l-7,2-7-12 7-2z"/>
<path color="#84dfb3" d="M1610,216l-8,5-7-12 8-5z"/>
<path color="#7ae7ee" d="M1602,221l-7,10-7-12 7-10z"/>
<path color="#6abca6" d="M1595,231l-7,1-7-13 7,0z"/>
<path color="#64d0ff" d="M1588,232l-7,19-7-13 7-19z"/>
<path color="#56a9be" d="M1581,251l-8,1-7-12 8-2z"/>
<path color="#58beff" d="M1573,252l-7,16-7-13 7-15z"/>
<path color="#5299ff" d="M1566,268l-7,13-7-13 7-13z"/>
<path color="#4c7dd7" d="M1559,281l-8,4-7-13 8-4z"/>
<path color="#416e99" d="M1551,285l-8-4-8-13 9,4z"/>
<path color="#62bed9" d="M1758,136l-34,22-5-12 34-21z"/>
<path color="#5ebef9" d="M1724,158l-11,16-5-12 11-16z"/>
<path color="#55a6e1" d="M1713,174l-12,8-5-11 12-9z"/>
<path color="#549eb6" d="M1701,182l-13-1-5-12 13,2z"/>
<path color="#62bed9" d="M1688,181l-12,8-5-12 12-8z"/>
<path color="#5bbcff" d="M1676,189l-13,20-5-12 13-20z"/>
<path color="#467f92" d="M1663,209l-7-7-5-12 7,7z"/>
<path color="#62c0df" d="M1656,202l-6,5-6-12 7-5z"/>
<path color="#5cbfff" d="M1650,207l-7,14-5-13 6-13z"/>
<path color="#4d85ff" d="M1643,221l-6,21-5-12 6-22z"/>
<path color="#3e5693" d="M1637,242l-7-6-5-13 7,7z"/>
<path color="#40708e" d="M1630,236l-8-9-5-13 8,9z"/>
<path color="#5eb3c9" d="M1622,227l-7,2-5-13 7-2z"/>
<path color="#62bed8" d="M1615,229l-7,5-6-13 8-5z"/>
<path color="#61c4fd" d="M1608,234l-7,10-6-13 7-10z"/>
<path color="#57a5ba" d="M1601,244l-8,1-5-13 7-1z"/>
<path color="#56b4ff" d="M1593,245l-6,19-6-13 7-19z"/>
<path color="#4e89c0" d="M1587,264l-8,1-6-13 8-1z"/>
<path color="#5291ff" d="M1579,265l-7,16-6-13 7-16z"/>
<path color="#5169ff" d="M1572,281l-7,13-6-13 7-13z"/>
<path color="#5053c5" d="M1565,294l-8,4-6-13 8-4z"/>
<path color="#415294" d="M1557,298l-8-3-6-14 8,4z"/>
<path class="m" d="M1758,136l-5-11-6-11M1747,143l-5-11-6-11M1736,150l-5-11-6-11M1724,158l-5-12-6-11M1713,174l-5-12-6-11M1701,182l-5-11-7-12M1688,181l-5-12-6-11M1676,189l-5-12-7-11M1663,209l-5-12-6-11M1650,207l-6-12-6-12M1637,242l-5-12-7-12M1622,227l-5-13-7-12M1608,234l-6-13-7-12M1593,245l-5-13-7-13M1579,265l-6-13-7-12M1565,294l-6-13-7-13"/>
<path class="m" d="M1758,136l-34,22-11,16-12,8-13-1-12,8-13,20-7-7-6,5-7,14-6,21-7-6-8-9-7,2-7,5-7,10-8,1-6,19-8,1-7,16-7,13-8,4-8-3"/>
<path color="#57b0e0" d="M1759,139l-33,21-2-2 34-22z"/>
<path color="#56aaff" d="M1726,160l-12,16-1-2 11-16z"/>
<path color="#508ee3" d="M1714,176l-12,9-1-3 12-8z"/>
<path color="#4c8ab4" d="M1702,185l-12-1-2-3 13,1z"/>
<path color="#57b0e0" d="M1690,184l-13,8-1-3 12-8z"/>
<path color="#55a5ff" d="M1677,192l-12,20-2-3 13-20z"/>
<path color="#3f6b91" d="M1665,212l-7-7-2-3 7,7z"/>
<path color="#57b2e7" d="M1658,205l-7,5-1-3 6-5z"/>
<path color="#55a8ff" d="M1651,210l-6,14-2-3 7-14z"/>
<path color="#4b69ff" d="M1645,224l-6,21-2-3 6-21z"/>
<path color="#3f418a" d="M1639,245l-7-6-2-3 7,6z"/>
<path color="#3a5b8b" d="M1632,239l-8-9-2-3 8,9z"/>
<path color="#53a5ce" d="M1624,230l-7,2-2-3 7-2z"/>
<path color="#57b0e0" d="M1617,232l-7,5-2-3 7-5z"/>
<path color="#57b2ff" d="M1610,237l-7,10-2-3 7-10z"/>
<path color="#4e93ba" d="M1603,247l-8,1-2-3 8-1z"/>
<path color="#5198ff" d="M1595,248l-7,19-1-3 6-19z"/>
<path color="#4971be" d="M1588,267l-7,1-2-3 8-1z"/>
<path color="#4d76ff" d="M1581,268l-7,16-2-3 7-16z"/>
<path color="#564ff5" d="M1574,284l-7,13-2-3 7-13z"/>
<path color="#563bb9" d="M1567,297l-8,5-2-4 8-4z"/>
<path color="#443c8b" d="M1559,302l-9-4-1-3 8,3z"/>
<path color="#519de3" d="M1765,149l-33,22-6-11 33-21z"/>
<path color="#5194ff" d="M1732,171l-12,16-6-11 12-16z"/>
<path color="#4b78e5" d="M1720,187l-12,9-6-11 12-9z"/>
<path color="#4675af" d="M1708,196l-12-1-6-11 12,1z"/>
<path color="#519de3" d="M1696,195l-12,8-7-11 13-8z"/>
<path color="#508eff" d="M1684,203l-13,20-6-11 12-20z"/>
<path color="#38578f" d="M1671,223l-7-7-6-11 7,7z"/>
<path color="#529eeb" d="M1664,216l-6,5-7-11 7-5z"/>
<path color="#4f90ff" d="M1658,221l-6,14-7-11 6-14z"/>
<path color="#4e50ff" d="M1652,235l-6,21-7-11 6-21z"/>
<path color="#3f2e82" d="M1646,256l-8-6-6-11 7,6z"/>
<path color="#1a1c85" d="M1638,250l-7-9-7-11 8,9z"/>
<path color="#4e90cd" d="M1631,241l-7,3-7-12 7-2z"/>
<path color="#519ce3" d="M1624,244l-8,5-6-12 7-5z"/>
<path color="#529cff" d="M1616,249l-6,10-7-12 7-10z"/>
<path color="#487db6" d="M1610,259l-8,0-7-11 8-1z"/>
<path color="#4b7fff" d="M1602,259l-7,20-7-12 7-19z"/>
<path color="#485cb6" d="M1595,279l-7,1-7-12 7-1z"/>
<path color="#515dff" d="M1588,280l-7,16-7-12 7-16z"/>
<path color="#623ce9" d="M1581,296l-7,13-7-12 7-13z"/>
<path color="#6830a9" d="M1574,309l-8,5-7-12 8-5z"/>
<path color="#472c82" d="M1566,314l-9-4-7-12 9,4z"/>
<path class="m" d="M1765,149l-7-13M1754,156l-7-13M1743,163l-7-13M1732,171l-8-13M1720,187l-7-13M1708,196l-7-14M1696,195l-8-14M1684,203l-8-14M1671,223l-8-14M1658,221l-8-14M1646,256l-9-14M1631,241l-9-14M1616,249l-8-15M1602,259l-9-14M1588,280l-9-15M1574,309l-9-15"/>
<path color="#497ee4" d="M1771,156l-33,22-6-7 33-22z"/>
<path color="#4b74ff" d="M1738,178l-12,16-6-7 12-16z"/>
<path color="#4c5adb" d="M1726,194l-11,9-7-7 12-9z"/>
<path color="#3f57a4" d="M1715,203l-12,0-7-8 12,1z"/>
<path color="#497ee4" d="M1703,203l-13,8-6-8 12-8z"/>
<path color="#4c6dff" d="M1690,211l-12,20-7-8 13-20z"/>
<path color="#1b1987" d="M1678,231l-7-7-7-8 7,7z"/>
<path color="#497fed" d="M1671,224l-7,6-6-9 6-5z"/>
<path color="#4a6dff" d="M1664,230l-6,13-6-8 6-14z"/>
<path color="#5535f5" d="M1658,243l-6,21-6-8 6-21z"/>
<path color="#250c6a" d="M1652,264l-7-5-7-9 8,6z"/>
<path color="#1c168a" d="M1645,259l-7-9z"/>
<path color="#4471c9" d="M1637,249l-7,3-6-8 7-3z"/>
<path color="#497ee4" d="M1630,252l-7,5-7-8 8-5z"/>
<path color="#4a7cff" d="M1623,257l-7,10-6-8 6-10z"/>
<path color="#3f5fab" d="M1616,267l-7,1-7-9 8,0z"/>
<path color="#495cff" d="M1609,268l-7,19-7-8 7-20z"/>
<path color="#483ea3" d="M1602,287l-7,2-7-9 7-1z"/>
<path color="#563efc" d="M1595,289l-7,16-7-9 7-16z"/>
<path color="#762cd2" d="M1588,305l-7,13-7-9 7-13z"/>
<path color="#7b2392" d="M1581,318l-8,5-7-9 8-5z"/>
<path color="#511e71" d="M1573,323l-9-4-7-9 9,4z"/>
<path color="#416add" d="M1773,158l-32,22-3-2 33-22z"/>
<path color="#4861ff" d="M1741,180l-12,16-3-2 12-16z"/>
<path color="#4847d0" d="M1729,196l-12,9-2-2 11-9z"/>
<path color="#39459d" d="M1717,205l-12,0-2-2 12,0z"/>
<path color="#416add" d="M1705,205l-12,8-3-2 13-8z"/>
<path color="#495aff" d="M1693,213l-13,21-2-3 12-20z"/>
<path color="#1c168b" d="M1680,234l-9-10 7,7z"/>
<path color="#446ce8" d="M1674,227l-7,5-3-2 7-6z"/>
<path color="#485aff" d="M1667,232l-6,14-3-3 6-13z"/>
<path color="#5a2ce4" d="M1661,246l-6,21-3-3 6-21z"/>
<path color="#290b6b" d="M1655,267l-7-6-3-2 7,5z"/>
<path color="#1d138d" d="M1648,261l-11-12 8,10z"/>
<path color="#405ebe" d="M1640,252l-7,3-3-3 7-3z"/>
<path color="#436bde" d="M1633,255l-7,5-3-3 7-5z"/>
<path color="#4868ff" d="M1626,260l-7,10-3-3 7-10z"/>
<path color="#3c4ea3" d="M1619,270l-7,1-3-3 7-1z"/>
<path color="#4749ff" d="M1612,271l-7,19-3-3 7-19z"/>
<path color="#483195" d="M1605,290l-8,2-2-3 7-2z"/>
<path color="#5c34ec" d="M1597,292l-7,16-2-3 7-16z"/>
<path color="#7a25c2" d="M1590,308l-7,13-2-3 7-13z"/>
<path color="#7f2083" d="M1583,321l-7,5-3-3 8-5z"/>
<path color="#2c095e" d="M1576,326l-9-4-3-3 9,4z"/>
<path class="m" d="M1773,158l-2-2-6-7M1763,165l-3-2-6-7M1752,173l-3-2-6-8M1741,180l-3-2-6-7M1729,196l-3-2-6-7M1717,205l-2-2-7-7M1705,205l-2-2-7-8M1693,213l-3-2-6-8M1680,234l-2-3-7-8M1667,232l-3-2-6-9M1655,267l-3-3-6-8M1640,252l-3-3-6-8M1626,260l-3-3-7-8M1612,271l-3-3-7-9M1597,292l-2-3-7-9M1583,321l-2-3-7-9"/>
<path class="m" d="M1773,158l-32,22-12,16-12,9-12,0-12,8-13,21-6-7-7,5-6,14-6,21-7-6-8-9-7,3-7,5-7,10-7,1-7,19-8,2-7,16-7,13-7,5-9-4"/>
<path color="#2f51c0" d="M1777,159l-33,22-3-1 32-22z"/>
<path color="#374ce9" d="M1744,181l-11,16-4-1 12-16z"/>
<path color="#3436b4" d="M1733,197l-12,9-4-1 12-9z"/>
<path color="#1f1578" d="M1721,206l-12,0-4-1 12,0z"/>
<path color="#2f51c0" d="M1709,206l-13,8-3-1 12-8z"/>
<path color="#3c4af6" d="M1696,214l-12,21-4-1 13-21z"/>
<path color="#1e1792" d="M1684,235l-7-6-3-2 6,7z"/>
<path color="#3d5fdb" d="M1677,229l-6,5-4-2 7-5z"/>
<path color="#424eff" d="M1671,234l-6,14-4-2 6-14z"/>
<path color="#5527d9" d="M1665,248l-7,21-3-2 6-21z"/>
<path color="#2c0b70" d="M1658,269l-10-8 7,6z"/>
<path color="#1e1390" d="M1651,264l-7-9-4-3 8,9z"/>
<path color="#3c53b2" d="M1644,255l-7,3-4-3 7-3z"/>
<path color="#3e5fd3" d="M1637,258l-7,4-4-2 7-5z"/>
<path color="#425cff" d="M1630,262l-7,10-4-2 7-10z"/>
<path color="#3544a0" d="M1623,272l-8,2-3-3 7-1z"/>
<path color="#4340ff" d="M1615,274l-6,19-4-3 7-19z"/>
<path color="#432b90" d="M1609,293l-8,2-4-3 8-2z"/>
<path color="#592ee2" d="M1601,295l-7,16-4-3 7-16z"/>
<path color="#7422b8" d="M1594,311l-7,12-4-2 7-13z"/>
<path color="#751e7b" d="M1587,323l-7,6-4-3 7-5z"/>
<path color="#2e0960" d="M1580,329l-9-4-4-3 9,4z"/>
<path color="#322c77" d="M1780,155l-33,23-3,3 33-22z"/>
<path color="#2f215e" d="M1747,178l-14,19 11-16z"/>
<path color="#361f6e" d="M1736,193l-12,9-3,4 12-9z"/>
<path color="#362b91" d="M1724,202l-12,0-3,4 12,0z"/>
<path color="#322c77" d="M1712,202l-12,9-4,3 13-8z"/>
<path color="#24239f" d="M1700,211l-13,22-3,2 12-21z"/>
<path color="#2c1e9b" d="M1687,233l-6-3-4-1 7,6z"/>
<path color="#2a40ab" d="M1681,230l-7,4-3,0 6-5z"/>
<path color="#2f3be8" d="M1674,234l-6,14-3,0 6-14z"/>
<path color="#401fc5" d="M1668,248l-6,20-4,1 7-21z"/>
<path color="#410e7a" d="M1662,268l-7-5-4,1 7,5z"/>
<path color="#261595" d="M1655,263l-8-6-3-2 7,9z"/>
<path color="#3144a3" d="M1647,257l-7,2-3-1 7-3z"/>
<path color="#2d48b2" d="M1640,259l-7,4-3-1 7-4z"/>
<path color="#2c40cf" d="M1633,263l-7,9-3,0 7-10z"/>
<path color="#2a3394" d="M1626,272l-7,3-4-1 8-2z"/>
<path color="#3735f0" d="M1619,275l-7,18-3,0 6-19z"/>
<path color="#342186" d="M1612,293l-7,3-4-1 8-2z"/>
<path color="#4b27d2" d="M1605,296l-7,16-4-1 7-16z"/>
<path color="#521a9f" d="M1598,312l-7,11-4,0 7-12z"/>
<path color="#54156b" d="M1591,323l-8,7-3-1 7-6z"/>
<path color="#380a66" d="M1583,330l-12-5 9,4z"/>
<path class="m" d="M1780,155l-3,4-4-1M1769,162l-3,4-3-1M1758,170l-3,4-3-1M1747,178l-3,3-3-1M1736,193l-3,4-4-1M1724,202l-3,4-4-1M1712,202l-3,4-4-1M1700,211l-4,3-3-1M1687,233l-3,2-4-1M1674,234l-3,0-4-2M1662,268l-4,1-3-2M1647,257l-3-2-4-3M1633,263l-3-1-4-2M1619,275l-4-1-3-3M1605,296l-4-1-4-3M1591,323l-4,0-4-2"/>
<path color="#3e4e90" d="M1782,150l-33,23-2,5 33-23z"/>
<path color="#3a4182" d="M1749,173l-12,15-1,5 11-15z"/>
<path color="#3c3b8c" d="M1737,188l-11,9-2,5 12-9z"/>
<path color="#3d489e" d="M1726,197l-13,0-1,5 12,0z"/>
<path color="#3e4e90" d="M1713,197l-12,9-1,5 12-9z"/>
<path color="#35316b" d="M1701,206l-14,27 13-22z"/>
<path color="#382c9b" d="M1689,230l-7-1-1,1 6,3z"/>
<path color="#2d216e" d="M1682,229l-8,5 7-4z"/>
<path color="#2527b4" d="M1676,233l-7,14-1,1 6-14z"/>
<path color="#2f15a0" d="M1669,247l-6,19-1,2 6-20z"/>
<path color="#4f1581" d="M1663,266l-7-4-1,1 7,5z"/>
<path color="#2f1997" d="M1656,262l-9-5 8,6z"/>
<path color="#221873" d="M1649,258l-9,1 7-2z"/>
<path color="#263291" d="M1642,259l-9,4 7-4z"/>
<path color="#222081" d="M1635,263l-9,9 7-9z"/>
<path color="#2f1e6e" d="M1628,270l-8,5-1,0 7-3z"/>
<path color="#2929cd" d="M1620,275l-6,17-2,1 7-18z"/>
<path color="#351165" d="M1614,292l-8,4-1,0 7-3z"/>
<path color="#371eb9" d="M1606,296l-7,15-1,1 7-16z"/>
<path color="#3e0f73" d="M1599,311l-8,12 7-11z"/>
<path color="#430c55" d="M1592,322l-8,7-1,1 8-7z"/>
<path color="#470c6c" d="M1584,329l-9-2 8,3z"/>
<path color="#456798" d="M1783,143l-33,22-1,8 33-23z"/>
<path color="#415a8f" d="M1750,165l-11,15-2,8 12-15z"/>
<path color="#405396" d="M1739,180l-12,9-1,8 11-9z"/>
<path color="#435fa1" d="M1727,189l-12,0-2,8 13,0z"/>
<path color="#456798" d="M1715,189l-13,9-1,8 12-9z"/>
<path color="#3c477c" d="M1702,198l-12,27-1,5 12-24z"/>
<path color="#3b3a99" d="M1690,225l-6,2-2,2 7,1z"/>
<path color="#353384" d="M1684,227l-7,3-1,3 6-4z"/>
<path color="#222297" d="M1677,230l-6,15-2,2 7-14z"/>
<path color="#291387" d="M1671,245l-8,21 6-19z"/>
<path color="#4f1c88" d="M1665,262l-7-2-2,2 7,4z"/>
<path color="#351d92" d="M1658,260l-9-2 7,4z"/>
<path color="#2b207c" d="M1650,258l-7,0-7,3-1,2 7-4 7-1z"/>
<path color="#35307b" d="M1636,261l-7,5-1,4 7-7z"/>
<path color="#342b73" d="M1629,266l-7,8-2,1 8-5z"/>
<path color="#2420aa" d="M1622,274l-8,18 6-17z"/>
<path color="#39166b" d="M1615,290l-9,6 8-4z"/>
<path color="#3018a0" d="M1608,295l-7,15-2,1 7-15z"/>
<path color="#560d46" d="M1601,310l-15,18 6-6 7-11z"/>
<path color="#4f0d6f" d="M1586,328l-8-2-2,1 8,2z"/>
<path color="#547e98" d="M1785,132l-33,22-2,11 33-22z"/>
<path color="#4e7694" d="M1752,154l-12,14-1,12 11-15z"/>
<path color="#49729c" d="M1740,168l-12,9-1,12 12-9z"/>
<path color="#4f7ba2" d="M1728,177l-12,1-1,11 12,0z"/>
<path color="#547e98" d="M1716,178l-12,8-2,12 13-9z"/>
<path color="#436287" d="M1704,186l-13,31-1,8 12-27z"/>
<path color="#3d4991" d="M1691,217l-6,7-1,3 6-2z"/>
<path color="#3c4693" d="M1685,224l-7,2-1,4 7-3z"/>
<path color="#333169" d="M1678,226l-7,19 6-15z"/>
<path color="#3b1f60" d="M1672,241l-6,16-1,5 6-17z"/>
<path color="#462490" d="M1666,257l-7-2-1,5 7,2z"/>
<path color="#3a268c" d="M1659,255l-9,3 8,2z"/>
<path color="#2e248e" d="M1652,258l-7-1-2,1 7,0z"/>
<path color="#35338b" d="M1645,257l-7,2-2,2 7-3z"/>
<path color="#3c4493" d="M1638,259l-8,1-1,6 7-5z"/>
<path color="#373875" d="M1630,260l-8,14 7-8z"/>
<path color="#221d89" d="M1623,272l-7,14-1,4 7-16z"/>
<path color="#3c2173" d="M1616,286l-8,9 7-5z"/>
<path color="#2a1489" d="M1609,293l-8,17 7-15z"/>
<path color="#541662" d="M1602,308l-7,6-2,5 8-9z"/>
<path color="#59104e" d="M1595,314l-9,14 7-9z"/>
<path color="#551174" d="M1587,326l-8-1-1,1 8,2z"/>
<path color="#8c995c" d="M1786,116l-33,22-1,16 33-22z"/>
<path color="#7e9566" d="M1753,138l-11,13-2,17 12-14z"/>
<path color="#6f917e" d="M1742,151l-12,9-2,17 12-9z"/>
<path color="#7f9a6e" d="M1730,160l-13,1-1,17 12-1z"/>
<path color="#8c995c" d="M1717,161l-12,8-1,17 12-8z"/>
<path color="#547b86" d="M1705,169l-12,37-2,11 13-31z"/>
<path color="#415a89" d="M1693,206l-7,14-1,4 6-7z"/>
<path color="#415a9d" d="M1686,220l-6,0-2,6 7-2z"/>
<path color="#39426f" d="M1680,220l-6,16-2,5 6-15z"/>
<path color="#3c3377" d="M1674,236l-7,12-1,9 6-16z"/>
<path color="#423696" d="M1667,248l-7,1-1,6 7,2z"/>
<path color="#3a2f80" d="M1660,249l-7,8-1,1 7-3z"/>
<path color="#322d9c" d="M1653,257l-7-3-1,3 7,1z"/>
<path color="#3b4499" d="M1646,254l-7,1-1,4 7-2z"/>
<path color="#425aa2" d="M1639,255l-8-3-1,8 8-1z"/>
<path color="#3a4573" d="M1631,252l-8,20 7-12z"/>
<path color="#36326f" d="M1625,269l-7,11-2,6 7-14z"/>
<path color="#3c2c78" d="M1618,280l-8,10-1,3 7-7z"/>
<path color="#37195b" d="M1610,290l-1,3z"/>
<path color="#4d1f7b" d="M1603,304l-7,3-1,7 7-6z"/>
<path color="#501657" d="M1596,307l-9,19 8-12z"/>
<path color="#55177b" d="M1589,323l-9,0-1,2 8,1z"/>
<path class="m" d="M1786,116l-3,27-1,7-2,5M1775,123l-3,27-1,8-2,4M1764,130l-3,28-1,7-2,5M1753,138l-3,27-1,8-2,5M1742,151l-3,29-2,8-1,5M1730,160l-3,29-1,8-2,5M1717,161l-2,28-2,8-1,5M1705,169l-3,29-1,8-1,5M1693,206l-3,19-1,5-2,3M1680,220l-3,10-1,3-2,1M1667,248l-2,14-2,4-1,2M1653,257l-3,1-3-1M1639,255l-3,6-1,2-2,0M1625,269l-3,5-2,1-1,0M1610,290l-2,5-2,1-1,0M1596,307l-3,12-1,3-1,1"/>
<path color="#d48a3c" d="M1788,95l-33,22-2,21 33-22z"/>
<path color="#c98c3e" d="M1755,117l-12,12-1,22 11-13z"/>
<path color="#c59142" d="M1743,129l-12,8-12,2-2,22 13-1 12-9z"/>
<path color="#d48a3c" d="M1719,139l-13,8-1,22 12-8z"/>
<path color="#958e4a" d="M1706,147l-12,44-1,15 12-37z"/>
<path color="#4a6a7e" d="M1694,191l-8,29 7-14z"/>
<path color="#486ea4" d="M1688,214l-7-2-1,8 6,0z"/>
<path color="#3f5778" d="M1681,212l-6,17-1,7 6-16z"/>
<path color="#3e4c8c" d="M1675,229l-7,8-1,11 7-12z"/>
<path color="#3f4d9c" d="M1668,237l-7,4-1,8 7-1z"/>
<path color="#373773" d="M1661,241l-6,15-2,1 7-8z"/>
<path color="#3639aa" d="M1655,256l-7-5-2,3 7,3z"/>
<path color="#4054a2" d="M1648,251l-8-2-1,6 7-1z"/>
<path color="#4974b0" d="M1640,249l-8-8-1,11 8,3z"/>
<path color="#3d5370" d="M1632,241l-7,28 6-17z"/>
<path color="#3c4685" d="M1626,266l-7,7-1,7 7-11z"/>
<path color="#393a7d" d="M1619,273l-7,13-2,4 8-10z"/>
<path color="#392462" d="M1612,286l-7,14-2,4 7-14z"/>
<path color="#442d93" d="M1605,300l-8-3-1,10 7-3z"/>
<path color="#411e60" d="M1597,297l-8,26 7-16z"/>
<path color="#4f1c81" d="M1590,319l-8,1-2,3 9,0z"/>
<path color="#d22818" d="M1790,65l-34,21-1,31 33-22z"/>
<path color="#d3331a" d="M1756,86l-11,10-2,33 12-12z"/>
<path color="#d6401d" d="M1745,96l-12,8-2,33 12-8z"/>
<path color="#d5351b" d="M1733,104l-13,3-1,32 12-2z"/>
<path color="#d22818" d="M1720,107l-13,8-1,32 13-8z"/>
<path color="#cf712a" d="M1707,115l-12,54-1,22 12-44z"/>
<path color="#6a7854" d="M1695,169l-7,45 6-23z"/>
<path color="#5783a6" d="M1689,205l-6-5-2,12 7,2z"/>
<path color="#4b6a79" d="M1683,200l-7,19-1,10 6-17z"/>
<path color="#476d9a" d="M1676,219l-6,2-7,8-2,12 7-4 7-8z"/>
<path color="#363f6c" d="M1663,229l-6,26-2,1 6-15z"/>
<path color="#3a46b6" d="M1657,255l-8-9-1,5 7,5z"/>
<path color="#4467ab" d="M1649,246l-7-4-2,7 8,2z"/>
<path color="#598cb7" d="M1642,242l-8-16-2,15 8,8z"/>
<path color="#465f6e" d="M1634,226l-6,34-2,6 6-25z"/>
<path color="#425e97" d="M1628,260l-8,2-1,11 7-7z"/>
<path color="#3c4979" d="M1620,262l-7,18-1,6 7-13z"/>
<path color="#383372" d="M1613,280l-7,13-1,7 7-14z"/>
<path color="#3f49af" d="M1606,293l-8-9-1,13 8,3z"/>
<path color="#392e6a" d="M1598,284l-8,35 7-22z"/>
<path color="#432389" d="M1591,313l-8,2-1,5 8-1z"/>
<path color="#d01e16" d="M1790,60l-33,20-12,10-12,8-13,3-12,8-1,6 13-8 13-3 12-8 11-10 34-21z"/>
<path color="#ca3618" d="M1708,109l-13,56 0,4 12-54z"/>
<path color="#87783c" d="M1695,165l-6,40 6-36z"/>
<path color="#6f918c" d="M1690,203l-7-6 0,3 6,5z"/>
<path color="#5b746c" d="M1683,197l-7,22 7-19z"/>
<path color="#547f9d" d="M1677,217l-7,1 0,3 6-2z"/>
<path color="#517992" d="M1670,218l-7,9 0,2 7-8z"/>
<path color="#223196" d="M1663,227l-6,28 6-26z"/>
<path color="#3b4ebe" d="M1657,255l-7-10-1,1 8,9z"/>
<path color="#4a71ae" d="M1650,245l-8-5 0,2 7,4z"/>
<path color="#769d94" d="M1642,240l-8-17 0,3 8,16z"/>
<path color="#4f6465" d="M1634,223l-6,37 6-34z"/>
<path color="#486d9f" d="M1628,259l-8,1 0,2 8-2z"/>
<path color="#3e5274" d="M1620,260l-7,20 7-18z"/>
<path color="#393d78" d="M1614,279l-8,13 0,1 7-13z"/>
<path color="#435cb9" d="M1606,292l-8-11 0,3 8,9z"/>
<path color="#353a6e" d="M1598,281l-7,32 7-29z"/>
<path color="#412c8b" d="M1592,312l-8,2-1,1 8-2z"/>
<path class="m" d="M1790,60l-4,56M1779,66l-4,57M1768,73l-4,57M1757,80l-4,58M1745,90l-3,61M1733,98l-3,62M1720,101l-3,60M1708,109l-3,60M1695,165l-2,41M1683,197l-3,23M1670,218l-3,30M1657,255l-4,2M1642,240l-3,15M1628,259l-3,10M1614,279l-4,11M1598,281l-2,26"/>
<path class="m" d="M1790,60l-33,20-12,10-12,8-13,3-12,8-13,56-5,38-7-6-6,20-7,1-7,9-6,28-7-10-8-5-8-17-6,36-8,1-6,19-8,13-8-11-6,31-8,2"/>
<path color="#920d0f" d="M1791,59l-33,20 32-19z"/>
<path color="#bb1713" d="M1758,79l-12,7-1,4 12-10z"/>
<path color="#c31915" d="M1746,86l-26,15 13-3 12-8z"/>
<path color="#950d0f" d="M1721,100l-13,8 12-7z"/>
<path color="#b61710" d="M1708,108l-12,46-1,11 13-56z"/>
<path color="#937234" d="M1696,154l-6,49 5-38z"/>
<path color="#7f9977" d="M1691,199l-7-7-1,5 7,6z"/>
<path color="#6a785a" d="M1684,192l-7,20 0,5 6-20z"/>
<path color="#5d889a" d="M1677,212l-7-1 0,7 7-1z"/>
<path color="#59808b" d="M1670,211l-6,10-1,6 7-9z"/>
<path color="#2337a1" d="M1664,221l-6,33-1,1 6-28z"/>
<path color="#3c51c2" d="M1658,254l-8-11 0,2 7,10z"/>
<path color="#4d75b0" d="M1650,243l-7-6-1,3 8,5z"/>
<path color="#88a57b" d="M1643,237l-9-22 0,8 8,17z"/>
<path color="#374372" d="M1634,215l-6,44 6-36z"/>
<path color="#4c72a1" d="M1629,256l-8-1-1,5 8-1z"/>
<path color="#3e5670" d="M1621,255l-7,24 6-19z"/>
<path color="#3a4279" d="M1614,276l-7,13-1,3 8-13z"/>
<path color="#4567bf" d="M1607,289l-9-15 0,7 8,11z"/>
<path color="#363f6e" d="M1598,274l-6,38 6-31z"/>
<path color="#3f308c" d="M1592,309l-8,3 0,2 8-2z"/>
<path class="m" d="M1791,59l-1,1M1780,65l-1,1M1769,72l-1,1M1758,79l-1,1M1746,86l-1,4M1734,93l-1,5M1721,100l-1,1M1708,108l0,1M1696,154l-1,11M1684,192l-1,5M1670,211l0,7M1658,254l-1,1M1643,237l-1,3M1629,256l-1,3M1614,276l0,3M1598,274l0,7"/>
<path color="#d9d9d9" d="M1793,59l-83,50-2-1 83-49z"/>
<path color="#b51610" d="M1710,109l-13,30-1,15 12-46z"/>
<path color="#65413a" d="M1697,139l-5,54-1,6 5-45z"/>
<path color="#979963" d="M1692,193l-7-10-1,9 7,7z"/>
<path color="#7e753f" d="M1685,183l-6,22-2,7 7-20z"/>
<path color="#81976f" d="M1679,205l-7-6-2,12 7,1z"/>
<path color="#7b8859" d="M1672,199l-7,14-1,8 6-10z"/>
<path color="#2645bb" d="M1665,213l-6,40-1,1 6-33z"/>
<path color="#3a52c7" d="M1659,253l-7-14-2,4 8,11z"/>
<path color="#5179b3" d="M1652,239l-8-8-1,6 7,6z"/>
<path color="#9fa36c" d="M1644,231l-9-27-1,11 9,22z"/>
<path color="#465063" d="M1635,204l-5,48-1,4 5-41z"/>
<path color="#527aa7" d="M1630,252l-8-5-1,8 8,1z"/>
<path color="#40556c" d="M1622,247l-8,29 7-21z"/>
<path color="#3a4674" d="M1616,272l-8,12-1,5 7-13z"/>
<path color="#4878ca" d="M1608,284l-9-19-1,9 9,15z"/>
<path color="#22339f" d="M1599,265l-5,39-2,5 6-35z"/>
<path color="#3b348b" d="M1594,304l-8,5-2,3 8-3z"/>
<path color="#d9d9d9" d="M1794,60l-82,49-2,0 83-50z"/>
<path color="#73141b" d="M1712,109l-15,30 13-30z"/>
<path color="#7c5d4b" d="M1699,136l-6,56-1,1 5-54z"/>
<path color="#7d6058" d="M1693,192l-7-10-1,1 7,10z"/>
<path color="#5a6f6e" d="M1686,182l-6,22-1,1 6-22z"/>
<path color="#79675f" d="M1680,204l-7-7-1,2 7,6z"/>
<path color="#51595e" d="M1673,197l-6,15-2,1 7-14z"/>
<path color="#356ffc" d="M1667,212l-6,41-2,0 6-40z"/>
<path color="#2b3fc0" d="M1661,253l-8-14-1,0 7,14z"/>
<path color="#3c4fae" d="M1653,239l-7-9-2,1 8,8z"/>
<path color="#826f61" d="M1646,230l-9-28-2,2 9,27z"/>
<path color="#627d80" d="M1637,202l-5,50-2,0 5-48z"/>
<path color="#4150a3" d="M1632,252l-8-6-2,1 8,5z"/>
<path color="#316dec" d="M1624,246l-7,26-1,0 6-25z"/>
<path color="#2a5ad2" d="M1617,272l-7,11-2,1 8-12z"/>
<path color="#3956cd" d="M1610,283l-9-20-2,2 9,19z"/>
<path color="#2c5ff7" d="M1601,263l-6,41-1,0 5-39z"/>
<path color="#263695" d="M1595,304l-8,5-1,0 8-5z"/>
<path color="#d9d9d9" d="M1796,60l-83,49-1,0 82-49z"/>
<path color="#fd2b22" d="M1713,109l-12,41-2-14 13-27z"/>
<path color="#f6bc5f" d="M1701,150l-6,48-2-6 6-56z"/>
<path color="#a7aa4c" d="M1695,198l-7-8-2-8 7,10z"/>
<path color="#bce386" d="M1688,190l-6,21-2-7 6-22z"/>
<path color="#9bbb63" d="M1682,211l-7-3-2-11 7,7z"/>
<path color="#aad982" d="M1675,208l-7,12-1-8 6-15z"/>
<path color="#56aeff" d="M1668,220l-5,35-2-2 6-41z"/>
<path color="#1d2891" d="M1663,255l-8-12-2-4 8,14z"/>
<path color="#57938d" d="M1655,243l-8-7-1-6 7,9z"/>
<path color="#958a3e" d="M1647,236l-8-23-2-11 9,28z"/>
<path color="#a9db9b" d="M1639,213l-6,44-1-5 5-50z"/>
<path color="#5fa19e" d="M1633,257l-7-3-2-8 8,6z"/>
<path color="#63c2ff" d="M1626,254l-7,22-2-4 7-26z"/>
<path color="#559bf8" d="M1619,276l-7,13-2-6 7-11z"/>
<path color="#467485" d="M1612,289l-9-16-2-10 9,20z"/>
<path color="#53a1ff" d="M1603,273l-6,36-2-5 6-41z"/>
<path color="#4c64cc" d="M1597,309l-8,4-2-4 8-5z"/>
<path color="#d9d9d9" d="M1797,60l-83,50-1-1 83-49z"/>
<path color="#fb2a22" d="M1714,110l-12,48-1-8 12-41z"/>
<path color="#e5cc6b" d="M1702,158l-6,44-1-4 6-48z"/>
<path color="#99b45e" d="M1696,202l-7-7-1-5 7,8z"/>
<path color="#a2de92" d="M1689,195l-6,20-1-4 6-21z"/>
<path color="#7fb48d" d="M1683,215l-7-1-1-6 7,3z"/>
<path color="#85c4a5" d="M1676,214l-7,11-1-5 7-12z"/>
<path color="#55acff" d="M1669,225l-6,31 0-1 5-35z"/>
<path color="#3a5f88" d="M1663,256l-7-10-1-3 8,12z"/>
<path color="#589496" d="M1656,246l-8-7-1-3 8,7z"/>
<path color="#90994a" d="M1648,239l-8-20-1-6 8,23z"/>
<path color="#99deaf" d="M1640,219l-6,40-1-2 6-44z"/>
<path color="#5c9faf" d="M1634,259l-7-1-1-4 7,3z"/>
<path color="#5cb1fb" d="M1627,258l-7,21-1-3 7-22z"/>
<path color="#5288ed" d="M1620,279l-7,13-1-3 7-13z"/>
<path color="#48728b" d="M1613,292l-9-14-1-5 9,16z"/>
<path color="#518dff" d="M1604,278l-6,34-1-3 6-36z"/>
<path color="#4e55be" d="M1598,312l-8,3-1-2 8-4z"/>
<path class="m" d="M1797,60l-6-1M1786,67l-6-2M1774,74l-5-2M1763,80l-5-1M1751,87l-5-1M1739,95l-5-2M1727,102l-6-2M1714,110l-6-2M1702,158l-3-22-2,3-1,15M1689,195l-3-13-1,1-1,9M1676,214l-3-17-1,2-2,12M1663,256l-2-3-2,0-1,1M1648,239l-2-9-2,1-1,6M1634,259l-2-7-2,0-1,4M1620,279l-3-7-1,0-2,4M1604,278l-3-15-2,2-1,9"/>
<path color="#f1271c" d="M1797,64l-33,21-12,10-12,8-12,3-13,8-1-4 83-50z"/>
<path color="#fa3723" d="M1715,114l-12,55-1-11 12-48z"/>
<path color="#cbd676" d="M1703,169l-6,38-1-5 6-44z"/>
<path color="#86b276" d="M1697,207l-7-6-1-6 7,7z"/>
<path color="#88cfb8" d="M1690,201l-6,20-1-6 6-20z"/>
<path color="#66abb5" d="M1684,221l-7,1-1-8 7,1z"/>
<path color="#68b3c8" d="M1677,222l-7,9-1-6 7-11z"/>
<path color="#54a2ff" d="M1670,231l-6,27-1-2 6-31z"/>
<path color="#3d608b" d="M1664,258l-7-9-1-3 7,10z"/>
<path color="#55929f" d="M1657,249l-8-5-1-5 8,7z"/>
<path color="#829d59" d="M1649,244l-8-17-1-8 8,20z"/>
<path color="#82d2d5" d="M1641,227l-6,35-1-3 6-40z"/>
<path color="#589bb9" d="M1635,262l-7,2-1-6 7,1z"/>
<path color="#57a5f6" d="M1628,264l-7,19-1-4 7-21z"/>
<path color="#4f7cea" d="M1621,283l-7,13-1-4 7-13z"/>
<path color="#476a95" d="M1614,296l-9-11-1-7 9,14z"/>
<path color="#4f7cff" d="M1605,285l-6,31-1-4 6-34z"/>
<path color="#4f4ab5" d="M1599,316l-8,2-1-3 8-3z"/>
<path color="#eb241a" d="M1798,91l-33,21-11,12-12,8-13,2-12,8-2-28 13-8 12-3 12-8 12-10 33-21z"/>
<path color="#ff9335" d="M1717,142l-12,47-2-20 12-55z"/>
<path color="#9ed897" d="M1705,189l-6,26-2-8 6-38z"/>
<path color="#65a6a7" d="M1699,215l-7-3-2-11 7,6z"/>
<path color="#68bbe3" d="M1692,212l-6,18-2-9 6-20z"/>
<path color="#589bc6" d="M1686,230l-7,7-7,5-2-11 7-9 7-1z"/>
<path color="#5290ff" d="M1672,242l-6,18-2-2 6-27z"/>
<path color="#3e5e90" d="M1666,260l-7-6-2-5 7,9z"/>
<path color="#508ea9" d="M1659,254l-8-2-2-8 8,5z"/>
<path color="#62988c" d="M1651,252l-8-11-2-14 8,17z"/>
<path color="#68c0f9" d="M1643,241l-6,27-2-6 6-35z"/>
<path color="#5292c7" d="M1637,268l-7,6-2-10 7-2z"/>
<path color="#538ded" d="M1630,274l-7,15-2-6 7-19z"/>
<path color="#4e6be9" d="M1623,289l-7,14-2-7 7-13z"/>
<path color="#455ba0" d="M1616,303l-8-5-3-13 9,11z"/>
<path color="#4f61f0" d="M1608,298l-7,24-2-6 6-31z"/>
<path color="#523ba8" d="M1601,322l-8,1-2-5 8-2z"/>
<path color="#f69739" d="M1800,113l-33,22-12,14-1-25 11-12 33-21z"/>
<path color="#f2a342" d="M1755,149l-12,8-1-25 12-8z"/>
<path color="#f39b3c" d="M1743,157l-12,2-2-25 13-2z"/>
<path color="#f69538" d="M1731,159l-12,8-2-25 12-8z"/>
<path color="#d2c35f" d="M1719,167l-13,39-1-17 12-47z"/>
<path color="#67b8e2" d="M1706,206l-6,17-1-8 6-26z"/>
<path color="#5899b3" d="M1700,223l-6-1-2-10 7,3z"/>
<path color="#58a7ec" d="M1694,222l-7,17-1-9 6-18z"/>
<path color="#4f7fd0" d="M1687,239l-6,11-2-13 7-7z"/>
<path color="#4d75c1" d="M1681,250l-7,2-2-10 7-5z"/>
<path color="#4f79f5" d="M1674,252l-7,10-1-2 6-18z"/>
<path color="#3f5b95" d="M1667,262l-7-3-1-5 7,6z"/>
<path color="#4d82b2" d="M1660,259l-7-1-2-6 8,2z"/>
<path color="#548fa2" d="M1653,258l-8-4-2-13 8,11z"/>
<path color="#59abf9" d="M1645,254l-6,20-2-6 6-27z"/>
<path color="#5080d7" d="M1639,274l-7,10-2-10 7-6z"/>
<path color="#4d72e5" d="M1632,284l-7,11-2-6 7-15z"/>
<path color="#5357e5" d="M1625,295l-7,14-2-6 7-14z"/>
<path color="#4c45a3" d="M1618,309l-8,1-2-12 8,5z"/>
<path color="#5642d9" d="M1610,310l-7,18-2-6 7-24z"/>
<path color="#5c2f96" d="M1603,328l-8,0-2-5 8-1z"/>
<path color="#babd5f" d="M1801,132l-33,22-1-19 33-22z"/>
<path color="#aec16a" d="M1768,154l-11,14-2-19 12-14z"/>
<path color="#9fc070" d="M1757,168l-12,9-2-20 12-8z"/>
<path color="#abbc65" d="M1745,177l-12,1-2-19 12-2z"/>
<path color="#babd5f" d="M1733,178l-12,9-2-20 12-8z"/>
<path color="#80c0ae" d="M1721,187l-13,32-2-13 13-39z"/>
<path color="#559cdf" d="M1708,219l-6,10-2-6 6-17z"/>
<path color="#508abd" d="M1702,229l-7,1-1-8 6,1z"/>
<path color="#538df2" d="M1695,230l-6,16-2-7 7-17z"/>
<path color="#4d63db" d="M1689,246l-6,14-2-10 6-11z"/>
<path color="#4b53b3" d="M1683,260l-7,0-2-8 7-2z"/>
<path color="#4f63da" d="M1676,260l-7,4-2-2 7-10z"/>
<path color="#3f589c" d="M1669,264l-7-1-2-4 7,3z"/>
<path color="#4b77ba" d="M1662,263l-7,1-2-6 7,1z"/>
<path color="#4e83b2" d="M1655,264l-8,1-2-11 8,4z"/>
<path color="#5392f4" d="M1647,265l-6,13-2-4 6-20z"/>
<path color="#4d71ea" d="M1641,278l-7,13-2-7 7-10z"/>
<path color="#505cd8" d="M1634,291l-8,8-1-4 7-11z"/>
<path color="#5746e5" d="M1626,299l-7,15-1-5 7-14z"/>
<path color="#5833a5" d="M1619,314l-7,5-2-9 8-1z"/>
<path color="#6b32c2" d="M1612,319l-7,14-2-5 7-18z"/>
<path color="#662784" d="M1605,333l-9-1-1-4 8,0z"/>
<path class="m" d="M1801,132l-4-68 0-4M1790,139l-4-68 0-4M1779,146l-4-68-1-4M1768,154l-4-69-1-5M1757,168l-5-73-1-8M1745,177l-5-74-1-8M1733,178l-5-72-1-4M1721,187l-6-73-1-4M1708,219l-6-61M1695,230l-6-35M1683,260l-7-46M1669,264l-6-8M1655,264l-7-25M1641,278l-7-19M1626,299l-6-20M1612,319l-8-41"/>
<path color="#6eb1b2" d="M1802,145l-32,23-2-14 33-22z"/>
<path color="#65acc3" d="M1770,168l-12,15-1-15 11-14z"/>
<path color="#5da0c0" d="M1758,183l-11,9-2-15 12-9z"/>
<path color="#62a4b6" d="M1747,192l-12,1-2-15 12-1z"/>
<path color="#6eb1b3" d="M1735,193l-13,8-1-14 12-9z"/>
<path color="#5aa3db" d="M1722,201l-12,29-2-11 13-32z"/>
<path color="#4f7dd2" d="M1710,230l-6,3-2-4 6-10z"/>
<path color="#4d7cc5" d="M1704,233l-7,3-2-6 7-1z"/>
<path color="#4f7afc" d="M1697,236l-6,15-2-5 6-16z"/>
<path color="#554cdf" d="M1691,251l-6,17-2-8 6-14z"/>
<path color="#50389e" d="M1685,268l-7-2-2-6 7,0z"/>
<path color="#4d4fb6" d="M1678,266l-7,0-2-2 7-4z"/>
<path color="#3f54a0" d="M1671,266l-7,0-2-3 7,1z"/>
<path color="#4b73c3" d="M1664,266l-7,2-8,4-2-7 8-1 7-1z"/>
<path color="#507eef" d="M1649,272l-7,10-1-4 6-13z"/>
<path color="#5165f8" d="M1642,282l-6,15-2-6 7-13z"/>
<path color="#544bcc" d="M1636,297l-8,6-2-4 8-8z"/>
<path color="#5f3ee8" d="M1628,303l-7,15-2-4 7-15z"/>
<path color="#6e2da7" d="M1621,318l-7,8-2-7 7-5z"/>
<path color="#7e28b0" d="M1614,326l-8,11-1-4 7-14z"/>
<path color="#692073" d="M1606,337l-8-2-2-3 9,1z"/>
<path color="#579bc7" d="M1804,155l-33,23-1-10 32-23z"/>
<path color="#5393d1" d="M1771,178l-11,16-2-11 12-15z"/>
<path color="#4f81c7" d="M1760,194l-12,9-1-11 11-9z"/>
<path color="#5089bc" d="M1748,203l-12,0-1-10 12-1z"/>
<path color="#579bc7" d="M1736,203l-12,8-2-10 13-8z"/>
<path color="#5187e3" d="M1724,211l-12,26-2-7 12-29z"/>
<path color="#4965c0" d="M1712,237l-7,0-1-4 6-3z"/>
<path color="#4b74cf" d="M1705,237l-6,4-2-5 7-3z"/>
<path color="#506dff" d="M1699,241l-7,14-1-4 6-15z"/>
<path color="#5d3de6" d="M1692,255l-6,19-1-6 6-17z"/>
<path color="#5a2b86" d="M1686,274l-7-4-1-4 7,2z"/>
<path color="#453c90" d="M1679,270l-8-4 7,0z"/>
<path color="#3d50a3" d="M1672,267l-7,1-1-2 7,0z"/>
<path color="#496ed2" d="M1665,268l-7,3-7,7-2-6 8-4 7-2z"/>
<path color="#4d70e8" d="M1651,278l-7,6-2-2 7-10z"/>
<path color="#535aff" d="M1644,284l-7,17-1-4 6-15z"/>
<path color="#553fc2" d="M1637,301l-7,4-2-2 8-6z"/>
<path color="#6539ea" d="M1630,305l-7,16-2-3 7-15z"/>
<path color="#7e29ae" d="M1623,321l-7,10-2-5 7-8z"/>
<path color="#8c25a4" d="M1616,331l-8,9-2-3 8-11z"/>
<path color="#641b6d" d="M1608,340l-8-3-2-2 8,2z"/>
<path color="#5086cd" d="M1805,161l-32,24-2-7 33-23z"/>
<path color="#4f7cdb" d="M1773,185l-12,16-1-7 11-16z"/>
<path color="#4a67cc" d="M1761,201l-11,9-2-7 12-9z"/>
<path color="#4b6fb9" d="M1750,210l-12,0-2-7 12,0z"/>
<path color="#5086cd" d="M1738,210l-12,8-2-7 12-8z"/>
<path color="#4e73ef" d="M1726,218l-13,24-1-5 12-26z"/>
<path color="#4750a0" d="M1713,242l-6-3-2-2 7,0z"/>
<path color="#4a6fda" d="M1707,239l-7,5-1-3 6-4z"/>
<path color="#5063ff" d="M1700,244l-6,14-2-3 7-14z"/>
<path color="#6536e9" d="M1694,258l-6,20-2-4 6-19z"/>
<path color="#5d2375" d="M1688,278l-7-5-2-3 7,4z"/>
<path color="#1d1075" d="M1681,273l-9-6 7,3z"/>
<path color="#384aa4" d="M1674,268l-7,1-2-1 7-1z"/>
<path color="#4566cf" d="M1667,269l-7,5-2-3 7-3z"/>
<path color="#4e6ced" d="M1660,274l-7,8-2-4 7-7z"/>
<path color="#4d64d8" d="M1653,282l-7,4-2-2 7-6z"/>
<path color="#4f4fff" d="M1646,286l-7,18-2-3 7-17z"/>
<path color="#5539b3" d="M1639,304l-7,3-2-2 7-4z"/>
<path color="#6334e8" d="M1632,307l-7,16-2-2 7-16z"/>
<path color="#8627b7" d="M1625,323l-8,12-1-4 7-10z"/>
<path color="#92249b" d="M1617,335l-7,7-2-2 8-9z"/>
<path color="#581866" d="M1610,342l-8-3-2-2 8,3z"/>
<path color="#4e7bd4" d="M1806,164l-33,23 0-2 32-24z"/>
<path color="#4d71e7" d="M1773,187l-11,16-1-2 12-16z"/>
<path color="#4f5acb" d="M1762,203l-11,10-1-3 11-9z"/>
<path color="#4861b7" d="M1751,213l-12-1-1-2 12,0z"/>
<path color="#4e7bd4" d="M1739,212l-13,9 0-3 12-8z"/>
<path color="#5069f7" d="M1726,221l-12,23-1-2 13-24z"/>
<path color="#404391" d="M1714,244l-7-5 6,3z"/>
<path color="#486ade" d="M1708,240l-7,5-1-1 7-5z"/>
<path color="#4d5bff" d="M1701,245l-6,14-1-1 6-14z"/>
<path color="#6431e7" d="M1695,259l-6,20-1-1 6-20z"/>
<path color="#571e6f" d="M1689,279l-7-4-1-2 7,5z"/>
<path color="#1d1184" d="M1682,275l-8-7 7,5z"/>
<path color="#3245a3" d="M1675,268l-7,2-1-1 7-1z"/>
<path color="#405ecc" d="M1668,270l-7,4-1,0 7-5z"/>
<path color="#4d69fb" d="M1661,274l-7,9-1-1 7-8z"/>
<path color="#475ac6" d="M1654,283l-7,4-1-1 7-4z"/>
<path color="#4946ff" d="M1647,287l-7,18-1-1 7-18z"/>
<path color="#5033a3" d="M1640,305l-8,3 0-1 7-3z"/>
<path color="#5d2fe3" d="M1632,308l-6,16-1-1 7-16z"/>
<path color="#8526ba" d="M1626,324l-8,12-1-1 8-12z"/>
<path color="#8d2392" d="M1618,336l-7,6-1,0 7-7z"/>
<path color="#2f095d" d="M1611,342l-9-3 8,3z"/>
<path class="m" d="M1806,164l-2-9-3-23M1795,171l-2-9-3-23M1784,179l-2-9-3-24M1773,187l-2-9-3-24M1762,203l-2-9-3-26M1751,213l-3-10-3-26M1739,212l-3-9-3-25M1726,221l-2-10-3-24M1714,244l-2-7-4-18M1701,245l-2-4-4-11M1689,279l-3-5-3-14M1675,268l-3-1-3-3M1661,274l-3-3-3-7M1647,287l-3-3-3-6M1632,308l-2-3-4-6M1618,336l-2-5-4-12"/>
<path class="m" d="M1806,164l-33,23-11,16-11,10-12-1-13,9-12,23-6-4-7,5-6,14-6,20-7-4-7-7-7,2-7,4-7,9-7,4-7,18-8,3-6,16-8,12-7,6-8-3"/>
<path color="#4d78d9" d="M1806,165l-32,24-1-2 33-23z"/>
<path color="#4f6dee" d="M1774,189l-11,16-1-2 11-16z"/>
<path color="#5155cd" d="M1763,205l-12,9 0-1 11-10z"/>
<path color="#485bb2" d="M1751,214l-12,0 0-2 12,1z"/>
<path color="#4d78d9" d="M1739,214l-12,9-1-2 13-9z"/>
<path color="#5265fd" d="M1727,223l-12,22-1-1 12-23z"/>
<path color="#393a8b" d="M1715,245l-7-5 6,4z"/>
<path color="#4466dd" d="M1708,241l-6,4-1,0 7-5z"/>
<path color="#4a56ff" d="M1702,245l-6,15-1-1 6-14z"/>
<path color="#612de4" d="M1696,260l-7,20 0-1 6-20z"/>
<path color="#290a60" d="M1689,280l-7-5 7,4z"/>
<path color="#1e118b" d="M1683,275l-8-7 7,7z"/>
<path color="#2f41a1" d="M1675,268l-7,2 7-2z"/>
<path color="#3b59c8" d="M1668,270l-7,5 0-1 7-4z"/>
<path color="#4a65ff" d="M1661,275l-6,9-1-1 7-9z"/>
<path color="#4252b7" d="M1655,284l-8,3 7-4z"/>
<path color="#4542ff" d="M1647,287l-6,19-1-1 7-18z"/>
<path color="#4a2e97" d="M1641,306l-8,2-1,0 8-3z"/>
<path color="#592ddf" d="M1633,308l-7,16 6-16z"/>
<path color="#7f25ba" d="M1626,324l-7,13-1-1 8-12z"/>
<path color="#86218b" d="M1619,337l-8,6 0-1 7-6z"/>
<path color="#2f0961" d="M1611,343l-8-4 8,3z"/>
<path color="#4b75e0" d="M1808,168l-33,23-1-2 32-24z"/>
<path color="#506af8" d="M1775,191l-11,16-1-2 11-16z"/>
<path color="#5251d1" d="M1764,207l-11,10-2-3 12-9z"/>
<path color="#4754a9" d="M1753,217l-12-1-2-2 12,0z"/>
<path color="#4b75e0" d="M1741,216l-12,9-2-2 12-9z"/>
<path color="#5161ff" d="M1729,225l-13,22-1-2 12-22z"/>
<path color="#1c1482" d="M1716,247l-8-6 7,4z"/>
<path color="#3e5ed8" d="M1710,241l-7,6-1-2 6-4z"/>
<path color="#454fff" d="M1703,247l-6,14-1-1 6-15z"/>
<path color="#5b29de" d="M1697,261l-6,21-2-2 7-20z"/>
<path color="#2a0a68" d="M1691,282l-8-7 6,5z"/>
<path color="#221391" d="M1684,276l-7-7-2-1 8,7z"/>
<path color="#2c3d9e" d="M1677,269l-7,2-2-1 7-2z"/>
<path color="#3551c0" d="M1670,271l-7,5-2-1 7-5z"/>
<path color="#455efe" d="M1663,276l-7,10-1-2 6-9z"/>
<path color="#3947a5" d="M1656,286l-7,2-2-1 8-3z"/>
<path color="#413dfe" d="M1649,288l-7,19-1-1 6-19z"/>
<path color="#41298f" d="M1642,307l-7,2-2-1 8-2z"/>
<path color="#532ad9" d="M1635,309l-7,16-2-1 7-16z"/>
<path color="#7522b6" d="M1628,325l-7,13-2-1 7-13z"/>
<path color="#781e81" d="M1621,338l-8,6-2-1 8-6z"/>
<path color="#350a64" d="M1613,344l-10-4 8,3z"/>
<path color="#335ac9" d="M1814,170l-32,24-7-3 33-23z"/>
<path color="#3b55f3" d="M1782,194l-12,16-6-3 11-16z"/>
<path color="#3a3ebf" d="M1770,210l-11,9-6-2 11-10z"/>
<path color="#2c3a97" d="M1759,219l-12,0-6-3 12,1z"/>
<path color="#335ac9" d="M1747,219l-12,9-6-3 12-9z"/>
<path color="#3a4bf5" d="M1735,228l-12,21-7-2 13-22z"/>
<path color="#261b9b" d="M1723,249l-7-7-6-1 6,6z"/>
<path color="#2b44b4" d="M1716,242l-6,5-7,0 7-6z"/>
<path color="#323fef" d="M1710,247l-6,14-7,0 6-14z"/>
<path color="#4722ce" d="M1704,261l-7,22-6-1 6-21z"/>
<path color="#390d79" d="M1697,283l-6-6-7-1 7,6z"/>
<path color="#2a189d" d="M1691,277l-8-9-6,1 7,7z"/>
<path color="#283695" d="M1683,268l-6,3-7,0 7-2z"/>
<path color="#2a3fa3" d="M1677,271l-7,5-7,0 7-5z"/>
<path color="#2f47e1" d="M1670,276l-7,11-7-1 7-10z"/>
<path color="#231876" d="M1663,287l-8,1-6,0 7-2z"/>
<path color="#3334ec" d="M1655,288l-6,20-7-1 7-19z"/>
<path color="#2a0f66" d="M1649,308l-8,1-6,0 7-2z"/>
<path color="#3f23c9" d="M1641,309l-7,17-6-1 7-16z"/>
<path color="#531aa4" d="M1634,326l-7,14-6-2 7-13z"/>
<path color="#521565" d="M1627,340l-7,4-7,0 8-6z"/>
<path color="#420c6e" d="M1620,344l-9-3-6-1 8,4z"/>
<path color="#24338f" d="M1820,167l-32,24-6,3 32-24z"/>
<path color="#2634b2" d="M1788,191l-11,16-7,3 12-16z"/>
<path color="#272486" d="M1777,207l-11,10-7,2 11-9z"/>
<path color="#2d228a" d="M1766,217l-12-1-7,3 12,0z"/>
<path color="#24338f" d="M1754,216l-12,9-7,3 12-9z"/>
<path color="#2733bc" d="M1742,225l-13,21-6,3 12-21z"/>
<path color="#2e25a8" d="M1729,246l-6-7-7,3 7,7z"/>
<path color="#243390" d="M1723,239l-6,6-7,2 6-5z"/>
<path color="#2736d0" d="M1717,245l-7,13-6,3 6-14z"/>
<path color="#301ec4" d="M1710,258l-6,22-7,3 7-22z"/>
<path color="#401286" d="M1704,280l-7-5-6,2 6,6z"/>
<path color="#2f21a8" d="M1697,275l-7-10-7,3 8,9z"/>
<path color="#2b2379" d="M1690,265l-7,3z"/>
<path color="#292067" d="M1683,268l-7,5-6,3 7-5z"/>
<path color="#2538bb" d="M1676,273l-7,11-6,3 7-11z"/>
<path color="#2c2488" d="M1669,284l-7,1-7,3 8-1z"/>
<path color="#2731da" d="M1662,285l-7,20-6,3 6-20z"/>
<path color="#311576" d="M1655,305l-7,2-7,2 8-1z"/>
<path color="#2e1fbb" d="M1648,307l-7,16-7,3 7-17z"/>
<path color="#3d1595" d="M1641,323l-7,14-7,3 7-14z"/>
<path color="#4c0a4a" d="M1634,337l-8,5-6,2 7-4z"/>
<path color="#46107a" d="M1626,342l-8-4-7,3 9,3z"/>
<path class="m" d="M1820,167l-6,3-6-2-2-4M1810,175l-7,3-6-3-2-4M1799,183l-6,3-7-3-2-4M1788,191l-6,3-7-3-2-4M1777,207l-7,3-6-3-2-4M1766,217l-7,2-6-2-2-4M1754,216l-7,3-6-3-2-4M1742,225l-7,3-6-3-3-4M1729,246l-6,3-7-2-2-3M1717,245l-7,2-7,0-2-2M1704,280l-7,3-6-1-2-3M1690,265l-7,3-6,1-2-1M1676,273l-6,3-7,0-2-2M1662,285l-7,3-6,0-2-1M1648,307l-7,2-6,0-3-1M1634,337l-7,3-6-2-3-2"/>
<path color="#2f296e" d="M1822,166l-2,1z"/>
<path color="#232e9c" d="M1790,189l-11,17-2,1 11-16z"/>
<path color="#2e1d66" d="M1779,206l-11,9 9-8z"/>
<path color="#2f2a90" d="M1768,215l-12,0-2,1 12,1z"/>
<path color="#2f296e" d="M1756,215l-2,1z"/>
<path color="#222ea9" d="M1744,224l-13,21-2,1 13-21z"/>
<path color="#2f2eaf" d="M1731,245l-6-8-2,2 6,7z"/>
<path color="#2e2667" d="M1725,237l-6,6 4-4z"/>
<path color="#2333c0" d="M1719,243l-7,14-2,1 7-13z"/>
<path color="#281ec3" d="M1712,257l-6,22-2,1 6-22z"/>
<path color="#3d1690" d="M1706,279l-7-6-2,2 7,5z"/>
<path color="#312ab1" d="M1699,273l-7-9-2,1 7,10z"/>
<path color="#302b7e" d="M1692,264l-7,3-2,1 7-3z"/>
<path color="#2f296e" d="M1685,267l-2,1z"/>
<path color="#2332a5" d="M1678,272l-7,11-2,1 7-11z"/>
<path color="#302b8d" d="M1671,283l-7,1-2,1 7-1z"/>
<path color="#2432d0" d="M1664,284l-7,19-2,2 7-20z"/>
<path color="#331c7e" d="M1657,303l-7,2-2,2 7-2z"/>
<path color="#271fb2" d="M1650,305l-7,17-2,1 7-16z"/>
<path color="#33148e" d="M1643,322l-7,14-2,1 7-14z"/>
<path color="#4a0c55" d="M1636,336l-8,4 6-3z"/>
<path color="#431384" d="M1628,340l-8-3-2,1 8,4z"/>
<path class="m" d="M1822,166l-2,1M1812,173l-2,2M1801,181l-2,2M1790,189l-2,2M1779,206l-2,1M1768,215l-2,2M1756,215l-2,1M1744,224l-2,1M1731,245l-2,1M1719,243l-2,2M1706,279l-2,1M1692,264l-2,1M1678,272l-2,1M1664,284l-2,1M1650,305l-2,2M1636,336l-2,1"/>
<path class="m" d="M1822,166l-32,23-11,17-11,9-12,0-12,9-13,21-6-8-6,6-7,14-6,22-7-6-7-9-7,3-7,5-7,11-7,1-7,19-7,2-7,17-7,14-8,4-8-3"/>
<path color="#343575" d="M1827,161l-32,24-5,4 32-23z"/>
<path color="#222d8e" d="M1795,185l-11,16-5,5 11-17z"/>
<path color="#302771" d="M1784,201l-12,10-4,4 11-9z"/>
<path color="#353795" d="M1772,211l-12-1-4,5 12,0z"/>
<path color="#343575" d="M1760,210l-12,9-4,5 12-9z"/>
<path color="#222d9a" d="M1748,219l-12,21-5,5 13-21z"/>
<path color="#343bb3" d="M1736,240l-6-7-5,4 6,8z"/>
<path color="#33336f" d="M1730,233l-7,5-4,5 6-6z"/>
<path color="#2333b0" d="M1723,238l-6,14-5,5 7-14z"/>
<path color="#2523c0" d="M1717,252l-6,22-5,5 6-22z"/>
<path color="#391e9c" d="M1711,274l-7-5-5,4 7,6z"/>
<path color="#3236ba" d="M1704,269l-7-10-5,5 7,9z"/>
<path color="#353884" d="M1697,259l-7,3-5,5 7-3z"/>
<path color="#343576" d="M1690,262l-7,5-5,5 7-5z"/>
<path color="#233196" d="M1683,267l-7,11-5,5 7-11z"/>
<path color="#353892" d="M1676,278l-7,1-5,5 7-1z"/>
<path color="#2233c7" d="M1669,279l-7,20-5,4 7-19z"/>
<path color="#342788" d="M1662,299l-7,2-5,4 7-2z"/>
<path color="#2422ab" d="M1655,301l-7,16-5,5 7-17z"/>
<path color="#2b158b" d="M1648,317l-8,14-4,5 7-14z"/>
<path color="#461161" d="M1640,331l-7,5-5,4 8-4z"/>
<path color="#3d1a90" d="M1633,336l-8-4-5,5 8,3z"/>
<path color="#415080" d="M1834,152l-32,23-7,10 32-24z"/>
<path color="#384167" d="M1802,175l-7,10z"/>
<path color="#39417e" d="M1790,192l-11,9-7,10 12-10z"/>
<path color="#3e529c" d="M1779,201l-12-1-7,10 12,1z"/>
<path color="#415080" d="M1767,200l-12,9-7,10 12-9z"/>
<path color="#363c65" d="M1755,209l-12,21-7,10 12-21z"/>
<path color="#3d56b8" d="M1743,230l-7-7-6,10 6,7z"/>
<path color="#404d7b" d="M1736,223l-6,5-7,10 7-5z"/>
<path color="#253a9d" d="M1730,228l-7,14-6,10 6-14z"/>
<path color="#212fbd" d="M1723,242l-6,23-6,9 6-22z"/>
<path color="#3835ad" d="M1717,265l-7-6-6,10 7,5z"/>
<path color="#3b52bf" d="M1710,259l-7-10-6,10 7,10z"/>
<path color="#41538c" d="M1703,249l-7,3-6,10 7-3z"/>
<path color="#415080" d="M1696,252l-7,5-6,10 7-5z"/>
<path color="#394165" d="M1689,257l-6,10z"/>
<path color="#3f5499" d="M1683,268l-8,1-6,10 7-1z"/>
<path color="#243cb4" d="M1675,269l-6,20-7,10 7-20z"/>
<path color="#394094" d="M1669,289l-8,1-6,11 7-2z"/>
<path color="#212ca1" d="M1661,290l-7,17-6,10 7-16z"/>
<path color="#231c89" d="M1654,307l-7,14-7,10 8-14z"/>
<path color="#3b2078" d="M1647,321l-8,5-6,10 7-5z"/>
<path color="#3a2fa3" d="M1639,326l-8-4-6,10 8,4z"/>
<path color="#666f69" d="M1840,139l-32,23-6,13 32-23z"/>
<path color="#515f6c" d="M1808,162l-11,16-7,14 12-17z"/>
<path color="#4b6284" d="M1797,178l-12,10-6,13 11-9z"/>
<path color="#557194" d="M1785,188l-11-1-7,13 12,1z"/>
<path color="#666f69" d="M1774,187l-13,8-6,14 12-9z"/>
<path color="#4a596a" d="M1761,195l-12,21-6,14 12-21z"/>
<path color="#5277b2" d="M1749,216l-6-7-7,14 7,7z"/>
<path color="#646d68" d="M1743,209l-7,5-6,14 6-5z"/>
<path color="#485564" d="M1736,214l-6,14z"/>
<path color="#253eaa" d="M1730,229l-7,22-6,14 6-23z"/>
<path color="#405bb4" d="M1723,251l-6-6-7,14 7,6z"/>
<path color="#4e74bb" d="M1717,245l-7-10-7,14 7,10z"/>
<path color="#647070" d="M1710,235l-7,3-7,5-7,14 7-5 7-3z"/>
<path color="#565f61" d="M1696,243l-7,11-6,14 6-11z"/>
<path color="#5b728a" d="M1689,254l-7,0-7,15 8-1z"/>
<path color="#2c4399" d="M1682,254l-7,20-6,15 6-20z"/>
<path color="#486398" d="M1675,274l-8,2-6,14 8-1z"/>
<path color="#25378d" d="M1667,276l-6,14z"/>
<path color="#363c69" d="M1660,293l-7,14-6,14 7-14z"/>
<path color="#3a428d" d="M1653,307l-8,5-6,14 8-5z"/>
<path color="#3f54ad" d="M1645,312l-8-4-6,14 8,4z"/>
<path class="m" d="M1840,139l-6,13-7,9-5,5M1830,146l-7,13-7,10-4,4M1819,154l-7,13-6,10-5,4M1808,162l-6,13-7,10-5,4M1797,178l-7,14-6,9-5,5M1785,188l-6,13-7,10-4,4M1774,187l-7,13-7,10-4,5M1761,195l-6,14-7,10-4,5M1749,216l-6,14-7,10-5,5M1736,214l-6,14-7,10-4,5M1723,251l-6,14-6,9-5,5M1710,235l-7,14-6,10-5,5M1696,243l-7,14-6,10-5,5M1682,254l-7,15-6,10-5,5M1667,276l-6,14-6,11-5,4M1653,307l-6,14-7,10-4,5"/>
<path class="m" d="M1840,139l-32,23-11,16-12,10-11-1-13,8-12,21-6-7-7,5-6,15-7,22-6-6-7-10-7,3-7,5-7,11-7,0-7,20-8,2-7,17-7,14-8,5-8-4"/>
<path color="#addc78" d="M1840,140l-32,23 0-1 32-23z"/>
<path color="#9ee69a" d="M1808,163l-11,16 0-1 11-16z"/>
<path color="#80cfb2" d="M1797,179l-11,10-1-1 12-10z"/>
<path color="#8fc77b" d="M1786,189l-12-1 0-1 11,1z"/>
<path color="#addc78" d="M1774,188l-12,8-1-1 13-8z"/>
<path color="#96e4ac" d="M1762,196l-13,22 0-2 12-21z"/>
<path color="#7ca768" d="M1749,218l-6-8 0-1 6,7z"/>
<path color="#addf7c" d="M1743,210l-6,5-1-1 7-5z"/>
<path color="#99e9b0" d="M1737,215l-7,15 0-1 6-15z"/>
<path color="#64c5ff" d="M1730,230l-6,22-1-1 7-22z"/>
<path color="#518b93" d="M1724,252l-7-6 0-1 6,6z"/>
<path color="#6a9a75" d="M1717,246l-7-11 7,10z"/>
<path color="#a5d574" d="M1710,236l-7,3 0-1 7-3z"/>
<path color="#addc78" d="M1703,239l-7,5 0-1 7-5z"/>
<path color="#a7eb90" d="M1696,244l-7,11 0-1 7-11z"/>
<path color="#98ce73" d="M1689,255l-7,0 0-1 7,0z"/>
<path color="#8ae3d4" d="M1682,255l-7,21 0-2 7-20z"/>
<path color="#67b8ba" d="M1675,276l-7,1-1-1 8-2z"/>
<path color="#69cbfe" d="M1668,277l-7,17-1-1 7-17z"/>
<path color="#59b1fc" d="M1661,294l-8,14 0-1 7-14z"/>
<path color="#5295d0" d="M1653,308l-7,5-1-1 8-5z"/>
<path color="#4f8da0" d="M1646,313l-9-4 0-1 8,4z"/>
<path color="#83d3af" d="M1846,157l-31,24-7-18 32-23z"/>
<path color="#6fd2e9" d="M1815,181l-11,17-7-19 11-16z"/>
<path color="#64bdd7" d="M1804,198l-12,9-6-18 11-10z"/>
<path color="#64b4b2" d="M1792,207l-11-1-7-18 12,1z"/>
<path color="#83d3af" d="M1781,206l-12,9-7-19 12-8z"/>
<path color="#6cd1f2" d="M1769,215l-13,22-7-19 13-22z"/>
<path color="#57948e" d="M1756,237l-6-8-7-19 6,8z"/>
<path color="#81d4b6" d="M1750,229l-6,6-7-20 6-5z"/>
<path color="#6dd5ff" d="M1744,235l-7,14-7-19 7-15z"/>
<path color="#56adff" d="M1737,249l-6,22-7-19 6-22z"/>
<path color="#467494" d="M1731,271l-7-6-7-19 7,6z"/>
<path color="#4f878b" d="M1724,265l-7-9-7-20 7,10z"/>
<path color="#7ac8ac" d="M1717,256l-6,3-8-20 7-3z"/>
<path color="#82d3af" d="M1711,259l-7,5-8-20 7-5z"/>
<path color="#78d9df" d="M1704,264l-7,11-8-20 7-11z"/>
<path color="#6cbaae" d="M1697,275l-7,1-8-21 7,0z"/>
<path color="#67cdff" d="M1690,276l-7,20-8-20 7-21z"/>
<path color="#59a6c0" d="M1683,296l-8,2-7-21 7-1z"/>
<path color="#59b7ff" d="M1675,298l-7,17-7-21 7-17z"/>
<path color="#5390ff" d="M1668,315l-7,14-8-21 8-14z"/>
<path color="#4c76d0" d="M1661,329l-7,5-8-21 7-5z"/>
<path color="#47719b" d="M1654,334l-9-4-8-21 9,4z"/>
<path color="#5bb5de" d="M1853,170l-32,25-6-14 31-24z"/>
<path color="#57b2ff" d="M1821,195l-11,16-6-13 11-17z"/>
<path color="#5295e2" d="M1810,211l-11,10-7-14 12-9z"/>
<path color="#4e92b5" d="M1799,221l-12,0-6-15 11,1z"/>
<path color="#5bb5de" d="M1787,221l-12,9-6-15 12-9z"/>
<path color="#57adff" d="M1775,230l-12,21-7-14 13-22z"/>
<path color="#417192" d="M1763,251l-6-7-7-15 6,8z"/>
<path color="#5bb6e5" d="M1757,244l-6,6-7-15 6-6z"/>
<path color="#57b0ff" d="M1751,250l-7,14-7-15 7-14z"/>
<path color="#4a72ff" d="M1744,264l-6,22-7-15 6-22z"/>
<path color="#3e478d" d="M1738,286l-7-6-7-15 7,6z"/>
<path color="#3c618c" d="M1731,280l-6-9-8-15 7,9z"/>
<path color="#56aacd" d="M1725,271l-7,3-7-15 6-3z"/>
<path color="#5ab5de" d="M1718,274l-7,5-7-15 7-5z"/>
<path color="#59baff" d="M1711,279l-7,12-7-16 7-11z"/>
<path color="#509abb" d="M1704,291l-7,0-7-15 7-1z"/>
<path color="#52a1ff" d="M1697,291l-7,21-7-16 7-20z"/>
<path color="#4a78bf" d="M1690,312l-7,2-8-16 8-2z"/>
<path color="#4e7eff" d="M1683,314l-7,17-8-16 7-17z"/>
<path color="#5457f8" d="M1676,331l-7,14-8-16 7-14z"/>
<path color="#5342bd" d="M1669,345l-8,5-7-16 7-5z"/>
<path color="#43438e" d="M1661,350l-8-4-8-16 9,4z"/>
<path color="#519ae3" d="M1856,176l-31,25-4-6 32-25z"/>
<path color="#5091ff" d="M1825,201l-11,17-4-7 11-16z"/>
<path color="#4b75e5" d="M1814,218l-11,10-4-7 11-10z"/>
<path color="#4672ae" d="M1803,228l-12-1-4-6 12,0z"/>
<path color="#519ae3" d="M1791,227l-12,9-4-6 12-9z"/>
<path color="#4f8bff" d="M1779,236l-12,22-4-7 12-21z"/>
<path color="#37548f" d="M1767,258l-6-7-4-7 6,7z"/>
<path color="#519beb" d="M1761,251l-6,5-4-6 6-6z"/>
<path color="#4f8cff" d="M1755,256l-7,15-4-7 7-14z"/>
<path color="#4e4dff" d="M1748,271l-6,22-4-7 6-22z"/>
<path color="#3f2c81" d="M1742,293l-6-6-5-7 7,6z"/>
<path color="#1a1b86" d="M1736,287l-7-9-4-7 6,9z"/>
<path color="#4d8dcd" d="M1729,278l-7,3-4-7 7-3z"/>
<path color="#5099e3" d="M1722,281l-7,6-4-8 7-5z"/>
<path color="#5299ff" d="M1715,287l-7,11-4-7 7-12z"/>
<path color="#487ab5" d="M1708,298l-7,1-4-8 7,0z"/>
<path color="#4a7bff" d="M1701,299l-6,20-5-7 7-21z"/>
<path color="#4859b5" d="M1695,319l-8,2-4-7 7-2z"/>
<path color="#515aff" d="M1687,321l-7,17-4-7 7-17z"/>
<path color="#643be6" d="M1680,338l-7,14-4-7 7-14z"/>
<path color="#6b2fa7" d="M1673,352l-7,5-5-7 8-5z"/>
<path color="#492a81" d="M1666,357l-8-3-5-8 8,4z"/>
<path class="m" d="M1856,176l-3-6-7-13-6-18M1846,184l-4-6-6-13-6-19M1836,192l-4-6-6-13-7-19M1825,201l-4-6-6-14-7-19M1814,218l-4-7-6-13-7-20M1803,228l-4-7-7-14-7-19M1791,227l-4-6-6-15-7-19M1779,236l-4-6-6-15-8-20M1767,258l-4-7-7-14-7-21M1755,256l-4-6-7-15-8-21M1742,293l-4-7-7-15-8-20M1729,278l-4-7-8-15-7-21M1715,287l-4-8-7-15-8-21M1701,299l-4-8-7-15-8-22M1687,321l-4-7-8-16-8-22M1673,352l-4-7-8-16-8-22"/>
<path class="m" d="M1856,176l-31,25-11,17-11,10-12-1-12,9-12,22-6-7-6,5-7,15-6,22-6-6-7-9-7,3-7,6-7,11-7,1-6,20-8,2-7,17-7,14-7,5-8-3"/>
<path color="#4c8ae4" d="M1859,180l-31,25-3-4 31-25z"/>
<path color="#4c80ff" d="M1828,205l-11,17-3-4 11-17z"/>
<path color="#4c65df" d="M1817,222l-12,9-2-3 11-10z"/>
<path color="#4162a9" d="M1805,231l-11,0-3-4 12,1z"/>
<path color="#4c8ae4" d="M1794,231l-12,9-3-4 12-9z"/>
<path color="#4c79ff" d="M1782,240l-12,22-3-4 12-22z"/>
<path color="#1a1a84" d="M1770,262l-6-7-3-4 6,7z"/>
<path color="#4d8bed" d="M1764,255l-6,6-3-5 6-5z"/>
<path color="#4a7aff" d="M1758,261l-7,14-3-4 7-15z"/>
<path color="#503cff" d="M1751,275l-6,22-3-4 6-22z"/>
<path color="#442477" d="M1745,297l-6-5-3-5 6,6z"/>
<path color="#1b1888" d="M1739,292l-3-5z"/>
<path color="#487ccb" d="M1732,282l-7,4-3-5 7-3z"/>
<path color="#4c89e4" d="M1725,286l-7,5-3-4 7-6z"/>
<path color="#4d88ff" d="M1718,291l-7,11-3-4 7-11z"/>
<path color="#436ab0" d="M1711,302l-7,1-3-4 7-1z"/>
<path color="#4969ff" d="M1704,303l-6,20-3-4 6-20z"/>
<path color="#4949ab" d="M1698,323l-8,2-3-4 8-2z"/>
<path color="#5347ff" d="M1690,325l-7,17-3-4 7-17z"/>
<path color="#7032da" d="M1683,342l-7,15-3-5 7-14z"/>
<path color="#76269b" d="M1676,357l-7,5-3-5 7-5z"/>
<path color="#502377" d="M1669,362l-8-4-3-4 8,3z"/>
<path color="#4678e3" d="M1865,187l-31,25-6-7 31-25z"/>
<path color="#4b6dff" d="M1834,212l-11,17-6-7 11-17z"/>
<path color="#4c53d8" d="M1823,229l-11,10-7-8 12-9z"/>
<path color="#3d51a2" d="M1812,239l-11-1-7-7 11,0z"/>
<path color="#4678e3" d="M1801,238l-12,10-7-8 12-9z"/>
<path color="#4c66ff" d="M1789,248l-12,22-7-8 12-22z"/>
<path color="#1b1888" d="M1777,270l-7-8z"/>
<path color="#4778ec" d="M1771,263l-6,5-7-7 6-6z"/>
<path color="#4a66ff" d="M1765,268l-7,15-7-8 7-14z"/>
<path color="#5732ef" d="M1758,283l-6,22-7-8 6-22z"/>
<path color="#260b6b" d="M1752,305l-6-6-7-7 6,5z"/>
<path color="#1c158b" d="M1746,299l-7-8-7-9 7,10z"/>
<path color="#426ac6" d="M1739,291l-7,3-7-8 7-4z"/>
<path color="#4677e3" d="M1732,294l-6,5-8-8 7-5z"/>
<path color="#4a75ff" d="M1726,299l-7,11-8-8 7-11z"/>
<path color="#3f58a7" d="M1719,310l-7,1-8-8 7-1z"/>
<path color="#4855ff" d="M1712,311l-7,21-7-9 6-20z"/>
<path color="#47389f" d="M1705,332l-7,2-8-9 8-2z"/>
<path color="#583af6" d="M1698,334l-7,17-8-9 7-17z"/>
<path color="#7828cd" d="M1691,351l-7,14-8-8 7-15z"/>
<path color="#7e228d" d="M1684,365l-8,5-7-8 7-5z"/>
<path color="#521b6d" d="M1676,370l-8-3-7-9 8,4z"/>
<path color="#2a4bb4" d="M1872,187l-31,25-7,0 31-25z"/>
<path color="#2f47de" d="M1841,212l-11,17-7,0 11-17z"/>
<path color="#2e32a8" d="M1830,229l-11,10-7,0 11-10z"/>
<path color="#23197e" d="M1819,239l-11,0-7-1 11,1z"/>
<path color="#2a4bb4" d="M1808,239l-12,10-7-1 12-10z"/>
<path color="#3849f3" d="M1796,249l-12,24-7-3 12-22z"/>
<path color="#1d168f" d="M1784,273l-13-10 6,7z"/>
<path color="#3b5cce" d="M1778,268l-6,4-7-4 6-5z"/>
<path color="#3e4dff" d="M1772,272l-6,14-8-3 7-15z"/>
<path color="#4d26d8" d="M1766,286l-7,21-7-2 6-22z"/>
<path color="#320d77" d="M1759,307l-6-5-7-3 6,6z"/>
<path color="#211493" d="M1753,302l-7-6-7-5 7,8z"/>
<path color="#364ea9" d="M1746,296l-6,2-8-4 7-3z"/>
<path color="#3a5ed6" d="M1740,298l-7,6-7-5 6-5z"/>
<path color="#425dff" d="M1733,304l-7,11-7-5 7-11z"/>
<path color="#3745a1" d="M1726,315l-7,2-7-6 7-1z"/>
<path color="#4241ff" d="M1719,317l-7,19-7-4 7-21z"/>
<path color="#402b91" d="M1712,336l-7,3-7-5 7-2z"/>
<path color="#552ee2" d="M1705,339l-7,16-7-4 7-17z"/>
<path color="#6f21b9" d="M1698,355l-7,15-7-5 7-14z"/>
<path color="#731d7a" d="M1691,370l-7,6-8-6 8-5z"/>
<path color="#2e0961" d="M1684,376l-8-3-8-6 8,3z"/>
<path color="#353480" d="M1874,185l-31,25-2,2 31-25z"/>
<path color="#332866" d="M1843,210l-13,19 11-17z"/>
<path color="#392576" d="M1832,227l-11,10-2,2 11-10z"/>
<path color="#383195" d="M1821,237l-12,0-1,2 11,0z"/>
<path color="#353480" d="M1809,237l-11,10-2,2 12-10z"/>
<path color="#261e97" d="M1798,247l-12,25-8-4 6,5 12-24z"/>
<path color="#293a9b" d="M1780,269l-8,3 6-4z"/>
<path color="#2830cc" d="M1773,271l-6,15-1,0 6-14z"/>
<path color="#3218ad" d="M1767,286l-6,20-2,1 7-21z"/>
<path color="#4c1381" d="M1761,306l-7-5-1,1 6,5z"/>
<path color="#2e1999" d="M1754,301l-6-5-2,0 7,6z"/>
<path color="#241a79" d="M1748,296l-8,2 6-2z"/>
<path color="#293da9" d="M1741,297l-7,7-1,0 7-6z"/>
<path color="#3044e3" d="M1734,304l-6,11-2,0 7-11z"/>
<path color="#2c3798" d="M1728,315l-7,3-2-1 7-2z"/>
<path color="#3634ec" d="M1721,318l-7,18-2,0 7-19z"/>
<path color="#321e81" d="M1714,336l-7,4-2-1 7-3z"/>
<path color="#3f22c4" d="M1707,340l-7,15-2,0 7-16z"/>
<path color="#4a179c" d="M1700,355l-7,15-2,0 7-15z"/>
<path color="#551564" d="M1693,370l-8,6-1,0 7-6z"/>
<path color="#3c0b67" d="M1685,376l-9-3 8,3z"/>
<path class="m" d="M1874,185l-2,2-7,0-6-7-3-4M1864,194l-2,2-7-1-6-7-3-4M1853,202l-1,2-7-1-7-7-2-4M1843,210l-2,2-7,0-6-7-3-4M1832,227l-2,2-7,0-6-7-3-4M1821,237l-2,2-7,0-7-8-2-3M1809,237l-1,2-7-1-7-7-3-4M1798,247l-2,2-7-1-7-8-3-4M1786,272l-2,1-7-3-7-8-3-4M1773,271l-1,1-7-4-7-7-3-5M1761,306l-2,1-7-2-7-8-3-4M1748,296l-2,0-7-5-7-9-3-4M1734,304l-1,0-7-5-8-8-3-4M1721,318l-9-7-8-8-3-4M1707,340l-2-1-7-5-8-9-3-4M1693,370l-2,0-7-5-8-8-3-5"/>
<path class="m" d="M1874,185l-31,25-11,17-11,10-12,0-11,10-12,25-6-3-7,2-6,15-6,20-13-10-7,1-7,7-6,11-7,3-7,18-7,4-14,30-8,6-8-3"/>
<path color="#3a4089" d="M1874,185l-31,25 31-25z"/>
<path color="#363375" d="M1843,210l-11,16 11-16z"/>
<path color="#3b2f81" d="M1832,226l-11,10 11-9z"/>
<path color="#3a3b9b" d="M1821,236l-11,1-1,0 12,0z"/>
<path color="#3a4089" d="M1810,237l-12,9 11-9z"/>
<path color="#221f8a" d="M1798,246l-12,26 12-25z"/>
<path color="#2d1c94" d="M1786,272l-6-3 6,3z"/>
<path color="#271c74" d="M1780,269l-7,2 7-2z"/>
<path color="#2528b5" d="M1774,271l-7,15 6-15z"/>
<path color="#2e159c" d="M1767,286l-6,20 6-20z"/>
<path color="#501786" d="M1761,306l-6-5-1,0 7,5z"/>
<path color="#321b98" d="M1755,301l-7-5 6,5z"/>
<path color="#291e82" d="M1748,296l-7,1 7-1z"/>
<path color="#263398" d="M1741,297l-6,7 6-7z"/>
<path color="#2b3cd3" d="M1735,304l-7,11 6-11z"/>
<path color="#2b3495" d="M1728,315l-7,3 7-3z"/>
<path color="#3030e2" d="M1721,318l-7,18 7-18z"/>
<path color="#310f61" d="M1714,336l-7,4 7-4z"/>
<path color="#371eb6" d="M1707,340l-7,15 7-15z"/>
<path color="#451491" d="M1700,355l-7,15 7-15z"/>
<path color="#50125e" d="M1693,370l-7,6 7-6z"/>
<path color="#410b69" d="M1686,376l-9-3 8,3z"/>
<path color="#3e4e90" d="M1876,180l-31,25-2,5 31-25z"/>
<path color="#3a4182" d="M1845,205l-11,16-2,5 11-16z"/>
<path color="#3c3b8c" d="M1834,221l-11,10-2,5 11-10z"/>
<path color="#3d489e" d="M1823,231l-11,1-2,5 11-1z"/>
<path color="#3e4e90" d="M1812,232l-12,9-2,5 12-9z"/>
<path color="#342d67" d="M1800,241l-12,28-2,3 12-26z"/>
<path color="#311e8f" d="M1788,269l-8,0 6,3z"/>
<path color="#2c2285" d="M1782,269l-7,0-1,2 6-2z"/>
<path color="#23229d" d="M1775,269l-6,15-2,2 7-15z"/>
<path color="#2a148b" d="M1769,284l-8,22 6-20z"/>
<path color="#501c8b" d="M1763,302l-7-4-1,3 6,5z"/>
<path color="#372095" d="M1756,298l-8-2 7,5z"/>
<path color="#2d238d" d="M1750,296l-7,0-2,1 7-1z"/>
<path color="#222787" d="M1743,296l-7,8-1,0 6-7z"/>
<path color="#2834be" d="M1736,304l-6,11-2,0 7-11z"/>
<path color="#292f90" d="M1730,315l-7,4-2-1 7-3z"/>
<path color="#2a2bd0" d="M1723,319l-7,15-2,2 7-18z"/>
<path color="#351163" d="M1716,334l-7,5-2,1 7-4z"/>
<path color="#321aa2" d="M1709,339l-7,15-2,1 7-15z"/>
<path color="#3f1083" d="M1702,354l-7,15-2,1 7-15z"/>
<path color="#490f58" d="M1695,369l-8,7-1,0 7-6z"/>
<path color="#470c6c" d="M1687,376l-9-3 8,3z"/>
<path color="#456798" d="M1878,172l-31,25-2,8 31-25z"/>
<path color="#415a8f" d="M1847,197l-11,16-2,8 11-16z"/>
<path color="#405396" d="M1836,213l-11,10-2,8 11-10z"/>
<path color="#435fa1" d="M1825,223l-12,0-1,9 11-1z"/>
<path color="#456798" d="M1813,223l-11,10-2,8 12-9z"/>
<path color="#394074" d="M1802,233l-14,36 12-28z"/>
<path color="#372785" d="M1789,265l-6,5-1-1 6,0z"/>
<path color="#33309f" d="M1783,270l-6-4-2,3 7,0z"/>
<path color="#332c67" d="M1777,266l-8,18 6-15z"/>
<path color="#3b1e5f" d="M1771,280l-7,16-1,6 6-18z"/>
<path color="#472595" d="M1764,296l-6-3-2,5 7,4z"/>
<path color="#3c2b8f" d="M1758,293l-8,3 6,2z"/>
<path color="#34309f" d="M1751,296l-6-3-2,3 7,0z"/>
<path color="#322c6a" d="M1745,293l-7,9-2,2 7-8z"/>
<path color="#222599" d="M1738,302l-7,12-1,1 6-11z"/>
<path color="#2b1a6b" d="M1731,314l-7,5-1,0 7-4z"/>
<path color="#2620a6" d="M1724,319l-8,15 7-15z"/>
<path color="#391769" d="M1718,332l-8,6-1,1 7-5z"/>
<path color="#2b137f" d="M1710,338l-8,16 7-15z"/>
<path color="#360d71" d="M1703,351l-7,17-1,1 7-15z"/>
<path color="#590b45" d="M1696,368l-7,7-2,1 8-7z"/>
<path color="#4f0d6f" d="M1689,375l-8-2-1,0 7,3z"/>
<path color="#547e97" d="M1880,159l-31,24-11,16-2,14 11-16 31-25z"/>
<path color="#4a749b" d="M1838,199l-11,9-2,15 11-10z"/>
<path color="#517da1" d="M1827,208l-11,2-3,13 12,0z"/>
<path color="#558098" d="M1816,210l-12,9-2,14 11-10z"/>
<path color="#405a7f" d="M1804,219l-15,46 13-32z"/>
<path color="#373179" d="M1791,258l-6,11-2,1 6-5z"/>
<path color="#3a44b5" d="M1785,269l-6-10-2,7 6,4z"/>
<path color="#394175" d="M1779,259l-6,15-2,6 6-14z"/>
<path color="#3d347b" d="M1773,274l-7,11-2,11 7-16z"/>
<path color="#423c9f" d="M1766,285l-6-1-2,9 6,3z"/>
<path color="#3a3785" d="M1760,284l-7,11-2,1 7-3z"/>
<path color="#3a42b0" d="M1753,295l-6-8-2,6 6,3z"/>
<path color="#383d75" d="M1747,287l-9,15 7-9z"/>
<path color="#312964" d="M1740,299l-7,12 5-9z"/>
<path color="#2f1d67" d="M1733,311l-7,8-2,0 7-5z"/>
<path color="#34205e" d="M1726,319l-7,8-1,5 6-13z"/>
<path color="#3c2270" d="M1719,327l-9,11 8-6z"/>
<path color="#3c1a61" d="M1712,336l-7,10-2,5 7-13z"/>
<path color="#4b1350" d="M1705,346l-9,22 7-17z"/>
<path color="#5d0f52" d="M1698,364l-9,11 7-7z"/>
<path color="#551175" d="M1691,373l-8-2-2,2 8,2z"/>
<path class="m" d="M1880,159l-2,13-2,8-2,5M1870,167l-2,13-2,8-2,6M1860,175l-3,13-2,8-2,6M1849,183l-2,14-2,8-2,5M1838,199l-2,14-2,8-2,6M1827,208l-2,15-2,8-2,6M1816,210l-3,13-1,9-3,5M1804,219l-2,14-2,8-2,6M1791,258l-2,7-1,4-2,3M1779,259l-2,7-2,3-2,2M1766,285l-2,11-1,6-2,4M1753,295l-2,1-1,0-2,0M1740,299l-2,3-2,2-2,0M1726,319l-2,0-3-1M1712,336l-2,2-1,1-2,1M1698,364l-2,4-1,1-2,1"/>
<path color="#90995a" d="M1882,144l-31,24-2,15 31-24z"/>
<path color="#829761" d="M1851,168l-11,15-2,16 11-16z"/>
<path color="#739379" d="M1840,183l-11,9-2,16 11-9z"/>
<path color="#839b69" d="M1829,192l-12,2-1,16 11-2z"/>
<path color="#8f995a" d="M1817,194l-11,9-2,16 12-9z"/>
<path color="#4f7280" d="M1806,203l-13,47-2,8 13-39z"/>
<path color="#37396c" d="M1793,250l-6,19-2,0 6-11z"/>
<path color="#3f58c8" d="M1787,269l-6-17-2,7 6,10z"/>
<path color="#405882" d="M1781,252l-7,15-1,7 6-15z"/>
<path color="#3f5192" d="M1774,267l-6,6-2,12 7-11z"/>
<path color="#425aa5" d="M1768,273l-7,1-1,10 6,1z"/>
<path color="#3a4379" d="M1761,274l-6,19-2,2 7-11z"/>
<path color="#3f55be" d="M1755,293l-7-12-1,6 6,8z"/>
<path color="#3d4d79" d="M1748,281l-8,18 7-12z"/>
<path color="#36386f" d="M1742,296l-9,15 7-12z"/>
<path color="#322868" d="M1735,308l-7,10-2,1 7-8z"/>
<path color="#3a3386" d="M1728,318l-7,3-2,6 7-8z"/>
<path color="#3b2e75" d="M1721,321l-9,15 7-9z"/>
<path color="#3f297c" d="M1714,334l-7,6-2,6 7-10z"/>
<path color="#441a5b" d="M1707,340l-9,24 7-18z"/>
<path color="#59145c" d="M1700,360l-9,13 7-9z"/>
<path color="#55177b" d="M1692,370l-7-1-2,2 8,2z"/>
<path color="#d48a3c" d="M1885,123l-32,23-2,22 31-24z"/>
<path color="#c98c3e" d="M1853,146l-11,14-2,23 11-15z"/>
<path color="#c59142" d="M1842,160l-11,9-11,2-3,23 12-2 11-9z"/>
<path color="#d48a3c" d="M1820,171l-12,9-2,23 11-9z"/>
<path color="#818a4e" d="M1808,180l-13,59-2,11 13-47z"/>
<path color="#37446d" d="M1795,239l-7,29-1,1 6-19z"/>
<path color="#446cd5" d="M1788,268l-6-26-1,10 6,17z"/>
<path color="#4b6e88" d="M1782,242l-6,14-2,11 7-15z"/>
<path color="#4974a0" d="M1776,256l-6,0-2,17 6-6z"/>
<path color="#4e7aa2" d="M1770,256l-7,3-2,15 7-1z"/>
<path color="#3c5071" d="M1763,259l-6,31-2,3 6-19z"/>
<path color="#446ac9" d="M1757,290l-7-18-2,9 7,12z"/>
<path color="#425d7a" d="M1750,272l-8,24 6-15z"/>
<path color="#3b4879" d="M1743,290l-7,13-1,5 7-12z"/>
<path color="#333066" d="M1736,303l-6,14-2,1 7-10z"/>
<path color="#3c46a3" d="M1730,317l-8-5-1,9 7-3z"/>
<path color="#383b78" d="M1722,312l-8,22 7-13z"/>
<path color="#3e3b93" d="M1716,330l-8,1-1,9 7-6z"/>
<path color="#3c2666" d="M1708,331l-8,29 7-20z"/>
<path color="#4f1a66" d="M1701,354l-7,12-2,4 8-10z"/>
<path color="#4f1c82" d="M1694,366l-8,0-1,3 7,1z"/>
<path color="#d4381b" d="M1887,98l-31,22-3,26 32-23z"/>
<path color="#d6431d" d="M1856,120l-11,12-3,28 11-14z"/>
<path color="#d95120" d="M1845,132l-12,9-2,28 11-9z"/>
<path color="#d8461e" d="M1833,141l-11,4-2,26 11-2z"/>
<path color="#d4381b" d="M1822,145l-12,8-2,27 12-9z"/>
<path color="#be7c33" d="M1810,153l-13,72-2,14 13-59z"/>
<path color="#243799" d="M1797,225l-7,42-2,1 7-29z"/>
<path color="#4a7fde" d="M1790,267l-6-38-2,13 6,26z"/>
<path color="#678373" d="M1784,229l-6,14-2,13 6-14z"/>
<path color="#6d958c" d="M1778,243l-6-7-2,20 6,0z"/>
<path color="#80986a" d="M1772,236l-7,6-2,17 7-3z"/>
<path color="#425c6f" d="M1765,242l-7,45-1,3 6-31z"/>
<path color="#4b7ed1" d="M1758,287l-6-26-2,11 7,18z"/>
<path color="#4b6874" d="M1752,261l-9,29 7-18z"/>
<path color="#40587e" d="M1745,284l-7,13-2,6 7-13z"/>
<path color="#343769" d="M1738,297l-7,18-1,2 6-14z"/>
<path color="#425bbb" d="M1731,315l-7-13-2,10 8,5z"/>
<path color="#3b4973" d="M1724,302l-8,28 6-18z"/>
<path color="#4051a5" d="M1717,325l-7-4-2,10 8-1z"/>
<path color="#383870" d="M1710,321l-9,33 7-23z"/>
<path color="#412270" d="M1703,346l-7,15-2,5 7-12z"/>
<path color="#452289" d="M1696,361l-8,2-2,3 8,0z"/>
<path color="#c91b15" d="M1890,85l-78,55-2,13 12-8 11-4 12-9 11-12 31-22z"/>
<path color="#be4d19" d="M1812,140l-13,65-2,20 13-72z"/>
<path color="#2b47ad" d="M1799,205l-7,60-2,2 7-42z"/>
<path color="#538de0" d="M1792,265l-5-53-3,17 6,38z"/>
<path color="#9e8a45" d="M1787,212l-7,14-2,17 6-14z"/>
<path color="#ba9d51" d="M1780,226l-6-19-2,29 6,7z"/>
<path color="#cd883b" d="M1774,207l-7,10-2,25 7-6z"/>
<path color="#38487c" d="M1767,217l-6,65-3,5 7-45z"/>
<path color="#568ed6" d="M1761,282l-7-35-2,14 6,26z"/>
<path color="#667153" d="M1754,247l-9,37 7-23z"/>
<path color="#48637b" d="M1747,275l-7,14-2,8 7-13z"/>
<path color="#23339c" d="M1740,289l-6,24-3,2 7-18z"/>
<path color="#4573d1" d="M1734,313l-8-25-2,14 7,13z"/>
<path color="#3e5670" d="M1726,288l-7,30-2,7 7-23z"/>
<path color="#466db6" d="M1719,318l-7-11-2,14 7,4z"/>
<path color="#3b4d71" d="M1712,307l-9,39 7-25z"/>
<path color="#3b3172" d="M1705,336l-7,18-2,7 7-15z"/>
<path color="#3f2e8d" d="M1698,354l-8,3-2,6 8-2z"/>
<path class="m" d="M1890,85l-3,13-7,61M1880,92l-3,13-7,62M1869,100l-2,13-7,62M1859,107l-3,13-5,48-2,15M1848,115l-3,17-5,51-2,16M1836,123l-3,18-4,51-2,16M1824,131l-2,14-5,49-1,16M1812,140l-2,13-4,50-2,16M1799,205l-4,34-4,19M1787,212l-5,30-3,17M1774,207l-4,49-4,29M1761,282l-4,8-4,5M1747,275l-4,15-3,9M1734,313l-4,4-4,2M1719,318l-3,12-4,6M1705,336l-4,18-3,10"/>
<path color="#d9d9d9" d="M1891,86l-77,54-2,0 78-55z"/>
<path color="#69181a" d="M1814,140l-13,58-2,7 13-65z"/>
<path color="#395aa2" d="M1801,198l-7,66-2,1 7-60z"/>
<path color="#6590b2" d="M1794,264l-6-58-1,6 5,53z"/>
<path color="#c37934" d="M1788,206l-6,13-2,7 7-14z"/>
<path color="#de853b" d="M1782,219l-7-23-1,11 6,19z"/>
<path color="#d45b20" d="M1775,196l-6,12-2,9 7-10z"/>
<path color="#4d5866" d="M1769,208l-7,73-1,1 6-65z"/>
<path color="#6b94ad" d="M1762,281l-7-40-1,6 7,35z"/>
<path color="#4a454e" d="M1755,241l-8,34 7-28z"/>
<path color="#4d626f" d="M1748,272l-8,17 7-14z"/>
<path color="#2542bc" d="M1742,286l-7,27-1,0 6-24z"/>
<path color="#4979db" d="M1735,313l-8-30-1,5 8,25z"/>
<path color="#2a3f98" d="M1727,283l-6,33-2,2 7-30z"/>
<path color="#4e7bc1" d="M1721,316l-8-15-1,6 7,11z"/>
<path color="#3d546e" d="M1713,301l-8,35 7-29z"/>
<path color="#35376b" d="M1706,332l-8,22 7-18z"/>
<path color="#3a348c" d="M1699,351l-8,4-1,2 8-3z"/>
<path color="#d9d9d9" d="M1893,86l-78,55-1-1 77-54z"/>
<path color="#7d1c23" d="M1815,141l-13,54-1,3 13-58z"/>
<path color="#5280ac" d="M1802,195l-7,70-1-1 7-66z"/>
<path color="#567194" d="M1795,265l-5-61-2,2 6,58z"/>
<path color="#704737" d="M1790,204l-7,13-1,2 6-13z"/>
<path color="#b85f35" d="M1783,217l-6-25-2,4 7,23z"/>
<path color="#a82412" d="M1777,192l-8,16 6-12z"/>
<path color="#6a7b77" d="M1770,205l-6,76-2,0 7-73z"/>
<path color="#576e91" d="M1764,281l-7-42-2,2 7,40z"/>
<path color="#5c7877" d="M1757,239l-7,32-2,1 7-31z"/>
<path color="#3a75c1" d="M1750,271l-7,14-1,1 6-14z"/>
<path color="#3272ff" d="M1743,285l-6,28-2,0 7-27z"/>
<path color="#3757d1" d="M1737,313l-8-32-2,2 8,30z"/>
<path color="#3570ee" d="M1729,281l-7,34-1,1 6-33z"/>
<path color="#3b54c1" d="M1722,315l-7-15-2,1 8,15z"/>
<path color="#2d62e9" d="M1715,300l-7,31-2,1 7-31z"/>
<path color="#2649e4" d="M1708,331l-7,19-2,1 7-19z"/>
<path color="#261d6d" d="M1701,350l-8,5-2,0 8-4z"/>
<path color="#d9d9d9" d="M1895,87l-78,54-2,0 78-55z"/>
<path color="#f8412b" d="M1817,141l-13,66-2-12 13-54z"/>
<path color="#78c2d9" d="M1804,207l-7,60-2-2 7-70z"/>
<path color="#354d86" d="M1797,267l-6-53-1-10 5,61z"/>
<path color="#fdbe52" d="M1791,214l-6,14-2-11 7-13z"/>
<path color="#dd7b27" d="M1785,228l-6-19-2-17 6,25z"/>
<path color="#fe722b" d="M1779,209l-7,10-2-14 7-13z"/>
<path color="#aace92" d="M1772,219l-7,65-1-3 6-76z"/>
<path color="#334377" d="M1765,284l-8-45 7,42z"/>
<path color="#b9e58f" d="M1759,248l-7,29-2-6 7-32z"/>
<path color="#6fd2f0" d="M1752,277l-7,14-2-6 7-14z"/>
<path color="#53aeff" d="M1745,291l-7,24-1-2 6-28z"/>
<path color="#223598" d="M1738,315l-7-25-2-9 8,32z"/>
<path color="#66c5ff" d="M1731,290l-7,30-2-5 7-34z"/>
<path color="#4e8189" d="M1724,320l-7-11-2-9 7,15z"/>
<path color="#5db6ff" d="M1717,309l-7,29-2-7 7-31z"/>
<path color="#4f7dff" d="M1710,338l-7,18-2-6 7-19z"/>
<path color="#4c61c6" d="M1703,356l-8,4-2-5 8-5z"/>
<path color="#e02c20" d="M1896,88l-31,22-2-1 32-22z"/>
<path color="#f72b1e" d="M1865,110l-11,12-12,8-1-6 22-15z"/>
<path color="#f42b1d" d="M1842,130l-11,4-2-1 12-9z"/>
<path color="#e32d20" d="M1831,134l-12,9-2-2 12-8z"/>
<path color="#ff6d34" d="M1819,143l-14,78-1-14 13-66z"/>
<path color="#65bfff" d="M1805,221l-7,48-1-2 7-60z"/>
<path color="#293f97" d="M1798,269l-7-55 6,53z"/>
<path color="#d0c861" d="M1793,226l-7,14-1-12 6-14z"/>
<path color="#d2a042" d="M1786,240l-6-11-1-20 6,19z"/>
<path color="#f6a543" d="M1780,229l-6,7-2-17 7-10z"/>
<path color="#91d6ba" d="M1774,236l-7,52-2-4 7-65z"/>
<path color="#273480" d="M1767,288l-7-29-1-11 6,36z"/>
<path color="#9bdda5" d="M1760,259l-6,25-2-7 7-29z"/>
<path color="#65bbe6" d="M1754,284l-7,13-2-6 7-14z"/>
<path color="#55a3ff" d="M1747,297l-7,21-2-3 7-24z"/>
<path color="#416c84" d="M1740,318l-7-17-2-11 7,25z"/>
<path color="#5db2ff" d="M1733,301l-7,25-2-6 7-30z"/>
<path color="#4c829b" d="M1726,326l-8-6-1-11 7,11z"/>
<path color="#559af9" d="M1718,320l-6,26-2-8 7-29z"/>
<path color="#4f62e5" d="M1712,346l-8,16-1-6 7-18z"/>
<path color="#4e4eb6" d="M1704,362l-7,2-2-4 8-4z"/>
<path class="m" d="M1896,88l-1-1-5-2M1886,95l-2-1-4-2M1875,103l-1-2-5-1M1865,110l-2-1-4-2M1854,122l-2-6-4-1M1842,130l-1-6-5-1M1831,134l-2-1-5-2M1819,143l-2-2-5-1M1805,221l-3-26-1,3-2,7M1793,226l-3-22-2,2-1,6M1780,229l-3-37-2,4-1,11M1767,288l-3-7-2,0-1,1M1754,284l-4-13-2,1-1,3M1740,318l-3-5-2,0-1,0M1726,326l-4-11-1,1-2,2M1712,346l-4-15-2,1-1,4"/>
<path class="m" d="M1896,88l-31,22-11,12-12,8-11,4-12,9-14,78-7,48-5-43-7,14-6-11-6,7-7,52-7-29-6,25-7,13-7,21-7-17-7,25-8-6-6,26-8,16-7,2"/>
<path color="#eb241a" d="M1896,91l-31,22-11,12-12,8-11,5-12,8 0-3 12-9 11-4 12-8 11-12 31-22z"/>
<path color="#ff8532" d="M1819,146l-14,77 0-2 14-78z"/>
<path color="#61b9ff" d="M1805,223l-7,46 7-48z"/>
<path color="#253893" d="M1799,269l-6-43 5,43z"/>
<path color="#b5cc71" d="M1793,228l-6,14-1-2 7-14z"/>
<path color="#b5af51" d="M1787,242l-7-11 0-2 6,11z"/>
<path color="#d9b652" d="M1780,231l-6,7 0-2 6-7z"/>
<path color="#78cae8" d="M1774,238l-7,50 7-52z"/>
<path color="#4b767e" d="M1767,289l-7-30 7,29z"/>
<path color="#83d0c8" d="M1761,261l-7,24 0-1 6-25z"/>
<path color="#5fb1e6" d="M1754,285l-7,13 0-1 7-13z"/>
<path color="#549aff" d="M1747,298l-7,20 7-21z"/>
<path color="#436c87" d="M1740,318l-7-17 7,17z"/>
<path color="#57a5fa" d="M1733,302l-7,25 0-1 7-25z"/>
<path color="#4c7ba5" d="M1726,327l-7-6-1-1 8,6z"/>
<path color="#5187f3" d="M1719,321l-7,26 0-1 6-26z"/>
<path color="#5254d9" d="M1712,347l-7,15-1,0 8-16z"/>
<path color="#5044ae" d="M1705,362l-8,3 0-1 7-2z"/>
<path color="#eb241a" d="M1896,106l-31,23-11,13-11,8-12,4-12,9 0-17 12-8 11-5 12-8 11-12 31-22z"/>
<path color="#ffa040" d="M1819,163l-13,68-1-8 14-77z"/>
<path color="#5db3ff" d="M1806,231l-6,40-1-2 6-46z"/>
<path color="#23348f" d="M1800,271l-7-43 6,41z"/>
<path color="#a3cf7d" d="M1794,236l-6,14-1-8 6-14z"/>
<path color="#a1b561" d="M1788,250l-7-6-1-13 7,11z"/>
<path color="#bebe5d" d="M1781,244l-6,5-1-11 6-7z"/>
<path color="#69c2ff" d="M1775,249l-7,43-1-3 7-51z"/>
<path color="#4a7580" d="M1768,292l-7-24 0-7 6,28z"/>
<path color="#73c8df" d="M1761,268l-6,21-1-4 7-24z"/>
<path color="#5bace7" d="M1755,289l-7,14-1-5 7-13z"/>
<path color="#5394ff" d="M1748,303l-7,17-1-2 7-20z"/>
<path color="#446b8a" d="M1741,320l-7-11-1-7 7,16z"/>
<path color="#559bf6" d="M1734,309l-7,21-1-3 7-25z"/>
<path color="#4b75aa" d="M1727,330l-7-2-1-7 7,6z"/>
<path color="#4f7bf0" d="M1720,328l-7,24-1-5 7-26z"/>
<path color="#544bd2" d="M1713,352l-7,14-1-4 7-15z"/>
<path color="#513ea9" d="M1706,366l-8,2-1-3 8-3z"/>
<path color="#ef3b1e" d="M1897,118l-32,23 0-12 31-23z"/>
<path color="#f24a22" d="M1865,141l-11,13 0-12 11-13z"/>
<path color="#f35924" d="M1854,154l-11,9 0-13 11-8z"/>
<path color="#f04b21" d="M1843,163l-11,4-1-13 12-4z"/>
<path color="#ef3c1f" d="M1832,167l-12,9-1-13 12-9z"/>
<path color="#f4ba55" d="M1820,176l-13,62-1-7 13-68z"/>
<path color="#57abff" d="M1807,238l-7,34 0-1 6-40z"/>
<path color="#212f89" d="M1800,272l-6-36 6,35z"/>
<path color="#83c3aa" d="M1795,242l-7,14 0-6 6-14z"/>
<path color="#7caf8e" d="M1788,256l-6-2-1-10 7,6z"/>
<path color="#96c078" d="M1782,254l-7,4 0-9 6-5z"/>
<path color="#61b6fe" d="M1775,258l-6,36-1-2 7-43z"/>
<path color="#477383" d="M1769,294l-7-21-1-5 7,24z"/>
<path color="#67bce9" d="M1762,273l-6,20-1-4 6-21z"/>
<path color="#56a3e9" d="M1756,293l-7,13-1-3 7-14z"/>
<path color="#528cff" d="M1749,306l-7,15-1-1 7-17z"/>
<path color="#456890" d="M1742,321l-7-7-1-5 7,11z"/>
<path color="#528bf1" d="M1735,314l-7,19-1-3 7-21z"/>
<path color="#4a6cb2" d="M1728,333l-7,0-1-5 7,2z"/>
<path color="#4d6aed" d="M1721,333l-7,23-1-4 7-24z"/>
<path color="#573dc9" d="M1714,356l-8,13 0-3 7-14z"/>
<path color="#5335a1" d="M1706,369l-7,1-1-2 8-2z"/>
<path color="#f69739" d="M1897,142l-31,24-11,14-1-26 11-13 32-23z"/>
<path color="#f2a342" d="M1855,180l-11,10-1-27 11-9z"/>
<path color="#f39b3c" d="M1844,190l-11,2-1-25 11-4z"/>
<path color="#f69538" d="M1833,192l-12,9-1-25 12-9z"/>
<path color="#bbcd72" d="M1821,201l-13,51-1-14 13-62z"/>
<path color="#549aff" d="M1808,252l-6,22-2-2 7-34z"/>
<path color="#3e6482" d="M1802,274l-6-19-1-13 5,30z"/>
<path color="#64b1d4" d="M1796,255l-6,14-2-13 7-14z"/>
<path color="#5c9cb8" d="M1790,269l-6,5-2-20 6,2z"/>
<path color="#61a3b8" d="M1784,274l-7,1-2-17 7-4z"/>
<path color="#56a4fc" d="M1777,275l-6,23-2-4 6-36z"/>
<path color="#446e87" d="M1771,298l-7-14-2-11 7,21z"/>
<path color="#5dafeb" d="M1764,284l-7,16-1-7 6-20z"/>
<path color="#5494eb" d="M1757,300l-6,12-2-6 7-13z"/>
<path color="#5081fe" d="M1751,312l-7,12-2-3 7-15z"/>
<path color="#4766a5" d="M1744,324l-7,1-2-11 7,7z"/>
<path color="#4f77ec" d="M1737,325l-7,14-2-6 7-19z"/>
<path color="#495fbc" d="M1730,339l-7,5-2-11 7,0z"/>
<path color="#5253e1" d="M1723,344l-7,21-2-9 7-23z"/>
<path color="#6434ba" d="M1716,365l-8,10-2-6 8-13z"/>
<path color="#5c2f94" d="M1708,375l-7,0-2-5 7-1z"/>
<path class="m" d="M1897,142l-1-54M1887,150l-1-55M1877,158l-2-55M1866,166l-1-56M1855,180l-1-58M1844,190l-2-60M1833,192l-2-58M1821,201l-2-58M1808,252l-3-31M1796,255l-3-29M1784,274l-4-45M1771,298l-4-10M1757,300l-3-16M1744,324l-4-6M1730,339l-4-13M1716,365l-4-19"/>
<path color="#babd5f" d="M1898,161l-31,25-1-20 31-24z"/>
<path color="#aec16a" d="M1867,186l-11,15-1-21 11-14z"/>
<path color="#9fc070" d="M1856,201l-11,10-1-21 11-10z"/>
<path color="#abbc65" d="M1845,211l-11,1-1-20 11-2z"/>
<path color="#babd5f" d="M1834,212l-12,10-1-21 12-9z"/>
<path color="#6cbbd6" d="M1822,222l-12,41-2-11 13-51z"/>
<path color="#5082fb" d="M1810,263l-6,13-2-2 6-22z"/>
<path color="#3e5d86" d="M1804,276l-6-11-2-10 6,19z"/>
<path color="#559ce1" d="M1798,265l-7,14-1-10 6-14z"/>
<path color="#4f7ec9" d="M1791,279l-6,11-1-16 6-5z"/>
<path color="#4e7bb9" d="M1785,290l-6-1-2-14 7-1z"/>
<path color="#5183ee" d="M1779,289l-7,13-1-4 6-23z"/>
<path color="#42648c" d="M1772,302l-6-9-2-9 7,14z"/>
<path color="#559bec" d="M1766,293l-7,13-2-6 7-16z"/>
<path color="#5183f1" d="M1759,306l-7,12-1-6 6-12z"/>
<path color="#4e74f5" d="M1752,318l-6,8-2-2 7-12z"/>
<path color="#4b62c5" d="M1746,326l-7,7-2-8 7-1z"/>
<path color="#5060df" d="M1739,333l-7,11-2-5 7-14z"/>
<path color="#514ec3" d="M1732,344l-7,9-2-9 7-5z"/>
<path color="#5c3ad4" d="M1725,353l-8,19-1-7 7-21z"/>
<path color="#772aa9" d="M1717,372l-7,9-2-6 8-10z"/>
<path color="#652782" d="M1710,381l-7-1-2-5 7,0z"/>
<path color="#6eb1b2" d="M1899,175l-31,25-1-14 31-25z"/>
<path color="#65acc3" d="M1868,200l-11,16-1-15 11-15z"/>
<path color="#5da0c0" d="M1857,216l-11,10-1-15 11-10z"/>
<path color="#62a4b6" d="M1846,226l-11,1-1-15 11-1z"/>
<path color="#6eb1b3" d="M1835,227l-11,10-2-15 12-10z"/>
<path color="#56a1e5" d="M1824,237l-13,35-1-9 12-41z"/>
<path color="#4e6ee9" d="M1811,272l-6,6-1-2 6-13z"/>
<path color="#3f5a8e" d="M1805,278l-6-6-1-7 6,11z"/>
<path color="#5183eb" d="M1799,272l-6,15-2-8 7-14z"/>
<path color="#4d5fd5" d="M1793,287l-6,15-2-12 6-11z"/>
<path color="#4954ad" d="M1787,302l-7-3-1-10 6,1z"/>
<path color="#4d69db" d="M1780,299l-6,5-2-2 7-13z"/>
<path color="#415d92" d="M1774,304l-6-4-2-7 6,9z"/>
<path color="#5289ee" d="M1768,300l-7,10-2-4 7-13z"/>
<path color="#4e78fc" d="M1761,310l-7,12-2-4 7-12z"/>
<path color="#5063e4" d="M1754,322l-7,6-7,12-1-7 7-7 6-8z"/>
<path color="#544ed2" d="M1740,340l-7,8-1-4 7-11z"/>
<path color="#5741d0" d="M1733,348l-7,11-1-6 7-9z"/>
<path color="#7031c8" d="M1726,359l-7,18-2-5 8-19z"/>
<path color="#85249e" d="M1719,377l-7,7-2-3 7-9z"/>
<path color="#682072" d="M1712,384l-7-1-2-3 7,1z"/>
<path color="#579bc7" d="M1900,185l-30,26-2-11 31-25z"/>
<path color="#5393d1" d="M1870,211l-11,16-2-11 11-16z"/>
<path color="#4f81c7" d="M1859,227l-11,10-2-11 11-10z"/>
<path color="#5089bc" d="M1848,237l-11,1-2-11 11-1z"/>
<path color="#579bc7" d="M1837,238l-12,10-1-11 11-10z"/>
<path color="#5183eb" d="M1825,248l-12,30-2-6 13-35z"/>
<path color="#4d5cc7" d="M1813,278l-6,1-2-1 6-6z"/>
<path color="#3f599a" d="M1807,279l-6-1-2-6 6,6z"/>
<path color="#4e73fa" d="M1801,278l-6,14-2-5 6-15z"/>
<path color="#5648dc" d="M1795,292l-7,18-1-8 6-15z"/>
<path color="#4e3798" d="M1788,310l-6-4-2-7 7,3z"/>
<path color="#4d53b9" d="M1782,306l-6,0-2-2 6-5z"/>
<path color="#40589a" d="M1776,306l-7-1-1-5 6,4z"/>
<path color="#4f7ef2" d="M1769,305l-6,8-2-3 7-10z"/>
<path color="#4f70ff" d="M1763,313l-7,12-2-3 7-12z"/>
<path color="#4a5cd0" d="M1756,325l-7,4-2-1 7-6z"/>
<path color="#5457fe" d="M1749,329l-7,16-2-5 7-12z"/>
<path color="#5641c8" d="M1742,345l-7,5-2-2 7-8z"/>
<path color="#623cdc" d="M1735,350l-7,14-2-5 7-11z"/>
<path color="#7e2ac4" d="M1728,364l-7,16-2-3 7-18z"/>
<path color="#8e2395" d="M1721,380l-7,7-2-3 7-7z"/>
<path color="#631b6c" d="M1714,387l-8-2-1-2 7,1z"/>
<path color="#5086cd" d="M1901,192l-30,25-1-6 30-26z"/>
<path color="#4f7cdb" d="M1871,217l-11,17-1-7 11-16z"/>
<path color="#4a67cc" d="M1860,234l-11,11-1-8 11-10z"/>
<path color="#4b6fb9" d="M1849,245l-11,0-1-7 11-1z"/>
<path color="#5086cd" d="M1838,245l-11,10-2-7 12-10z"/>
<path color="#4e71f7" d="M1827,255l-12,27-2-4 12-30z"/>
<path color="#44479a" d="M1815,282l-8-3 6-1z"/>
<path color="#405aa5" d="M1809,280l-6,1-2-3 6,1z"/>
<path color="#5169ff" d="M1803,281l-7,15-1-4 6-14z"/>
<path color="#603be5" d="M1796,296l-6,20-2-6 7-18z"/>
<path color="#592a80" d="M1790,316l-6-5-2-5 6,4z"/>
<path color="#463f90" d="M1784,311l-8-5 6,0z"/>
<path color="#3f55a0" d="M1778,308l-7,0-2-3 7,1z"/>
<path color="#4c76f5" d="M1771,308l-7,8-1-3 6-8z"/>
<path color="#4d69ff" d="M1764,316l-6,11-2-2 7-12z"/>
<path color="#414fb5" d="M1758,327l-7,3-2-1 7-4z"/>
<path color="#4f4dff" d="M1751,330l-7,18-2-3 7-16z"/>
<path color="#563ab9" d="M1744,348l-7,4-2-2 7-5z"/>
<path color="#6638e6" d="M1737,352l-7,15-2-3 7-14z"/>
<path color="#8427c3" d="M1730,367l-7,16-2-3 7-16z"/>
<path color="#8e238d" d="M1723,383l-7,6-2-2 7-7z"/>
<path color="#571866" d="M1716,389l-8-2-2-2 8,2z"/>
<path class="m" d="M1901,192l-1-7-1-10-2-33M1891,200l-1-7-1-10-2-33M1881,209l-1-7-1-10-2-34M1871,217l-1-6-2-11-2-34M1860,234l-1-7-2-11-2-36M1849,245l-1-8-2-11-2-36M1838,245l-1-7-2-11-2-35M1827,255l-2-7-1-11-3-36M1815,282l-2-4-2-6-3-20M1803,281l-2-3-2-6-3-17M1790,316l-2-6-1-8-3-28M1778,308l-4-4-3-6M1764,316l-3-6-4-10M1751,330l-4-2-3-4M1737,352l-4-4-3-9M1723,383l-4-6-3-12"/>
<path color="#4e7ad6" d="M1903,196l-31,26-1-5 30-25z"/>
<path color="#4e6fea" d="M1872,222l-10,17-2-5 11-17z"/>
<path color="#5058cc" d="M1862,239l-11,10-2-4 11-11z"/>
<path color="#485fb5" d="M1851,249l-11,1-2-5 11,0z"/>
<path color="#4e7ad6" d="M1840,250l-12,9-1-4 11-10z"/>
<path color="#5166ff" d="M1828,259l-12,25-1-2 12-27z"/>
<path color="#35368c" d="M1816,284l-5-4-2,0 6,2z"/>
<path color="#3e59b5" d="M1811,280l-6,4-2-3 6-1z"/>
<path color="#4f60ff" d="M1805,284l-7,14-2-2 7-15z"/>
<path color="#6535e9" d="M1798,298l-6,22-2-4 6-20z"/>
<path color="#5a2273" d="M1792,320l-6-5-2-4 6,5z"/>
<path color="#382e83" d="M1786,315l-8-7 6,3z"/>
<path color="#3a4fa4" d="M1779,309l-6,2-2-3 7,0z"/>
<path color="#476dee" d="M1773,311l-7,6-2-1 7-8z"/>
<path color="#475fff" d="M1766,317l-7,12-1-2 6-11z"/>
<path color="#3641a1" d="M1759,329l-6,2-2-1 7-3z"/>
<path color="#4743ff" d="M1753,331l-7,19-2-2 7-18z"/>
<path color="#4f33a4" d="M1746,350l-7,3-2-1 7-4z"/>
<path color="#6133e5" d="M1739,353l-7,17-2-3 7-15z"/>
<path color="#8125c0" d="M1732,370l-7,15-2-2 7-16z"/>
<path color="#812082" d="M1725,385l-7,6-2-2 7-6z"/>
<path color="#2f095f" d="M1718,391l-10-4 8,2z"/>
<path color="#4873e3" d="M1906,200l-30,26-4-4 31-26z"/>
<path color="#4f69ff" d="M1876,226l-11,18-3-5 10-17z"/>
<path color="#504fd4" d="M1865,244l-11,10-3-5 11-10z"/>
<path color="#4350a1" d="M1854,254l-11,0-3-4 11-1z"/>
<path color="#4873e3" d="M1843,254l-11,10-4-5 12-9z"/>
<path color="#4c5cff" d="M1832,264l-12,23-4-3 12-25z"/>
<path color="#20168f" d="M1820,287l-6-6-3-1 5,4z"/>
<path color="#334db7" d="M1814,281l-6,5-3-2 6-4z"/>
<path color="#4451ff" d="M1808,286l-6,15-4-3 7-14z"/>
<path color="#5b2be2" d="M1802,301l-7,22-3-3 6-22z"/>
<path color="#290a68" d="M1795,323l-9-8 6,5z"/>
<path color="#20138f" d="M1789,318l-6-8-4-1 7,6z"/>
<path color="#2e43a1" d="M1783,310l-7,3-3-2 6-2z"/>
<path color="#3859d2" d="M1776,313l-6,6-4-2 7-6z"/>
<path color="#3a50f5" d="M1770,319l-7,11-4-1 7-12z"/>
<path color="#2b3595" d="M1763,330l-7,2-3-1 6-2z"/>
<path color="#3c39f7" d="M1756,332l-7,20-3-2 7-19z"/>
<path color="#3b278d" d="M1749,352l-7,3-3-2 7-3z"/>
<path color="#512bd9" d="M1742,355l-7,17-3-2 7-17z"/>
<path color="#6d20b5" d="M1735,372l-7,15-3-2 7-15z"/>
<path color="#631970" d="M1728,387l-7,5-3-1 7-6z"/>
<path color="#390a67" d="M1721,392l-3-1z"/>
<path color="#3052c1" d="M1909,201l-30,26-3-1 30-26z"/>
<path color="#384eec" d="M1879,227l-11,18-3-1 11-18z"/>
<path color="#3738b8" d="M1868,245l-11,10-3-1 11-10z"/>
<path color="#1d1576" d="M1857,255l-10,0-4-1 11,0z"/>
<path color="#3052c1" d="M1847,255l-12,10-3-1 11-10z"/>
<path color="#3643ec" d="M1835,265l-12,22-3,0 12-23z"/>
<path color="#281b9c" d="M1823,287l-5-6-4,0 6,6z"/>
<path color="#2a3faa" d="M1818,281l-7,6-3-1 6-5z"/>
<path color="#333fef" d="M1811,287l-6,14-3,0 6-15z"/>
<path color="#4922cf" d="M1805,301l-6,23-4-1 7-22z"/>
<path color="#370d77" d="M1799,324l-6-5-4-1 6,5z"/>
<path color="#29179c" d="M1793,319l-7-9-3,0 6,8z"/>
<path color="#293897" d="M1786,310l-6,3-4,0 7-3z"/>
<path color="#2a41aa" d="M1780,313l-7,6-3,0 6-6z"/>
<path color="#2c41dc" d="M1773,319l-6,11-4,0 7-11z"/>
<path color="#26197b" d="M1767,330l-7,2-4,0 7-2z"/>
<path color="#3232e9" d="M1760,332l-7,21-4-1 7-20z"/>
<path color="#2b0f66" d="M1753,353l-7,2-4,0 7-3z"/>
<path color="#4023c9" d="M1746,355l-7,17-4,0 7-17z"/>
<path color="#531aa3" d="M1739,372l-7,15-4,0 7-15z"/>
<path color="#521461" d="M1732,387l-7,6-4-1 7-5z"/>
<path color="#430c6d" d="M1725,393l-8-3-3-1 7,3z"/>
<path class="m" d="M1909,201l-3-1-3-4-2-4M1899,210l-3-1-3-5-2-4M1889,218l-3-1-3-4-2-4M1879,227l-3-1-4-4-1-5M1868,245l-3-1-3-5-2-5M1857,255l-3-1-3-5-2-4M1847,255l-4-1-3-4-2-5M1835,265l-3-1-4-5-1-4M1823,287l-3,0-4-3-1-2M1811,287l-3-1-3-2-2-3M1799,324l-4-1-3-3-2-4M1786,310l-3,0-4-1-1-1M1773,319l-3,0-4-2-2-1M1760,332l-4,0-5-2M1746,355l-4,0-3-2-2-1M1732,387l-4,0-3-2-2-2"/>
<path class="m" d="M1909,201l-30,26-11,18-11,10-10,0-12,10-12,22-5-6-7,6-6,14-6,23-6-5-7-9-6,3-7,6-6,11-7,2-7,21-7,2-7,17-7,15-7,6-8-3"/>
<path color="#273b9c" d="M1913,201l-30,26-4,0 30-26z"/>
<path color="#2a3ac6" d="M1883,227l-11,17-4,1 11-18z"/>
<path color="#2b2893" d="M1872,244l-11,11-4,0 11-10z"/>
<path color="#291c83" d="M1861,255l-11,0-3,0 10,0z"/>
<path color="#273b9c" d="M1850,255l-11,10-4,0 12-10z"/>
<path color="#2b36cd" d="M1839,265l-12,22-4,0 12-22z"/>
<path color="#2c20a3" d="M1827,287l-6-7-3,1 5,6z"/>
<path color="#27389b" d="M1821,280l-6,6-4,1 7-6z"/>
<path color="#2a37dc" d="M1815,286l-6,15-4,0 6-14z"/>
<path color="#3c1fc6" d="M1809,301l-6,23-4,0 6-23z"/>
<path color="#3f0f7f" d="M1803,324l-6-6-4,1 6,5z"/>
<path color="#2d1ba2" d="M1797,318l-7-9-4,1 7,9z"/>
<path color="#271d73" d="M1790,309l-6,4-4,0 6-3z"/>
<path color="#263798" d="M1784,313l-7,5-4,1 7-6z"/>
<path color="#293bc9" d="M1777,318l-6,12-4,0 6-11z"/>
<path color="#2a1e82" d="M1771,330l-11,2 7-2z"/>
<path color="#2c30e1" d="M1764,331l-7,21-4,1 7-21z"/>
<path color="#30126f" d="M1757,352l-7,3-4,0 7-2z"/>
<path color="#3520c0" d="M1750,355l-7,17-4,0 7-17z"/>
<path color="#46169a" d="M1743,372l-7,15-4,0 7-15z"/>
<path color="#49115d" d="M1736,387l-7,5-4,1 7-6z"/>
<path color="#460d73" d="M1729,392l-8-3-4,1 8,3z"/>
<path class="m" d="M1913,201l-4,0M1903,209l-4,1M1893,218l-4,0M1883,227l-4,0M1872,244l-4,1M1861,255l-4,0M1850,255l-3,0M1839,265l-4,0M1827,287l-4,0M1815,286l-4,1M1803,324l-4,0M1790,309l-4,1M1777,318l-4,1M1764,331l-4,1M1750,355l-4,0M1736,387l-4,0"/>
<path color="#2c246a" d="M1920,197l-30,26-7,4 30-26z"/>
<path color="#2431a9" d="M1890,223l-11,18-7,3 11-17z"/>
<path color="#2d1860" d="M1879,241l-10,10-8,4 11-11z"/>
<path color="#2e258d" d="M1869,251l-11,0-8,4 11,0z"/>
<path color="#2c246a" d="M1858,251l-11,10-8,4 11-10z"/>
<path color="#2531b4" d="M1847,261l-12,22-8,4 12-22z"/>
<path color="#2e28ab" d="M1835,283l-6-7-8,4 6,7z"/>
<path color="#24308b" d="M1829,276l-6,6-8,4 6-6z"/>
<path color="#2535ca" d="M1823,282l-6,15-8,4 6-15z"/>
<path color="#2d1ec4" d="M1817,297l-7,23-7,4 6-23z"/>
<path color="#3f148a" d="M1810,320l-6-5-7,3 6,6z"/>
<path color="#3024ab" d="M1804,315l-6-9-8,3 7,9z"/>
<path color="#2d267b" d="M1798,306l-8,3z"/>
<path color="#2c246a" d="M1792,309l-7,6-8,3 7-5z"/>
<path color="#2436b3" d="M1785,315l-7,11-7,4 6-12z"/>
<path color="#2d278b" d="M1778,326l-6,2-8,3 7-1z"/>
<path color="#2632d6" d="M1772,328l-7,21-8,3 7-21z"/>
<path color="#321879" d="M1765,349l-7,2-8,4 7-3z"/>
<path color="#2a1fb8" d="M1758,351l-7,18-8,3 7-17z"/>
<path color="#391592" d="M1751,369l-7,15-8,3 7-15z"/>
<path color="#4b0b4f" d="M1744,384l-8,5-7,3 7-5z"/>
<path color="#45117e" d="M1736,389l-7-3-8,3 8,3z"/>
<path color="#363977" d="M1928,190l-30,26 22-19z"/>
<path color="#232d8b" d="M1898,216l-11,18-8,7 11-18z"/>
<path color="#312b73" d="M1887,234l-11,10-7,7 10-10z"/>
<path color="#363a96" d="M1876,244l-10,0-8,7 11,0z"/>
<path color="#363977" d="M1866,244l-8,7z"/>
<path color="#222e98" d="M1854,254l-12,22-7,7 12-22z"/>
<path color="#353eb4" d="M1842,276l-5-7-8,7 6,7z"/>
<path color="#353671" d="M1837,269l-8,7z"/>
<path color="#2334ae" d="M1831,275l-7,15-7,7 6-15z"/>
<path color="#2424c0" d="M1824,290l-6,23-8,7 7-23z"/>
<path color="#39209e" d="M1818,313l-6-5-8,7 6,5z"/>
<path color="#333aba" d="M1812,308l-6-10-8,8 6,9z"/>
<path color="#373c86" d="M1806,298l-7,4-7,7 6-3z"/>
<path color="#363977" d="M1799,302l-7,7z"/>
<path color="#233294" d="M1793,307l-7,12-8,7 7-11z"/>
<path color="#363c93" d="M1786,319l-7,1-7,8 6-2z"/>
<path color="#2235c4" d="M1779,320l-6,22-8,7 7-21z"/>
<path color="#342a8a" d="M1773,342l-7,2-8,7 7-2z"/>
<path color="#2324aa" d="M1766,344l-7,18-8,7 7-18z"/>
<path color="#29158c" d="M1759,362l-8,15-7,7 7-15z"/>
<path color="#441364" d="M1751,377l-7,5-8,7 8-5z"/>
<path color="#3b1b93" d="M1744,382l-7-3-8,7 7,3z"/>
<path color="#3c4a7f" d="M1928,189l-29,26 29-25z"/>
<path color="#363964" d="M1899,215l-11,18 10-17z"/>
<path color="#373a7b" d="M1888,233l-11,10 10-9z"/>
<path color="#3b4b9a" d="M1877,243l-10,0-1,1 10,0z"/>
<path color="#3c4a7f" d="M1867,243l-12,10 11-9z"/>
<path color="#23318c" d="M1855,253l-12,22 11-21z"/>
<path color="#3b4eb6" d="M1843,275l-5-7-1,1 5,7z"/>
<path color="#3b477a" d="M1838,268l-6,6 5-5z"/>
<path color="#2438a1" d="M1832,274l-7,15-1,1 7-15z"/>
<path color="#222bbe" d="M1825,289l-6,24-1,0 6-23z"/>
<path color="#382ea8" d="M1819,313l-6-6-1,1 6,5z"/>
<path color="#394abe" d="M1813,307l-6-10-1,1 6,10z"/>
<path color="#3c4d8c" d="M1807,297l-7,4-1,1 7-4z"/>
<path color="#3c4a7f" d="M1800,301l-6,5 5-4z"/>
<path color="#353b64" d="M1794,306l-7,12 6-11z"/>
<path color="#3c4d98" d="M1787,318l-7,1-1,1 7-1z"/>
<path color="#243ab8" d="M1780,319l-7,22 0,1 6-22z"/>
<path color="#373992" d="M1773,341l-7,2 0,1 7-2z"/>
<path color="#2129a5" d="M1766,343l-7,18 0,1 7-18z"/>
<path color="#241989" d="M1759,361l-7,15 7-14z"/>
<path color="#3b1a73" d="M1752,376l-7,5 6-4z"/>
<path color="#3a289e" d="M1745,381l-7-3-1,1 7,3z"/>
<path class="m" d="M1928,189l-8,8-7,4M1919,197l-9,8-7,4M1909,206l-9,8-7,4M1899,215l-9,8-7,4M1888,233l-9,8-7,3M1877,243l-8,8-8,4M1867,243l-9,8-8,4M1855,253l-8,8-8,4M1843,275l-8,8-8,4M1832,274l-9,8-8,4M1819,313l-9,7-7,4M1807,297l-9,9-8,3M1794,306l-9,9-8,3M1780,319l-8,9-8,3M1766,343l-8,8-8,4M1752,376l-8,8-8,3"/>
<path class="m" d="M1928,189l-29,26-11,18-11,10-10,0-12,10-12,22-5-7-6,6-7,15-6,24-6-6-6-10-7,4-6,5-7,12-7,1-7,22-7,2-7,18-7,15-7,5-7-3"/>
<path color="#475981" d="M1935,179l-29,26-7,10 29-26z"/>
<path color="#3e4a6b" d="M1906,205l-11,18-7,10 11-18z"/>
<path color="#3c4d82" d="M1895,223l-11,10-7,10 11-10z"/>
<path color="#445c9c" d="M1884,233l-10,0-7,10 10,0z"/>
<path color="#475981" d="M1874,233l-12,9-7,11 12-10z"/>
<path color="#3b4566" d="M1862,242l-12,23-7,10 12-22z"/>
<path color="#4261b7" d="M1850,265l-5-7-7,10 5,7z"/>
<path color="#46577d" d="M1845,258l-6,6-7,10 6-6z"/>
<path color="#273b94" d="M1839,264l-7,15-7,10 7-15z"/>
<path color="#2233b7" d="M1832,279l-6,23-7,11 6-24z"/>
<path color="#3940b2" d="M1826,302l-6-6-7,11 6,6z"/>
<path color="#3f5ec0" d="M1820,296l-6-9-7,10 6,10z"/>
<path color="#475c8d" d="M1814,287l-7,3-7,11 7-4z"/>
<path color="#475982" d="M1807,290l-6,6-7,10 6-5z"/>
<path color="#3f4966" d="M1801,296l-7,11-7,11 7-12z"/>
<path color="#455d98" d="M1794,307l-7,2-7,10 7-1z"/>
<path color="#2540ad" d="M1787,309l-7,21-7,11 7-22z"/>
<path color="#3c4b96" d="M1780,330l-6,2-8,11 7-2z"/>
<path color="#222f9a" d="M1774,332l-8,18-7,11 7-18z"/>
<path color="#212087" d="M1766,350l-7,15-7,11 7-15z"/>
<path color="#3a2980" d="M1759,365l-7,6-7,10 7-5z"/>
<path color="#3839a9" d="M1752,371l-7-4-7,11 7,3z"/>
<path class="m" d="M1935,179l-7,10M1926,187l-7,10M1916,196l-7,10M1906,205l-7,10M1895,223l-7,10M1884,233l-7,10M1874,233l-7,10M1862,242l-7,11M1850,265l-7,10M1839,264l-7,10M1826,302l-7,11M1814,287l-7,10M1801,296l-7,10M1787,309l-7,10M1774,332l-8,11M1759,365l-7,11"/>
<path color="#4b3e55" d="M1943,175l-30,26-7,4 29-26z"/>
<path color="#345ea4" d="M1913,201l-10,18-8,4 11-18z"/>
<path color="#383665" d="M1903,219l-11,10-8,4 11-10z"/>
<path color="#40488c" d="M1892,229l-11,0-7,4 10,0z"/>
<path color="#4b3e55" d="M1881,229l-11,10-8,3 12-9z"/>
<path color="#3261b5" d="M1870,239l-12,22-8,4 12-23z"/>
<path color="#3f50ac" d="M1858,261l-5-7-8,4 5,7z"/>
<path color="#3c5572" d="M1853,254l-6,6-8,4 6-6z"/>
<path color="#3369ca" d="M1847,260l-7,15-8,4 7-15z"/>
<path color="#295bed" d="M1840,275l-6,24-8,3 6-23z"/>
<path color="#323daf" d="M1834,299l-6-6-8,3 6,6z"/>
<path color="#3b4fb4" d="M1828,293l-6-10-8,4 6,9z"/>
<path color="#4a4468" d="M1822,283l-8,4z"/>
<path color="#4b3e55" d="M1815,286l-6,6-8,4 6-6z"/>
<path color="#3963a2" d="M1809,292l-7,12-8,3 7-11z"/>
<path color="#454881" d="M1802,304l-6,1-9,4 7-2z"/>
<path color="#316adf" d="M1796,305l-7,21-9,4 7-21z"/>
<path color="#373e87" d="M1789,326l-7,3-8,3 6-2z"/>
<path color="#2a5bd8" d="M1782,329l-7,18-9,3 8-18z"/>
<path color="#2646c8" d="M1775,347l-8,15-8,3 7-15z"/>
<path color="#2c2672" d="M1767,362l-7,5-8,4 7-6z"/>
<path color="#3138a7" d="M1760,367l-7-3-8,3 7,4z"/>
<path color="#76cdc2" d="M1948,188l-30,26-5-13 30-26z"/>
<path color="#6acded" d="M1918,214l-11,18-4-13 10-18z"/>
<path color="#60b8da" d="M1907,232l-10,11-5-14 11-10z"/>
<path color="#60afb3" d="M1897,243l-10,0-6-14 11,0z"/>
<path color="#76cdc2" d="M1887,243l-12,10-5-14 11-10z"/>
<path color="#68cbf6" d="M1875,253l-12,23-5-15 12-22z"/>
<path color="#538f8f" d="M1863,276l-5-8-5-14 5,7z"/>
<path color="#75cfca" d="M1858,268l-6,6-5-14 6-6z"/>
<path color="#69cfff" d="M1852,274l-6,16-6-15 7-15z"/>
<path color="#54a3ff" d="M1846,290l-7,23-5-14 6-24z"/>
<path color="#446d94" d="M1839,313l-6-6-5-14 6,6z"/>
<path color="#4b828c" d="M1833,307l-6-9-5-15 6,10z"/>
<path color="#6ec3bd" d="M1827,298l-6,3-6-15 7-3z"/>
<path color="#76cdc2" d="M1821,301l-6,6-6-15 6-6z"/>
<path color="#6ed3f1" d="M1815,307l-7,12-6-15 7-12z"/>
<path color="#64b5b6" d="M1808,319l-7,1-5-15 6-1z"/>
<path color="#63c7ff" d="M1801,320l-7,22-5-16 7-21z"/>
<path color="#55a0c1" d="M1794,342l-7,2-5-15 7-3z"/>
<path color="#57aeff" d="M1787,344l-7,18-5-15 7-18z"/>
<path color="#5186ff" d="M1780,362l-7,15-6-15 8-15z"/>
<path color="#4b6dd0" d="M1773,377l-7,6-6-16 7-5z"/>
<path color="#456999" d="M1766,383l-7-4-6-15 7,3z"/>
<path class="m" d="M1948,188l-5-13-8,4M1938,197l-5-13-7,3M1928,205l-4-13-8,4M1918,214l-5-13-7,4M1907,232l-4-13-8,4M1897,243l-5-14-8,4M1887,243l-6-14-7,4M1875,253l-5-14-8,3M1863,276l-5-15-8,4M1852,274l-5-14-8,4M1839,313l-5-14-8,3M1827,298l-5-15-8,4M1815,307l-6-15-8,4M1801,320l-5-15-9,4M1787,344l-5-15-8,3M1773,377l-6-15-8,3"/>
<path class="m" d="M1948,188l-30,26-11,18-10,11-10,0-12,10-12,23-5-8-6,6-6,16-7,23-6-6-6-9-6,3-6,6-7,12-7,1-7,22-7,2-7,18-7,15-7,6-7-4"/>
<path color="#62bdd9" d="M1949,192l-29,27-2-5 30-26z"/>
<path color="#5dbdf9" d="M1920,219l-11,18-2-5 11-18z"/>
<path color="#55a4e1" d="M1909,237l-10,10-2-4 10-11z"/>
<path color="#539eb6" d="M1899,247l-11,0-1-4 10,0z"/>
<path color="#62bdd9" d="M1888,247l-11,10-2-4 12-10z"/>
<path color="#5bbbff" d="M1877,257l-12,23-2-4 12-23z"/>
<path color="#467e92" d="M1865,280l-5-7-2-5 5,8z"/>
<path color="#62bfdf" d="M1860,273l-6,6-2-5 6-6z"/>
<path color="#5cbeff" d="M1854,279l-6,15-2-4 6-16z"/>
<path color="#4d84ff" d="M1848,294l-7,24-2-5 7-23z"/>
<path color="#3e5593" d="M1841,318l-6-6-2-5 6,6z"/>
<path color="#406f8d" d="M1835,312l-6-9-2-5 6,9z"/>
<path color="#5db3ca" d="M1829,303l-6,3-2-5 6-3z"/>
<path color="#62bdd9" d="M1823,306l-6,6-2-5 6-6z"/>
<path color="#61c3fd" d="M1817,312l-7,12-2-5 7-12z"/>
<path color="#57a4ba" d="M1810,324l-7,1-2-5 7-1z"/>
<path color="#56b2ff" d="M1803,325l-7,22-2-5 7-22z"/>
<path color="#4e87c0" d="M1796,347l-6,2-3-5 7-2z"/>
<path color="#518fff" d="M1790,349l-8,18-2-5 7-18z"/>
<path color="#5168fe" d="M1782,367l-7,15-2-5 7-15z"/>
<path color="#5051c4" d="M1775,382l-7,6-2-5 7-6z"/>
<path color="#425194" d="M1768,388l-7-4-2-5 7,4z"/>
<path color="#55aee2" d="M1956,205l-29,27-7-13 29-27z"/>
<path color="#55a7ff" d="M1927,232l-11,18-7-13 11-18z"/>
<path color="#4f8ae3" d="M1916,250l-10,11-7-14 10-10z"/>
<path color="#4b87b3" d="M1906,261l-11,0-7-14 11,0z"/>
<path color="#55aee2" d="M1895,261l-11,10-7-14 11-10z"/>
<path color="#54a1ff" d="M1884,271l-12,23-7-14 12-23z"/>
<path color="#3e6791" d="M1872,294l-5-7-7-14 5,7z"/>
<path color="#56afe9" d="M1867,287l-6,6-7-14 6-6z"/>
<path color="#54a4ff" d="M1861,293l-6,16-7-15 6-15z"/>
<path color="#4c65ff" d="M1855,309l-7,23-7-14 7-24z"/>
<path color="#3f3e89" d="M1848,332l-5-5-8-15 6,6z"/>
<path color="#39588b" d="M1843,327l-6-10-8-14 6,9z"/>
<path color="#52a1ce" d="M1837,317l-6,4-8-15 6-3z"/>
<path color="#55aee1" d="M1831,321l-7,6-7-15 6-6z"/>
<path color="#57afff" d="M1824,327l-6,12-8-15 7-12z"/>
<path color="#4d8fb9" d="M1818,339l-7,1-8-15 7-1z"/>
<path color="#4f94ff" d="M1811,340l-7,22-8-15 7-22z"/>
<path color="#486dbe" d="M1804,362l-7,2-7-15 6-2z"/>
<path color="#4e72ff" d="M1797,364l-7,18-8-15 8-18z"/>
<path color="#574af4" d="M1790,382l-7,16-8-16 7-15z"/>
<path color="#5a39b6" d="M1783,398l-7,5-8-15 7-6z"/>
<path color="#44398a" d="M1776,403l-7-3-8-16 7,4z"/>
<path class="m" d="M1956,205l-8-17M1946,214l-8-17M1937,223l-9-18M1927,232l-9-18M1916,250l-9-18M1906,261l-9-18M1895,261l-8-18M1884,271l-9-18M1872,294l-9-18M1861,293l-9-19M1848,332l-9-19M1837,317l-10-19M1824,327l-9-20M1811,340l-10-20M1797,364l-10-20M1783,398l-10-21"/>
<path color="#4d8ce4" d="M1962,215l-28,27-7-10 29-27z"/>
<path color="#4d82ff" d="M1934,242l-11,18-7-10 11-18z"/>
<path color="#4c67e0" d="M1923,260l-10,11-7-10 10-11z"/>
<path color="#4164a9" d="M1913,271l-10,0-8-10 11,0z"/>
<path color="#4d8ce4" d="M1903,271l-11,11-8-11 11-10z"/>
<path color="#4c7cff" d="M1892,282l-12,23-8-11 12-23z"/>
<path color="#1a1b84" d="M1880,305l-8-11z"/>
<path color="#4d8ded" d="M1875,298l-6,6-8-11 6-6z"/>
<path color="#4b7cff" d="M1869,304l-6,15-8-10 6-16z"/>
<path color="#4e3dff" d="M1863,319l-7,24-8-11 7-23z"/>
<path color="#432579" d="M1856,343l-6-6-7-10 5,5z"/>
<path color="#1b1988" d="M1850,337l-13-20 6,10z"/>
<path color="#497ecc" d="M1845,328l-7,4-7-11 6-4z"/>
<path color="#4d8be4" d="M1838,332l-6,6-8-11 7-6z"/>
<path color="#4e8aff" d="M1832,338l-7,12-7-11 6-12z"/>
<path color="#436cb1" d="M1825,350l-6,2-8-12 7-1z"/>
<path color="#496bff" d="M1819,352l-7,21-8-11 7-22z"/>
<path color="#494bac" d="M1812,373l-7,3-8-12 7-2z"/>
<path color="#524aff" d="M1805,376l-7,18-8-12 7-18z"/>
<path color="#6e33dc" d="M1798,394l-7,15-8-11 7-16z"/>
<path color="#74289d" d="M1791,409l-7,6-8-12 7-5z"/>
<path color="#4f2478" d="M1784,415l-7-3-8-12 7,3z"/>
<path color="#4678e3" d="M1965,217l-29,28-2-3 28-27z"/>
<path color="#4b6dff" d="M1936,245l-10,18-3-3 11-18z"/>
<path color="#4d53d7" d="M1926,263l-11,11-2-3 10-11z"/>
<path color="#3e51a2" d="M1915,274l-10,0-2-3 10,0z"/>
<path color="#4678e3" d="M1905,274l-11,11-2-3 11-11z"/>
<path color="#4c66ff" d="M1894,285l-11,23-3-3 12-23z"/>
<path color="#1b1787" d="M1883,308l-8-10 5,7z"/>
<path color="#4778ed" d="M1877,301l-5,6-3-3 6-6z"/>
<path color="#4a66ff" d="M1872,307l-7,15-2-3 6-15z"/>
<path color="#5732ef" d="M1865,322l-6,24-3-3 7-24z"/>
<path color="#260b6a" d="M1859,346l-9-9 6,6z"/>
<path color="#1c158b" d="M1853,341l-6-9-2-4 5,9z"/>
<path color="#426ac7" d="M1847,332l-6,3-3-3 7-4z"/>
<path color="#4677e3" d="M1841,335l-6,6-3-3 6-6z"/>
<path color="#4a75ff" d="M1835,341l-7,12-3-3 7-12z"/>
<path color="#3f58a7" d="M1828,353l-6,2-3-3 6-2z"/>
<path color="#4855ff" d="M1822,355l-7,22-3-4 7-21z"/>
<path color="#48389f" d="M1815,377l-7,2-3-3 7-3z"/>
<path color="#593af6" d="M1808,379l-7,18-3-3 7-18z"/>
<path color="#7928cc" d="M1801,397l-7,16-3-4 7-15z"/>
<path color="#7e228d" d="M1794,413l-7,6-3-4 7-6z"/>
<path color="#521b6d" d="M1787,419l-7-3-3-4 7,3z"/>
<path class="m" d="M1965,217l-3-2-6-10M1956,226l-3-3-7-9M1946,235l-3-3-6-9M1936,245l-2-3-7-10M1926,263l-3-3-7-10M1915,274l-2-3-7-10M1905,274l-2-3-8-10M1894,285l-2-3-8-11M1883,308l-3-3-8-11M1872,307l-3-3-8-11M1859,346l-3-3-8-11M1847,332l-2-4-8-11M1835,341l-3-3-8-11M1822,355l-3-3-8-12M1808,379l-3-3-8-12M1794,413l-3-4-8-11"/>
<path class="m" d="M1965,217l-29,28-10,18-11,11-10,0-11,11-11,23-6-7-5,6-7,15-6,24-6-5-6-9-6,3-6,6-7,12-6,2-7,22-7,2-7,18-7,16-7,6-7-3"/>
<path color="#426cdf" d="M1969,221l-28,28-5-4 29-28z"/>
<path color="#4a62ff" d="M1941,249l-11,18-4-4 10-18z"/>
<path color="#4b48d1" d="M1930,267l-10,11-5-4 11-11z"/>
<path color="#3a459d" d="M1920,278l-10,0-5-4 10,0z"/>
<path color="#406add" d="M1910,278l-11,10-5-3 11-11z"/>
<path color="#495aff" d="M1899,288l-12,24-4-4 11-23z"/>
<path color="#1c168a" d="M1887,312l-5-7-5-4 6,7z"/>
<path color="#446ce6" d="M1882,305l-6,6-4-4 5-6z"/>
<path color="#475aff" d="M1876,311l-6,15-5-4 7-15z"/>
<path color="#572ce4" d="M1870,326l-6,24-5-4 6-24z"/>
<path color="#290b6d" d="M1864,350l-6-5-5-4 6,5z"/>
<path color="#1d148e" d="M1858,345l-6-9-5-4 6,9z"/>
<path color="#3f5ebc" d="M1852,336l-6,4-5-5 6-3z"/>
<path color="#426bdd" d="M1846,340l-6,6-5-5 6-6z"/>
<path color="#4868ff" d="M1840,346l-7,12-5-5 7-12z"/>
<path color="#3a4ca1" d="M1833,358l-6,1-5-4 6-2z"/>
<path color="#4549ff" d="M1827,359l-7,22-5-4 7-22z"/>
<path color="#473195" d="M1820,381l-6,3-6-5 7-2z"/>
<path color="#5b34ec" d="M1814,384l-7,18-6-5 7-18z"/>
<path color="#7925c3" d="M1807,402l-7,15-6-4 7-16z"/>
<path color="#7c2085" d="M1800,417l-7,6-6-4 7-6z"/>
<path color="#2c095e" d="M1793,423l-7-2-6-5 7,3z"/>
<path color="#3250b8" d="M1975,224l-9,6-6,0 9-9z"/>
<path color="#3152c8" d="M1966,230l-10,12-5-3 9-9z"/>
<path color="#3b5cd4" d="M1956,242l-10,10-5-3 10-10z"/>
<path color="#4554f8" d="M1946,252l-10,18-6-3 11-18z"/>
<path color="#433bc4" d="M1936,270l-10,11-6-3 10-11z"/>
<path color="#221884" d="M1926,281l-10-4-6,1 10,0z"/>
<path color="#263a9a" d="M1916,277l-11,10-6,1 11-10z"/>
<path color="#3644f0" d="M1905,287l-12,29-6-4 12-24z"/>
<path color="#1d1590" d="M1893,316l-5-7-6-4 5,7z"/>
<path color="#3553c1" d="M1888,309l-6,4-6-2 6-6z"/>
<path color="#2d3ee2" d="M1882,313l-6,12-6,1 6-15z"/>
<path color="#4121cd" d="M1876,325l-7,27-5-2 6-24z"/>
<path color="#390e7d" d="M1869,352l-5-7-6,0 6,5z"/>
<path color="#261798" d="M1864,345l-6-6-6-3 6,9z"/>
<path color="#2e46a4" d="M1858,339l-6,3-6-2 6-4z"/>
<path color="#2c4ab2" d="M1852,342l-6,5-6-1 6-6z"/>
<path color="#3b54ff" d="M1846,347l-7,15-6-4 7-12z"/>
<path color="#221b8b" d="M1839,362l-6-3-6,0 6-1z"/>
<path color="#3437f2" d="M1833,359l-7,25-6-3 7-22z"/>
<path color="#38268c" d="M1826,384l-6,3-6-3 6-3z"/>
<path color="#522bdd" d="M1820,387l-7,19-6-4 7-18z"/>
<path color="#5a1da8" d="M1813,406l-7,11-6,0 7-15z"/>
<path color="#541775" d="M1806,417l-7,9-6-3 7-6z"/>
<path color="#300963" d="M1799,426l-7-1-6-4 7,2z"/>
<path class="m" d="M1975,224l-6-3-4-4M1966,230l-6,0-4-4M1956,242l-5-3-5-4M1946,252l-5-3-5-4M1936,270l-6-3-4-4M1926,281l-6-3-5-4M1916,277l-6,1-5-4M1905,287l-6,1-5-3M1893,316l-6-4-4-4M1882,313l-6-2-4-4M1869,352l-5-2-5-4M1858,339l-6-3-5-4M1846,347l-6-1-5-5M1833,359l-6,0-5-4M1820,387l-6-3-6-5M1806,417l-6,0-6-4"/>
<path color="#2b217a" d="M1977,225l-9,3-2,2 9-6z"/>
<path color="#222786" d="M1968,228l-10,13-2,1 10-12z"/>
<path color="#2c45ba" d="M1958,241l-9,12-3-1 10-10z"/>
<path color="#3a46e6" d="M1949,253l-11,18-2-1 10-18z"/>
<path color="#342ead" d="M1938,271l-10,11-2-1 10-11z"/>
<path color="#35299f" d="M1928,282l-9-10-3,5 10,4z"/>
<path color="#3a4189" d="M1919,272l-11,11-3,4 11-10z"/>
<path color="#2424aa" d="M1908,283l-12,33-3,0 12-29z"/>
<path color="#241897" d="M1896,316l-5-6-3-1 5,7z"/>
<path color="#281e77" d="M1891,310l-6,1-3,2 6-4z"/>
<path color="#342969" d="M1885,311l-6,8-3,6 6-12z"/>
<path color="#2b16a4" d="M1879,319l-7,32-3,1 7-27z"/>
<path color="#4e178f" d="M1872,351l-5-10-3,4 5,7z"/>
<path color="#37219a" d="M1867,341l-6-2-3,0 6,6z"/>
<path color="#2c2284" d="M1861,339l-6,1-3,2 6-3z"/>
<path color="#30277b" d="M1855,340l-9,7 6-5z"/>
<path color="#2736d3" d="M1849,345l-7,18-3-1 7-15z"/>
<path color="#332dac" d="M1842,363l-6-9-3,5 6,3z"/>
<path color="#2424bd" d="M1836,354l-7,29-3,1 7-25z"/>
<path color="#34126e" d="M1829,383l-7,4-2,0 6-3z"/>
<path color="#381fbf" d="M1822,387l-7,19-2,0 7-19z"/>
<path color="#530b42" d="M1815,406l-7,7-7,12-2,1 7-9 7-11z"/>
<path color="#460c69" d="M1801,425l-7,0-2,0 7,1z"/>
<path color="#363698" d="M1979,226l-8-4-3,6 9-3z"/>
<path color="#363674" d="M1971,222l-10,17-3,2 10-13z"/>
<path color="#26329b" d="M1961,239l-10,14-2,0 9-12z"/>
<path color="#2e3acf" d="M1951,253l-10,18-3,0 11-18z"/>
<path color="#2d2491" d="M1941,271l-11,11-2,0 10-11z"/>
<path color="#3b42b6" d="M1930,282l-8-20-3,10 9,10z"/>
<path color="#436097" d="M1922,262l-11,10-3,11 11-11z"/>
<path color="#202290" d="M1911,272l-13,44-2,0 12-33z"/>
<path color="#2a1b9c" d="M1898,316l-5-6-2,0 5,6z"/>
<path color="#332f9b" d="M1893,310l-5-3-3,4 6-1z"/>
<path color="#3d4a96" d="M1888,307l-6,1-3,11 6-8z"/>
<path color="#231993" d="M1882,308l-7,38-3,5 7-32z"/>
<path color="#4c24a3" d="M1875,346l-5-13-3,8 5,10z"/>
<path color="#393498" d="M1870,333l-6,4-6-1-3,4 6-1 6,2z"/>
<path color="#3b4594" d="M1858,336l-6,3-3,6 6-5z"/>
<path color="#222ab5" d="M1852,339l-7,24-3,0 7-18z"/>
<path color="#3b48ca" d="M1845,363l-6-20-3,11 6,9z"/>
<path color="#2025a6" d="M1839,343l-8,38-2,2 7-29z"/>
<path color="#3b1b7c" d="M1831,381l-6,3-3,3 7-4z"/>
<path color="#2d169e" d="M1825,384l-7,20-3,2 7-19z"/>
<path color="#581771" d="M1818,404l-7,1-3,8 7-7z"/>
<path color="#581251" d="M1811,405l-7,17-3,3 7-12z"/>
<path color="#520f69" d="M1804,422l-7,3-3,0 7,0z"/>
<path color="#3f51ad" d="M1982,225l-8-14-3,11 8,4z"/>
<path color="#3e4f80" d="M1974,211l-10,24-3,4 10-17z"/>
<path color="#2e235f" d="M1964,235l-10,18-3,0 10-14z"/>
<path color="#292eab" d="M1954,253l-11,17-2,1 10-18z"/>
<path color="#30145e" d="M1943,270l-10,10-3,2 11-11z"/>
<path color="#4362c4" d="M1933,280l-8-36-3,18 8,20z"/>
<path color="#568298" d="M1925,244l-10,10-4,18 11-10z"/>
<path color="#37426e" d="M1915,254l-14,61-3,1 13-44z"/>
<path color="#301f9f" d="M1901,315l-5-5-3,0 5,6z"/>
<path color="#3c4ab7" d="M1896,310l-5-12-3,9 5,3z"/>
<path color="#4874b0" d="M1891,298l-5-11-4,21 6-1z"/>
<path color="#33396e" d="M1886,287l-8,51-3,8 7-38z"/>
<path color="#443eb9" d="M1878,338l-5-20-3,15 5,13z"/>
<path color="#3c478a" d="M1873,318l-7,15-2,4 6-4z"/>
<path color="#3e4fab" d="M1866,333l-5-5-3,8 6,1z"/>
<path color="#4463a1" d="M1861,328l-6-1-3,12 6-3z"/>
<path color="#212ca7" d="M1855,327l-8,35-2,1 7-24z"/>
<path color="#4368da" d="M1847,362l-5-38-3,19 6,20z"/>
<path color="#212d95" d="M1842,324l-8,50-3,7 8-38z"/>
<path color="#3f2d8b" d="M1834,374l-6,5-3,5 6-3z"/>
<path color="#251589" d="M1828,379l-7,22-3,3 7-20z"/>
<path color="#4a279b" d="M1821,401l-7-13-3,17 7-1z"/>
<path color="#451e62" d="M1814,388l-7,28-3,6 7-17z"/>
<path color="#54166d" d="M1807,416l-7,7-3,2 7-3z"/>
<path color="#4772c0" d="M1984,224l-6-30-4,17 8,14z"/>
<path color="#496982" d="M1978,194l-11,35-3,6 10-24z"/>
<path color="#353569" d="M1967,229l-11,23-2,1 10-18z"/>
<path color="#232086" d="M1956,252l-10,16-3,2 11-17z"/>
<path color="#361f70" d="M1946,268l-13,12 10-10z"/>
<path color="#5289ca" d="M1936,278l-6-63-5,29 8,36z"/>
<path color="#af9749" d="M1930,215l-11,10-4,29 10-10z"/>
<path color="#425e71" d="M1919,225l-16,87-2,3 14-61z"/>
<path color="#3629a4" d="M1903,312l-5-4-2,2 5,5z"/>
<path color="#4368ce" d="M1898,308l-4-24-3,14 5,12z"/>
<path color="#78a191" d="M1894,284l-4-31-4,34 5,11z"/>
<path color="#425f71" d="M1890,253l-9,71-3,14 8-51z"/>
<path color="#476ec9" d="M1881,324l-4-31-4,25 5,20z"/>
<path color="#42617d" d="M1877,293l-8,33-3,7 7-15z"/>
<path color="#476fba" d="M1869,326l-5-12-3,14 5,5z"/>
<path color="#5583a6" d="M1864,314l-6-5-3,18 6,1z"/>
<path color="#2335a4" d="M1858,309l-8,51-3,2 8-35z"/>
<path color="#518de0" d="M1850,360l-4-67-4,31 5,38z"/>
<path color="#445f6e" d="M1846,293l-9,71-3,10 8-50z"/>
<path color="#3c4498" d="M1837,364l-6,5-3,10 6-5z"/>
<path color="#372765" d="M1831,369l-8,26-2,6 7-22z"/>
<path color="#414ec5" d="M1823,395l-6-33-3,26 7,13z"/>
<path color="#383b71" d="M1817,362l-7,43-3,11 7-28z"/>
<path color="#471f71" d="M1810,405l-7,14-3,4 7-7z"/>
<path class="m" d="M1984,224l-2,1-3,1-4-2M1978,194l-4,17-3,11-3,6-2,2M1967,229l-3,6-3,4-3,2-2,1M1956,252l-2,1-3,0-5-1M1946,268l-3,2-2,1-3,0-2-1M1936,278l-3,2-3,2-2,0-2-1M1930,215l-5,29-3,18-3,10-3,5M1919,225l-4,29-4,18-3,11-3,4M1903,312l-2,3-3,1-2,0-3,0M1894,284l-3,14-3,9-3,4-3,2M1881,324l-3,14-3,8-3,5-3,1M1869,326l-3,7-2,4-3,2-3,0M1858,309l-3,18-3,12-3,6-3,2M1846,293l-4,31-3,19-3,11-3,5M1831,369l-3,10-3,5-3,3-2,0M1817,362l-3,26-3,17-3,8-2,4"/>
<path class="e" d="M1803,419l-3,4-3,2-3,0-2,0-6-4-6-5-3-4-8-12-8-16-8-20-8,3-8,12-8,7-8,3-4,1-3-1-4-1-4-3-1-2-4-8-8-20-2,0-5,11-3,5-2,2-1,0-4,0-8-6-7-9-3-4-5-8-8-16-8-22-6,14-6,10-5,5-2,1-7,3-6-1-2-1-3-2-4-5-9-23-1,0-6,14-2,3-3,1-4-2-7-6-7-9-7-12-7-17-8-13-5,14-5,9-6,5-2,1-3,1-4-1-3-2-3-5-4-13M1984,224l-6-30-11,35-11,23-10,16-10,10-6-63-11,10-16,87-5-4-4-24-4-31-9,71-4-31-8,33-5-12-6-5-8,51-4-67-9,71-6,5-8,26-6-33-7,43-7,14"/></g>
<path d="M1479.4,147.2L1808.0,268.6M2002.7,104.5L1808.0,268.6" stroke="#9a9a9a" stroke-width="1.1" fill="none"/>
<text x="319.8" y="23.1" font-size="19.5" text-anchor="middle" fill="#555" font-family="'Liberation Sans', sans-serif" transform="translate(319.8,23.1) scale(0.85,1) translate(-319.8,-23.1)">0</text>
<text x="242.6" y="61.7" font-size="19.5" text-anchor="middle" fill="#555" font-family="'Liberation Sans', sans-serif" transform="translate(242.6,61.7) scale(0.85,1) translate(-242.6,-61.7)">2</text>
<text x="153.2" y="108.4" font-size="19.5" text-anchor="middle" fill="#555" font-family="'Liberation Sans', sans-serif" transform="translate(153.2,108.4) scale(0.85,1) translate(-153.2,-108.4)">4</text>
<text x="117.4" y="341.0" font-size="19.5" text-anchor="middle" fill="#555" font-family="'Liberation Sans', sans-serif" transform="translate(117.4,341.0) scale(0.85,1) translate(-117.4,-341.0)">4</text>
<text x="181.3" y="370.0" font-size="19.5" text-anchor="middle" fill="#555" font-family="'Liberation Sans', sans-serif" transform="translate(181.3,370.0) scale(0.85,1) translate(-181.3,-370.0)">2</text>
<text x="251.0" y="400.8" font-size="19.5" text-anchor="middle" fill="#555" font-family="'Liberation Sans', sans-serif" transform="translate(251.0,400.8) scale(0.85,1) translate(-251.0,-400.8)">0</text>
<text x="326.6" y="439.0" font-size="19.5" text-anchor="middle" fill="#555" font-family="'Liberation Sans', sans-serif" transform="translate(326.6,439.0) scale(0.85,1) translate(-326.6,-439.0)">&#8722;2</text>
<text x="408.0" y="476.3" font-size="19.5" text-anchor="middle" fill="#555" font-family="'Liberation Sans', sans-serif" transform="translate(408.0,476.3) scale(0.85,1) translate(-408.0,-476.3)">&#8722;4</text>
<text x="77.5" y="197.0" font-size="19.11" text-anchor="middle" fill="#555" font-family="'Liberation Sans', sans-serif" transform="translate(77.5,197.0) scale(0.8,1) translate(-77.5,-197.0)">0.20</text>
<text x="81.7" y="245.7" font-size="19.11" text-anchor="middle" fill="#555" font-family="'Liberation Sans', sans-serif" transform="translate(81.7,245.7) scale(0.8,1) translate(-81.7,-245.7)">0.15</text>
<text x="86.3" y="293.0" font-size="19.11" text-anchor="middle" fill="#555" font-family="'Liberation Sans', sans-serif" transform="translate(86.3,293.0) scale(0.8,1) translate(-86.3,-293.0)">0.10</text>
<text x="220.0" y="39.9" font-size="25" font-weight="bold" text-anchor="middle" fill="#111" font-family="'Liberation Sans', sans-serif" transform="translate(220.0,39.9) scale(0.85,1) translate(-220.0,-39.9)">t</text>
<text x="252.7" y="437.0" font-size="25" text-anchor="middle" fill="#111" font-family="'Liberation Sans', sans-serif" transform="translate(252.7,437.0) scale(0.85,1) translate(-252.7,-437.0)">x</text>
<text x="3.0" y="274.0" font-size="24" font-weight="bold" fill="#111" font-family="'Liberation Sans', sans-serif" transform="translate(3.0,274.0) scale(0.84,1) translate(-3.0,-274.0)">Y<tspan font-size="16" dy="5">3</tspan><tspan dy="-5">(x,t)</tspan></text>
<text x="1029.4" y="23.1" font-size="19.5" text-anchor="middle" fill="#555" font-family="'Liberation Sans', sans-serif" transform="translate(1029.4,23.1) scale(0.85,1) translate(-1029.4,-23.1)">0</text>
<text x="952.2" y="61.7" font-size="19.5" text-anchor="middle" fill="#555" font-family="'Liberation Sans', sans-serif" transform="translate(952.2,61.7) scale(0.85,1) translate(-952.2,-61.7)">2</text>
<text x="862.8" y="108.4" font-size="19.5" text-anchor="middle" fill="#555" font-family="'Liberation Sans', sans-serif" transform="translate(862.8,108.4) scale(0.85,1) translate(-862.8,-108.4)">4</text>
<text x="827.0" y="341.0" font-size="19.5" text-anchor="middle" fill="#555" font-family="'Liberation Sans', sans-serif" transform="translate(827.0,341.0) scale(0.85,1) translate(-827.0,-341.0)">4</text>
<text x="890.9" y="370.0" font-size="19.5" text-anchor="middle" fill="#555" font-family="'Liberation Sans', sans-serif" transform="translate(890.9,370.0) scale(0.85,1) translate(-890.9,-370.0)">2</text>
<text x="960.6" y="400.8" font-size="19.5" text-anchor="middle" fill="#555" font-family="'Liberation Sans', sans-serif" transform="translate(960.6,400.8) scale(0.85,1) translate(-960.6,-400.8)">0</text>
<text x="1036.2" y="439.0" font-size="19.5" text-anchor="middle" fill="#555" font-family="'Liberation Sans', sans-serif" transform="translate(1036.2,439.0) scale(0.85,1) translate(-1036.2,-439.0)">&#8722;2</text>
<text x="1117.6" y="476.3" font-size="19.5" text-anchor="middle" fill="#555" font-family="'Liberation Sans', sans-serif" transform="translate(1117.6,476.3) scale(0.85,1) translate(-1117.6,-476.3)">&#8722;4</text>
<text x="788.3" y="206.3" font-size="19.11" text-anchor="middle" fill="#555" font-family="'Liberation Sans', sans-serif" transform="translate(788.3,206.3) scale(0.8,1) translate(-788.3,-206.3)">0.20</text>
<text x="790.0" y="249.7" font-size="19.11" text-anchor="middle" fill="#555" font-family="'Liberation Sans', sans-serif" transform="translate(790.0,249.7) scale(0.8,1) translate(-790.0,-249.7)">0.15</text>
<text x="795.0" y="289.7" font-size="19.11" text-anchor="middle" fill="#555" font-family="'Liberation Sans', sans-serif" transform="translate(795.0,289.7) scale(0.8,1) translate(-795.0,-289.7)">0.10</text>
<text x="929.6" y="39.9" font-size="25" font-weight="bold" text-anchor="middle" fill="#111" font-family="'Liberation Sans', sans-serif" transform="translate(929.6,39.9) scale(0.85,1) translate(-929.6,-39.9)">t</text>
<text x="962.3" y="437.0" font-size="25" text-anchor="middle" fill="#111" font-family="'Liberation Sans', sans-serif" transform="translate(962.3,437.0) scale(0.85,1) translate(-962.3,-437.0)">x</text>
<text x="713.0" y="275.0" font-size="24" font-weight="bold" fill="#111" font-family="'Liberation Sans', sans-serif" transform="translate(713.0,275.0) scale(0.84,1) translate(-713.0,-275.0)">Y<tspan font-size="16" dy="5">3</tspan><tspan dy="-5">(x,t)</tspan></text>
<text x="1706.3" y="18.0" font-size="19.5" text-anchor="middle" fill="#555" font-family="'Liberation Sans', sans-serif" transform="translate(1706.3,18.0) scale(0.85,1) translate(-1706.3,-18.0)">0</text>
<text x="1629.2" y="59.3" font-size="19.5" text-anchor="middle" fill="#555" font-family="'Liberation Sans', sans-serif" transform="translate(1629.2,59.3) scale(0.85,1) translate(-1629.2,-59.3)">2</text>
<text x="1535.7" y="107.4" font-size="19.5" text-anchor="middle" fill="#555" font-family="'Liberation Sans', sans-serif" transform="translate(1535.7,107.4) scale(0.85,1) translate(-1535.7,-107.4)">4</text>
<text x="1499.9" y="342.7" font-size="19.5" text-anchor="middle" fill="#555" font-family="'Liberation Sans', sans-serif" transform="translate(1499.9,342.7) scale(0.85,1) translate(-1499.9,-342.7)">4</text>
<text x="1564.6" y="373.0" font-size="19.5" text-anchor="middle" fill="#555" font-family="'Liberation Sans', sans-serif" transform="translate(1564.6,373.0) scale(0.85,1) translate(-1564.6,-373.0)">2</text>
<text x="1636.1" y="404.6" font-size="19.5" text-anchor="middle" fill="#555" font-family="'Liberation Sans', sans-serif" transform="translate(1636.1,404.6) scale(0.85,1) translate(-1636.1,-404.6)">0</text>
<text x="1714.5" y="441.8" font-size="19.5" text-anchor="middle" fill="#555" font-family="'Liberation Sans', sans-serif" transform="translate(1714.5,441.8) scale(0.85,1) translate(-1714.5,-441.8)">&#8722;2</text>
<text x="1797.0" y="480.3" font-size="19.5" text-anchor="middle" fill="#555" font-family="'Liberation Sans', sans-serif" transform="translate(1797.0,480.3) scale(0.85,1) translate(-1797.0,-480.3)">&#8722;4</text>
<text x="1470.0" y="224.4" font-size="19.11" text-anchor="middle" fill="#555" font-family="'Liberation Sans', sans-serif" transform="translate(1470.0,224.4) scale(0.8,1) translate(-1470.0,-224.4)">0.2</text>
<text x="1473.0" y="285.3" font-size="19.11" text-anchor="middle" fill="#555" font-family="'Liberation Sans', sans-serif" transform="translate(1473.0,285.3) scale(0.8,1) translate(-1473.0,-285.3)">0.1</text>
<text x="1604.5" y="37.4" font-size="25" font-weight="bold" text-anchor="middle" fill="#111" font-family="'Liberation Sans', sans-serif" transform="translate(1604.5,37.4) scale(0.85,1) translate(-1604.5,-37.4)">t</text>
<text x="1637.5" y="440.1" font-size="25" text-anchor="middle" fill="#111" font-family="'Liberation Sans', sans-serif" transform="translate(1637.5,440.1) scale(0.85,1) translate(-1637.5,-440.1)">x</text>
<text x="1397.0" y="266.0" font-size="24" font-weight="bold" fill="#111" font-family="'Liberation Sans', sans-serif" transform="translate(1397.0,266.0) scale(0.84,1) translate(-1397.0,-266.0)">Y<tspan font-size="16" dy="5">3</tspan><tspan dy="-5">(x,t)</tspan></text>
<path d="M81.2,722.0 V1103.5 M70.7,1084.6 H589.0" stroke="#5a5a5a" stroke-width="1.3" fill="none"/>
<path d="M106.1,1084.6 v-3.6 M130.9,1084.6 v-3.6 M155.8,1084.6 v-3.6 M180.7,1084.6 v-6.5 M205.6,1084.6 v-3.6 M230.4,1084.6 v-3.6 M255.3,1084.6 v-3.6 M280.2,1084.6 v-6.5 M305.1,1084.6 v-3.6 M329.9,1084.6 v-3.6 M354.8,1084.6 v-3.6 M379.7,1084.6 v-6.5 M404.6,1084.6 v-3.6 M429.4,1084.6 v-3.6 M454.3,1084.6 v-3.6 M479.2,1084.6 v-6.5 M504.1,1084.6 v-3.6 M529.0,1084.6 v-3.6 M553.8,1084.6 v-3.6 M578.7,1084.6 v-6.5 M81.2,1097.5 h3.2 M81.2,1076.0 h3.2 M81.2,1054.6 h3.2 M81.2,1033.1 h3.2 M81.2,1011.6 h5.7 M81.2,990.1 h3.2 M81.2,968.6 h3.2 M81.2,947.2 h3.2 M81.2,925.7 h3.2 M81.2,904.2 h5.7 M81.2,882.7 h3.2 M81.2,861.2 h3.2 M81.2,839.8 h3.2 M81.2,818.3 h3.2 M81.2,796.8 h5.7 M81.2,775.3 h3.2 M81.2,753.8 h3.2 M81.2,732.4 h3.2 " stroke="#5a5a5a" stroke-width="1.1" fill="none"/>
<text x="72.6" y="1025.3" font-size="38.3" font-weight="bold" stroke="#000" stroke-width="0.6" textLength="68.6" lengthAdjust="spacingAndGlyphs" text-anchor="end" fill="#000" font-family="'Liberation Sans', sans-serif">0.10</text>
<text x="72.6" y="917.9" font-size="38.3" font-weight="bold" stroke="#000" stroke-width="0.6" textLength="68.6" lengthAdjust="spacingAndGlyphs" text-anchor="end" fill="#000" font-family="'Liberation Sans', sans-serif">0.15</text>
<text x="72.6" y="810.5" font-size="38.3" font-weight="bold" stroke="#000" stroke-width="0.6" textLength="68.6" lengthAdjust="spacingAndGlyphs" text-anchor="end" fill="#000" font-family="'Liberation Sans', sans-serif">0.20</text>
<text x="180.7" y="1130.0" font-size="43.3" font-weight="bold" stroke="#000" stroke-width="0.6" textLength="19.0" lengthAdjust="spacingAndGlyphs" text-anchor="middle" fill="#000" font-family="'Liberation Sans', sans-serif">2</text>
<text x="280.2" y="1130.0" font-size="43.3" font-weight="bold" stroke="#000" stroke-width="0.6" textLength="19.0" lengthAdjust="spacingAndGlyphs" text-anchor="middle" fill="#000" font-family="'Liberation Sans', sans-serif">4</text>
<text x="379.7" y="1130.0" font-size="43.3" font-weight="bold" stroke="#000" stroke-width="0.6" textLength="19.0" lengthAdjust="spacingAndGlyphs" text-anchor="middle" fill="#000" font-family="'Liberation Sans', sans-serif">6</text>
<text x="479.2" y="1130.0" font-size="43.3" font-weight="bold" stroke="#000" stroke-width="0.6" textLength="19.0" lengthAdjust="spacingAndGlyphs" text-anchor="middle" fill="#000" font-family="'Liberation Sans', sans-serif">8</text>
<text x="578.7" y="1130.0" font-size="43.3" font-weight="bold" stroke="#000" stroke-width="0.6" textLength="38.0" lengthAdjust="spacingAndGlyphs" text-anchor="middle" fill="#000" font-family="'Liberation Sans', sans-serif">10</text>
<text x="602.0" y="1091.0" font-size="24.0" font-weight="bold" stroke="#000" stroke-width="0.6" text-anchor="start" fill="#000" font-family="'Liberation Sans', sans-serif" transform="translate(602.0,1091.0) scale(0.85,1) translate(-602.0,-1091.0)">t</text>
<path d="M81.2,764.8l14.9-7.6 14.9-6.5 15-5 9.9-2.3 15-1.9 9.9,0 14.9,1.4 14.9,2.9 15,4.1 14.9,4.9 74.6,28.7 19.9,8.9 54.8,26.3 54.7,23.6 29.8,11.7 14.9,4.9 10,2.8 39.8,9.6 29.8,5.7 15,2.3 14.9,1.7" fill="none" stroke="#df5430" stroke-width="2.8" stroke-linejoin="round" stroke-linecap="round"/>
<path d="M81.2,913l19.9-7.1 19.9-6.5 14.9-4.3 15-3.8 39.7-8.6 20-3.8 19.8-2.9 20-1.4 24.8,0.3 29.9,1.6 124.3,10.4 39.8,4 34.9,3.9 34.8,4.5 39.8,5.8" fill="none" stroke="#f4b41f" stroke-width="2.8" stroke-linejoin="round" stroke-linecap="round"/>
<path d="M81.2,985.8l44.8-14.6 24.9-7 19.9-5.1 29.8-6.6 29.8-6 24.9-4.2 24.9-3.3 34.8-3.5 34.8-2.8 24.9-1.4 59.7-2.6 44.8-0.9 59.7,0.2 39.8,0.7" fill="none" stroke="#a15aa5" stroke-width="2.8" stroke-linejoin="round" stroke-linecap="round"/>
<path d="M81.2,1026l29.8-9.1 24.9-7 24.9-6.5 24.9-5.8 29.8-6.4 29.9-5.7 34.8-6.1 39.8-6.4 54.7-7.6 39.8-4.6 34.9-3.5 24.8-2.1 44.8-2.8 59.7-2.4" fill="none" stroke="#5b86d8" stroke-width="2.8" stroke-linejoin="round" stroke-linecap="round"/>
<path d="M81.2,1076l44.8-8.2 44.8-9 29.8-6.5 74.6-17.3 49.8-10.2 39.8-7.4 49.7-8.1 49.8-7.1 59.7-7.4 54.7-5.8" fill="none" stroke="#e9a03a" stroke-width="2.8" stroke-linejoin="round" stroke-linecap="round"/>
<path d="M81.2,1083.8l44.8-8.3 44.8-9 29.8-6.4 74.6-17.4 49.8-10.1 39.8-7.5 49.7-8.1 49.8-7.1 59.7-7.4 54.7-5.7" fill="none" stroke="#5d9ec7" stroke-width="2.0" stroke-linejoin="round" stroke-linecap="round"/>
<path d="M81.2,1081.6l44.8-8.3 44.8-8.9 29.8-6.5 74.6-17.3 49.8-10.2 39.8-7.4 49.7-8.1 49.8-7.2 59.7-7.3 54.7-5.8" fill="none" stroke="#8a9d32" stroke-width="2.2" stroke-linejoin="round" stroke-linecap="round"/>
<text x="48.0" y="705.0" font-size="25" font-weight="bold" font-family="'Liberation Sans', sans-serif" fill="#111" transform="translate(48.0,705.0) scale(0.84,1) translate(-48.0,-705.0)">Y<tspan font-size="17" dy="5">3</tspan><tspan dy="-5">(x,t)</tspan></text>
<path d="M791.3,722.0 V1103.0 M780.5,1085.3 H1298.0" stroke="#5a5a5a" stroke-width="1.3" fill="none"/>
<path d="M816.2,1085.3 v-3.6 M841.1,1085.3 v-3.6 M866.0,1085.3 v-3.6 M890.9,1085.3 v-6.5 M915.8,1085.3 v-3.6 M940.7,1085.3 v-3.6 M965.6,1085.3 v-3.6 M990.5,1085.3 v-6.5 M1015.4,1085.3 v-3.6 M1040.3,1085.3 v-3.6 M1065.2,1085.3 v-3.6 M1090.1,1085.3 v-6.5 M1115.0,1085.3 v-3.6 M1139.9,1085.3 v-3.6 M1164.8,1085.3 v-3.6 M1189.7,1085.3 v-6.5 M1214.6,1085.3 v-3.6 M1239.5,1085.3 v-3.6 M1264.4,1085.3 v-3.6 M1289.3,1085.3 v-6.5 M791.3,1085.9 h3.2 M791.3,1071.5 h3.2 M791.3,1057.0 h3.2 M791.3,1042.6 h3.2 M791.3,1028.2 h3.2 M791.3,1013.8 h5.7 M791.3,999.4 h3.2 M791.3,985.0 h3.2 M791.3,970.6 h3.2 M791.3,956.1 h5.7 M791.3,941.7 h3.2 M791.3,927.3 h3.2 M791.3,912.9 h3.2 M791.3,898.5 h5.7 M791.3,884.1 h3.2 M791.3,869.6 h3.2 M791.3,855.2 h3.2 M791.3,840.8 h5.7 M791.3,826.4 h3.2 M791.3,812.0 h3.2 M791.3,797.6 h3.2 M791.3,783.2 h5.7 M791.3,768.7 h3.2 M791.3,754.3 h3.2 M791.3,739.9 h3.2 M791.3,725.5 h5.7 " stroke="#5a5a5a" stroke-width="1.1" fill="none"/>
<text x="783.7" y="1029.7" font-size="44.3" font-weight="bold" stroke="#000" stroke-width="0.6" textLength="70.0" lengthAdjust="spacingAndGlyphs" text-anchor="end" fill="#000" font-family="'Liberation Sans', sans-serif">0.08</text>
<text x="783.7" y="972.0" font-size="44.3" font-weight="bold" stroke="#000" stroke-width="0.6" textLength="70.0" lengthAdjust="spacingAndGlyphs" text-anchor="end" fill="#000" font-family="'Liberation Sans', sans-serif">0.10</text>
<text x="783.7" y="914.3" font-size="44.3" font-weight="bold" stroke="#000" stroke-width="0.6" textLength="70.0" lengthAdjust="spacingAndGlyphs" text-anchor="end" fill="#000" font-family="'Liberation Sans', sans-serif">0.12</text>
<text x="783.7" y="856.7" font-size="44.3" font-weight="bold" stroke="#000" stroke-width="0.6" textLength="70.0" lengthAdjust="spacingAndGlyphs" text-anchor="end" fill="#000" font-family="'Liberation Sans', sans-serif">0.14</text>
<text x="783.7" y="799.0" font-size="44.3" font-weight="bold" stroke="#000" stroke-width="0.6" textLength="70.0" lengthAdjust="spacingAndGlyphs" text-anchor="end" fill="#000" font-family="'Liberation Sans', sans-serif">0.16</text>
<text x="783.7" y="741.4" font-size="44.3" font-weight="bold" stroke="#000" stroke-width="0.6" textLength="70.0" lengthAdjust="spacingAndGlyphs" text-anchor="end" fill="#000" font-family="'Liberation Sans', sans-serif">0.18</text>
<text x="890.9" y="1134.4" font-size="37.7" font-weight="bold" stroke="#000" stroke-width="0.6" textLength="19.0" lengthAdjust="spacingAndGlyphs" text-anchor="middle" fill="#000" font-family="'Liberation Sans', sans-serif">2</text>
<text x="990.5" y="1134.4" font-size="37.7" font-weight="bold" stroke="#000" stroke-width="0.6" textLength="19.0" lengthAdjust="spacingAndGlyphs" text-anchor="middle" fill="#000" font-family="'Liberation Sans', sans-serif">4</text>
<text x="1090.1" y="1134.4" font-size="37.7" font-weight="bold" stroke="#000" stroke-width="0.6" textLength="19.0" lengthAdjust="spacingAndGlyphs" text-anchor="middle" fill="#000" font-family="'Liberation Sans', sans-serif">6</text>
<text x="1189.7" y="1134.4" font-size="37.7" font-weight="bold" stroke="#000" stroke-width="0.6" textLength="19.0" lengthAdjust="spacingAndGlyphs" text-anchor="middle" fill="#000" font-family="'Liberation Sans', sans-serif">8</text>
<text x="1289.3" y="1134.4" font-size="37.7" font-weight="bold" stroke="#000" stroke-width="0.6" textLength="38.0" lengthAdjust="spacingAndGlyphs" text-anchor="middle" fill="#000" font-family="'Liberation Sans', sans-serif">10</text>
<text x="1311.0" y="1091.0" font-size="24.0" font-weight="bold" stroke="#000" stroke-width="0.6" text-anchor="start" fill="#000" font-family="'Liberation Sans', sans-serif" transform="translate(1311.0,1091.0) scale(0.85,1) translate(-1311.0,-1091.0)">t</text>
<path d="M791.3,1040.9l0.6,0.1 0.5,2 2.2,23.4 0.6,1.8 2.2-14.7 0.5,1.7 2.3,30.4 0.5,0 0.6-1 5-65.6 0.5-3.9 0.6-0.1 2.2,23.5 2.2,17.3 1.7,21.2 0.5,2.8 0.6-2.1 2.2-27.1 0.5-0.2 1.7,11.6 0.6,0.9 2.2-9.7 1.1,0.9 0.5-0.4 2.8-21.5 0.6,0.4 1.6,10.2 0.6,1.5 1.1-0.5 0.5,0.7 2.2,19.5 1.2,5.9 0.5-0.5 1.1-6.2 2.2-24.8 0.6-5.1 0.5-1.6 0.6,2.6 2.2,27.4 0.6-0.8 1.6-19.4 0.6-2.9 0.5,1.8 1.7,15.8 0.5,1 1.7-6.7 0.6,1.1 1.6,10.1 0.6-2.1 2.2-30.8 0.6,0.1 1.6,22 0.6,5.5 0.5,1.9 1.7-5.1 1.1-1.6 0.5-2.4 2.3-28 0.5-1.3 0.6,5.5 2.2,52.5 0.5,4.7 0.6-1.4 5.5-57.7 0.6-0.9 0.5,3.8 2.3,29.3 0.5-1.1 2.2-32 0.6-2 1.1,12 2.2,41.1 0.6,4.4 0.5,1.7 0.6-0.3 1.1-5.2 0.5-5.5 3.3-59.3 0.6,0.4 0.6,6 2.2,36.3 0.5,1.6 2.2-13.2 0.6-1.3 0.6,0.1 1.6,4 2.8,9.9 0.5,0.9 1.1,0.6 0.6,1.1 1.7,7.1 0.5,0.6 1.1-7.6 2.2-27.6 0.6-1.9 0.5-0.1 1.2,1.3 1.1,0.3 0.5,1.7 2.8,28.6 0.5,0.2 0.6-3.6 1.7-17.5 0.5-1.7 1.1,6.2 1.7,16.5 1.1,5.1 0.5-0.1 1.1-6.7 2.3-28.3 0.5-4.4 0.6-1.5 0.5,1.4 0.6,3.8 3.3,37.1 0.6,2.7 0.5-0.2 2.8-28.6 3.3-21.4 0.6,0.1 0.5,3.9 2.2,33.7 0.6,2.2 1.6-9.3 0.6,0.1 2.2,23 0.6-1.1 0.5-6.7 1.1-21 1.1-11.5 0.6,1 1.7,12.2 0.5,1.5 1.1,0 1.7,1.8 0.5-1.5 0.6-4.2 1.6-20.7 0.6-2.5 0.6,2.4 2.2,29.7 0.5,1.4 1.7-11.5 0.5-2.7 0.6,0.3 2.8,20.6 1.1,3 1.1,0.3 1.1-1.9 1.1-6.5 2.2-26.7 1.1-8.6 0.6,0.1 0.5,3.3 1.7,18.5 1.1,6.5 0.6,0.1 1.1-1.9 0.5,0 1.7,3.9 0.5,0.2 2.8-9.4 1.7-1.4 1.1-2.1 0.5-0.3 1.1,4.9 1.7,17 0.5,3.4 0.6,0.5 3.3-24.9 0.6-1.2 0.5,0.1 0.6,1.4 1.6,7.7 1.2,3 0.5-0.8 2.8-13.1 1.6-2 1.1-2.6 0.6-0.2 1.1,6.2 1.7,21.6 0.5,4.6 0.6,1.2 2.2-13 0.5-0.8 1.7,3.8 0.6-0.1 2.2-10.3 3.3-13.6 0.6-1 0.5,1.2 0.6,3.6 2.2,19.7 0.5,0.2 0.6-2.2 1.7-11.2 0.5-1.5 0.6,0.5 0.5,2 2.2,13.1 1.1,3 0.6,0 1.1-2.8 4.4-22.7 0.6-2 0.5-0.6 1.1,4.7 2.3,21.5 0.5,3.5 0.6,1.9 0.5,0.7 1.1-1.6 0.6-2.1 2.8-25.1 0.5-3.3 0.6-0.1 2.2,24.4 0.5,4.2 0.6,0.2 2.2-26.1 0.6-4.2 0.5-0.6 1.1,9 2.2,27.2 1.1,6.9 0.6,0.7 1.1-7.1 2.2-43.4 0.6-7.8 0.5-2.4 1.1,13.7 1.7,40.6 1.1,11.9 0.6-1.6 0.5-5.6 2.2-30.9 1.1-8.7 0.6-1.9 0.5,0.1 0.6,2.3 2.8,31.5 0.5,3.4 0.6,0.2 3.3-33.6 0.6-0.2 0.5,3 2.2,22.4 0.6,1.1 0.5-2.3 1.7-17.1 1.1-6 0.6,0.9 0.5,3.2 2.2,16.7 0.6,1.7 0.5,0.2 2.8-10.6 0.6-0.2 1.6,5.3 0.6,0.2 1.1-7.5 1.6-19.2 0.6-2.7 0.6,0.1 1.6,5.5 0.6,0 0.5-0.7 0.6,0.3 0.5,2.9 2.2,30 0.6,1.8 0.6-3.5 1.6-23.2 0.6-2.5 0.5,2.3 1.7,18 0.5,1.4 0.6-2.5 2.8-29.6 1.1-5.4 0.5-0.1 1.1,10.1 1.7,36 0.5,7.9 0.6,1.2 0.6-6.2 1.6-38.7 0.6-8.5 0.5-3.1 0.6,1.8 1.1,11.8 3.3,47 0.6-0.4 0.5-7.5 1.7-45.4 0.5-9.2 0.6-0.7 2.2,44.3 0.6,4.5 0.5-1.2 1.7-11.7 0.5,0 0.6,1.1 0.5,0 2.3-20.7 0.5,0.2 2.8,53.4 0.5-1.8 0.6-10.1 1.6-51.5 1.2-18.7 0.5,0.2 0.6,5.8 2.7,62.8 1.1,12.8 0.6-0.2 0.5-4.6 2.3-37.9 1.1-11.7 0.5-0.6 0.6,3 2.2,25.8 0.5,1.3 0.6-2.5 1.7-17.1 0.5-2.3 0.6,1.4 2.2,19.5 0.5,1.7 0.6,0 1.1-2.2 1.1-4 2.2-26.2 0.6-5.4 0.5-1.2 1.1,12.6 1.7,31.2 0.6,5 0.5,1.1 3.3-13.1 2.8-28.8 0.6-2.4 0.5,1.1 0.6,4.4 1.6,19.5 1.1,8.6 1.7,7.4 0.6,1.4 0.5-0.3 1.1-9 1.7-26.1 0.5-4.9 0.6-0.3 2.8,30.4 0.5-0.1 0.6-3.1 2.2-15.9 1.1-2.4 0.5,0.4 0.6,2 2.8,37.6 0.5,2.3 1.1-12 1.7-31.8 0.5-4.7 0.6-0.8 1.7,8 1.1,8.5 2.2,32.7 0.5,1.9 0.6-4.9 1.6-38.1 0.6-8.6 0.6-2.1 2.2,20.5 0.5,0.5 1.1-2.6 0.6,0.8 1.7,9.3 0.5-1.7 1.7-20.9 0.5-2.6 0.6,3.5 1.6,31.9 0.6,6.3 0.5,0.7 1.7-13.2 0.6-1 1.6,5.9 0.6-1.9 2.2-20.9 0.5,0.8 1.7,9.7 0.6-1.2 1.6-16.7 0.6-3.8 0.5-0.9 0.6,2.2 3.3,27.6 0.6,1.3 0.5-0.9 1.7-8.7 0.5-0.5 2.2,17.6 0.6,1.1 0.6-3 1.6-19.1 0.6-2.5 0.5,1 1.7,10.5 0.5,0.8 0.6-1.1 2.2-5.8 0.6-2.5 2.2-20.7 0.5,1.2 0.6,7.2 2.2,45.1 0.6-0.2 2.2-36.9 0.5-5 0.6-1.4 2.2,9 2.8,24.8 0.5,1.3 1.1-10.5 1.7-31 0.5-5.6 0.6-0.5" fill="none" stroke="#8fb032" stroke-width="3.2" stroke-linejoin="round" stroke-linecap="round"/>
<path d="M791.3,789.1l0.6,0.2 0.5,3.6 2.2,40.9 0.6,3.1 2.2-25 0.5,3.1 1.7,42.8 0.6,11.1 0.5,2.9 0.6-5.4 4.4-101.5 1.1-17.6 0.6,0 0.5,6.5 1.7,34.4 1.6,21.1 2.3,46.1 0.5,4.9 0.6-3.4 2.2-46.5 0.5-0.2 1.7,20.3 0.6,1.7 2.2-16.4 0.5,0.4 0.6,1.3 0.5-0.5 2.8-36.7 0.6,0.9 1.6,17.8 0.6,2.7 0.5,0 0.6-0.7 0.5,1.3 2.2,34.1 1.2,10.4 0.5-0.8 1.1-10.5 2.2-42.5 0.6-8.5 0.5-2.8 0.6,4.6 2.2,47.7 0.6-1.3 1.6-33.2 0.6-4.8 0.5,3.1 1.7,27.6 0.5,1.9 1.7-11.4 0.6,2 1.6,17.8 0.6-3.6 2.2-52.7 0.6,0.3 1.6,38.2 0.6,9.7 0.5,3.3 1.7-8.4 1.1-2.7 0.5-4 2.3-48 0.5-2.1 0.6,9.6 2.2,91.1 0.5,8.1 0.6-2.3 5.5-98.5 0.6-1.5 0.5,6.6 2.3,51 0.5-1.8 2.2-54.8 0.6-3.4 1.1,20.9 2.2,71.3 0.6,7.7 0.5,3.1 0.6-0.4 1.1-8.8 0.5-9.3 3.3-101.9 0.6,0.7 0.6,10.5 2.2,63 0.5,2.8 2.2-22.3 0.6-2.3 0.6,0.2 1.6,7.1 2.8,17.6 0.5,1.5 1.1,1.3 0.6,1.9 1.7,12.6 0.5,1 1.1-13 2.2-47.3 0.6-3.3 0.5,0 1.2,2.3 1.1,0.8 0.5,3 2.8,49.7 0.5,0.5 0.6-6.2 1.7-30 0.5-2.8 1.1,10.7 1.7,28.8 1.1,9 0.5-0.2 1.1-11.3 2.3-48.6 0.5-7.5 0.6-2.6 0.5,2.5 0.6,6.7 3.3,64.4 0.6,4.8 0.5-0.3 3.3-56.7 2.3-24.5 0.5-4.4 0.6,0.3 0.5,6.8 2.2,58.5 0.6,3.9 1.6-15.8 0.6,0.2 2.2,40.1 0.6-1.9 0.5-11.4 1.1-36.3 1.1-19.7 0.6,1.9 1.7,21.2 0.5,2.8 0.6,0.3 0.5-0.2 1.7,3.2 0.5-2.4 0.6-7.2 1.6-35.5 0.6-4.3 0.6,4.2 2.2,51.6 0.5,2.5 1.7-19.7 0.5-4.5 0.6,0.5 2.8,35.9 1.1,5.5 0.5,0.7 0.6,0 1.1-3.3 0.5-4.3 3.4-62.1 0.5-5.2 0.6,0.3 2.2,38 1.1,11.3 0.6,0.2 1.1-3.1 0.5,0 1.7,7 0.5,0.4 2.8-15.7 1.7-2.3 1.1-3.5 0.5-0.4 1.1,8.5 2.2,35.3 0.6,0.8 0.6-4.1 1.6-21.4 1.1-7.6 0.6,0.1 1.1,7 2.8,29.6 0.5,0.8 0.6-1.8 1.6-9.1 2.2-3.9 1.1-3.7 0.6-0.1 1.1,11.4 1.7,38.4 0.5,8.3 0.6,2.4 2.2-21.1 0.5-1.2 1.7,7.7 0.6,0.1 2.2-16.4 3.3-21.4 0.6-1.4 0.5,2.4 0.6,6.5 2.2,35.4 0.5,0.8 0.6-3.6 1.7-18.3 0.5-2.2 0.6,1.1 0.5,3.9 2.2,23.9 1.1,5.9 0.6,0.3 1.1-4.2 4.4-36.9 0.6-3.5 0.5-0.9 1.1,8.1 2.3,37.3 0.5,6.1 0.6,3.4 0.5,1.2 0.6-0.6 0.5-2 0.6-3.6 2.8-43.3 0.5-5.6 0.6-0.2 2.2,42.3 0.5,7.4 0.6,0.4 2.2-44.9 0.6-7.4 0.5-0.9 1.1,15.6 2.2,47.2 1.1,12 0.6,1.1 1.1-12.2 2.2-74.7 0.6-13.5 0.5-4 1.1,23.6 1.7,70.2 1.1,20.7 0.6-2.8 0.5-9.5 2.2-53.2 1.1-15.1 0.6-3.1 0.5,0.2 0.6,3.9 2.8,54.5 0.5,6 0.6,0.4 3.3-57.8 0.6-0.4 0.5,5.3 2.2,38.8 0.6,2 0.5-3.8 1.7-29.2 1.1-10.2 0.6,1.7 0.5,5.6 2.2,29.3 0.6,3.1 0.5,0.5 2.8-17.7 0.6-0.1 1.6,9.4 0.6,0.4 1.1-12.6 1.6-32.8 0.6-4.6 0.6,0.3 1.6,9.9 0.6,0 0.5-1 0.6,0.7 0.5,5 2.2,52.5 0.6,3.2 0.6-6 1.6-41 0.6-5 0.5,3.4 1.7,29.1 0.5,1.8 0.6-5.1 2.8-51.3 1.1-9.4 0.5-0.2 1.1,17.5 1.7,62.2 0.5,13.6 0.6,1.9 0.6-10.6 1.6-66.8 0.6-14.7 0.5-5.4 0.6,3.1 1.1,20.3 2.8,72.2 0.5,8.9 0.6-0.8 2.7-107.2 0.6,0.5 0.5,15.6 1.1,50.9 1.2,30.4 0.5,0.5 1.1-10.7 0.6-1.9 1.6,9.6 0.6-2.5 1.7-23.3 0.5,2.9 2.8,93.7 0.5-2.9 0.6-17.3 1.6-88.4 1.2-32 0.5,0.4 0.6,10.2 2.7,109.4 1.1,22.5 0.6-0.3 0.5-7.7 2.8-77.5 0.6-7.3 0.5-0.9 0.6,5.5 2.2,45.1 0.5,2.4 0.6-4.2 1.7-29 0.5-3.7 0.6,2.6 2.2,34.2 0.5,3.1 0.6,0.1 1.1-3.3 1.1-6.6 2.2-44.6 0.6-9.2 0.5-1.9 1.1,22 1.7,54.5 0.6,8.8 0.5,2 3.3-21.6 2.8-49.4 0.6-4.1 0.5,2 0.6,7.6 1.6,33.8 1.1,14.9 1.7,13 0.6,2.5 0.5-0.5 1.1-15.5 1.7-45 0.5-8.4 0.6-0.4 2.8,52.6 0.5-0.1 0.6-5.2 2.2-27.3 1.1-4.1 0.5,0.6 0.6,3.6 2.8,65.1 0.5,4.1 1.1-20.7 1.7-54.8 0.5-8 0.6-1.3 1.7,13.9 1.1,14.7 2.2,56.7 0.5,3.2 0.6-8.4 1.6-65.6 0.6-14.7 0.6-3.7 2.2,35.6 0.5,0.9 1.1-4.5 0.6,1.6 1.7,16.1 0.5-2.8 1.7-36 0.5-4.6 0.6,6.2 1.6,55.2 0.6,11 0.5,1.3 1.7-22.7 0.6-1.7 1.6,10.4 0.6-3.4 2.2-36 0.5,1.5 1.7,16.9 0.6-2.1 1.6-28.6 0.6-6.6 0.5-1.4 0.6,3.7 3.3,48.1 0.6,2.2 0.5-1.4 1.7-14.9 0.5-0.9 2.2,30.6 0.6,1.9 0.6-5.1 1.6-32.9 0.6-4.3 0.5,1.8 1.7,18.3 0.5,1.3 0.6-1.8 2.2-9.9 0.6-4.2 2.2-35.6 0.5,2.1 0.6,12.5 2.2,78 0.6-0.2 2.2-63.6 0.5-8.6 0.6-2.3 2.2,15.7 2.8,43 0.5,2.3 1.1-18.1 1.7-53.3 0.5-9.6 0.6-0.9" fill="none" stroke="#eb6235" stroke-width="3.4" stroke-linejoin="round" stroke-linecap="round"/>
<path d="M791.3,889.5l0.6,0.2 0.5,3.2 2.2,36.4 0.6,2.8 2.2-22.5 0.5,2.8 1.7,38.2 0.6,9.8 0.5,2.6 0.6-4.9 4.4-91 1.1-15.8 0.6-0.1 0.5,5.8 1.7,30.8 1.6,18.7 2.3,41.1 0.5,4.4 0.6-3.1 2.2-41.7 0.5-0.2 1.7,18.1 0.6,1.4 2.2-14.8 0.5,0.3 0.6,1.2 0.5-0.4 2.8-33.1 0.6,0.8 1.6,15.9 0.6,2.3 1.1-0.6 0.5,1.1 2.2,30.4 1.2,9.2 0.5-0.7 1.1-9.5 2.2-38.1 0.6-7.7 0.5-2.5 0.6,4.1 2.2,42.6 0.6-1.2 1.6-29.8 0.6-4.4 0.5,2.8 1.7,24.6 0.5,1.7 1.7-10.3 0.6,1.7 1.6,15.8 0.6-3.2 2.2-47.3 0.6,0.3 1.6,34 0.6,8.7 0.5,2.9 1.7-7.6 1.1-2.5 0.5-3.5 2.3-43.2 0.5-1.9 0.6,8.6 2.2,81.4 0.5,7.2 0.6-2.1 5.5-88.4 0.6-1.4 0.5,5.9 2.3,45.5 0.5-1.6 2.2-49.2 0.6-3.1 1.1,18.6 2.2,63.8 0.6,6.8 0.5,2.7 0.6-0.4 1.1-7.9 0.5-8.3 3.3-91.4 0.6,0.7 0.6,9.3 2.2,56.3 0.5,2.5 2.2-20 0.6-2.1 0.6,0.2 1.6,6.3 2.8,15.7 0.5,1.4 1.1,1 0.6,1.7 1.7,11.3 0.5,0.9 1.1-11.6 2.2-42.4 0.6-3 0.5,0 1.2,2 1.1,0.7 0.5,2.7 2.8,44.5 0.5,0.4 0.6-5.6 1.7-26.9 0.5-2.5 1.1,9.6 1.7,25.7 1.1,8 0.5-0.2 1.1-10.1 2.3-43.5 0.5-6.8 0.6-2.2 0.5,2.2 0.6,5.9 3.3,57.6 0.6,4.2 0.5-0.2 3.3-50.8 2.3-22 0.5-3.9 0.6,0.3 0.5,6.1 2.2,52.3 0.6,3.4 1.6-14.1 0.6,0.1 2.2,35.8 0.6-1.6 0.5-10.3 1.1-32.4 1.1-17.7 0.6,1.7 1.7,18.9 0.5,2.5 1.1,0.1 1.7,2.8 0.5-2.1 0.6-6.5 1.6-31.8 0.6-3.8 0.6,3.7 2.2,46.1 0.5,2.2 1.7-17.6 0.5-4 0.6,0.4 2.8,32.1 1.1,4.8 0.5,0.7 0.6,0 1.1-3 1.1-9.9 2.2-41 1.1-13.3 0.6,0.3 0.5,5.1 1.7,28.9 1.1,10.1 0.6,0.2 1.1-2.9 0.5,0 1.7,6.2 0.5,0.4 2.8-14.1 1.7-2.1 1.1-3.1 0.5-0.4 1.1,7.6 2.2,31.5 0.6,0.8 0.6-3.8 1.6-20.5 1.1-7.9 0.6-0.5 1.1,5.1 2.8,23.7 0.5,0.1 0.6-2.1 1.6-9.9 2.2-4.1 1.1-3.6 0.6-0.1 1.1,10 1.7,34 0.5,7.3 0.6,2.1 2.2-19.2 0.5-1.2 1.7,6.5 0.6,0.1 2.2-15.1 3.3-19.7 0.6-1.4 0.5,2 0.6,5.8 2.2,31.2 0.5,0.6 0.6-3.3 1.7-16.6 0.5-2.1 0.6,0.9 0.5,3.4 2.2,20.9 1.1,5.2 0.6,0.1 1.1-3.9 4.4-33.9 0.6-3.1 0.5-1 1.1,7.1 2.3,33.1 0.5,5.3 0.6,3 0.5,0.9 0.6-0.6 0.5-1.9 0.6-3.3 2.8-39.1 0.5-5.2 0.6-0.2 2.2,37.5 0.5,6.5 0.6,0.2 2.2-40.5 0.6-6.7 0.5-0.8 1.1,13.7 2.2,41.9 1.1,10.5 0.6,0.9 1.1-11 2.2-67.3 0.6-12.1 0.5-3.7 1.1,20.9 1.7,62.6 1.1,18.4 0.6-2.6 0.5-8.7 2.2-47.9 1.1-13.7 0.6-2.9 0.5,0.1 0.6,3.4 2.8,48.4 0.5,5.2 0.6,0.3 3.3-52.3 0.6-0.4 0.5,4.6 2.2,34.4 0.6,1.7 0.5-3.5 1.7-26.2 1.1-9.2 0.6,1.5 0.5,5 2.2,26.1 0.6,2.7 0.5,0.4 2.8-16 0.6-0.2 1.6,8.4 0.6,0.3 1.1-11.3 1.6-29.5 0.6-4.1 0.6,0.2 1.6,8.8 0.6,0 0.5-1 0.6,0.6 0.5,4.5 2.2,46.7 0.6,2.9 0.6-5.4 1.6-36.8 0.6-4.5 0.5,3 1.7,25.9 0.5,1.7 0.6-4.6 2.2-38.9 1.7-15.3 0.5-0.1 0.6,4.8 2.2,66.7 0.5,12.2 0.6,1.7 0.6-9.4 1.6-59.7 0.6-13.2 0.5-4.7 0.6,2.8 1.1,18.3 2.8,64.7 0.5,8 0.6-0.7 2.2-81.5 0.5-14.2 0.6-0.4 2.2,72.9 0.6,7.9 0.5-0.7 1.7-14.8 1.6,5.1 0.6-3.4 1.7-24.4 0.5,1.4 2.8,83.5 0.5-2.6 0.6-15.5 1.6-79.2 1.2-28.7 0.5,0.4 0.6,9.1 2.7,97.7 1.1,20.1 0.6-0.3 0.5-6.9 2.8-69.4 0.6-6.5 0.5-0.8 0.6,4.8 2.2,40.3 0.5,2.2 0.6-3.8 1.7-26.1 0.5-3.3 0.6,2.3 2.2,30.6 0.5,2.7 0.6,0.1 1.1-3 1.1-6 2.2-39.9 0.6-8.3 0.5-1.7 1.1,19.7 1.7,48.7 0.6,7.8 0.5,1.7 3.3-19.4 2.8-44.3 0.6-3.7 0.5,1.8 0.6,6.7 1.6,30.3 1.1,13.2 1.7,11.6 0.6,2.2 0.5-0.5 1.1-13.9 1.7-40.3 0.5-7.5 0.6-0.5 2.8,47 0.5-0.1 0.6-4.7 2.2-24.5 1.1-3.7 0.5,0.5 0.6,3.2 2.8,58.1 0.5,3.7 1.1-18.6 1.7-49.1 0.5-7.2 0.6-1.2 1.7,12.4 1.1,13.1 2.2,50.7 0.5,2.8 0.6-7.5 1.6-58.8 0.6-13.2 0.6-3.3 2.2,31.7 0.5,0.8 1.1-4 0.6,1.3 1.7,14.4 0.5-2.5 1.7-32.3 0.5-4.2 0.6,5.6 1.6,49.2 0.6,9.9 0.5,1.1 1.7-20.4 0.6-1.5 1.6,9.2 0.6-3.1 2.2-32.2 0.5,1.3 1.7,15 0.6-1.9 1.6-25.6 0.6-6 0.5-1.2 0.6,3.3 3.3,42.8 0.6,1.9 0.5-1.2 1.7-13.4 0.5-0.8 2.2,27.3 0.6,1.6 0.6-4.6 1.6-29.4 0.6-3.9 0.5,1.6 1.7,16.2 0.5,1.2 0.6-1.6 2.2-9 0.6-3.7 2.2-32 0.5,1.9 0.6,11.1 2.2,69.7 0.6-0.2 2.2-57 0.5-7.8 0.6-2 2.2,14 2.8,38.3 0.5,2 1.1-16.2 1.7-47.7 0.5-8.7 0.6-0.8" fill="none" stroke="#8778b3" stroke-width="3.4" stroke-linejoin="round" stroke-linecap="round"/>
<text x="759.0" y="704.0" font-size="25" font-weight="bold" font-family="'Liberation Sans', sans-serif" fill="#111" transform="translate(759.0,704.0) scale(0.84,1) translate(-759.0,-704.0)">Y<tspan font-size="17" dy="5">3</tspan><tspan dy="-5">(x,t)</tspan></text>
<path d="M1474.6,722.0 V1103.0 M1463.6,1084.5 H1981.9" stroke="#5a5a5a" stroke-width="1.3" fill="none"/>
<path d="M1499.5,1084.5 v-3.6 M1524.4,1084.5 v-3.6 M1549.3,1084.5 v-3.6 M1574.2,1084.5 v-6.5 M1599.1,1084.5 v-3.6 M1624.0,1084.5 v-3.6 M1648.9,1084.5 v-3.6 M1673.8,1084.5 v-6.5 M1698.7,1084.5 v-3.6 M1723.6,1084.5 v-3.6 M1748.5,1084.5 v-3.6 M1773.4,1084.5 v-6.5 M1798.3,1084.5 v-3.6 M1823.2,1084.5 v-3.6 M1848.1,1084.5 v-3.6 M1873.0,1084.5 v-6.5 M1897.9,1084.5 v-3.6 M1922.8,1084.5 v-3.6 M1947.7,1084.5 v-3.6 M1972.6,1084.5 v-6.5 M1474.6,1070.5 h3.2 M1474.6,1053.4 h3.2 M1474.6,1036.3 h5.7 M1474.6,1019.2 h3.2 M1474.6,1002.1 h3.2 M1474.6,985.0 h3.2 M1474.6,967.9 h3.2 M1474.6,950.8 h5.7 M1474.6,933.7 h3.2 M1474.6,916.6 h3.2 M1474.6,899.4 h3.2 M1474.6,882.3 h3.2 M1474.6,865.2 h5.7 M1474.6,848.1 h3.2 M1474.6,831.0 h3.2 M1474.6,813.9 h3.2 M1474.6,796.8 h3.2 M1474.6,779.7 h5.7 M1474.6,762.6 h3.2 M1474.6,745.5 h3.2 M1474.6,728.4 h3.2 " stroke="#5a5a5a" stroke-width="1.1" fill="none"/>
<text x="1466.8" y="1051.8" font-size="43.3" font-weight="bold" stroke="#000" stroke-width="0.6" textLength="69.4" lengthAdjust="spacingAndGlyphs" text-anchor="end" fill="#000" font-family="'Liberation Sans', sans-serif">0.05</text>
<text x="1466.8" y="966.3" font-size="43.3" font-weight="bold" stroke="#000" stroke-width="0.6" textLength="69.4" lengthAdjust="spacingAndGlyphs" text-anchor="end" fill="#000" font-family="'Liberation Sans', sans-serif">0.10</text>
<text x="1466.8" y="880.7" font-size="43.3" font-weight="bold" stroke="#000" stroke-width="0.6" textLength="69.4" lengthAdjust="spacingAndGlyphs" text-anchor="end" fill="#000" font-family="'Liberation Sans', sans-serif">0.15</text>
<text x="1466.8" y="795.2" font-size="43.3" font-weight="bold" stroke="#000" stroke-width="0.6" textLength="69.4" lengthAdjust="spacingAndGlyphs" text-anchor="end" fill="#000" font-family="'Liberation Sans', sans-serif">0.20</text>
<text x="1574.2" y="1134.4" font-size="37.7" font-weight="bold" stroke="#000" stroke-width="0.6" textLength="19.0" lengthAdjust="spacingAndGlyphs" text-anchor="middle" fill="#000" font-family="'Liberation Sans', sans-serif">2</text>
<text x="1673.8" y="1134.4" font-size="37.7" font-weight="bold" stroke="#000" stroke-width="0.6" textLength="19.0" lengthAdjust="spacingAndGlyphs" text-anchor="middle" fill="#000" font-family="'Liberation Sans', sans-serif">4</text>
<text x="1773.4" y="1134.4" font-size="37.7" font-weight="bold" stroke="#000" stroke-width="0.6" textLength="19.0" lengthAdjust="spacingAndGlyphs" text-anchor="middle" fill="#000" font-family="'Liberation Sans', sans-serif">6</text>
<text x="1873.0" y="1134.4" font-size="37.7" font-weight="bold" stroke="#000" stroke-width="0.6" textLength="19.0" lengthAdjust="spacingAndGlyphs" text-anchor="middle" fill="#000" font-family="'Liberation Sans', sans-serif">8</text>
<text x="1972.6" y="1134.4" font-size="37.7" font-weight="bold" stroke="#000" stroke-width="0.6" textLength="38.0" lengthAdjust="spacingAndGlyphs" text-anchor="middle" fill="#000" font-family="'Liberation Sans', sans-serif">10</text>
<text x="1994.0" y="1091.0" font-size="24.0" font-weight="bold" stroke="#000" stroke-width="0.6" text-anchor="start" fill="#000" font-family="'Liberation Sans', sans-serif" transform="translate(1994.0,1091.0) scale(0.85,1) translate(-1994.0,-1091.0)">t</text>
<path d="M1474.6,1021.4l1-3 0.5-4.6 2-38.5 0.5,2.4 1.5,29.6 0.5,5.7 0.5,1.5 0.5-2.1 2-26.3 0.5,1.9 1.5,26 1,6.7 0.5,0.7 1.5,0.1 0.5,0.6 2,4.7 0.4-0.1 0.5-1 2-6.1 0.5-0.3 1,1 0.5,0.1 0.5-1.1 0.5-3.5 2-33 0.5-3.4 0.5,1.1 0.5,4.6 3,31.1 1,6.3 1,3.4 0.5,0.9 0.5,0.1 2.5-4.8 2,1.9 0.5-0.3 2-8.3 0.5,1 1.5,9.1 0.5,1.4 0.5-0.1 1-7.3 1.5-51.5 0.5-7.1 0.5,1.1 2,61.9 1,5.2 0.5,0.4 1.9-2.7 1.5,1.3 0.5,0.2 0.5-0.3 2.5-6.2 0.5,0.1 1,1.4 0.5,0.1 0.5-1.2 1-8 1.5-19.1 0.5-2.3 0.5,1.6 0.5,5.5 1.5,24.1 0.5,4.1 1,3.6 0.5,0.8 0.5-0.1 2.5-4.2 0.5,0.2 1.5,2.5 0.5,0.5 0.5-0.2 1-2.6 1.5-11.4 0.5-1 2,9.7 0.5,1 0.5-0.2 1.5-3.2 0.5,0.4 1.5,5 0.5,0.2 1-6.6 1.4-26.3 0.5-3.5 0.5,3.8 1.5,35.9 1.5,12.4 1,2.8 0.5-0.2 1-2.8 1.5-9.2 0.5-7.1 1.5-53.6 0.5-3 0.5-0.6 0.5,1.7 0.5,6.6 1.5,55.2 1,6.4 0.5,0.8 0.5-0.6 1-4 2-15.9 0.5-2.1 0.5-0.2 1,5.3 1.5,13.4 1.5,5.8 0.5,0.2 0.5-0.9 1-4.4 1.5-14.8 0.5-0.9 2,17.2 1,3.2 0.5,0.2 0.5-0.9 0.9-4.6 2-32.1 0.5-4.1 0.5,0.1 2.5,36.7 1.5,7.5 0.5,1 0.5,0.1 1.5-4.2 2.5-23.6 0.5,0.7 0.5,3.7 2,18.8 1.5,3.1 2,2.6 1,0.5 1-1.8 1-4.5 1.5-13.5 0.5-0.6 1.5,6.1 0.5,0.1 0.5-2.6 2-30.1 0.5-2.5 0.5,3.7 2,43.1 1,6.3 0.5,2 0.9,1.9 0.5,0.1 1-0.9 1-2.4 1.5-5.9 2-11.6 0.5-0.3 1,0.5 0.5-0.2 2-3.2 1,2.3 2,7.9 3,3.3 1,0.3 2-5.1 0.5,0.1 1.5,8.3 1.5,5.3 0.5,0.3 0.5-0.5 2-4.2 2,1 0.5-0.6 1-6.3 1.5-24.1 0.5-3.2 0.5,2 1.4,22.5 1,8.2 0.5,0.8 0.5-0.1 0.5-0.9 1.5-6.6 1-1.9 1,2.3 2.5,11 1,2.5 0.5,0.3 0.5-0.3 3-8.3 1-1.7 1-0.4 1,0.3 2,3.7 0.5,0.1 0.5-1.1 1-7.9 1.5-21 0.5-2 0.5,3.4 2,33 1,5.4 0.5,1.5 0.5,0.6 0.5,0.1 1.5-2.5 1.5-7.7 1.5-32 0.5-8.2 0.4-2.1 2,40.4 1,8.3 0.5,1.7 0.5,0.4 0.5-0.5 2-6.2 3-20.6 0.5,0.6 0.5,3.8 1.5,18.2 1,5.3 1,2.5 0.5-0.1 1-1.9 2-7.5 2.5-35.3 0.5-4.2 0.5-0.8 0.5,0.2 0.5,1.1 0.5,5.5 2,36.3 1.5,10.1 1,3.3 0.5,0.1 0.5-1 3.5-13.3 1-6.9 1.4-17.8 0.5-4.3 0.5-1.3 0.5,2.2 2,19.4 0.5,1.2 0.5-0.6 1-3.7 0.5-0.2 2,16.4 1,4.6 0.5,0.8 0.5-0.4 2.5-7.4 0.5,0.1 2,2.3 2-0.9 1.5-0.1 1-1.2 1-5.7 2-18.6 0.5-2.1 0.5-0.6 1,2.3 0.5,2.8 2.5,24.8 1,5.3 1,2.2 0.5-0.3 2-4.6 1.4-1.3 1-2.2 2-23.6 0.5-4.1 0.5-0.2 2.5,25.3 0.5,1.7 2,2.1 1.5,4.2 1,1.3 1-2.1 1-4.7 2-15.7 1.5-5.5 1-1.9 1,4.2 2,21.8 1.5,6.9 1,1.4 0.5-0.1 1-1.9 1.5-6.4 2-22.2 0.5-2.4 0.5,1 2.5,20.3 0.4,1.1 2-0.2 1.5,1.5 0.5-0.1 0.5-0.8 2.5-14.7 0.5,0.7 0.5,3.2 1.5,13.4 1.5,5.8 1,1.2 0.5-0.2 1-1.8 1.5-4.6 4.5-19.9 1-2.4 1,4.5 1.5,15.6 0.5,2.7 1,2.7 0.5,0.2 2-2 1.5,0.2 1-0.8 2-6.9 0.5-0.1 1.4,6.1 1,1.6 0.5-0.4 2.5-12.6 2.5,12.8 0.5,0.6 0.5,0 1.5-0.9 2.5,4.1 0.5-0.4 1-4.1 1.5-20 0.5-4.4 0.5-0.6 2,21.8 0.5,4 1,3.5 0.5,0.9 1,0.3 1.5-2.7 2.5-15 0.5-0.2 2,15.5 1.5,6.2 0.5,0.1 0.5-1.1 1-4.9 1.5-15.4 0.9-6.2 0.5,0.3 0.5,2.1 3,15.8 2,5.2 1,0.9 1.5-3.4 2-11.3 0.5,0.4 2,11.1 1.5,2.5 1-0.2 3-1.7 2.5-4.7 0.5-0.4 2,0.6 2-1.1 0.5,0 2,2.4 2.5,2 1.5,2.4 2.4,2.3 2,3.3 1,0.8 0.5-0.6 1-3.2 1.5-11.4 0.5-2.8 0.5-0.6 2.5,10.2 0.5-0.1 0.5-1 1.5-4.3 0.5,0 2.5,7.1 4,8.7 0.5,0.2 0.5-0.5 3-7.8 0.5-0.2 2.5,2.6 2,0.7 1-0.2 1-1.8 2-6.6 0.9-1.1 1,1 1,2.3 3,12.2 1.5,3.3 1-0.9 2-4.8 3.5-7.1 1-1.3 1,0.5 3,3.5 1.5,5 1.5,3.5 0.5,0.3 1-1.3 2-6.5 0.5-0.2 2.5,5.3 4,1.6 0.9-1.1 1.5-5.2 1-1.5 1,1.4 4.5,10.8 1.5,0 0.5-0.5 0.5-2.1 1.5-14.3 0.5-3.7 0.5-1.1 0.5,1.5 2,13.2 1,3.2" fill="none" stroke="#8fb032" stroke-width="2.6" stroke-linejoin="round" stroke-linecap="round"/>
<path d="M1474.6,971.7l1-7.5 0.5-13.9 2-137.4 0.5,8.2 1.5,103.5 0.5,18.5 0.5,4.5 1-27.2 1.5-74.5 0.5,6.5 2,103.9 1,4.6 1.5-1.2 0.5,0.9 2,9.9 0.4-0.4 0.5-2.2 2-13.7 0.5-0.9 1,2.6 0.5,0.1 0.5-3.2 1-33.4 1.5-93.8 0.5-12.4 0.5,3.8 0.5,16.3 2,80.3 2,46.5 1.5,9.4 0.5,0.1 0.5-1.6 1.5-7.9 0.5-1 0.5,0.5 1,2.9 0.5,0.6 0.5-0.8 0.5-2.3 1.5-22.9 0.5,3.3 1,21 1,7.7 0.5-0.3 0.5-4.3 0.5-14.8 1.5-182.7 0.5-25.5 0.5,3.5 2,217.2 1,11.3 0.5,1 1.9-6.1 0.5,0.3 1,2.2 0.5,0.4 0.5-0.7 1-4.5 1.5-12.5 0.5,0 1,4.3 0.5-0.1 0.5-3.9 1-27.4 1.5-68.1 0.5-8.4 0.5,5.8 0.5,19.3 1.5,82.4 0.5,11.6 1,7.8 0.5,1.5 0.5-0.2 2.5-9.5 0.5,0.4 2,6.2 0.5-0.5 0.5-2.1 0.5-4 1.5-38 0.5-3.9 2,32.2 0.5,3.1 0.5-0.8 1.5-11.4 0.5,1.2 1.5,15.9 0.5,0.2 1-21.9 1.4-93.5 0.5-12.8 0.5,13.5 1.5,122.9 1.5,26.4 1,6 0.5-0.5 0.5-2.4 1.5-15.6 1-28.6 1.5-190.2 0.5-7.5 0.5-1.7 0.5,4.2 0.5,19.9 1.5,193 1,13.8 0.5,1.7 1-5.1 1-11 1.5-44.6 0.5-7.3 0.5-0.8 1,18 1,33.4 1.5,18.4 0.5,2.8 0.5,0.5 1.5-11.4 1.5-47.9 0.5-3.1 1.5,47.4 0.5,7 1,6.9 0.5,0.3 0.5-1.8 0.9-10.5 2-111.5 0.5-14.7 0.5-0.1 2.5,127.1 1,13.8 1,5.8 0.5,0.3 1-4.7 1-11.1 2-70.9 0.5,2.1 0.5,12.9 2,62.1 1,5 2.5,7.2 0.5,1 0.5,0.2 0.5-1.2 1-6.5 0.5-6.7 1.5-45.2 0.5-2.3 1.5,20.7 0.5,0.1 0.5-8.9 2-107.5 0.5-9.2 0.5,13.2 2,148.3 1,13.4 0.5,4.3 0.9,4 0.5,0.3 0.5-0.6 1-3.5 2-15.4 2-37.1 0.5-1.3 1,1.7 0.5-0.7 1.5-10 0.5-1.4 1,7.7 2,26.4 3,10.4 0.5,1.1 0.5-0.4 2-16.7 0.5,0.4 1.5,25.1 1.5,11.2 0.5,0.7 0.5-1.1 2-8.8 0.5-0.1 1.5,2.2 0.5-1.2 0.5-3.7 0.5-14.7 1.5-83.3 0.5-11.4 0.5,7 1.4,78 1,26.2 0.5,1.9 0.5-0.2 0.5-2.6 1.5-20.9 0.5-4.9 0.5-1.6 1,7.4 1.5,23.9 2,12.1 0.5,0.8 1-2.5 1.5-8.7 1.5-13.1 1-2.9 1-0.4 0.5,0.9 2,11.2 0.5,0.3 1-12.4 2-90.5 0.5-6.9 0.5,11.7 1.5,96.3 0.5,12.3 1.5,14.3 0.5,1.4 0.5,0.1 0.5-0.9 1.5-8 1-13.4 2-138.4 0.4-7.2 2,139.4 0.5,14.6 1,9.3 0.5,1 0.5-1.1 2-13.2 3-68.8 0.5,2.2 0.5,12.9 1.5,58.1 1,11 0.5,3.5 0.5,1.6 0.5-0.2 1-4 1.5-10.2 1-21.3 2-105.6 0.5-14.1 0.5-1.7 0.5,0.5 0.5,2.8 0.5,18.6 2,121.3 1.5,20.9 1,6.7 0.5,0.1 0.5-2 3.5-28.2 1-21.8 1.9-75.7 0.5-4.6 2.5,73.7 0.5,4.1 0.5-2.3 1-12.3 0.5-0.6 1.5,41.6 1,12.9 1,5.5 0.5-0.9 2.5-15.3 0.5,0 2,4.8 0.5-0.1 1.5-1.8 1.5-0.2 0.5-0.6 0.5-2.1 1-17.3 2-62.7 0.5-7.3 0.5-2.1 0.5,2.2 1,15.1 2,69.1 1.5,19.5 1,4.5 0.5-0.6 2-9.5 1.4-2.7 1-4.6 1-27.8 1-47.9 0.5-14.2 0.5-0.7 2,72.9 1,15.3 2,4.6 2,10.5 0.5,0.6 1-4.3 1-9.7 2-50 1.5-18.8 1-6.6 0.5,3.4 0.5,10.7 1.5,58.2 1.5,19 0.5,3.4 1,2.8 0.5-0.4 1-3.8 1.5-13 2.5-77.4 0.5,3.2 1.5,46.6 1,19.1 0.4,2.9 0.5,0.4 1-1.3 0.5,0.2 1.5,3.8 0.5-0.2 0.5-2.3 2.5-46.6 0.5,2.1 2,50 1.5,11.6 1,2.1 0.5-0.5 1-3.5 2-13.1 4-57.7 1-8.3 1,14.9 1.5,49 0.5,6.4 1,5.1 0.5,0.4 2-4 1.5,0.2 1-1.6 0.5-2.2 1.5-16.9 0.5-0.5 1.4,17.5 1,3.3 0.5-0.9 0.5-2.8 1.5-30.3 0.5-4.2 0.5,4 1.5,29.9 0.5,3.3 0.5,1.3 0.5,0 1.5-2 0.5,0.8 1.5,6.3 0.5,0.9 0.5-1 1-8.2 1.5-63 0.5-14.7 0.5-2.1 2.5,81.2 1,6.7 1,2.4 0.5-0.1 0.5-1 1.5-7.7 2-40.4 0.5-0.8 2,44.8 1.5,11.9 0.5,0.1 0.5-2.2 1.5-17.6 1-36.6 0.9-20.8 0.5,1.1 0.5,6.8 1.5,29.6 1.5,19.7 1,7 1.5,5.6 0.5,0.2 0.5-1 1-5.5 2-33.7 0.5,1.4 2,32.4 1,4 0.5,0.7 0.5,0 3.5-3.2 2-10.1 1-3.1 2,2.2 2-3.2 0.5,0.4 2,7.6 2.5,6.3 1.5,6.8 2.4,5.1 2,6.9 1,1.8 1-3.1 1-9.1 1-26.2 0.5-9 0.5-1.8 2,29.5 0.5,3.1 0.5-0.3 0.5-3 1.5-13 0.5,0.1 2.5,22 1.5,8.9 2.5,11.1 0.5,0.4 1-2.4 2.5-14.9 0.5-0.6 2.5,6.7 2,1.5 0.5-0.1 0.5-0.8 1-5 2-20.8 0.9-4 1,3 1,7.2 2,24.5 1.5,9.3 1,2.9 0.5-0.3 0.5-1.3 2.5-11.1 3.5-21.2 0.5-1.5 0.5,0 3.5,11.4 1.5,13.7 1,4.7 1,2 0.5-0.7 1-4.1 1.5-14.2 0.5-0.9 1.5,10.2 1,4.4 3.5,2.7 1-0.8 0.9-5.7 1.5-14.8 0.5-1.2 0.5,1.3 3.5,21.4 1.5,7.1 1,2.2 0.5-1 1-6.3 0.5-8 1-34 0.5-12.1 0.5-3.6 2.5,45.7 1,8.9" fill="none" stroke="#eb6235" stroke-width="2.8" stroke-linejoin="round" stroke-linecap="round"/>
<path d="M1474.6,992.2l1-6.1 0.5-10.2 2-93.3 0.5,5.4 1.5,69.8 0.5,12.6 0.5,3.2 1-18.9 1.5-50.6 0.5,4.4 2,70.8 1,3.7 1.5-1 0.5,0.8 2,8 0.4-0.2 0.5-1.9 2-11 0.5-0.7 1,2 0.5,0 0.5-2.3 1-23.1 1.5-63.3 0.5-8.3 0.5,2.5 3.5,84.8 0.5,8.5 1,8.1 1,4.3 0.5,0.1 2-7.8 0.5-0.8 0.5,0.4 1,2.4 0.5,0.5 0.5-0.6 0.5-1.9 1.5-16.1 0.5,2.3 1,15 1,6.3 0.5-0.2 0.5-3.5 0.5-11 1.5-123.4 0.5-17.2 0.5,2.5 2,147.2 1,9.3 0.5,0.8 1.9-5 1.5,2.1 0.5,0.3 0.5-0.6 1-3.6 1.5-9 0.5-0.1 1,3.1 0.5,0 0.5-2.8 1-18.7 1.5-46 0.5-5.7 0.5,4 0.5,13 1.5,56.3 0.5,8.5 1,6.4 0.5,1.2 0.5-0.1 2.5-7.8 0.5,0.4 2,5.1 0.5-0.4 0.5-1.7 0.5-3.2 1.5-26.2 0.5-2.6 2,22.2 0.5,2.1 0.5-0.5 1.5-7.8 0.5,0.9 1.5,11.1 0.5,0.2 1-15.2 1.4-63.1 0.5-8.6 0.5,9.1 1.5,84 1.5,21.6 1,4.9 0.5-0.4 1-5 1.5-16.4 0.5-14.8 1.5-128.5 0.5-5.8 0.5-1.2 0.5,3.2 0.5,14.2 1.5,130.8 1,11.3 0.5,1.4 1-4.2 1-8.8 1.5-30.6 0.5-4.9 0.5-0.5 1,12.4 1.5,29.7 1.5,10.1 0.5,0.5 0.5-1.6 1-7.7 1.5-33.3 0.5-2.1 2,38.2 1,5.7 0.5,0.3 0.5-1.5 0.9-8.3 2-75.7 0.5-9.8 0.5,0 2.5,86.5 1,10.8 1,4.8 0.5,0.3 1.5-7.4 0.5-5.2 2-48.4 0.5,1.5 0.5,8.7 2,43.1 1,4.1 2.5,5.9 0.5,0.9 0.5,0.1 0.5-1 1.5-10.4 1.5-31 0.5-1.5 1.5,14.3 0.5,0.1 0.5-6.1 2-72.3 0.5-6.1 0.5,8.9 2,101.1 1,11 0.5,3.5 0.9,3.3 0.5,0.3 1-1.6 1.5-7.3 1-7 2-25.8 0.5-0.9 1,1.2 0.5-0.4 1.5-6.8 0.5-0.9 1,5.3 2,18.1 3,7.5 0.5,0.7 0.5-0.3 2-11.5 0.5,0.3 1.5,17.9 1.5,9.1 0.5,0.7 0.5-0.9 2-7.2 0.5-0.1 1.5,1.8 0.5-0.9 0.5-3 0.5-10.3 1.5-56.5 0.5-7.6 0.5,4.7 1.4,52.9 1,18.3 0.5,1.5 0.5-0.1 0.5-2 1.5-14.5 0.5-3.3 0.5-1.1 1,5.1 1.5,16.9 2,9.9 0.5,0.7 1-2 3-16.5 1-1.9 1-0.3 0.5,0.6 2,8 0.5,0.2 1-8.6 2-61.4 0.5-4.6 0.5,7.9 1.5,65.7 0.5,9.2 1.5,11.7 0.5,1.2 0.5,0 0.5-0.7 1.5-6.5 1-10.6 1.5-74.3 0.5-19.7 0.4-4.9 2,94.6 0.5,10.8 1,7.7 0.5,0.8 0.5-0.9 2-10.7 3-47.1 0.5,1.4 0.5,8.8 1.5,40.4 1,9.1 0.5,2.8 0.5,1.3 0.5-0.1 2-8.6 1-7.8 0.5-10.4 2-71.6 0.5-9.7 0.5-1.3 0.5,0.3 0.5,2.2 0.5,12.6 2,83.2 1.5,17.1 1,5.5 0.5,0.1 0.5-1.6 3.5-22.8 1-15.2 1.9-51.5 0.5-3 0.5,5 2,45 0.5,2.9 0.5-1.6 1-8.4 0.5-0.4 1.5,28.9 1,10.3 1,4.5 0.5-0.7 2.5-12.4 0.5,0 2,3.9 2-1.6 1.5-0.1 1-2.2 1-12.2 2-42.8 0.5-4.9 0.5-1.5 0.5,1.5 1,10.3 2.5,54.3 1,8.8 1,3.7 0.5-0.6 2-7.7 1.4-2.2 1-3.7 2-52.4 0.5-9.7 0.5-0.4 2,49.8 1,10.9 2,3.6 2,8.6 0.5,0.5 0.5-1.1 1.5-10.3 2-34.7 1.5-12.8 1-4.5 0.5,2.4 0.5,7.2 2,46.8 1.5,11.4 1,2.2 0.5-0.3 1-3.1 1.5-10.6 2.5-53.9 0.5,2.2 1.5,31.9 1,13.4 0.4,2.1 0.5,0.3 1-1 0.5,0.2 1.5,2.8 0.5-0.2 0.5-1.6 2.5-32.4 0.5,1.5 0.5,7.2 1.5,27.9 1.5,9.5 1,1.8 0.5-0.4 1-2.9 2-10.6 4-40 1-5.6 1,10.1 1.5,34 0.5,4.9 1,4.2 0.5,0.3 2-3.3 1.5,0.2 1-1.3 2-13.8 0.5-0.3 1.4,12.4 1,2.7 0.5-0.7 0.5-2.3 1.5-21.3 0.5-2.8 0.5,2.7 1.5,21.1 0.5,2.5 0.5,1 0.5,0 1.5-1.5 0.5,0.6 1.5,5.1 0.5,0.8 0.5-0.8 1-6.7 1.5-43.7 0.5-10 0.5-1.4 2,48.5 1,10.9 0.5,2.3 1,2 0.5-0.1 0.5-0.8 1-3.6 1-8.4 1.5-22.6 0.5-0.5 1.5,25.9 1,10.2 1,5.4 0.5,0.1 0.5-1.8 1-7.8 2-41.4 0.4-4.5 0.5,0.7 0.5,4.7 1.5,20.4 1.5,13.8 1,5.2 1.5,4.6 0.5,0.2 0.5-0.8 1-4.5 2-23.7 0.5,0.9 2,22.9 1,3.3 1,0.5 3.5-2.6 2-7.1 1-2.1 2,1.7 2-2 0.5,0.3 2,5.6 2.5,4.6 1.5,5.1 2.4,4.2 2,5.7 1,1.5 1-2.6 1-7.1 1-18.2 0.5-6.1 0.5-1.2 2,20.6 0.5,2.2 0.5-0.2 0.5-2 1.5-8.8 0.5,0 3,17.9 3,12.1 1,1.7 1-2 2.5-11.3 0.5-0.4 2.5,4.9 2,1.1 1-0.6 1-3.5 2-14.4 0.9-2.7 0.5,0.6 1,3.6 2.5,20.2 2,8.9 1.5-0.3 6.5-24.7 0.5,0 0.5,1 3,7 1.5,9.7 1.5,5.1 0.5,0.4 1-2 2-12 0.5-0.6 2.5,10.3 3.5,2.2 1-0.6 0.9-4.2 1.5-10.2 0.5-0.9 0.5,0.9 4.5,18.9 2.5,0 1-7.9 1-23.4 0.5-8.2 0.5-2.5 2.5,31.4 1,6.3" fill="none" stroke="#8778b3" stroke-width="2.8" stroke-linejoin="round" stroke-linecap="round"/>
<text x="1442.0" y="704.0" font-size="25" font-weight="bold" font-family="'Liberation Sans', sans-serif" fill="#111" transform="translate(1442.0,704.0) scale(0.84,1) translate(-1442.0,-704.0)">Y<tspan font-size="17" dy="5">3</tspan><tspan dy="-5">(x,t)</tspan></text>
<g font-family="'Liberation Serif', serif" fill="#111" stroke="#111" stroke-width="0.22">
<text x="5.1" y="550.0" font-size="28.5" textLength="39.9" lengthAdjust="spacingAndGlyphs" >(a)</text>
<text x="62.0" y="550.0" font-size="28.5" textLength="42.8" lengthAdjust="spacingAndGlyphs" >3D</text>
<text x="119.7" y="550.0" font-size="28.5" textLength="59.2" lengthAdjust="spacingAndGlyphs" >plot</text>
<text x="193.8" y="550.0" font-size="28.5" textLength="40.0" lengthAdjust="spacingAndGlyphs" >for</text>
<text x="255.0" y="550.0" font-size="28.5" textLength="18.0" lengthAdjust="spacingAndGlyphs" >&#933;</text>
<text x="294.4" y="550.0" font-size="28.5" textLength="71.6" lengthAdjust="spacingAndGlyphs" >(<tspan font-style="italic">x</tspan>,&#8201;<tspan font-style="italic">t</tspan>)</text>
<text x="384.5" y="550.0" font-size="28.5" textLength="77.5" lengthAdjust="spacingAndGlyphs" >when</text>
<text x="476.0" y="550.0" font-size="28.5" textLength="15.5" lengthAdjust="spacingAndGlyphs" ><tspan font-style="italic">&#957;</tspan></text>
<text x="507.0" y="550.0" font-size="28.5" textLength="25.0" lengthAdjust="spacingAndGlyphs" >=</text>
<text x="277.5" y="555.0" font-size="19" textLength="11.2" lengthAdjust="spacingAndGlyphs" >3</text>
<text x="4.3" y="593.0" font-size="28.5" textLength="15.5" lengthAdjust="spacingAndGlyphs" >0</text>
<text x="714.0" y="550.0" font-size="28.5" textLength="39.9" lengthAdjust="spacingAndGlyphs" >(b)</text>
<text x="770.9" y="550.0" font-size="28.5" textLength="42.8" lengthAdjust="spacingAndGlyphs" >3D</text>
<text x="828.6" y="550.0" font-size="28.5" textLength="59.2" lengthAdjust="spacingAndGlyphs" >plot</text>
<text x="902.7" y="550.0" font-size="28.5" textLength="40.0" lengthAdjust="spacingAndGlyphs" >for</text>
<text x="963.9" y="550.0" font-size="28.5" textLength="18.0" lengthAdjust="spacingAndGlyphs" >&#933;</text>
<text x="1003.3" y="550.0" font-size="28.5" textLength="71.6" lengthAdjust="spacingAndGlyphs" >(<tspan font-style="italic">x</tspan>,&#8201;<tspan font-style="italic">t</tspan>)</text>
<text x="1093.4" y="550.0" font-size="28.5" textLength="77.5" lengthAdjust="spacingAndGlyphs" >when</text>
<text x="1184.9" y="550.0" font-size="28.5" textLength="15.5" lengthAdjust="spacingAndGlyphs" ><tspan font-style="italic">&#957;</tspan></text>
<text x="1215.9" y="550.0" font-size="28.5" textLength="25.0" lengthAdjust="spacingAndGlyphs" >=</text>
<text x="986.4" y="555.0" font-size="19" textLength="11.2" lengthAdjust="spacingAndGlyphs" >3</text>
<text x="713.2" y="593.0" font-size="28.5" textLength="44.5" lengthAdjust="spacingAndGlyphs" >0.3</text>
<text x="1397.5" y="550.0" font-size="28.5" textLength="39.9" lengthAdjust="spacingAndGlyphs" >(c)</text>
<text x="1454.4" y="550.0" font-size="28.5" textLength="42.8" lengthAdjust="spacingAndGlyphs" >3D</text>
<text x="1512.1" y="550.0" font-size="28.5" textLength="59.2" lengthAdjust="spacingAndGlyphs" >plot</text>
<text x="1586.2" y="550.0" font-size="28.5" textLength="40.0" lengthAdjust="spacingAndGlyphs" >for</text>
<text x="1647.4" y="550.0" font-size="28.5" textLength="18.0" lengthAdjust="spacingAndGlyphs" >&#933;</text>
<text x="1686.8" y="550.0" font-size="28.5" textLength="71.6" lengthAdjust="spacingAndGlyphs" >(<tspan font-style="italic">x</tspan>,&#8201;<tspan font-style="italic">t</tspan>)</text>
<text x="1776.9" y="550.0" font-size="28.5" textLength="77.5" lengthAdjust="spacingAndGlyphs" >when</text>
<text x="1868.4" y="550.0" font-size="28.5" textLength="15.5" lengthAdjust="spacingAndGlyphs" ><tspan font-style="italic">&#957;</tspan></text>
<text x="1899.4" y="550.0" font-size="28.5" textLength="25.0" lengthAdjust="spacingAndGlyphs" >=</text>
<text x="1669.9" y="555.0" font-size="19" textLength="11.2" lengthAdjust="spacingAndGlyphs" >3</text>
<text x="1396.7" y="593.0" font-size="28.5" textLength="44.5" lengthAdjust="spacingAndGlyphs" >0.5</text>
<text x="5.1" y="1198.0" font-size="28.5" textLength="39.9" lengthAdjust="spacingAndGlyphs" >(d)</text>
<text x="62.0" y="1198.0" font-size="28.5" textLength="42.8" lengthAdjust="spacingAndGlyphs" >2D</text>
<text x="119.7" y="1198.0" font-size="28.5" textLength="59.2" lengthAdjust="spacingAndGlyphs" >plot</text>
<text x="193.8" y="1198.0" font-size="28.5" textLength="40.0" lengthAdjust="spacingAndGlyphs" >for</text>
<text x="255.0" y="1198.0" font-size="28.5" textLength="18.0" lengthAdjust="spacingAndGlyphs" >&#933;</text>
<text x="294.4" y="1198.0" font-size="28.5" textLength="71.6" lengthAdjust="spacingAndGlyphs" >(<tspan font-style="italic">x</tspan>,&#8201;<tspan font-style="italic">t</tspan>)</text>
<text x="384.5" y="1198.0" font-size="28.5" textLength="77.5" lengthAdjust="spacingAndGlyphs" >when</text>
<text x="476.0" y="1198.0" font-size="28.5" textLength="15.5" lengthAdjust="spacingAndGlyphs" ><tspan font-style="italic">&#957;</tspan></text>
<text x="507.0" y="1198.0" font-size="28.5" textLength="25.0" lengthAdjust="spacingAndGlyphs" >=</text>
<text x="277.5" y="1203.0" font-size="19" textLength="11.2" lengthAdjust="spacingAndGlyphs" >3</text>
<text x="4.3" y="1241.0" font-size="28.5" textLength="15.5" lengthAdjust="spacingAndGlyphs" >0</text>
<text x="714.0" y="1198.0" font-size="28.5" textLength="39.9" lengthAdjust="spacingAndGlyphs" >(e)</text>
<text x="770.9" y="1198.0" font-size="28.5" textLength="42.8" lengthAdjust="spacingAndGlyphs" >2D</text>
<text x="828.6" y="1198.0" font-size="28.5" textLength="59.2" lengthAdjust="spacingAndGlyphs" >plot</text>
<text x="902.7" y="1198.0" font-size="28.5" textLength="40.0" lengthAdjust="spacingAndGlyphs" >for</text>
<text x="963.9" y="1198.0" font-size="28.5" textLength="18.0" lengthAdjust="spacingAndGlyphs" >&#933;</text>
<text x="1003.3" y="1198.0" font-size="28.5" textLength="71.6" lengthAdjust="spacingAndGlyphs" >(<tspan font-style="italic">x</tspan>,&#8201;<tspan font-style="italic">t</tspan>)</text>
<text x="1093.4" y="1198.0" font-size="28.5" textLength="77.5" lengthAdjust="spacingAndGlyphs" >when</text>
<text x="1184.9" y="1198.0" font-size="28.5" textLength="15.5" lengthAdjust="spacingAndGlyphs" ><tspan font-style="italic">&#957;</tspan></text>
<text x="1215.9" y="1198.0" font-size="28.5" textLength="25.0" lengthAdjust="spacingAndGlyphs" >=</text>
<text x="986.4" y="1203.0" font-size="19" textLength="11.2" lengthAdjust="spacingAndGlyphs" >3</text>
<text x="713.2" y="1241.0" font-size="28.5" textLength="44.5" lengthAdjust="spacingAndGlyphs" >0.3</text>
<text x="1397.5" y="1198.0" font-size="28.5" textLength="39.9" lengthAdjust="spacingAndGlyphs" >(f)</text>
<text x="1454.4" y="1198.0" font-size="28.5" textLength="42.8" lengthAdjust="spacingAndGlyphs" >2D</text>
<text x="1512.1" y="1198.0" font-size="28.5" textLength="59.2" lengthAdjust="spacingAndGlyphs" >plot</text>
<text x="1586.2" y="1198.0" font-size="28.5" textLength="40.0" lengthAdjust="spacingAndGlyphs" >for</text>
<text x="1647.4" y="1198.0" font-size="28.5" textLength="18.0" lengthAdjust="spacingAndGlyphs" >&#933;</text>
<text x="1686.8" y="1198.0" font-size="28.5" textLength="71.6" lengthAdjust="spacingAndGlyphs" >(<tspan font-style="italic">x</tspan>,&#8201;<tspan font-style="italic">t</tspan>)</text>
<text x="1776.9" y="1198.0" font-size="28.5" textLength="77.5" lengthAdjust="spacingAndGlyphs" >when</text>
<text x="1868.4" y="1198.0" font-size="28.5" textLength="15.5" lengthAdjust="spacingAndGlyphs" ><tspan font-style="italic">&#957;</tspan></text>
<text x="1899.4" y="1198.0" font-size="28.5" textLength="25.0" lengthAdjust="spacingAndGlyphs" >=</text>
<text x="1669.9" y="1203.0" font-size="19" textLength="11.2" lengthAdjust="spacingAndGlyphs" >3</text>
<text x="1396.7" y="1241.0" font-size="28.5" textLength="44.5" lengthAdjust="spacingAndGlyphs" >0.5</text>
<text x="5.0" y="1831.0" font-size="28.5" textLength="40.0" lengthAdjust="spacingAndGlyphs" >(g)</text>
<text x="60.6" y="1831.0" font-size="28.5" textLength="123.9" lengthAdjust="spacingAndGlyphs" >Contour</text>
<text x="198.6" y="1831.0" font-size="28.5" textLength="57.7" lengthAdjust="spacingAndGlyphs" >plot</text>
<text x="269.0" y="1831.0" font-size="28.5" textLength="41.0" lengthAdjust="spacingAndGlyphs" >for</text>
<text x="317.0" y="1831.0" font-size="28.5" textLength="24.0" lengthAdjust="spacingAndGlyphs" >&#933;</text>
<text x="344.5" y="1836.0" font-size="19" textLength="10.9" lengthAdjust="spacingAndGlyphs" >3</text>
<text x="362.0" y="1831.0" font-size="28.5" textLength="70.5" lengthAdjust="spacingAndGlyphs" >(<tspan font-style="italic">x</tspan>,&#8201;<tspan font-style="italic">t</tspan>)</text>
<text x="453.5" y="1831.0" font-size="28.5" textLength="78.9" lengthAdjust="spacingAndGlyphs" >when</text>
<text x="4.2" y="1873.5" font-size="28.5" textLength="18.3" lengthAdjust="spacingAndGlyphs" ><tspan font-style="italic">&#957;</tspan></text>
<text x="35.0" y="1873.5" font-size="28.5" textLength="24.0" lengthAdjust="spacingAndGlyphs" >=</text>
<text x="71.8" y="1873.5" font-size="28.5" textLength="15.5" lengthAdjust="spacingAndGlyphs" >0</text>
<text x="642.8" y="1831.0" font-size="28.5" textLength="42.2" lengthAdjust="spacingAndGlyphs" >(h)</text>
<text x="702.4" y="1831.0" font-size="28.5" textLength="126.7" lengthAdjust="spacingAndGlyphs" >Contour</text>
<text x="843.5" y="1831.0" font-size="28.5" textLength="58.8" lengthAdjust="spacingAndGlyphs" >plot</text>
<text x="918.1" y="1831.0" font-size="28.5" textLength="40.8" lengthAdjust="spacingAndGlyphs" >for</text>
<text x="974.7" y="1831.0" font-size="28.5" textLength="24.1" lengthAdjust="spacingAndGlyphs" >&#933;</text>
<text x="1002.3" y="1836.0" font-size="19" textLength="10.9" lengthAdjust="spacingAndGlyphs" >3</text>
<text x="1020.7" y="1831.0" font-size="28.5" textLength="70.2" lengthAdjust="spacingAndGlyphs" >(<tspan font-style="italic">x</tspan>,&#8201;<tspan font-style="italic">t</tspan>)</text>
<text x="1110.5" y="1831.0" font-size="28.5" textLength="77.0" lengthAdjust="spacingAndGlyphs" >when</text>
<text x="642.0" y="1873.5" font-size="28.5" textLength="16.6" lengthAdjust="spacingAndGlyphs" ><tspan font-style="italic">&#957;</tspan></text>
<text x="672.2" y="1873.5" font-size="28.5" textLength="24.2" lengthAdjust="spacingAndGlyphs" >=</text>
<text x="708.4" y="1873.5" font-size="28.5" textLength="44.6" lengthAdjust="spacingAndGlyphs" >0.3</text>
<text x="1293.6" y="1831.0" font-size="28.5" textLength="33.2" lengthAdjust="spacingAndGlyphs" >(i)</text>
<text x="1343.4" y="1831.0" font-size="28.5" textLength="125.2" lengthAdjust="spacingAndGlyphs" >Contour</text>
<text x="1481.6" y="1831.0" font-size="28.5" textLength="59.4" lengthAdjust="spacingAndGlyphs" >plot</text>
<text x="1555.3" y="1831.0" font-size="28.5" textLength="40.1" lengthAdjust="spacingAndGlyphs" >for</text>
<text x="1607.5" y="1831.0" font-size="28.5" textLength="22.5" lengthAdjust="spacingAndGlyphs" >&#933;</text>
<text x="1637.7" y="1836.0" font-size="19" textLength="11.1" lengthAdjust="spacingAndGlyphs" >3</text>
<text x="1654.3" y="1831.0" font-size="28.5" textLength="71.7" lengthAdjust="spacingAndGlyphs" >(<tspan font-style="italic">x</tspan>,&#8201;<tspan font-style="italic">t</tspan>)</text>
<text x="1743.3" y="1831.0" font-size="28.5" textLength="78.5" lengthAdjust="spacingAndGlyphs" >when</text>
<text x="1293.6" y="1873.5" font-size="28.5" textLength="16.4" lengthAdjust="spacingAndGlyphs" ><tspan font-style="italic">&#957;</tspan></text>
<text x="1322.0" y="1873.5" font-size="28.5" textLength="26.0" lengthAdjust="spacingAndGlyphs" >=</text>
<text x="1361.0" y="1873.5" font-size="28.5" textLength="42.8" lengthAdjust="spacingAndGlyphs" >0.5</text>
</g>
</svg></body></html>
